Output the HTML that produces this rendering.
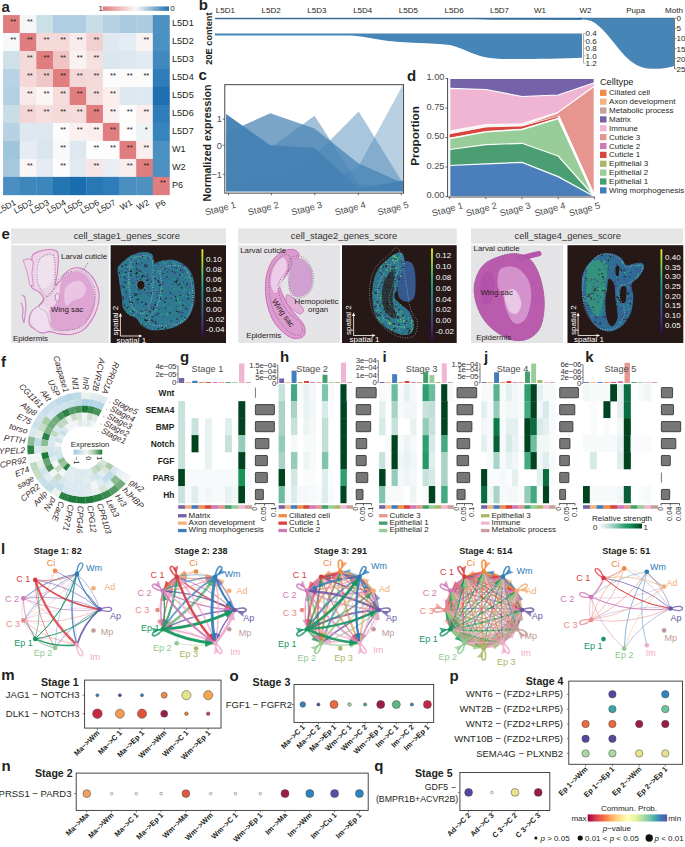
<!DOCTYPE html>
<html><head><meta charset="utf-8"><style>
*{margin:0;padding:0}
html,body{width:685px;height:847px;overflow:hidden;background:#fff}
svg{display:block;font-family:"Liberation Sans",sans-serif}
text{fill:#231f20}
.lab{font-size:15px;font-weight:bold;fill:#231f20}
.t9{font-size:9.3px}
.t8{font-size:8px}
.t7{font-size:7px}
.t6{font-size:6.5px}
.st{font-size:7.5px;fill:#222}
.b8{font-size:9.2px;font-weight:bold}
.b9{font-size:9px;font-weight:bold}
.b11{font-size:10.7px;font-weight:bold}
.t9g{font-size:9.3px;fill:#4d4d4d}
.t10g{font-size:9.8px;fill:#4d4d4d}
.t8g{font-size:8px;fill:#4d4d4d}
.gi{font-size:8.4px;font-style:italic;fill:#3a2a2a}
.t78{font-size:7.8px}
.t8c{font-size:7.8px;fill:#333;letter-spacing:-0.25px}
.t91{font-size:9.2px;fill:#4d4d4d}
.b84{font-size:8.4px;font-weight:bold}
.nl{font-size:9px}
.b91{font-size:9.1px;font-weight:bold}
.b75{font-size:7.4px;font-weight:bold}
.t88{font-size:8.8px}
.b105{font-size:10.6px;font-weight:bold}
.t83{font-size:8.4px}
.t95{font-size:9.5px}
.t91a{font-size:9.1px}
.t92g{font-size:9.2px;fill:#4d4d4d}
.t74{font-size:7.4px}
.t93{font-size:9.4px;fill:#333}
.t8d{font-size:7.9px;fill:#2a2020}
</style></head><body>
<svg width="685" height="847" viewBox="0 0 685 847">
<rect x="3.07" y="15.07" width="16.94" height="18.28" fill="#e07d7e"/>
<text x="13.19" y="23.67" class="st" text-anchor="middle">**</text>
<rect x="19.71" y="15.07" width="16.94" height="18.28" fill="#f4f6f8"/>
<text x="29.83" y="23.67" class="st" text-anchor="middle">**</text>
<rect x="36.35" y="15.07" width="16.94" height="18.28" fill="#cbdfe7"/>
<rect x="52.99" y="15.07" width="16.94" height="18.28" fill="#b0cee2"/>
<rect x="69.63" y="15.07" width="16.94" height="18.28" fill="#b0cee2"/>
<rect x="86.27" y="15.07" width="16.94" height="18.28" fill="#c9dde6"/>
<rect x="102.91" y="15.07" width="16.94" height="18.28" fill="#b6d2e3"/>
<rect x="119.55" y="15.07" width="16.94" height="18.28" fill="#a9c9df"/>
<rect x="136.19" y="15.07" width="16.94" height="18.28" fill="#aecce0"/>
<rect x="152.83" y="15.07" width="16.94" height="18.28" fill="#4d91c1"/>
<rect x="3.07" y="33.05" width="16.94" height="18.28" fill="#f7f8fa"/>
<text x="13.19" y="41.65" class="st" text-anchor="middle">**</text>
<rect x="19.71" y="33.05" width="16.94" height="18.28" fill="#e07d7e"/>
<text x="29.83" y="41.65" class="st" text-anchor="middle">**</text>
<rect x="36.35" y="33.05" width="16.94" height="18.28" fill="#f5d8d8"/>
<text x="46.47" y="41.65" class="st" text-anchor="middle">**</text>
<rect x="52.99" y="33.05" width="16.94" height="18.28" fill="#f5d8d8"/>
<text x="63.11" y="41.65" class="st" text-anchor="middle">**</text>
<rect x="69.63" y="33.05" width="16.94" height="18.28" fill="#f8ecec"/>
<text x="79.75" y="41.65" class="st" text-anchor="middle">**</text>
<rect x="86.27" y="33.05" width="16.94" height="18.28" fill="#f3d0d0"/>
<text x="96.39" y="41.65" class="st" text-anchor="middle">**</text>
<rect x="102.91" y="33.05" width="16.94" height="18.28" fill="#dfe8f0"/>
<rect x="119.55" y="33.05" width="16.94" height="18.28" fill="#e5edf4"/>
<rect x="136.19" y="33.05" width="16.94" height="18.28" fill="#faf3f3"/>
<text x="146.31" y="41.65" class="st" text-anchor="middle">**</text>
<rect x="152.83" y="33.05" width="16.94" height="18.28" fill="#4a90c1"/>
<rect x="3.07" y="51.03" width="16.94" height="18.28" fill="#cfe0e7"/>
<rect x="19.71" y="51.03" width="16.94" height="18.28" fill="#f5dada"/>
<text x="29.83" y="59.63" class="st" text-anchor="middle">**</text>
<rect x="36.35" y="51.03" width="16.94" height="18.28" fill="#e07d7e"/>
<text x="46.47" y="59.63" class="st" text-anchor="middle">**</text>
<rect x="52.99" y="51.03" width="16.94" height="18.28" fill="#f0c4c4"/>
<text x="63.11" y="59.63" class="st" text-anchor="middle">**</text>
<rect x="69.63" y="51.03" width="16.94" height="18.28" fill="#faf1f1"/>
<text x="79.75" y="59.63" class="st" text-anchor="middle">**</text>
<rect x="86.27" y="51.03" width="16.94" height="18.28" fill="#f7e0e0"/>
<text x="96.39" y="59.63" class="st" text-anchor="middle">**</text>
<rect x="102.91" y="51.03" width="16.94" height="18.28" fill="#dbe7ef"/>
<rect x="119.55" y="51.03" width="16.94" height="18.28" fill="#dde8ef"/>
<rect x="136.19" y="51.03" width="16.94" height="18.28" fill="#e3ebf2"/>
<rect x="152.83" y="51.03" width="16.94" height="18.28" fill="#3f89be"/>
<rect x="3.07" y="69.01" width="16.94" height="18.28" fill="#b8d3e4"/>
<rect x="19.71" y="69.01" width="16.94" height="18.28" fill="#f5d9d9"/>
<text x="29.83" y="77.61" class="st" text-anchor="middle">**</text>
<rect x="36.35" y="69.01" width="16.94" height="18.28" fill="#f0c7c7"/>
<text x="46.47" y="77.61" class="st" text-anchor="middle">**</text>
<rect x="52.99" y="69.01" width="16.94" height="18.28" fill="#e07d7e"/>
<text x="63.11" y="77.61" class="st" text-anchor="middle">**</text>
<rect x="69.63" y="69.01" width="16.94" height="18.28" fill="#f4d7d7"/>
<text x="79.75" y="77.61" class="st" text-anchor="middle">**</text>
<rect x="86.27" y="69.01" width="16.94" height="18.28" fill="#f4d9d9"/>
<text x="96.39" y="77.61" class="st" text-anchor="middle">**</text>
<rect x="102.91" y="69.01" width="16.94" height="18.28" fill="#fbfbfb"/>
<text x="113.03" y="77.61" class="st" text-anchor="middle">**</text>
<rect x="119.55" y="69.01" width="16.94" height="18.28" fill="#fbfbfb"/>
<text x="129.67" y="77.61" class="st" text-anchor="middle">**</text>
<rect x="136.19" y="69.01" width="16.94" height="18.28" fill="#fbfbfb"/>
<text x="146.31" y="77.61" class="st" text-anchor="middle">**</text>
<rect x="152.83" y="69.01" width="16.94" height="18.28" fill="#2f7db8"/>
<rect x="3.07" y="86.99" width="16.94" height="18.28" fill="#b3cfe2"/>
<rect x="19.71" y="86.99" width="16.94" height="18.28" fill="#f8eaea"/>
<text x="29.83" y="95.59" class="st" text-anchor="middle">**</text>
<rect x="36.35" y="86.99" width="16.94" height="18.28" fill="#fbf5f5"/>
<text x="46.47" y="95.59" class="st" text-anchor="middle">**</text>
<rect x="52.99" y="86.99" width="16.94" height="18.28" fill="#f5dddd"/>
<text x="63.11" y="95.59" class="st" text-anchor="middle">**</text>
<rect x="69.63" y="86.99" width="16.94" height="18.28" fill="#e07d7e"/>
<text x="79.75" y="95.59" class="st" text-anchor="middle">**</text>
<rect x="86.27" y="86.99" width="16.94" height="18.28" fill="#f5dcdc"/>
<text x="96.39" y="95.59" class="st" text-anchor="middle">**</text>
<rect x="102.91" y="86.99" width="16.94" height="18.28" fill="#faeeee"/>
<text x="113.03" y="95.59" class="st" text-anchor="middle">**</text>
<rect x="119.55" y="86.99" width="16.94" height="18.28" fill="#dee8f0"/>
<rect x="136.19" y="86.99" width="16.94" height="18.28" fill="#dde8f0"/>
<rect x="152.83" y="86.99" width="16.94" height="18.28" fill="#1f6fb0"/>
<rect x="3.07" y="104.97" width="16.94" height="18.28" fill="#c9dde6"/>
<rect x="19.71" y="104.97" width="16.94" height="18.28" fill="#f4d5d5"/>
<text x="29.83" y="113.57" class="st" text-anchor="middle">**</text>
<rect x="36.35" y="104.97" width="16.94" height="18.28" fill="#f6dede"/>
<text x="46.47" y="113.57" class="st" text-anchor="middle">**</text>
<rect x="52.99" y="104.97" width="16.94" height="18.28" fill="#f5dada"/>
<text x="63.11" y="113.57" class="st" text-anchor="middle">**</text>
<rect x="69.63" y="104.97" width="16.94" height="18.28" fill="#f5dcdc"/>
<text x="79.75" y="113.57" class="st" text-anchor="middle">**</text>
<rect x="86.27" y="104.97" width="16.94" height="18.28" fill="#e07d7e"/>
<text x="96.39" y="113.57" class="st" text-anchor="middle">**</text>
<rect x="102.91" y="104.97" width="16.94" height="18.28" fill="#faeeee"/>
<text x="113.03" y="113.57" class="st" text-anchor="middle">**</text>
<rect x="119.55" y="104.97" width="16.94" height="18.28" fill="#fdfdfd"/>
<text x="129.67" y="113.57" class="st" text-anchor="middle">**</text>
<rect x="136.19" y="104.97" width="16.94" height="18.28" fill="#faeeee"/>
<text x="146.31" y="113.57" class="st" text-anchor="middle">**</text>
<rect x="152.83" y="104.97" width="16.94" height="18.28" fill="#2e7db8"/>
<rect x="3.07" y="122.95" width="16.94" height="18.28" fill="#b7d2e3"/>
<rect x="19.71" y="122.95" width="16.94" height="18.28" fill="#dfe8f0"/>
<rect x="36.35" y="122.95" width="16.94" height="18.28" fill="#dce7ee"/>
<rect x="52.99" y="122.95" width="16.94" height="18.28" fill="#fcfcfc"/>
<text x="63.11" y="131.55" class="st" text-anchor="middle">**</text>
<rect x="69.63" y="122.95" width="16.94" height="18.28" fill="#faf0f0"/>
<text x="79.75" y="131.55" class="st" text-anchor="middle">**</text>
<rect x="86.27" y="122.95" width="16.94" height="18.28" fill="#faeeee"/>
<text x="96.39" y="131.55" class="st" text-anchor="middle">**</text>
<rect x="102.91" y="122.95" width="16.94" height="18.28" fill="#e07d7e"/>
<text x="113.03" y="131.55" class="st" text-anchor="middle">**</text>
<rect x="119.55" y="122.95" width="16.94" height="18.28" fill="#fdfdfd"/>
<text x="129.67" y="131.55" class="st" text-anchor="middle">**</text>
<rect x="136.19" y="122.95" width="16.94" height="18.28" fill="#eef3f6"/>
<text x="146.31" y="131.55" class="st" text-anchor="middle">*</text>
<rect x="152.83" y="122.95" width="16.94" height="18.28" fill="#3584bb"/>
<rect x="3.07" y="140.93" width="16.94" height="18.28" fill="#9fc4dc"/>
<rect x="19.71" y="140.93" width="16.94" height="18.28" fill="#e5ecf3"/>
<rect x="36.35" y="140.93" width="16.94" height="18.28" fill="#dae6ee"/>
<rect x="52.99" y="140.93" width="16.94" height="18.28" fill="#f8f9fa"/>
<text x="63.11" y="149.53" class="st" text-anchor="middle">**</text>
<rect x="69.63" y="140.93" width="16.94" height="18.28" fill="#dfe8f0"/>
<rect x="86.27" y="140.93" width="16.94" height="18.28" fill="#fdfdfd"/>
<text x="96.39" y="149.53" class="st" text-anchor="middle">**</text>
<rect x="102.91" y="140.93" width="16.94" height="18.28" fill="#fdfdfd"/>
<text x="113.03" y="149.53" class="st" text-anchor="middle">**</text>
<rect x="119.55" y="140.93" width="16.94" height="18.28" fill="#e07d7e"/>
<text x="129.67" y="149.53" class="st" text-anchor="middle">**</text>
<rect x="136.19" y="140.93" width="16.94" height="18.28" fill="#faeeee"/>
<text x="146.31" y="149.53" class="st" text-anchor="middle">**</text>
<rect x="152.83" y="140.93" width="16.94" height="18.28" fill="#4a90c0"/>
<rect x="3.07" y="158.91" width="16.94" height="18.28" fill="#a6c8de"/>
<rect x="19.71" y="158.91" width="16.94" height="18.28" fill="#faf6f6"/>
<text x="29.83" y="167.51" class="st" text-anchor="middle">**</text>
<rect x="36.35" y="158.91" width="16.94" height="18.28" fill="#e4ebf2"/>
<rect x="52.99" y="158.91" width="16.94" height="18.28" fill="#fcfcfc"/>
<text x="63.11" y="167.51" class="st" text-anchor="middle">**</text>
<rect x="69.63" y="158.91" width="16.94" height="18.28" fill="#e1e9f1"/>
<rect x="86.27" y="158.91" width="16.94" height="18.28" fill="#f8e6e6"/>
<text x="96.39" y="167.51" class="st" text-anchor="middle">**</text>
<rect x="102.91" y="158.91" width="16.94" height="18.28" fill="#e8eef3"/>
<rect x="119.55" y="158.91" width="16.94" height="18.28" fill="#faeeee"/>
<text x="129.67" y="167.51" class="st" text-anchor="middle">**</text>
<rect x="136.19" y="158.91" width="16.94" height="18.28" fill="#e07d7e"/>
<text x="146.31" y="167.51" class="st" text-anchor="middle">**</text>
<rect x="152.83" y="158.91" width="16.94" height="18.28" fill="#4b90c1"/>
<rect x="3.07" y="176.89" width="16.94" height="18.28" fill="#4a8fc0"/>
<rect x="19.71" y="176.89" width="16.94" height="18.28" fill="#3d87bd"/>
<rect x="36.35" y="176.89" width="16.94" height="18.28" fill="#3a86bd"/>
<rect x="52.99" y="176.89" width="16.94" height="18.28" fill="#2575b2"/>
<rect x="69.63" y="176.89" width="16.94" height="18.28" fill="#1a6daf"/>
<rect x="86.27" y="176.89" width="16.94" height="18.28" fill="#2778b5"/>
<rect x="102.91" y="176.89" width="16.94" height="18.28" fill="#2f7db8"/>
<rect x="119.55" y="176.89" width="16.94" height="18.28" fill="#4a8fc0"/>
<rect x="136.19" y="176.89" width="16.94" height="18.28" fill="#4d91c1"/>
<rect x="152.83" y="176.89" width="16.94" height="18.28" fill="#e07d7e"/>
<text x="162.95" y="185.49" class="st" text-anchor="middle">**</text>
<text x="172" y="26.17" class="t91a">L5D1</text>
<text x="172" y="44.15" class="t91a">L5D2</text>
<text x="172" y="62.13" class="t91a">L5D3</text>
<text x="172" y="80.11" class="t91a">L5D4</text>
<text x="172" y="98.09" class="t91a">L5D5</text>
<text x="172" y="116.07" class="t91a">L5D6</text>
<text x="172" y="134.05" class="t91a">L5D7</text>
<text x="172" y="152.03" class="t91a">W1</text>
<text x="172" y="170.01" class="t91a">W2</text>
<text x="172" y="187.99" class="t91a">P6</text>
<text transform="translate(16.59,204.3) rotate(-29)" text-anchor="end" class="t83">L5D1</text>
<text transform="translate(33.23,204.3) rotate(-29)" text-anchor="end" class="t83">L5D2</text>
<text transform="translate(49.87,204.3) rotate(-29)" text-anchor="end" class="t83">L5D3</text>
<text transform="translate(66.51,204.3) rotate(-29)" text-anchor="end" class="t83">L5D4</text>
<text transform="translate(83.15,204.3) rotate(-29)" text-anchor="end" class="t83">L5D5</text>
<text transform="translate(99.79,204.3) rotate(-29)" text-anchor="end" class="t83">L5D6</text>
<text transform="translate(116.43,204.3) rotate(-29)" text-anchor="end" class="t83">L5D7</text>
<text transform="translate(133.07,204.3) rotate(-29)" text-anchor="end" class="t83">W1</text>
<text transform="translate(149.71,204.3) rotate(-29)" text-anchor="end" class="t83">W2</text>
<text transform="translate(166.35,204.3) rotate(-29)" text-anchor="end" class="t83">P6</text>
<defs><linearGradient id="cba" x1="0" x2="1"><stop offset="0" stop-color="#df7b7c"/><stop offset="0.5" stop-color="#fbf8f8"/><stop offset="1" stop-color="#2470ab"/></linearGradient></defs>
<rect x="102.8" y="6.4" width="66.2" height="4.5" fill="url(#cba)"/>
<text x="98.6" y="11" class="t8">1</text><text x="170.3" y="11" class="t8">0</text>
<text x="225.3" y="13.4" class="t8" text-anchor="middle">L5D1</text>
<text x="271.1" y="13.4" class="t8" text-anchor="middle">L5D2</text>
<text x="316.9" y="13.4" class="t8" text-anchor="middle">L5D3</text>
<text x="362.7" y="13.4" class="t8" text-anchor="middle">L5D4</text>
<text x="408.3" y="13.4" class="t8" text-anchor="middle">L5D5</text>
<text x="454.1" y="13.4" class="t8" text-anchor="middle">L5D6</text>
<text x="499.5" y="13.4" class="t8" text-anchor="middle">L5D7</text>
<text x="540" y="13.4" class="t8" text-anchor="middle">W1</text>
<text x="585.4" y="13.4" class="t8" text-anchor="middle">W2</text>
<text x="635.6" y="13.4" class="t8" text-anchor="middle">Pupa</text>
<text x="674" y="13.4" class="t8" text-anchor="middle">Moth</text>
<path d="M215,18.3 L455,18.3 C470,18.3 480,19.6 500,19.8 L582,20 L582,18.3 Z" fill="#4785b6"/>
<path d="M215,18.5 L582,18.5" stroke="#3a6d96" stroke-width="1.6"/>
<path d="M215,33.4 L582,33.4 L582,57.8 C565,58.8 540,59 510,59 C498,59 492,58.5 484,57 C472,54 462,48 450,45 C440,43.8 430,43.5 418,43 C405,42.5 395,41.8 385,40.5 C372,38.5 362,36 350,35.5 L215,35.6 Z" fill="#4785b6"/>
<path d="M583.5,33.4 L583.5,63.2" stroke="#999" stroke-width="0.8"/>
<path d="M583.5,33.4 L585.5,33.4" stroke="#999" stroke-width="0.6"/>
<text x="585.5" y="36.3" class="t8">0.4</text>
<path d="M583.5,40.9 L585.5,40.9" stroke="#999" stroke-width="0.6"/>
<text x="585.5" y="43.8" class="t8">0.6</text>
<path d="M583.5,48.3 L585.5,48.3" stroke="#999" stroke-width="0.6"/>
<text x="585.5" y="51.2" class="t8">0.8</text>
<path d="M583.5,55.8 L585.5,55.8" stroke="#999" stroke-width="0.6"/>
<text x="585.5" y="58.6" class="t8">1.0</text>
<path d="M583.5,63.2 L585.5,63.2" stroke="#999" stroke-width="0.6"/>
<text x="585.5" y="66.1" class="t8">1.2</text>
<path d="M578,18.3 L674,18.3 L674,66 C668,68 662,68.8 652,68.8 C640,68.5 632,63 625,56 C615,45 605,30 595,23 C590,20 586,19.4 578,19.3 Z" fill="#4785b6"/>
<path d="M578,18.3 L674,18.3" stroke="#3d6f96" stroke-width="1"/>
<path d="M674.5,18.3 L674.5,69" stroke="#555" stroke-width="0.8"/>
<path d="M674.5,18.3 L676.5,18.3" stroke="#555" stroke-width="0.6"/>
<text x="676.5" y="21.2" class="t8">0</text>
<path d="M674.5,28.4 L676.5,28.4" stroke="#555" stroke-width="0.6"/>
<text x="676.5" y="31.3" class="t8">5</text>
<path d="M674.5,38.5 L676.5,38.5" stroke="#555" stroke-width="0.6"/>
<text x="676.5" y="41.4" class="t8">10</text>
<path d="M674.5,48.6 L676.5,48.6" stroke="#555" stroke-width="0.6"/>
<text x="676.5" y="51.5" class="t8">15</text>
<path d="M674.5,58.7 L676.5,58.7" stroke="#555" stroke-width="0.6"/>
<text x="676.5" y="61.6" class="t8">20</text>
<path d="M674.5,68.8 L676.5,68.8" stroke="#555" stroke-width="0.6"/>
<text x="676.5" y="71.7" class="t8">25</text>
<text transform="translate(212.4,38.6) rotate(-90)" text-anchor="middle" class="b8">20E content</text>
<polygon points="226.1,191.2 226.1,186 270.3,189 314.5,190 358.7,166.3 402.9,84.8 402.9,191.2" fill="#4682b4" fill-opacity="0.38"/>
<polygon points="226.1,191.2 226.1,180 270.3,178 314.5,156 358.7,111.6 402.9,183 402.9,191.2" fill="#4682b4" fill-opacity="0.46"/>
<polygon points="226.1,191.2 226.1,172 270.3,148 314.5,115.7 358.7,184 402.9,188 402.9,191.2" fill="#4682b4" fill-opacity="0.5"/>
<polygon points="226.1,191.2 226.1,133 270.3,113.3 314.5,128.5 358.7,163.5 402.9,183 402.9,191.2" fill="#4682b4" fill-opacity="0.72"/>
<polygon points="226.1,191.2 226.1,113.9 270.3,145.3 314.5,147.7 358.7,189 402.9,180.4 402.9,191.2" fill="#4682b4" fill-opacity="0.97"/>
<rect x="224.8" y="84.7" width="178.8" height="108.4" fill="none" stroke="#333" stroke-width="0.9"/>
<path d="M222.6,119.1 L224.8,119.1" stroke="#333" stroke-width="0.7"/>
<text x="222" y="122.4" class="t9g" text-anchor="end">1</text>
<path d="M222.6,145.3 L224.8,145.3" stroke="#333" stroke-width="0.7"/>
<text x="222" y="148.6" class="t9g" text-anchor="end">0</text>
<path d="M222.6,174.2 L224.8,174.2" stroke="#333" stroke-width="0.7"/>
<text x="222" y="177.5" class="t9g" text-anchor="end">−1</text>
<path d="M228.5,193.1 L228.5,195.3" stroke="#333" stroke-width="0.7"/>
<text transform="translate(236.5,207.4) rotate(-15)" text-anchor="end" class="t92g">Stage 1</text>
<path d="M271.4,193.1 L271.4,195.3" stroke="#333" stroke-width="0.7"/>
<text transform="translate(279.4,207.4) rotate(-15)" text-anchor="end" class="t92g">Stage 2</text>
<path d="M314.8,193.1 L314.8,195.3" stroke="#333" stroke-width="0.7"/>
<text transform="translate(322.8,207.4) rotate(-15)" text-anchor="end" class="t92g">Stage 3</text>
<path d="M358.3,193.1 L358.3,195.3" stroke="#333" stroke-width="0.7"/>
<text transform="translate(366.3,207.4) rotate(-15)" text-anchor="end" class="t92g">Stage 4</text>
<path d="M401.2,193.1 L401.2,195.3" stroke="#333" stroke-width="0.7"/>
<text transform="translate(409.2,207.4) rotate(-15)" text-anchor="end" class="t92g">Stage 5</text>
<text transform="translate(210.8,143) rotate(-90)" text-anchor="middle" class="b11">Normalized expression</text>
<polygon points="449.7,196.5 449.7,78.5 485.85,78.5 522,78.5 558.15,78.5 594.3,78.5 594.3,196.5" fill="#7463a8" stroke="#fff" stroke-width="1.2" stroke-linejoin="round"/>
<polygon points="449.7,196.5 449.7,88.3 485.85,89.5 522,96.5 558.15,95 594.3,82.8 594.3,196.5" fill="#efb5d2" stroke="#fff" stroke-width="1.2" stroke-linejoin="round"/>
<polygon points="449.7,196.5 449.7,131.2 485.85,124.6 522,123.9 558.15,112.2 594.3,86.3 594.3,196.5" fill="#e6958f" stroke="#fff" stroke-width="1.2" stroke-linejoin="round"/>
<polygon points="449.7,196.5 449.7,134.1 485.85,127.2 522,126.2 558.15,116.8 594.3,196.5 594.3,196.5" fill="#d9443f" stroke="#fff" stroke-width="1.2" stroke-linejoin="round"/>
<polygon points="449.7,196.5 449.7,137.9 485.85,131.2 522,128.9 558.15,118.2 594.3,196.5 594.3,196.5" fill="#a8b866" stroke="#fff" stroke-width="1.2" stroke-linejoin="round"/>
<polygon points="449.7,196.5 449.7,138.6 485.85,131.8 522,129.6 558.15,118.6 594.3,196.5 594.3,196.5" fill="#98cc98" stroke="#fff" stroke-width="1.2" stroke-linejoin="round"/>
<polygon points="449.7,196.5 449.7,149.5 485.85,144.7 522,143.3 558.15,156 594.3,196.5 594.3,196.5" fill="#4a9e72" stroke="#fff" stroke-width="1.2" stroke-linejoin="round"/>
<polygon points="449.7,196.5 449.7,165.5 485.85,163.8 522,162.4 558.15,176.6 594.3,196.5 594.3,196.5" fill="#4a7fbb" stroke="#fff" stroke-width="1.2" stroke-linejoin="round"/>
<polyline points="558.15,116 594.3,196.5" fill="none" stroke="#fff" stroke-width="2.6"/>
<polygon points="449.7,131.2 485.85,124.6 522,123.9 558.15,112.2 558.15,113.5 522,126.2 485.85,127.2 449.7,134.1" fill="#fbf6f8"/>
<polygon points="449.7,134.3 485.85,127.4 522,126.4 558.15,116.6 558.15,117.6 522,128.6 485.85,130.9 449.7,137.6" fill="#d9443f"/>
<path d="M447.6,78 L447.6,197 M447.6,197 L594.8,197" stroke="#333" stroke-width="0.9" fill="none"/>
<path d="M445.4,78.5 L447.6,78.5" stroke="#333" stroke-width="0.7"/>
<text x="444.5" y="80.4" class="t9g" text-anchor="end">1.00</text>
<path d="M445.4,108.0 L447.6,108.0" stroke="#333" stroke-width="0.7"/>
<text x="444.5" y="109.9" class="t9g" text-anchor="end">0.75</text>
<path d="M445.4,137.5 L447.6,137.5" stroke="#333" stroke-width="0.7"/>
<text x="444.5" y="139.4" class="t9g" text-anchor="end">0.50</text>
<path d="M445.4,167.0 L447.6,167.0" stroke="#333" stroke-width="0.7"/>
<text x="444.5" y="168.9" class="t9g" text-anchor="end">0.25</text>
<path d="M445.4,196.5 L447.6,196.5" stroke="#333" stroke-width="0.7"/>
<text x="444.5" y="198.4" class="t9g" text-anchor="end">0.00</text>
<path d="M449.7,197 L449.7,199.2" stroke="#333" stroke-width="0.7"/>
<text transform="translate(463.4,208.3) rotate(-15)" text-anchor="end" class="t92g">Stage 1</text>
<path d="M485.85,197 L485.85,199.2" stroke="#333" stroke-width="0.7"/>
<text transform="translate(497.5,208.3) rotate(-15)" text-anchor="end" class="t92g">Stage 2</text>
<path d="M522,197 L522,199.2" stroke="#333" stroke-width="0.7"/>
<text transform="translate(531.3,208.3) rotate(-15)" text-anchor="end" class="t92g">Stage 3</text>
<path d="M558.15,197 L558.15,199.2" stroke="#333" stroke-width="0.7"/>
<text transform="translate(566,208.3) rotate(-15)" text-anchor="end" class="t92g">Stage 4</text>
<path d="M594.3,197 L594.3,199.2" stroke="#333" stroke-width="0.7"/>
<text transform="translate(600.7,208.3) rotate(-15)" text-anchor="end" class="t92g">Stage 5</text>
<text transform="translate(419.2,136) rotate(-90)" text-anchor="middle" class="b11" style="font-size:11.7px">Proportion</text>
<text x="599.9" y="85" class="t9">Celltype</text>
<rect x="600" y="89.70" width="6.5" height="6.2" fill="#f08c4a"/>
<text x="609.1" y="95.30" class="t8">Ciliated cell</text>
<rect x="600" y="98.57" width="6.5" height="6.2" fill="#f3b27e"/>
<text x="609.1" y="104.17" class="t8">Axon development</text>
<rect x="600" y="107.44" width="6.5" height="6.2" fill="#c6a09e"/>
<text x="609.1" y="113.04" class="t8">Metabolic process</text>
<rect x="600" y="116.31" width="6.5" height="6.2" fill="#7463a8"/>
<text x="609.1" y="121.91" class="t8">Matrix</text>
<rect x="600" y="125.18" width="6.5" height="6.2" fill="#efb5d2"/>
<text x="609.1" y="130.78" class="t8">Immune</text>
<rect x="600" y="134.05" width="6.5" height="6.2" fill="#e6958f"/>
<text x="609.1" y="139.65" class="t8">Cuticle 3</text>
<rect x="600" y="142.92" width="6.5" height="6.2" fill="#cd7ab8"/>
<text x="609.1" y="148.52" class="t8">Cuticle 2</text>
<rect x="600" y="151.79" width="6.5" height="6.2" fill="#d9443f"/>
<text x="609.1" y="157.39" class="t8">Cuticle 1</text>
<rect x="600" y="160.66" width="6.5" height="6.2" fill="#a8b866"/>
<text x="609.1" y="166.26" class="t8">Epithelial 3</text>
<rect x="600" y="169.53" width="6.5" height="6.2" fill="#98cc98"/>
<text x="609.1" y="175.13" class="t8">Epithelial 2</text>
<rect x="600" y="178.40" width="6.5" height="6.2" fill="#43a06e"/>
<text x="609.1" y="184.00" class="t8">Epithelial 1</text>
<rect x="600" y="187.27" width="6.5" height="6.2" fill="#3f7dbf"/>
<text x="609.1" y="192.87" class="t8">Wing morphogenesis</text>
<defs><linearGradient id="vir" x1="0" y1="1" x2="0" y2="0"><stop offset="0.000" stop-color="#440154"/><stop offset="0.111" stop-color="#482878"/><stop offset="0.222" stop-color="#3e4989"/><stop offset="0.333" stop-color="#31688e"/><stop offset="0.444" stop-color="#26828e"/><stop offset="0.556" stop-color="#1f9e89"/><stop offset="0.667" stop-color="#35b779"/><stop offset="0.778" stop-color="#6ece58"/><stop offset="0.889" stop-color="#b5de2b"/><stop offset="1.000" stop-color="#fde725"/></linearGradient></defs>
<rect x="11" y="228.4" width="215.0" height="15.3" fill="#e6e6e6"/>
<text x="126.8" y="239.3" class="t93" text-anchor="middle">cell_stage1_genes_score</text>
<rect x="238.1" y="228.4" width="218.6" height="15.3" fill="#e6e6e6"/>
<text x="344" y="239.3" class="t93" text-anchor="middle">cell_stage2_genes_score</text>
<rect x="471" y="228.4" width="212.3" height="15.3" fill="#e6e6e6"/>
<text x="567.7" y="239.3" class="t93" text-anchor="middle">cell_stage4_genes_score</text>
<rect x="11.2" y="245.2" width="97.6" height="97.8" fill="#e4e3e6"/>
<rect x="238.3" y="245.2" width="101.6" height="97.8" fill="#e4e3e6"/>
<rect x="471" y="245.2" width="92.0" height="97.8" fill="#e4e3e6"/>
<rect x="110.6" y="245.2" width="115.4" height="97.8" fill="#261816"/>
<rect x="342" y="245.2" width="114.7" height="97.8" fill="#261816"/>
<rect x="567.5" y="245.2" width="115.8" height="97.8" fill="#261816"/>
<path d="M33.4,254.2 C35.8,252.5 42.8,250.4 46.5,249.8 C50.1,249.2 53.3,249.6 55.3,250.6 C57.2,251.5 57.8,251.9 58.2,255.7 C58.5,259.5 57.9,268.3 57.4,273.2 C57.0,278.1 54.8,283.7 55.3,284.9 C55.7,286.1 58.7,282.4 60.4,280.5 C62.1,278.5 63.6,275.1 65.5,273.2 C67.3,271.3 68.9,269.7 71.3,268.8 C73.7,268.0 77.2,267.4 80.1,268.1 C83.0,268.8 86.3,270.9 88.8,273.2 C91.4,275.5 93.7,278.5 95.4,282.0 C97.1,285.4 98.7,289.5 99.1,293.6 C99.4,297.8 98.8,302.4 97.6,306.8 C96.4,311.2 94.2,316.0 91.8,319.9 C89.3,323.8 86.4,327.7 83.0,330.1 C79.6,332.6 75.5,333.9 71.3,334.5 C67.2,335.1 61.8,334.3 58.2,333.8 C54.5,333.3 52.1,331.7 49.4,331.6 C46.7,331.5 44.3,333.3 42.1,333.1 C39.9,332.8 38.2,331.3 36.3,330.1 C34.3,328.9 31.7,327.5 30.4,325.8 C29.2,324.0 28.7,322.3 29.0,319.9 C29.2,317.5 30.2,313.6 31.9,311.2 C33.6,308.7 37.3,307.3 39.2,305.3 C41.1,303.4 43.6,301.7 43.6,299.5 C43.6,297.3 41.1,294.1 39.2,292.2 C37.3,290.2 33.4,289.7 31.9,287.8 C30.4,285.8 30.6,283.4 30.4,280.5 C30.3,277.6 30.9,273.7 31.2,270.3 C31.4,266.9 31.5,262.7 31.9,260.1 C32.3,257.4 30.9,255.9 33.4,254.2 Z" fill="#ecd3e8" stroke="#cf7cbf" stroke-width="1.1"/>
<path d="M68.4,273.2 C72.0,271.7 78.9,270.8 83.0,273.2 C87.1,275.6 91.3,282.4 93.2,287.8 C95.2,293.1 95.9,299.5 94.7,305.3 C93.5,311.2 89.8,318.7 85.9,322.8 C82.0,327.0 76.7,329.2 71.3,330.1 C66.0,331.1 57.7,331.3 53.8,328.7 C49.9,326.0 47.2,318.9 48.0,314.1 C48.7,309.2 56.0,304.8 58.2,299.5 C60.4,294.1 59.4,286.3 61.1,282.0 C62.8,277.6 64.7,274.7 68.4,273.2 Z" fill="#dea4d2"/>
<path d="M65.5,287.8 C67.7,283.7 75.2,280.5 78.6,280.5 C82.0,280.5 85.2,285.1 85.9,287.8 C86.6,290.5 85.2,294.4 83.0,296.6 C80.8,298.7 75.7,299.5 72.8,300.9 C69.9,302.4 66.7,307.5 65.5,305.3 C64.3,303.1 63.3,291.9 65.5,287.8 Z" fill="#eccae6" opacity="0.85"/>
<path d="M37.7,261.5 C40.2,258.1 48.2,254.7 50.9,255.7 C53.6,256.7 53.8,262.7 53.8,267.4 C53.8,272.0 52.8,280.0 50.9,283.4 C48.9,286.8 44.5,289.0 42.1,287.8 C39.7,286.6 37.0,280.5 36.3,276.1 C35.5,271.7 35.3,264.9 37.7,261.5 Z" fill="#f1e2ef" opacity="0.9"/>
<path d="M31.9,312.6 C33.6,309.7 39.2,305.3 42.1,305.3 C45.0,305.3 48.2,308.7 49.4,312.6 C50.6,316.5 51.1,325.5 49.4,328.7 C47.7,331.8 42.1,332.6 39.2,331.6 C36.3,330.6 33.1,326.0 31.9,322.8 C30.7,319.7 30.2,315.5 31.9,312.6 Z" fill="#f0dfee" opacity="0.9"/>
<ellipse cx="57.4" cy="297.3" rx="2.2" ry="4" fill="#e4e3e6" stroke="#c56db2" stroke-width="0.8"/>
<path d="M21.7,295.1 L24.6,296.6 L26.1,305.3 L25.3,314.1 L23.9,322.8 L22.4,317.0 L23.1,308.2 L20.9,302.4" fill="none" stroke="#d48cc6" stroke-width="1.2"/>
<path d="M23.1,260.1 L29.0,258.6 L33.4,261.5 L31.9,273.2 L33.4,286.3 L29.7,284.9 L27.5,273.2 L24.6,264.4 Z" fill="#eed8eb" stroke="#d07fc0" stroke-width="0.8"/>
<path d="M71.3,271.7 C74.7,271.1 79.6,270.0 83.0,271.7 C86.4,273.4 89.7,278.1 91.8,282.0 C93.8,285.8 95.4,290.2 95.4,295.1 C95.4,300.0 93.8,306.0 91.8,311.2 C89.7,316.3 86.9,322.6 83.0,325.8 C79.1,328.9 73.5,329.6 68.4,330.1 C63.3,330.6 56.0,331.6 52.3,328.7 C48.7,325.8 48.7,316.3 46.5,312.6 C44.3,309.0 39.2,309.5 39.2,306.8 C39.2,304.1 43.8,299.7 46.5,296.6 C49.2,293.4 53.3,290.5 55.3,287.8 C57.2,285.1 57.0,282.6 58.2,280.5 C59.4,278.4 60.4,276.8 62.6,275.4 C64.7,273.9 67.9,272.3 71.3,271.7 Z" fill="none" stroke="#333" stroke-width="0.6" stroke-dasharray="0.8,1.6"/>
<path d="M39.2,260.1 C41.6,255.4 49.7,253.0 52.3,254.2 C55.0,255.4 55.0,261.8 55.3,267.4 C55.5,273.0 55.3,282.9 53.8,287.8 C52.3,292.7 49.2,297.5 46.5,296.6 C43.8,295.6 39.0,288.0 37.7,282.0 C36.5,275.9 36.8,264.7 39.2,260.1 Z" fill="none" stroke="#333" stroke-width="0.6" stroke-dasharray="0.8,1.6"/>
<path d="M88,263 L83.6,269.2" stroke="#333" stroke-width="0.6" stroke-dasharray="1,1"/>
<text x="61.1" y="259.3" class="t8d">Larval cuticle</text>
<text x="50.8" y="312.3" class="t8d">Wing sac</text>
<text x="12.9" y="340.6" class="t8d">Epidermis</text>
<clipPath id="cp1"><path d="M118.0,267.6 C119.3,264.2 123.8,260.7 126.6,258.4 C129.4,256.1 131.8,255.0 134.7,253.9 C137.6,252.8 141.0,251.8 143.9,251.9 C146.8,251.9 150.3,252.5 152.1,254.3 C153.9,256.1 153.2,261.4 154.8,262.5 C156.3,263.6 158.2,261.3 161.3,260.8 C164.4,260.4 169.7,259.3 173.6,260.0 C177.5,260.7 181.8,262.7 184.8,264.9 C187.8,267.2 189.9,270.0 191.6,273.7 C193.2,277.4 194.2,282.1 194.6,287.0 C195.0,291.9 195.0,298.4 194.0,303.4 C193.1,308.3 191.3,313.1 188.9,316.6 C186.5,320.2 183.6,322.7 179.7,324.8 C175.8,327.0 170.2,328.7 165.4,329.5 C160.6,330.4 155.0,330.5 151.1,329.9 C147.2,329.3 144.3,327.7 141.9,325.8 C139.5,324.0 139.0,320.6 136.8,318.7 C134.6,316.8 130.9,316.5 128.6,314.6 C126.3,312.7 124.0,310.0 122.9,307.4 C121.8,304.9 122.5,302.3 122.1,299.3 C121.7,296.2 121.0,292.5 120.4,289.0 C119.9,285.6 119.2,282.4 118.8,278.8 C118.4,275.3 116.7,271.0 118.0,267.6 Z"/></clipPath>
<path d="M118.0,267.6 C119.3,264.2 123.8,260.7 126.6,258.4 C129.4,256.1 131.8,255.0 134.7,253.9 C137.6,252.8 141.0,251.8 143.9,251.9 C146.8,251.9 150.3,252.5 152.1,254.3 C153.9,256.1 153.2,261.4 154.8,262.5 C156.3,263.6 158.2,261.3 161.3,260.8 C164.4,260.4 169.7,259.3 173.6,260.0 C177.5,260.7 181.8,262.7 184.8,264.9 C187.8,267.2 189.9,270.0 191.6,273.7 C193.2,277.4 194.2,282.1 194.6,287.0 C195.0,291.9 195.0,298.4 194.0,303.4 C193.1,308.3 191.3,313.1 188.9,316.6 C186.5,320.2 183.6,322.7 179.7,324.8 C175.8,327.0 170.2,328.7 165.4,329.5 C160.6,330.4 155.0,330.5 151.1,329.9 C147.2,329.3 144.3,327.7 141.9,325.8 C139.5,324.0 139.0,320.6 136.8,318.7 C134.6,316.8 130.9,316.5 128.6,314.6 C126.3,312.7 124.0,310.0 122.9,307.4 C121.8,304.9 122.5,302.3 122.1,299.3 C121.7,296.2 121.0,292.5 120.4,289.0 C119.9,285.6 119.2,282.4 118.8,278.8 C118.4,275.3 116.7,271.0 118.0,267.6 Z" fill="#2e7892"/>
<g clip-path="url(#cp1)">
<rect x="135.2" y="294.6" width="1.3" height="1.3" fill="#261816"/>
<rect x="192.9" y="288.9" width="1.3" height="1.3" fill="#3e4989"/>
<rect x="120.6" y="251.1" width="1.3" height="1.3" fill="#482878"/>
<rect x="137.0" y="269.2" width="1.3" height="1.3" fill="#482878"/>
<rect x="161.0" y="295.1" width="1.3" height="1.3" fill="#35b779"/>
<rect x="169.3" y="262.4" width="1.3" height="1.3" fill="#1f9e89"/>
<rect x="188.8" y="292.9" width="1.3" height="1.3" fill="#26828e"/>
<rect x="172.1" y="255.3" width="1.3" height="1.3" fill="#3e4989"/>
<rect x="118.6" y="314.0" width="1.3" height="1.3" fill="#261816"/>
<rect x="155.2" y="308.9" width="1.3" height="1.3" fill="#35b779"/>
<rect x="175.7" y="325.5" width="1.3" height="1.3" fill="#35b779"/>
<rect x="176.9" y="297.3" width="1.3" height="1.3" fill="#1f9e89"/>
<rect x="189.7" y="258.0" width="1.3" height="1.3" fill="#1f9e89"/>
<rect x="157.1" y="271.2" width="1.3" height="1.3" fill="#35b779"/>
<rect x="181.2" y="320.1" width="1.3" height="1.3" fill="#35b779"/>
<rect x="158.1" y="281.6" width="1.3" height="1.3" fill="#261816"/>
<rect x="160.4" y="283.4" width="1.3" height="1.3" fill="#31688e"/>
<rect x="191.9" y="305.9" width="1.3" height="1.3" fill="#26828e"/>
<rect x="187.8" y="331.3" width="1.3" height="1.3" fill="#1f9e89"/>
<rect x="174.4" y="276.8" width="1.3" height="1.3" fill="#2c8a8a"/>
<rect x="191.9" y="296.7" width="1.3" height="1.3" fill="#31688e"/>
<rect x="168.8" y="331.0" width="1.3" height="1.3" fill="#261816"/>
<rect x="139.2" y="255.2" width="1.3" height="1.3" fill="#482878"/>
<rect x="122.5" y="315.6" width="1.3" height="1.3" fill="#35b779"/>
<rect x="191.3" y="251.7" width="1.3" height="1.3" fill="#35b779"/>
<rect x="180.3" y="321.6" width="1.3" height="1.3" fill="#26828e"/>
<rect x="166.4" y="312.5" width="1.3" height="1.3" fill="#35b779"/>
<rect x="176.1" y="277.1" width="1.3" height="1.3" fill="#261816"/>
<rect x="158.0" y="331.9" width="1.3" height="1.3" fill="#261816"/>
<rect x="115.6" y="258.9" width="1.3" height="1.3" fill="#2c8a8a"/>
<rect x="117.7" y="266.2" width="1.3" height="1.3" fill="#35b779"/>
<rect x="139.8" y="271.6" width="1.3" height="1.3" fill="#26828e"/>
<rect x="198.3" y="277.9" width="1.3" height="1.3" fill="#261816"/>
<rect x="196.5" y="323.5" width="1.3" height="1.3" fill="#35b779"/>
<rect x="147.0" y="321.3" width="1.3" height="1.3" fill="#35b779"/>
<rect x="169.7" y="298.8" width="1.3" height="1.3" fill="#2c8a8a"/>
<rect x="123.7" y="329.8" width="1.3" height="1.3" fill="#2c8a8a"/>
<rect x="138.1" y="302.0" width="1.3" height="1.3" fill="#31688e"/>
<rect x="194.6" y="285.9" width="1.3" height="1.3" fill="#261816"/>
<rect x="159.3" y="295.0" width="1.3" height="1.3" fill="#26828e"/>
<rect x="182.0" y="331.0" width="1.3" height="1.3" fill="#261816"/>
<rect x="116.7" y="300.5" width="1.3" height="1.3" fill="#1f9e89"/>
<rect x="120.1" y="301.4" width="1.3" height="1.3" fill="#482878"/>
<rect x="145.0" y="325.2" width="1.3" height="1.3" fill="#3e4989"/>
<rect x="175.1" y="310.5" width="1.3" height="1.3" fill="#26828e"/>
<rect x="165.1" y="328.3" width="1.3" height="1.3" fill="#26828e"/>
<rect x="196.9" y="270.6" width="1.3" height="1.3" fill="#482878"/>
<rect x="140.4" y="299.3" width="1.3" height="1.3" fill="#1f9e89"/>
<rect x="145.9" y="275.6" width="1.3" height="1.3" fill="#261816"/>
<rect x="186.7" y="271.7" width="1.3" height="1.3" fill="#35b779"/>
<rect x="123.9" y="316.7" width="1.3" height="1.3" fill="#3e4989"/>
<rect x="173.1" y="260.8" width="1.3" height="1.3" fill="#2c8a8a"/>
<rect x="133.9" y="315.9" width="1.3" height="1.3" fill="#31688e"/>
<rect x="142.9" y="305.6" width="1.3" height="1.3" fill="#3e4989"/>
<rect x="123.7" y="276.4" width="1.3" height="1.3" fill="#261816"/>
<rect x="172.4" y="268.4" width="1.3" height="1.3" fill="#1f9e89"/>
<rect x="121.8" y="310.8" width="1.3" height="1.3" fill="#31688e"/>
<rect x="190.2" y="287.0" width="1.3" height="1.3" fill="#31688e"/>
<rect x="181.9" y="252.8" width="1.3" height="1.3" fill="#31688e"/>
<rect x="141.8" y="318.6" width="1.3" height="1.3" fill="#3e4989"/>
<rect x="130.6" y="272.8" width="1.3" height="1.3" fill="#3e4989"/>
<rect x="183.5" y="278.3" width="1.3" height="1.3" fill="#1f9e89"/>
<rect x="150.8" y="292.5" width="1.3" height="1.3" fill="#261816"/>
<rect x="154.5" y="302.0" width="1.3" height="1.3" fill="#261816"/>
<rect x="150.7" y="283.6" width="1.3" height="1.3" fill="#35b779"/>
<rect x="128.3" y="250.4" width="1.3" height="1.3" fill="#3e4989"/>
<rect x="198.9" y="285.6" width="1.3" height="1.3" fill="#31688e"/>
<rect x="117.7" y="287.4" width="1.3" height="1.3" fill="#2c8a8a"/>
<rect x="196.9" y="294.6" width="1.3" height="1.3" fill="#31688e"/>
<rect x="188.2" y="320.4" width="1.3" height="1.3" fill="#261816"/>
<rect x="125.2" y="270.1" width="1.3" height="1.3" fill="#26828e"/>
<rect x="191.8" y="306.9" width="1.3" height="1.3" fill="#31688e"/>
<rect x="191.2" y="323.8" width="1.3" height="1.3" fill="#3e4989"/>
<rect x="119.2" y="289.4" width="1.3" height="1.3" fill="#3e4989"/>
<rect x="129.6" y="274.6" width="1.3" height="1.3" fill="#26828e"/>
<rect x="159.6" y="283.9" width="1.3" height="1.3" fill="#3e4989"/>
<rect x="124.7" y="260.3" width="1.3" height="1.3" fill="#2c8a8a"/>
<rect x="155.6" y="314.2" width="1.3" height="1.3" fill="#261816"/>
<rect x="133.8" y="260.0" width="1.3" height="1.3" fill="#3e4989"/>
<rect x="129.6" y="314.9" width="1.3" height="1.3" fill="#1f9e89"/>
<rect x="185.0" y="250.6" width="1.3" height="1.3" fill="#3e4989"/>
<rect x="188.3" y="254.1" width="1.3" height="1.3" fill="#261816"/>
<rect x="136.1" y="300.7" width="1.3" height="1.3" fill="#2c8a8a"/>
<rect x="151.0" y="288.8" width="1.3" height="1.3" fill="#26828e"/>
<rect x="187.8" y="313.6" width="1.3" height="1.3" fill="#26828e"/>
<rect x="125.6" y="255.6" width="1.3" height="1.3" fill="#26828e"/>
<rect x="187.6" y="257.1" width="1.3" height="1.3" fill="#2c8a8a"/>
<rect x="156.6" y="262.9" width="1.3" height="1.3" fill="#3e4989"/>
<rect x="144.9" y="303.0" width="1.3" height="1.3" fill="#3e4989"/>
<rect x="140.9" y="271.7" width="1.3" height="1.3" fill="#261816"/>
<rect x="151.4" y="260.5" width="1.3" height="1.3" fill="#26828e"/>
<rect x="175.9" y="281.2" width="1.3" height="1.3" fill="#3e4989"/>
<rect x="163.2" y="253.5" width="1.3" height="1.3" fill="#482878"/>
<rect x="166.4" y="314.2" width="1.3" height="1.3" fill="#35b779"/>
<rect x="169.1" y="253.6" width="1.3" height="1.3" fill="#35b779"/>
<rect x="119.5" y="301.5" width="1.3" height="1.3" fill="#261816"/>
<rect x="150.7" y="306.9" width="1.3" height="1.3" fill="#482878"/>
<rect x="116.5" y="267.9" width="1.3" height="1.3" fill="#261816"/>
<rect x="174.1" y="255.9" width="1.3" height="1.3" fill="#35b779"/>
<rect x="134.1" y="260.7" width="1.3" height="1.3" fill="#26828e"/>
<rect x="194.6" y="280.7" width="1.3" height="1.3" fill="#2c8a8a"/>
<rect x="182.2" y="271.5" width="1.3" height="1.3" fill="#482878"/>
<rect x="173.7" y="327.0" width="1.3" height="1.3" fill="#2c8a8a"/>
<rect x="182.4" y="304.7" width="1.3" height="1.3" fill="#261816"/>
<rect x="162.9" y="258.5" width="1.3" height="1.3" fill="#3e4989"/>
<rect x="175.9" y="288.8" width="1.3" height="1.3" fill="#31688e"/>
<rect x="180.8" y="253.6" width="1.3" height="1.3" fill="#3e4989"/>
<rect x="163.0" y="304.1" width="1.3" height="1.3" fill="#35b779"/>
<rect x="130.2" y="251.9" width="1.3" height="1.3" fill="#3e4989"/>
<rect x="117.2" y="259.4" width="1.3" height="1.3" fill="#482878"/>
<rect x="186.1" y="328.1" width="1.3" height="1.3" fill="#3e4989"/>
<rect x="140.4" y="257.3" width="1.3" height="1.3" fill="#3e4989"/>
<rect x="158.5" y="308.6" width="1.3" height="1.3" fill="#3e4989"/>
<rect x="162.1" y="258.2" width="1.3" height="1.3" fill="#2c8a8a"/>
<rect x="120.2" y="276.6" width="1.3" height="1.3" fill="#3e4989"/>
<rect x="130.3" y="256.3" width="1.3" height="1.3" fill="#1f9e89"/>
<rect x="169.9" y="287.2" width="1.3" height="1.3" fill="#35b779"/>
<rect x="136.5" y="299.2" width="1.3" height="1.3" fill="#261816"/>
<rect x="162.3" y="329.2" width="1.3" height="1.3" fill="#35b779"/>
<rect x="157.5" y="329.8" width="1.3" height="1.3" fill="#35b779"/>
<rect x="186.7" y="329.3" width="1.3" height="1.3" fill="#35b779"/>
<rect x="173.7" y="312.0" width="1.3" height="1.3" fill="#2c8a8a"/>
<rect x="173.3" y="262.8" width="1.3" height="1.3" fill="#35b779"/>
<rect x="191.3" y="262.2" width="1.3" height="1.3" fill="#3e4989"/>
<rect x="157.3" y="289.6" width="1.3" height="1.3" fill="#2c8a8a"/>
<rect x="195.8" y="298.1" width="1.3" height="1.3" fill="#1f9e89"/>
<rect x="126.6" y="311.7" width="1.3" height="1.3" fill="#1f9e89"/>
<rect x="164.8" y="275.8" width="1.3" height="1.3" fill="#31688e"/>
<rect x="187.4" y="294.1" width="1.3" height="1.3" fill="#261816"/>
<rect x="172.1" y="320.1" width="1.3" height="1.3" fill="#3e4989"/>
<rect x="187.6" y="297.9" width="1.3" height="1.3" fill="#261816"/>
<rect x="190.6" y="275.2" width="1.3" height="1.3" fill="#261816"/>
<rect x="155.8" y="281.4" width="1.3" height="1.3" fill="#1f9e89"/>
<rect x="163.4" y="269.6" width="1.3" height="1.3" fill="#482878"/>
<rect x="180.8" y="261.8" width="1.3" height="1.3" fill="#482878"/>
<rect x="174.6" y="266.9" width="1.3" height="1.3" fill="#3e4989"/>
<rect x="185.9" y="317.4" width="1.3" height="1.3" fill="#2c8a8a"/>
<rect x="117.4" y="331.4" width="1.3" height="1.3" fill="#3e4989"/>
<rect x="187.8" y="282.8" width="1.3" height="1.3" fill="#26828e"/>
<rect x="154.7" y="268.8" width="1.3" height="1.3" fill="#31688e"/>
<rect x="170.1" y="313.7" width="1.3" height="1.3" fill="#3e4989"/>
<rect x="196.5" y="320.0" width="1.3" height="1.3" fill="#31688e"/>
<rect x="190.7" y="313.6" width="1.3" height="1.3" fill="#1f9e89"/>
<rect x="130.9" y="307.8" width="1.3" height="1.3" fill="#26828e"/>
<rect x="191.5" y="270.9" width="1.3" height="1.3" fill="#26828e"/>
<rect x="141.6" y="284.7" width="1.3" height="1.3" fill="#3e4989"/>
<rect x="125.0" y="271.7" width="1.3" height="1.3" fill="#261816"/>
<rect x="118.1" y="287.1" width="1.3" height="1.3" fill="#261816"/>
<rect x="115.6" y="277.5" width="1.3" height="1.3" fill="#35b779"/>
<rect x="147.3" y="256.4" width="1.3" height="1.3" fill="#3e4989"/>
<rect x="178.1" y="290.2" width="1.3" height="1.3" fill="#1f9e89"/>
<rect x="161.3" y="259.8" width="1.3" height="1.3" fill="#261816"/>
<rect x="121.5" y="285.5" width="1.3" height="1.3" fill="#482878"/>
<rect x="190.4" y="324.5" width="1.3" height="1.3" fill="#3e4989"/>
<rect x="159.9" y="307.5" width="1.3" height="1.3" fill="#261816"/>
<rect x="179.4" y="274.2" width="1.3" height="1.3" fill="#261816"/>
<rect x="124.1" y="327.4" width="1.3" height="1.3" fill="#261816"/>
<rect x="172.2" y="294.0" width="1.3" height="1.3" fill="#3e4989"/>
<rect x="171.7" y="291.7" width="1.3" height="1.3" fill="#26828e"/>
<rect x="176.0" y="305.6" width="1.3" height="1.3" fill="#3e4989"/>
<rect x="178.1" y="303.0" width="1.3" height="1.3" fill="#1f9e89"/>
<rect x="130.2" y="323.0" width="1.3" height="1.3" fill="#482878"/>
<rect x="125.5" y="326.4" width="1.3" height="1.3" fill="#1f9e89"/>
<rect x="193.3" y="302.9" width="1.3" height="1.3" fill="#3e4989"/>
<rect x="150.7" y="274.6" width="1.3" height="1.3" fill="#1f9e89"/>
<rect x="153.9" y="275.6" width="1.3" height="1.3" fill="#1f9e89"/>
<rect x="175.0" y="258.8" width="1.3" height="1.3" fill="#1f9e89"/>
<rect x="179.1" y="294.5" width="1.3" height="1.3" fill="#35b779"/>
<rect x="145.5" y="271.8" width="1.3" height="1.3" fill="#35b779"/>
<rect x="119.5" y="261.2" width="1.3" height="1.3" fill="#482878"/>
<rect x="157.9" y="270.3" width="1.3" height="1.3" fill="#2c8a8a"/>
<rect x="145.1" y="277.3" width="1.3" height="1.3" fill="#35b779"/>
<rect x="153.1" y="316.4" width="1.3" height="1.3" fill="#3e4989"/>
<rect x="145.0" y="319.4" width="1.3" height="1.3" fill="#3e4989"/>
<rect x="127.9" y="298.4" width="1.3" height="1.3" fill="#3e4989"/>
<rect x="163.0" y="324.6" width="1.3" height="1.3" fill="#3e4989"/>
<rect x="130.7" y="265.5" width="1.3" height="1.3" fill="#35b779"/>
<rect x="172.0" y="282.1" width="1.3" height="1.3" fill="#1f9e89"/>
<rect x="165.3" y="262.0" width="1.3" height="1.3" fill="#35b779"/>
<rect x="182.8" y="294.7" width="1.3" height="1.3" fill="#1f9e89"/>
<rect x="163.3" y="266.6" width="1.3" height="1.3" fill="#261816"/>
<rect x="146.4" y="274.0" width="1.3" height="1.3" fill="#482878"/>
<rect x="190.8" y="327.8" width="1.3" height="1.3" fill="#35b779"/>
<rect x="141.9" y="324.3" width="1.3" height="1.3" fill="#261816"/>
<rect x="168.9" y="330.1" width="1.3" height="1.3" fill="#261816"/>
<rect x="191.1" y="304.7" width="1.3" height="1.3" fill="#26828e"/>
<rect x="166.1" y="309.6" width="1.3" height="1.3" fill="#26828e"/>
<rect x="124.1" y="312.0" width="1.3" height="1.3" fill="#31688e"/>
<rect x="156.8" y="292.9" width="1.3" height="1.3" fill="#482878"/>
<rect x="131.9" y="314.1" width="1.3" height="1.3" fill="#31688e"/>
<rect x="118.2" y="291.0" width="1.3" height="1.3" fill="#482878"/>
<rect x="124.5" y="273.2" width="1.3" height="1.3" fill="#1f9e89"/>
<rect x="126.5" y="315.0" width="1.3" height="1.3" fill="#3e4989"/>
<rect x="193.5" y="252.1" width="1.3" height="1.3" fill="#3e4989"/>
<rect x="134.8" y="256.4" width="1.3" height="1.3" fill="#2c8a8a"/>
<rect x="116.6" y="277.9" width="1.3" height="1.3" fill="#261816"/>
<rect x="189.0" y="307.0" width="1.3" height="1.3" fill="#1f9e89"/>
<rect x="121.8" y="318.8" width="1.3" height="1.3" fill="#26828e"/>
<rect x="175.9" y="310.7" width="1.3" height="1.3" fill="#261816"/>
<rect x="199.8" y="266.8" width="1.3" height="1.3" fill="#3e4989"/>
<rect x="188.2" y="285.8" width="1.3" height="1.3" fill="#31688e"/>
<rect x="156.2" y="258.9" width="1.3" height="1.3" fill="#26828e"/>
<rect x="149.7" y="319.3" width="1.3" height="1.3" fill="#1f9e89"/>
<rect x="148.3" y="288.8" width="1.3" height="1.3" fill="#3e4989"/>
<rect x="160.7" y="284.6" width="1.3" height="1.3" fill="#482878"/>
<rect x="140.9" y="288.1" width="1.3" height="1.3" fill="#35b779"/>
<rect x="152.3" y="287.3" width="1.3" height="1.3" fill="#26828e"/>
<rect x="176.2" y="280.1" width="1.3" height="1.3" fill="#261816"/>
<rect x="153.1" y="279.6" width="1.3" height="1.3" fill="#35b779"/>
<rect x="134.0" y="250.2" width="1.3" height="1.3" fill="#31688e"/>
<rect x="137.0" y="280.3" width="1.3" height="1.3" fill="#482878"/>
<rect x="160.4" y="263.0" width="1.3" height="1.3" fill="#26828e"/>
<rect x="129.5" y="283.1" width="1.3" height="1.3" fill="#1f9e89"/>
<rect x="169.1" y="261.4" width="1.3" height="1.3" fill="#3e4989"/>
<rect x="129.3" y="290.2" width="1.3" height="1.3" fill="#26828e"/>
<rect x="186.5" y="283.1" width="1.3" height="1.3" fill="#261816"/>
<rect x="149.7" y="307.7" width="1.3" height="1.3" fill="#26828e"/>
<rect x="135.3" y="253.2" width="1.3" height="1.3" fill="#482878"/>
<rect x="117.3" y="329.2" width="1.3" height="1.3" fill="#31688e"/>
<rect x="135.5" y="281.9" width="1.3" height="1.3" fill="#31688e"/>
<rect x="129.0" y="301.0" width="1.3" height="1.3" fill="#261816"/>
<rect x="192.6" y="298.7" width="1.3" height="1.3" fill="#261816"/>
<rect x="138.4" y="314.6" width="1.3" height="1.3" fill="#482878"/>
<rect x="182.1" y="328.9" width="1.3" height="1.3" fill="#482878"/>
<rect x="136.2" y="271.8" width="1.3" height="1.3" fill="#261816"/>
<rect x="168.5" y="278.3" width="1.3" height="1.3" fill="#3e4989"/>
<rect x="119.8" y="285.7" width="1.3" height="1.3" fill="#3e4989"/>
<rect x="165.3" y="250.3" width="1.3" height="1.3" fill="#26828e"/>
<rect x="172.9" y="251.6" width="1.3" height="1.3" fill="#2c8a8a"/>
<rect x="118.1" y="254.4" width="1.3" height="1.3" fill="#2c8a8a"/>
<rect x="191.5" y="266.5" width="1.3" height="1.3" fill="#482878"/>
<rect x="143.9" y="289.2" width="1.3" height="1.3" fill="#261816"/>
<rect x="194.9" y="252.8" width="1.3" height="1.3" fill="#261816"/>
<rect x="178.9" y="301.8" width="1.3" height="1.3" fill="#35b779"/>
<rect x="122.5" y="274.1" width="1.3" height="1.3" fill="#35b779"/>
<rect x="124.7" y="282.0" width="1.3" height="1.3" fill="#261816"/>
<rect x="160.6" y="313.8" width="1.3" height="1.3" fill="#35b779"/>
<rect x="129.8" y="310.7" width="1.3" height="1.3" fill="#35b779"/>
<rect x="186.0" y="295.4" width="1.3" height="1.3" fill="#1f9e89"/>
<rect x="145.8" y="284.0" width="1.3" height="1.3" fill="#31688e"/>
<rect x="152.8" y="307.6" width="1.3" height="1.3" fill="#261816"/>
<rect x="137.9" y="263.9" width="1.3" height="1.3" fill="#3e4989"/>
<rect x="192.8" y="307.1" width="1.3" height="1.3" fill="#482878"/>
<rect x="118.6" y="264.1" width="1.3" height="1.3" fill="#26828e"/>
<rect x="184.9" y="257.5" width="1.3" height="1.3" fill="#3e4989"/>
<rect x="142.2" y="299.3" width="1.3" height="1.3" fill="#26828e"/>
<rect x="189.7" y="321.5" width="1.3" height="1.3" fill="#482878"/>
<rect x="154.6" y="321.2" width="1.3" height="1.3" fill="#261816"/>
<rect x="199.7" y="250.1" width="1.3" height="1.3" fill="#31688e"/>
<rect x="148.9" y="328.4" width="1.3" height="1.3" fill="#3e4989"/>
<rect x="143.8" y="275.5" width="1.3" height="1.3" fill="#482878"/>
<rect x="121.9" y="303.2" width="1.3" height="1.3" fill="#31688e"/>
<rect x="173.5" y="330.2" width="1.3" height="1.3" fill="#1f9e89"/>
<rect x="164.8" y="251.0" width="1.3" height="1.3" fill="#31688e"/>
<rect x="139.4" y="267.1" width="1.3" height="1.3" fill="#2c8a8a"/>
<rect x="158.8" y="291.4" width="1.3" height="1.3" fill="#3e4989"/>
<rect x="142.1" y="322.4" width="1.3" height="1.3" fill="#31688e"/>
<rect x="154.7" y="301.0" width="1.3" height="1.3" fill="#26828e"/>
<rect x="185.2" y="259.2" width="1.3" height="1.3" fill="#26828e"/>
<rect x="188.0" y="258.3" width="1.3" height="1.3" fill="#261816"/>
<rect x="122.3" y="288.1" width="1.3" height="1.3" fill="#31688e"/>
<rect x="185.2" y="305.8" width="1.3" height="1.3" fill="#3e4989"/>
<rect x="169.6" y="312.4" width="1.3" height="1.3" fill="#261816"/>
<rect x="149.2" y="304.2" width="1.3" height="1.3" fill="#3e4989"/>
<rect x="139.8" y="327.5" width="1.3" height="1.3" fill="#482878"/>
<rect x="184.3" y="266.9" width="1.3" height="1.3" fill="#2c8a8a"/>
<rect x="115.6" y="274.5" width="1.3" height="1.3" fill="#3e4989"/>
<rect x="144.0" y="265.7" width="1.3" height="1.3" fill="#3e4989"/>
<rect x="193.5" y="306.3" width="1.3" height="1.3" fill="#261816"/>
<rect x="150.9" y="303.2" width="1.3" height="1.3" fill="#3e4989"/>
<rect x="159.1" y="270.5" width="1.3" height="1.3" fill="#26828e"/>
<rect x="143.5" y="285.3" width="1.3" height="1.3" fill="#3e4989"/>
<rect x="136.3" y="276.5" width="1.3" height="1.3" fill="#31688e"/>
<rect x="176.7" y="321.7" width="1.3" height="1.3" fill="#3e4989"/>
<rect x="154.4" y="308.3" width="1.3" height="1.3" fill="#35b779"/>
<rect x="146.3" y="265.7" width="1.3" height="1.3" fill="#3e4989"/>
<rect x="195.7" y="289.7" width="1.3" height="1.3" fill="#35b779"/>
<rect x="154.9" y="298.2" width="1.3" height="1.3" fill="#26828e"/>
<rect x="139.8" y="326.6" width="1.3" height="1.3" fill="#1f9e89"/>
<rect x="190.9" y="252.3" width="1.3" height="1.3" fill="#1f9e89"/>
<rect x="140.0" y="292.6" width="1.3" height="1.3" fill="#482878"/>
<rect x="118.4" y="311.1" width="1.3" height="1.3" fill="#261816"/>
<rect x="156.8" y="253.1" width="1.3" height="1.3" fill="#482878"/>
<rect x="178.1" y="311.2" width="1.3" height="1.3" fill="#261816"/>
<rect x="127.2" y="286.4" width="1.3" height="1.3" fill="#35b779"/>
<rect x="152.7" y="266.9" width="1.3" height="1.3" fill="#482878"/>
<rect x="179.8" y="307.4" width="1.3" height="1.3" fill="#35b779"/>
<rect x="198.3" y="321.8" width="1.3" height="1.3" fill="#261816"/>
<rect x="195.1" y="285.4" width="1.3" height="1.3" fill="#482878"/>
<rect x="155.3" y="331.9" width="1.3" height="1.3" fill="#31688e"/>
<rect x="145.6" y="319.9" width="1.3" height="1.3" fill="#261816"/>
<rect x="117.5" y="280.6" width="1.3" height="1.3" fill="#261816"/>
<rect x="183.6" y="274.4" width="1.3" height="1.3" fill="#31688e"/>
<rect x="194.1" y="292.6" width="1.3" height="1.3" fill="#26828e"/>
<rect x="126.2" y="293.5" width="1.3" height="1.3" fill="#2c8a8a"/>
<rect x="116.8" y="327.9" width="1.3" height="1.3" fill="#26828e"/>
<rect x="132.3" y="313.1" width="1.3" height="1.3" fill="#482878"/>
<rect x="145.2" y="329.2" width="1.3" height="1.3" fill="#261816"/>
<rect x="198.2" y="252.9" width="1.3" height="1.3" fill="#1f9e89"/>
<rect x="135.3" y="272.7" width="1.3" height="1.3" fill="#261816"/>
<rect x="186.0" y="299.5" width="1.3" height="1.3" fill="#3e4989"/>
<rect x="153.3" y="271.5" width="1.3" height="1.3" fill="#482878"/>
<rect x="150.5" y="271.3" width="1.3" height="1.3" fill="#26828e"/>
<rect x="117.5" y="253.1" width="1.3" height="1.3" fill="#1f9e89"/>
<rect x="192.6" y="316.3" width="1.3" height="1.3" fill="#31688e"/>
<rect x="196.0" y="311.0" width="1.3" height="1.3" fill="#35b779"/>
<rect x="158.3" y="318.1" width="1.3" height="1.3" fill="#2c8a8a"/>
<rect x="126.4" y="251.4" width="1.3" height="1.3" fill="#26828e"/>
<rect x="116.4" y="302.7" width="1.3" height="1.3" fill="#482878"/>
<rect x="154.7" y="304.6" width="1.3" height="1.3" fill="#3e4989"/>
<rect x="158.8" y="280.4" width="1.3" height="1.3" fill="#1f9e89"/>
<rect x="140.0" y="256.0" width="1.3" height="1.3" fill="#1f9e89"/>
<rect x="199.3" y="294.9" width="1.3" height="1.3" fill="#35b779"/>
<rect x="180.8" y="286.4" width="1.3" height="1.3" fill="#261816"/>
<rect x="183.3" y="287.1" width="1.3" height="1.3" fill="#2c8a8a"/>
<rect x="128.2" y="275.8" width="1.3" height="1.3" fill="#2c8a8a"/>
<rect x="118.2" y="289.8" width="1.3" height="1.3" fill="#31688e"/>
<rect x="185.3" y="326.4" width="1.3" height="1.3" fill="#3e4989"/>
<rect x="138.2" y="276.0" width="1.3" height="1.3" fill="#3e4989"/>
<rect x="161.7" y="290.0" width="1.3" height="1.3" fill="#261816"/>
<rect x="181.8" y="311.8" width="1.3" height="1.3" fill="#261816"/>
<rect x="123.7" y="304.8" width="1.3" height="1.3" fill="#261816"/>
<rect x="117.9" y="289.9" width="1.3" height="1.3" fill="#482878"/>
<rect x="131.6" y="325.5" width="1.3" height="1.3" fill="#1f9e89"/>
<rect x="170.6" y="327.2" width="1.3" height="1.3" fill="#35b779"/>
<rect x="141.9" y="272.2" width="1.3" height="1.3" fill="#26828e"/>
<rect x="195.2" y="276.0" width="1.3" height="1.3" fill="#35b779"/>
<rect x="162.2" y="252.9" width="1.3" height="1.3" fill="#35b779"/>
<rect x="136.3" y="330.4" width="1.3" height="1.3" fill="#3e4989"/>
<rect x="157.1" y="328.5" width="1.3" height="1.3" fill="#3e4989"/>
<rect x="174.3" y="259.4" width="1.3" height="1.3" fill="#3e4989"/>
<rect x="168.6" y="317.1" width="1.3" height="1.3" fill="#26828e"/>
<rect x="195.1" y="329.9" width="1.3" height="1.3" fill="#3e4989"/>
<rect x="151.7" y="330.7" width="1.3" height="1.3" fill="#482878"/>
<rect x="137.8" y="294.8" width="1.3" height="1.3" fill="#26828e"/>
<rect x="129.8" y="289.9" width="1.3" height="1.3" fill="#1f9e89"/>
<rect x="127.3" y="324.3" width="1.3" height="1.3" fill="#1f9e89"/>
<rect x="173.7" y="288.3" width="1.3" height="1.3" fill="#35b779"/>
<rect x="170.0" y="261.7" width="1.3" height="1.3" fill="#26828e"/>
<rect x="130.3" y="301.4" width="1.3" height="1.3" fill="#261816"/>
<rect x="131.1" y="317.5" width="1.3" height="1.3" fill="#1f9e89"/>
<rect x="119.1" y="328.8" width="1.3" height="1.3" fill="#2c8a8a"/>
<rect x="133.2" y="313.9" width="1.3" height="1.3" fill="#35b779"/>
<rect x="148.1" y="331.0" width="1.3" height="1.3" fill="#261816"/>
<rect x="123.9" y="259.4" width="1.3" height="1.3" fill="#261816"/>
<rect x="125.8" y="278.9" width="1.3" height="1.3" fill="#3e4989"/>
<rect x="121.5" y="265.7" width="1.3" height="1.3" fill="#261816"/>
<rect x="199.7" y="330.4" width="1.3" height="1.3" fill="#31688e"/>
<rect x="120.5" y="294.8" width="1.3" height="1.3" fill="#482878"/>
<rect x="123.8" y="319.4" width="1.3" height="1.3" fill="#482878"/>
<rect x="116.8" y="278.3" width="1.3" height="1.3" fill="#482878"/>
<rect x="163.4" y="288.1" width="1.3" height="1.3" fill="#2c8a8a"/>
<rect x="141.0" y="262.2" width="1.3" height="1.3" fill="#482878"/>
<rect x="185.8" y="266.4" width="1.3" height="1.3" fill="#3e4989"/>
<rect x="140.1" y="311.5" width="1.3" height="1.3" fill="#1f9e89"/>
<rect x="140.6" y="320.4" width="1.3" height="1.3" fill="#1f9e89"/>
<rect x="141.9" y="318.9" width="1.3" height="1.3" fill="#1f9e89"/>
<rect x="119.5" y="330.2" width="1.3" height="1.3" fill="#35b779"/>
<rect x="167.2" y="264.6" width="1.3" height="1.3" fill="#3e4989"/>
<rect x="116.2" y="321.3" width="1.3" height="1.3" fill="#35b779"/>
<rect x="199.3" y="306.2" width="1.3" height="1.3" fill="#2c8a8a"/>
<rect x="174.2" y="272.6" width="1.3" height="1.3" fill="#482878"/>
<rect x="160.9" y="286.2" width="1.3" height="1.3" fill="#1f9e89"/>
<rect x="165.2" y="267.9" width="1.3" height="1.3" fill="#482878"/>
<rect x="158.0" y="280.6" width="1.3" height="1.3" fill="#261816"/>
<rect x="165.2" y="307.6" width="1.3" height="1.3" fill="#261816"/>
<rect x="188.3" y="318.5" width="1.3" height="1.3" fill="#261816"/>
<rect x="198.0" y="274.4" width="1.3" height="1.3" fill="#1f9e89"/>
<rect x="125.5" y="291.1" width="1.3" height="1.3" fill="#261816"/>
<rect x="177.0" y="270.4" width="1.3" height="1.3" fill="#35b779"/>
<rect x="197.2" y="287.1" width="1.3" height="1.3" fill="#482878"/>
<rect x="143.4" y="314.7" width="1.3" height="1.3" fill="#1f9e89"/>
<rect x="198.9" y="293.3" width="1.3" height="1.3" fill="#482878"/>
<rect x="199.5" y="254.2" width="1.3" height="1.3" fill="#35b779"/>
<rect x="151.2" y="319.5" width="1.3" height="1.3" fill="#261816"/>
<rect x="120.0" y="320.1" width="1.3" height="1.3" fill="#35b779"/>
<rect x="133.0" y="256.1" width="1.3" height="1.3" fill="#2c8a8a"/>
<rect x="133.2" y="295.0" width="1.3" height="1.3" fill="#3e4989"/>
<rect x="151.6" y="321.1" width="1.3" height="1.3" fill="#2c8a8a"/>
<rect x="145.7" y="274.6" width="1.3" height="1.3" fill="#2c8a8a"/>
<rect x="146.5" y="286.0" width="1.3" height="1.3" fill="#3e4989"/>
<rect x="164.7" y="262.0" width="1.3" height="1.3" fill="#31688e"/>
<rect x="115.0" y="255.3" width="1.3" height="1.3" fill="#26828e"/>
<rect x="126.9" y="256.7" width="1.3" height="1.3" fill="#261816"/>
<rect x="152.0" y="266.1" width="1.3" height="1.3" fill="#26828e"/>
<rect x="160.8" y="325.5" width="1.3" height="1.3" fill="#2c8a8a"/>
<rect x="152.8" y="279.8" width="1.3" height="1.3" fill="#31688e"/>
<rect x="152.5" y="306.0" width="1.3" height="1.3" fill="#3e4989"/>
<rect x="158.3" y="326.1" width="1.3" height="1.3" fill="#31688e"/>
<rect x="155.4" y="323.0" width="1.3" height="1.3" fill="#261816"/>
<rect x="162.0" y="259.6" width="1.3" height="1.3" fill="#1f9e89"/>
<rect x="165.9" y="257.0" width="1.3" height="1.3" fill="#26828e"/>
<rect x="182.7" y="281.4" width="1.3" height="1.3" fill="#482878"/>
<rect x="185.8" y="265.1" width="1.3" height="1.3" fill="#261816"/>
<rect x="126.9" y="266.7" width="1.3" height="1.3" fill="#35b779"/>
<rect x="164.8" y="327.9" width="1.3" height="1.3" fill="#261816"/>
<rect x="152.1" y="258.0" width="1.3" height="1.3" fill="#3e4989"/>
<rect x="120.5" y="321.9" width="1.3" height="1.3" fill="#261816"/>
<rect x="120.6" y="250.8" width="1.3" height="1.3" fill="#482878"/>
<rect x="192.6" y="301.8" width="1.3" height="1.3" fill="#3e4989"/>
<rect x="185.3" y="277.2" width="1.3" height="1.3" fill="#35b779"/>
<rect x="189.9" y="268.5" width="1.3" height="1.3" fill="#261816"/>
<rect x="132.2" y="282.1" width="1.3" height="1.3" fill="#3e4989"/>
<rect x="119.4" y="292.5" width="1.3" height="1.3" fill="#2c8a8a"/>
<rect x="159.5" y="297.1" width="1.3" height="1.3" fill="#3e4989"/>
<rect x="130.3" y="317.3" width="1.3" height="1.3" fill="#2c8a8a"/>
<rect x="148.7" y="278.2" width="1.3" height="1.3" fill="#482878"/>
<rect x="171.2" y="293.3" width="1.3" height="1.3" fill="#31688e"/>
<rect x="163.7" y="278.1" width="1.3" height="1.3" fill="#3e4989"/>
<rect x="126.3" y="293.6" width="1.3" height="1.3" fill="#3e4989"/>
<rect x="159.0" y="275.8" width="1.3" height="1.3" fill="#3e4989"/>
<rect x="187.9" y="310.5" width="1.3" height="1.3" fill="#31688e"/>
<rect x="153.0" y="309.1" width="1.3" height="1.3" fill="#261816"/>
<rect x="168.5" y="290.5" width="1.3" height="1.3" fill="#31688e"/>
<rect x="130.6" y="258.5" width="1.3" height="1.3" fill="#482878"/>
<rect x="125.2" y="324.9" width="1.3" height="1.3" fill="#35b779"/>
<rect x="186.6" y="275.9" width="1.3" height="1.3" fill="#26828e"/>
<rect x="142.8" y="270.2" width="1.3" height="1.3" fill="#26828e"/>
<rect x="135.1" y="280.1" width="1.3" height="1.3" fill="#31688e"/>
<rect x="130.1" y="270.6" width="1.3" height="1.3" fill="#261816"/>
<rect x="119.5" y="329.2" width="1.3" height="1.3" fill="#3e4989"/>
<rect x="132.6" y="274.9" width="1.3" height="1.3" fill="#1f9e89"/>
<rect x="163.0" y="270.1" width="1.3" height="1.3" fill="#31688e"/>
<rect x="133.3" y="305.0" width="1.3" height="1.3" fill="#3e4989"/>
<rect x="134.7" y="306.1" width="1.3" height="1.3" fill="#2c8a8a"/>
<rect x="148.5" y="294.2" width="1.3" height="1.3" fill="#3e4989"/>
<rect x="130.1" y="274.7" width="1.3" height="1.3" fill="#261816"/>
<rect x="119.8" y="314.5" width="1.3" height="1.3" fill="#482878"/>
<rect x="156.7" y="297.5" width="1.3" height="1.3" fill="#261816"/>
<rect x="159.2" y="284.4" width="1.3" height="1.3" fill="#482878"/>
<rect x="133.9" y="317.0" width="1.3" height="1.3" fill="#482878"/>
<rect x="144.4" y="331.6" width="1.3" height="1.3" fill="#482878"/>
<rect x="179.4" y="259.4" width="1.3" height="1.3" fill="#35b779"/>
<rect x="143.8" y="310.1" width="1.3" height="1.3" fill="#3e4989"/>
<rect x="142.3" y="278.6" width="1.3" height="1.3" fill="#1f9e89"/>
<rect x="187.3" y="289.2" width="1.3" height="1.3" fill="#2c8a8a"/>
<rect x="127.9" y="325.6" width="1.3" height="1.3" fill="#261816"/>
<rect x="156.9" y="297.8" width="1.3" height="1.3" fill="#31688e"/>
<rect x="168.0" y="307.6" width="1.3" height="1.3" fill="#2c8a8a"/>
<rect x="165.4" y="297.9" width="1.3" height="1.3" fill="#261816"/>
<rect x="161.0" y="331.1" width="1.3" height="1.3" fill="#261816"/>
<rect x="193.5" y="284.7" width="1.3" height="1.3" fill="#2c8a8a"/>
<rect x="177.5" y="278.8" width="1.3" height="1.3" fill="#482878"/>
<rect x="146.5" y="264.9" width="1.3" height="1.3" fill="#261816"/>
<rect x="174.3" y="296.1" width="1.3" height="1.3" fill="#35b779"/>
<rect x="175.6" y="276.6" width="1.3" height="1.3" fill="#1f9e89"/>
<rect x="142.2" y="309.4" width="1.3" height="1.3" fill="#1f9e89"/>
<rect x="161.0" y="288.2" width="1.3" height="1.3" fill="#35b779"/>
<rect x="162.0" y="280.0" width="1.3" height="1.3" fill="#26828e"/>
<rect x="166.6" y="307.6" width="1.3" height="1.3" fill="#1f9e89"/>
<rect x="157.9" y="263.7" width="1.3" height="1.3" fill="#3e4989"/>
<rect x="161.9" y="259.6" width="1.3" height="1.3" fill="#35b779"/>
<rect x="188.8" y="292.3" width="1.3" height="1.3" fill="#35b779"/>
<rect x="138.3" y="289.3" width="1.3" height="1.3" fill="#261816"/>
<rect x="134.6" y="271.4" width="1.3" height="1.3" fill="#31688e"/>
<rect x="195.6" y="289.1" width="1.3" height="1.3" fill="#35b779"/>
<rect x="127.5" y="280.3" width="1.3" height="1.3" fill="#1f9e89"/>
<rect x="137.5" y="314.0" width="1.3" height="1.3" fill="#31688e"/>
<rect x="171.7" y="270.3" width="1.3" height="1.3" fill="#261816"/>
<rect x="182.2" y="310.1" width="1.3" height="1.3" fill="#3e4989"/>
<rect x="123.4" y="307.7" width="1.3" height="1.3" fill="#3e4989"/>
<rect x="134.2" y="287.5" width="1.3" height="1.3" fill="#3e4989"/>
<rect x="142.8" y="312.5" width="1.3" height="1.3" fill="#1f9e89"/>
<rect x="118.6" y="290.3" width="1.3" height="1.3" fill="#2c8a8a"/>
<rect x="126.3" y="323.8" width="1.3" height="1.3" fill="#482878"/>
<rect x="178.3" y="291.3" width="1.3" height="1.3" fill="#3e4989"/>
<rect x="151.4" y="316.0" width="1.3" height="1.3" fill="#261816"/>
<rect x="140.1" y="272.3" width="1.3" height="1.3" fill="#35b779"/>
<rect x="128.1" y="252.6" width="1.3" height="1.3" fill="#35b779"/>
<rect x="169.4" y="267.3" width="1.3" height="1.3" fill="#1f9e89"/>
<rect x="157.9" y="328.2" width="1.3" height="1.3" fill="#261816"/>
<rect x="136.8" y="301.5" width="1.3" height="1.3" fill="#3e4989"/>
<rect x="178.4" y="325.5" width="1.3" height="1.3" fill="#31688e"/>
<rect x="125.0" y="267.8" width="1.3" height="1.3" fill="#3e4989"/>
<rect x="156.2" y="310.6" width="1.3" height="1.3" fill="#1f9e89"/>
<rect x="124.9" y="277.6" width="1.3" height="1.3" fill="#3e4989"/>
<rect x="177.1" y="271.2" width="1.3" height="1.3" fill="#3e4989"/>
<rect x="168.1" y="322.5" width="1.3" height="1.3" fill="#1f9e89"/>
<rect x="123.1" y="307.2" width="1.3" height="1.3" fill="#2c8a8a"/>
<rect x="148.2" y="287.4" width="1.3" height="1.3" fill="#3e4989"/>
<rect x="152.6" y="264.4" width="1.3" height="1.3" fill="#26828e"/>
<rect x="120.9" y="306.0" width="1.3" height="1.3" fill="#35b779"/>
<rect x="129.5" y="252.7" width="1.3" height="1.3" fill="#2c8a8a"/>
<rect x="176.7" y="318.4" width="1.3" height="1.3" fill="#261816"/>
<rect x="123.6" y="315.8" width="1.3" height="1.3" fill="#35b779"/>
<rect x="116.0" y="293.9" width="1.3" height="1.3" fill="#261816"/>
<rect x="168.3" y="286.2" width="1.3" height="1.3" fill="#31688e"/>
<rect x="183.0" y="278.3" width="1.3" height="1.3" fill="#31688e"/>
<rect x="128.4" y="282.2" width="1.3" height="1.3" fill="#35b779"/>
<rect x="141.8" y="297.0" width="1.3" height="1.3" fill="#2c8a8a"/>
<rect x="171.6" y="270.0" width="1.3" height="1.3" fill="#3e4989"/>
<rect x="117.1" y="252.2" width="1.3" height="1.3" fill="#261816"/>
<rect x="134.0" y="287.2" width="1.3" height="1.3" fill="#2c8a8a"/>
<rect x="137.6" y="312.5" width="1.3" height="1.3" fill="#3e4989"/>
<rect x="147.4" y="323.6" width="1.3" height="1.3" fill="#31688e"/>
<rect x="159.3" y="285.0" width="1.3" height="1.3" fill="#261816"/>
<rect x="183.0" y="264.6" width="1.3" height="1.3" fill="#482878"/>
<rect x="157.5" y="258.2" width="1.3" height="1.3" fill="#3e4989"/>
<rect x="194.8" y="262.1" width="1.3" height="1.3" fill="#2c8a8a"/>
<rect x="125.7" y="332.0" width="1.3" height="1.3" fill="#1f9e89"/>
<rect x="134.2" y="293.1" width="1.3" height="1.3" fill="#261816"/>
<rect x="125.4" y="291.0" width="1.3" height="1.3" fill="#482878"/>
<rect x="183.2" y="310.7" width="1.3" height="1.3" fill="#35b779"/>
<rect x="116.7" y="251.9" width="1.3" height="1.3" fill="#3e4989"/>
<rect x="115.4" y="308.1" width="1.3" height="1.3" fill="#482878"/>
<rect x="192.0" y="253.9" width="1.3" height="1.3" fill="#261816"/>
<rect x="140.9" y="288.8" width="1.3" height="1.3" fill="#261816"/>
<rect x="181.2" y="315.7" width="1.3" height="1.3" fill="#261816"/>
<rect x="168.2" y="257.3" width="1.3" height="1.3" fill="#26828e"/>
<rect x="124.7" y="305.8" width="1.3" height="1.3" fill="#31688e"/>
<rect x="122.1" y="311.1" width="1.3" height="1.3" fill="#2c8a8a"/>
<rect x="178.6" y="309.3" width="1.3" height="1.3" fill="#1f9e89"/>
<rect x="168.6" y="256.8" width="1.3" height="1.3" fill="#261816"/>
<rect x="158.6" y="328.9" width="1.3" height="1.3" fill="#26828e"/>
<rect x="157.2" y="279.7" width="1.3" height="1.3" fill="#482878"/>
<rect x="193.7" y="284.6" width="1.3" height="1.3" fill="#261816"/>
<rect x="162.6" y="282.1" width="1.3" height="1.3" fill="#482878"/>
<rect x="144.2" y="326.9" width="1.3" height="1.3" fill="#261816"/>
<rect x="141.0" y="310.5" width="1.3" height="1.3" fill="#261816"/>
<rect x="181.9" y="311.3" width="1.3" height="1.3" fill="#31688e"/>
<rect x="145.4" y="303.3" width="1.3" height="1.3" fill="#482878"/>
<rect x="196.3" y="289.1" width="1.3" height="1.3" fill="#31688e"/>
<rect x="176.2" y="299.2" width="1.3" height="1.3" fill="#31688e"/>
<rect x="199.8" y="254.0" width="1.3" height="1.3" fill="#35b779"/>
<rect x="135.5" y="264.9" width="1.3" height="1.3" fill="#3e4989"/>
<rect x="170.6" y="324.9" width="1.3" height="1.3" fill="#482878"/>
<rect x="136.7" y="322.5" width="1.3" height="1.3" fill="#3e4989"/>
<rect x="164.0" y="280.9" width="1.3" height="1.3" fill="#26828e"/>
<rect x="146.0" y="317.0" width="1.3" height="1.3" fill="#35b779"/>
<rect x="145.9" y="309.5" width="1.3" height="1.3" fill="#261816"/>
<rect x="159.7" y="261.3" width="1.3" height="1.3" fill="#31688e"/>
<rect x="180.1" y="252.5" width="1.3" height="1.3" fill="#35b779"/>
<rect x="176.9" y="258.5" width="1.3" height="1.3" fill="#35b779"/>
<rect x="155.7" y="281.0" width="1.3" height="1.3" fill="#2c8a8a"/>
<rect x="162.5" y="300.2" width="1.3" height="1.3" fill="#482878"/>
<rect x="148.6" y="303.0" width="1.3" height="1.3" fill="#1f9e89"/>
<rect x="192.8" y="265.9" width="1.3" height="1.3" fill="#3e4989"/>
<rect x="198.3" y="261.3" width="1.3" height="1.3" fill="#2c8a8a"/>
<rect x="191.4" y="260.0" width="1.3" height="1.3" fill="#3e4989"/>
<rect x="133.2" y="325.3" width="1.3" height="1.3" fill="#2c8a8a"/>
<rect x="187.7" y="324.3" width="1.3" height="1.3" fill="#35b779"/>
<rect x="199.3" y="262.9" width="1.3" height="1.3" fill="#35b779"/>
<rect x="157.3" y="301.3" width="1.3" height="1.3" fill="#2c8a8a"/>
<rect x="193.9" y="270.8" width="1.3" height="1.3" fill="#26828e"/>
<rect x="165.2" y="278.1" width="1.3" height="1.3" fill="#2c8a8a"/>
<rect x="147.8" y="330.0" width="1.3" height="1.3" fill="#261816"/>
<rect x="131.9" y="267.0" width="1.3" height="1.3" fill="#35b779"/>
<rect x="135.7" y="268.2" width="1.3" height="1.3" fill="#261816"/>
<rect x="134.5" y="323.9" width="1.3" height="1.3" fill="#261816"/>
<rect x="162.5" y="313.5" width="1.3" height="1.3" fill="#2c8a8a"/>
<rect x="132.6" y="309.8" width="1.3" height="1.3" fill="#26828e"/>
<rect x="158.1" y="274.4" width="1.3" height="1.3" fill="#31688e"/>
<rect x="194.4" y="311.8" width="1.3" height="1.3" fill="#3e4989"/>
<rect x="121.0" y="270.5" width="1.3" height="1.3" fill="#31688e"/>
<rect x="139.7" y="278.3" width="1.3" height="1.3" fill="#31688e"/>
<rect x="191.9" y="325.0" width="1.3" height="1.3" fill="#2c8a8a"/>
<rect x="181.4" y="287.2" width="1.3" height="1.3" fill="#261816"/>
<rect x="119.8" y="324.2" width="1.3" height="1.3" fill="#261816"/>
<rect x="164.2" y="317.9" width="1.3" height="1.3" fill="#2c8a8a"/>
<rect x="132.0" y="325.7" width="1.3" height="1.3" fill="#261816"/>
<rect x="144.7" y="257.3" width="1.3" height="1.3" fill="#35b779"/>
<rect x="191.4" y="282.7" width="1.3" height="1.3" fill="#261816"/>
<rect x="182.6" y="313.8" width="1.3" height="1.3" fill="#31688e"/>
<rect x="136.3" y="260.2" width="1.3" height="1.3" fill="#3e4989"/>
<rect x="125.4" y="264.2" width="1.3" height="1.3" fill="#261816"/>
<rect x="144.2" y="263.9" width="1.3" height="1.3" fill="#261816"/>
<rect x="119.0" y="313.9" width="1.3" height="1.3" fill="#3e4989"/>
<rect x="161.2" y="283.4" width="1.3" height="1.3" fill="#261816"/>
<rect x="162.3" y="251.6" width="1.3" height="1.3" fill="#482878"/>
<rect x="181.2" y="285.9" width="1.3" height="1.3" fill="#1f9e89"/>
<rect x="156.0" y="259.9" width="1.3" height="1.3" fill="#1f9e89"/>
<rect x="146.4" y="320.0" width="1.3" height="1.3" fill="#261816"/>
<rect x="147.5" y="292.3" width="1.3" height="1.3" fill="#482878"/>
<rect x="146.9" y="279.7" width="1.3" height="1.3" fill="#261816"/>
<rect x="177.2" y="326.6" width="1.3" height="1.3" fill="#261816"/>
<rect x="155.7" y="290.7" width="1.3" height="1.3" fill="#482878"/>
<rect x="115.9" y="256.1" width="1.3" height="1.3" fill="#261816"/>
<rect x="130.8" y="330.5" width="1.3" height="1.3" fill="#3e4989"/>
<rect x="171.1" y="264.2" width="1.3" height="1.3" fill="#261816"/>
<rect x="141.7" y="279.7" width="1.3" height="1.3" fill="#26828e"/>
<rect x="186.3" y="319.3" width="1.3" height="1.3" fill="#26828e"/>
<rect x="198.3" y="254.4" width="1.3" height="1.3" fill="#35b779"/>
<rect x="129.0" y="302.5" width="1.3" height="1.3" fill="#2c8a8a"/>
<rect x="153.4" y="311.0" width="1.3" height="1.3" fill="#26828e"/>
<rect x="199.9" y="305.5" width="1.3" height="1.3" fill="#2c8a8a"/>
<rect x="178.0" y="258.9" width="1.3" height="1.3" fill="#3e4989"/>
<rect x="171.6" y="266.5" width="1.3" height="1.3" fill="#3e4989"/>
<rect x="138.8" y="304.3" width="1.3" height="1.3" fill="#26828e"/>
<rect x="183.0" y="254.1" width="1.3" height="1.3" fill="#482878"/>
<rect x="118.2" y="291.9" width="1.3" height="1.3" fill="#31688e"/>
<rect x="142.7" y="286.5" width="1.3" height="1.3" fill="#3e4989"/>
<rect x="140.8" y="276.4" width="1.3" height="1.3" fill="#26828e"/>
<rect x="188.1" y="307.6" width="1.3" height="1.3" fill="#26828e"/>
<rect x="133.4" y="298.1" width="1.3" height="1.3" fill="#1f9e89"/>
<rect x="174.6" y="278.6" width="1.3" height="1.3" fill="#2c8a8a"/>
<rect x="159.4" y="304.9" width="1.3" height="1.3" fill="#1f9e89"/>
<rect x="167.7" y="325.0" width="1.3" height="1.3" fill="#261816"/>
<rect x="188.1" y="273.1" width="1.3" height="1.3" fill="#31688e"/>
<rect x="179.5" y="294.7" width="1.3" height="1.3" fill="#261816"/>
<rect x="152.2" y="282.0" width="1.3" height="1.3" fill="#2c8a8a"/>
<rect x="192.1" y="293.9" width="1.3" height="1.3" fill="#261816"/>
<rect x="143.6" y="312.8" width="1.3" height="1.3" fill="#1f9e89"/>
<rect x="140.2" y="256.0" width="1.3" height="1.3" fill="#35b779"/>
<rect x="177.0" y="298.7" width="1.3" height="1.3" fill="#35b779"/>
<rect x="197.1" y="291.8" width="1.3" height="1.3" fill="#31688e"/>
<rect x="193.3" y="301.3" width="1.3" height="1.3" fill="#26828e"/>
<rect x="166.1" y="279.9" width="1.3" height="1.3" fill="#26828e"/>
<rect x="170.2" y="287.6" width="1.3" height="1.3" fill="#3e4989"/>
<rect x="136.4" y="322.9" width="1.3" height="1.3" fill="#2c8a8a"/>
<rect x="159.5" y="290.3" width="1.3" height="1.3" fill="#31688e"/>
<rect x="187.0" y="331.9" width="1.3" height="1.3" fill="#3e4989"/>
<rect x="187.1" y="256.0" width="1.3" height="1.3" fill="#482878"/>
<rect x="181.5" y="282.5" width="1.3" height="1.3" fill="#1f9e89"/>
<rect x="132.2" y="271.5" width="1.3" height="1.3" fill="#1f9e89"/>
<rect x="196.6" y="324.4" width="1.3" height="1.3" fill="#261816"/>
<rect x="115.0" y="264.6" width="1.3" height="1.3" fill="#31688e"/>
<rect x="168.1" y="269.5" width="1.3" height="1.3" fill="#3e4989"/>
<rect x="125.1" y="280.2" width="1.3" height="1.3" fill="#31688e"/>
<rect x="184.1" y="305.0" width="1.3" height="1.3" fill="#26828e"/>
<rect x="142.6" y="274.7" width="1.3" height="1.3" fill="#3e4989"/>
<rect x="118.8" y="314.8" width="1.3" height="1.3" fill="#261816"/>
<rect x="181.6" y="264.6" width="1.3" height="1.3" fill="#482878"/>
<rect x="164.7" y="290.7" width="1.3" height="1.3" fill="#2c8a8a"/>
<rect x="155.5" y="269.7" width="1.3" height="1.3" fill="#31688e"/>
<rect x="162.0" y="279.8" width="1.3" height="1.3" fill="#2c8a8a"/>
<rect x="121.3" y="317.4" width="1.3" height="1.3" fill="#1f9e89"/>
<rect x="118.2" y="262.9" width="1.3" height="1.3" fill="#3e4989"/>
<rect x="129.5" y="279.9" width="1.3" height="1.3" fill="#31688e"/>
<rect x="155.5" y="291.7" width="1.3" height="1.3" fill="#2c8a8a"/>
<rect x="120.3" y="311.6" width="1.3" height="1.3" fill="#31688e"/>
<rect x="172.7" y="276.1" width="1.3" height="1.3" fill="#3e4989"/>
<rect x="139.3" y="270.4" width="1.3" height="1.3" fill="#261816"/>
<rect x="164.2" y="262.2" width="1.3" height="1.3" fill="#35b779"/>
<rect x="172.0" y="283.2" width="1.3" height="1.3" fill="#482878"/>
<rect x="193.3" y="319.0" width="1.3" height="1.3" fill="#3e4989"/>
<rect x="121.9" y="325.3" width="1.3" height="1.3" fill="#35b779"/>
<rect x="141.0" y="260.1" width="1.3" height="1.3" fill="#1f9e89"/>
<rect x="196.9" y="315.4" width="1.3" height="1.3" fill="#35b779"/>
<rect x="178.3" y="282.5" width="1.3" height="1.3" fill="#35b779"/>
<rect x="179.6" y="306.3" width="1.3" height="1.3" fill="#35b779"/>
<rect x="118.6" y="271.8" width="1.3" height="1.3" fill="#261816"/>
<rect x="130.6" y="324.4" width="1.3" height="1.3" fill="#261816"/>
<rect x="189.7" y="310.7" width="1.3" height="1.3" fill="#31688e"/>
<rect x="174.2" y="279.2" width="1.3" height="1.3" fill="#2c8a8a"/>
<rect x="134.8" y="328.0" width="1.3" height="1.3" fill="#35b779"/>
<rect x="146.4" y="279.1" width="1.3" height="1.3" fill="#3e4989"/>
<rect x="128.5" y="279.8" width="1.3" height="1.3" fill="#26828e"/>
<rect x="135.8" y="262.9" width="1.3" height="1.3" fill="#261816"/>
<rect x="131.6" y="296.8" width="1.3" height="1.3" fill="#482878"/>
<rect x="198.3" y="312.3" width="1.3" height="1.3" fill="#2c8a8a"/>
<rect x="164.9" y="321.5" width="1.3" height="1.3" fill="#1f9e89"/>
<rect x="178.9" y="283.2" width="1.3" height="1.3" fill="#261816"/>
<rect x="199.2" y="312.3" width="1.3" height="1.3" fill="#35b779"/>
<rect x="122.8" y="281.0" width="1.3" height="1.3" fill="#3e4989"/>
<rect x="132.9" y="312.1" width="1.3" height="1.3" fill="#3e4989"/>
<rect x="145.8" y="315.0" width="1.3" height="1.3" fill="#261816"/>
<rect x="140.8" y="324.2" width="1.3" height="1.3" fill="#35b779"/>
<rect x="169.9" y="313.4" width="1.3" height="1.3" fill="#1f9e89"/>
<rect x="169.7" y="292.4" width="1.3" height="1.3" fill="#261816"/>
<rect x="198.8" y="276.4" width="1.3" height="1.3" fill="#3e4989"/>
<rect x="179.5" y="272.8" width="1.3" height="1.3" fill="#31688e"/>
<rect x="131.4" y="306.9" width="1.3" height="1.3" fill="#35b779"/>
<rect x="170.5" y="267.5" width="1.3" height="1.3" fill="#31688e"/>
<rect x="159.5" y="280.6" width="1.3" height="1.3" fill="#3e4989"/>
<rect x="137.4" y="270.2" width="1.3" height="1.3" fill="#3e4989"/>
<rect x="198.5" y="259.1" width="1.3" height="1.3" fill="#3e4989"/>
<rect x="196.3" y="251.6" width="1.3" height="1.3" fill="#3e4989"/>
<rect x="150.1" y="319.5" width="1.3" height="1.3" fill="#3e4989"/>
<rect x="161.5" y="326.9" width="1.3" height="1.3" fill="#261816"/>
<rect x="167.6" y="260.3" width="1.3" height="1.3" fill="#2c8a8a"/>
<rect x="126.2" y="324.8" width="1.3" height="1.3" fill="#1f9e89"/>
<rect x="183.4" y="288.8" width="1.3" height="1.3" fill="#35b779"/>
<rect x="137.2" y="269.7" width="1.3" height="1.3" fill="#3e4989"/>
<rect x="179.9" y="312.3" width="1.3" height="1.3" fill="#3e4989"/>
<rect x="131.5" y="279.1" width="1.3" height="1.3" fill="#3e4989"/>
<rect x="172.1" y="321.4" width="1.3" height="1.3" fill="#2c8a8a"/>
<rect x="150.8" y="322.7" width="1.3" height="1.3" fill="#3e4989"/>
<rect x="148.3" y="283.7" width="1.3" height="1.3" fill="#261816"/>
<rect x="145.2" y="323.6" width="1.3" height="1.3" fill="#35b779"/>
<rect x="187.7" y="288.1" width="1.3" height="1.3" fill="#31688e"/>
<rect x="121.0" y="270.8" width="1.3" height="1.3" fill="#3e4989"/>
<rect x="137.5" y="255.6" width="1.3" height="1.3" fill="#31688e"/>
<rect x="165.1" y="278.5" width="1.3" height="1.3" fill="#31688e"/>
<rect x="164.2" y="301.4" width="1.3" height="1.3" fill="#261816"/>
<rect x="188.5" y="254.0" width="1.3" height="1.3" fill="#3e4989"/>
<rect x="197.6" y="250.1" width="1.3" height="1.3" fill="#31688e"/>
<rect x="168.1" y="303.6" width="1.3" height="1.3" fill="#3e4989"/>
<rect x="132.1" y="263.9" width="1.3" height="1.3" fill="#3e4989"/>
<rect x="129.4" y="330.1" width="1.3" height="1.3" fill="#482878"/>
<rect x="117.0" y="258.5" width="1.3" height="1.3" fill="#261816"/>
<rect x="132.6" y="314.4" width="1.3" height="1.3" fill="#35b779"/>
<rect x="181.3" y="258.9" width="1.3" height="1.3" fill="#3e4989"/>
<rect x="174.8" y="296.0" width="1.3" height="1.3" fill="#261816"/>
<rect x="172.2" y="319.5" width="1.3" height="1.3" fill="#1f9e89"/>
<rect x="152.8" y="257.2" width="1.3" height="1.3" fill="#261816"/>
<rect x="121.2" y="289.9" width="1.3" height="1.3" fill="#1f9e89"/>
<rect x="127.1" y="268.5" width="1.3" height="1.3" fill="#482878"/>
<rect x="138.6" y="322.7" width="1.3" height="1.3" fill="#26828e"/>
<rect x="190.1" y="268.9" width="1.3" height="1.3" fill="#261816"/>
<rect x="184.9" y="279.0" width="1.3" height="1.3" fill="#3e4989"/>
<rect x="169.5" y="263.1" width="1.3" height="1.3" fill="#3e4989"/>
<rect x="117.2" y="259.0" width="1.3" height="1.3" fill="#31688e"/>
<rect x="189.6" y="320.2" width="1.3" height="1.3" fill="#1f9e89"/>
<rect x="162.2" y="321.8" width="1.3" height="1.3" fill="#31688e"/>
<rect x="162.4" y="284.9" width="1.3" height="1.3" fill="#26828e"/>
<rect x="140.0" y="285.9" width="1.3" height="1.3" fill="#2c8a8a"/>
<rect x="154.2" y="259.9" width="1.3" height="1.3" fill="#3e4989"/>
<rect x="168.2" y="299.6" width="1.3" height="1.3" fill="#1f9e89"/>
<rect x="134.2" y="322.7" width="1.3" height="1.3" fill="#2c8a8a"/>
<rect x="137.7" y="260.3" width="1.3" height="1.3" fill="#35b779"/>
<rect x="117.3" y="281.6" width="1.3" height="1.3" fill="#31688e"/>
<rect x="161.2" y="321.1" width="1.3" height="1.3" fill="#1f9e89"/>
<rect x="122.5" y="326.1" width="1.3" height="1.3" fill="#26828e"/>
<rect x="183.9" y="264.4" width="1.3" height="1.3" fill="#261816"/>
<rect x="184.6" y="317.1" width="1.3" height="1.3" fill="#261816"/>
<rect x="155.0" y="307.3" width="1.3" height="1.3" fill="#261816"/>
<rect x="121.5" y="324.3" width="1.3" height="1.3" fill="#261816"/>
<rect x="165.3" y="255.1" width="1.3" height="1.3" fill="#261816"/>
<rect x="141.9" y="255.6" width="1.3" height="1.3" fill="#261816"/>
<rect x="125.2" y="320.7" width="1.3" height="1.3" fill="#3e4989"/>
<rect x="199.0" y="301.8" width="1.3" height="1.3" fill="#35b779"/>
<rect x="175.8" y="281.5" width="1.3" height="1.3" fill="#261816"/>
<rect x="144.2" y="319.2" width="1.3" height="1.3" fill="#261816"/>
<rect x="132.4" y="310.7" width="1.3" height="1.3" fill="#261816"/>
<rect x="181.5" y="274.6" width="1.3" height="1.3" fill="#35b779"/>
<rect x="128.2" y="271.0" width="1.3" height="1.3" fill="#3e4989"/>
<rect x="133.1" y="305.1" width="1.3" height="1.3" fill="#3e4989"/>
<rect x="148.1" y="328.9" width="1.3" height="1.3" fill="#3e4989"/>
<rect x="189.3" y="309.8" width="1.3" height="1.3" fill="#2c8a8a"/>
<rect x="179.0" y="306.0" width="1.3" height="1.3" fill="#31688e"/>
<rect x="133.8" y="309.3" width="1.3" height="1.3" fill="#35b779"/>
<rect x="154.4" y="304.1" width="1.3" height="1.3" fill="#261816"/>
<rect x="182.6" y="316.6" width="1.3" height="1.3" fill="#1f9e89"/>
<rect x="128.0" y="306.1" width="1.3" height="1.3" fill="#3e4989"/>
<rect x="115.2" y="264.1" width="1.3" height="1.3" fill="#482878"/>
<rect x="146.7" y="307.9" width="1.3" height="1.3" fill="#3e4989"/>
<rect x="183.6" y="310.9" width="1.3" height="1.3" fill="#2c8a8a"/>
<rect x="162.8" y="330.8" width="1.3" height="1.3" fill="#2c8a8a"/>
<rect x="147.3" y="328.7" width="1.3" height="1.3" fill="#3e4989"/>
<rect x="175.5" y="299.6" width="1.3" height="1.3" fill="#261816"/>
<rect x="189.8" y="256.5" width="1.3" height="1.3" fill="#35b779"/>
<rect x="166.9" y="271.3" width="1.3" height="1.3" fill="#482878"/>
<rect x="140.3" y="331.9" width="1.3" height="1.3" fill="#482878"/>
<rect x="186.2" y="308.3" width="1.3" height="1.3" fill="#482878"/>
<rect x="128.8" y="258.9" width="1.3" height="1.3" fill="#35b779"/>
<rect x="175.8" y="267.3" width="1.3" height="1.3" fill="#482878"/>
<rect x="140.4" y="310.5" width="1.3" height="1.3" fill="#3e4989"/>
<rect x="198.6" y="305.6" width="1.3" height="1.3" fill="#261816"/>
<rect x="121.3" y="298.6" width="1.3" height="1.3" fill="#31688e"/>
<rect x="176.4" y="253.4" width="1.3" height="1.3" fill="#35b779"/>
<rect x="159.2" y="300.2" width="1.3" height="1.3" fill="#35b779"/>
<rect x="188.2" y="285.3" width="1.3" height="1.3" fill="#26828e"/>
<rect x="128.1" y="250.4" width="1.3" height="1.3" fill="#35b779"/>
<rect x="153.3" y="270.0" width="1.3" height="1.3" fill="#1f9e89"/>
<rect x="169.8" y="259.3" width="1.3" height="1.3" fill="#3e4989"/>
<rect x="144.9" y="303.6" width="1.3" height="1.3" fill="#261816"/>
<rect x="168.2" y="275.4" width="1.3" height="1.3" fill="#26828e"/>
<rect x="170.2" y="298.1" width="1.3" height="1.3" fill="#482878"/>
<rect x="143.0" y="250.2" width="1.3" height="1.3" fill="#35b779"/>
<rect x="175.6" y="330.2" width="1.3" height="1.3" fill="#26828e"/>
<rect x="189.8" y="327.2" width="1.3" height="1.3" fill="#26828e"/>
<rect x="122.0" y="317.1" width="1.3" height="1.3" fill="#3e4989"/>
<rect x="155.4" y="289.2" width="1.3" height="1.3" fill="#35b779"/>
<rect x="115.6" y="319.6" width="1.3" height="1.3" fill="#261816"/>
<rect x="153.4" y="329.4" width="1.3" height="1.3" fill="#2c8a8a"/>
<rect x="126.6" y="283.0" width="1.3" height="1.3" fill="#1f9e89"/>
<rect x="152.0" y="291.0" width="1.3" height="1.3" fill="#3e4989"/>
<rect x="121.3" y="259.5" width="1.3" height="1.3" fill="#26828e"/>
<rect x="136.0" y="276.5" width="1.3" height="1.3" fill="#482878"/>
<rect x="182.1" y="253.8" width="1.3" height="1.3" fill="#31688e"/>
<rect x="195.5" y="277.9" width="1.3" height="1.3" fill="#482878"/>
<rect x="170.6" y="307.6" width="1.3" height="1.3" fill="#35b779"/>
<rect x="129.8" y="318.6" width="1.3" height="1.3" fill="#261816"/>
<rect x="129.6" y="327.8" width="1.3" height="1.3" fill="#261816"/>
<rect x="146.7" y="277.3" width="1.3" height="1.3" fill="#3e4989"/>
<rect x="192.1" y="264.7" width="1.3" height="1.3" fill="#3e4989"/>
<rect x="144.1" y="264.5" width="1.3" height="1.3" fill="#31688e"/>
<rect x="123.0" y="328.6" width="1.3" height="1.3" fill="#482878"/>
<rect x="162.1" y="301.2" width="1.3" height="1.3" fill="#2c8a8a"/>
<rect x="139.7" y="258.1" width="1.3" height="1.3" fill="#3e4989"/>
<rect x="131.3" y="317.3" width="1.3" height="1.3" fill="#3e4989"/>
<rect x="135.5" y="275.9" width="1.3" height="1.3" fill="#31688e"/>
<rect x="129.7" y="330.0" width="1.3" height="1.3" fill="#3e4989"/>
<rect x="159.7" y="307.7" width="1.3" height="1.3" fill="#1f9e89"/>
<rect x="131.7" y="302.1" width="1.3" height="1.3" fill="#261816"/>
<rect x="182.3" y="312.0" width="1.3" height="1.3" fill="#3e4989"/>
<rect x="171.7" y="264.2" width="1.3" height="1.3" fill="#26828e"/>
<rect x="135.9" y="273.1" width="1.3" height="1.3" fill="#261816"/>
<rect x="119.0" y="287.2" width="1.3" height="1.3" fill="#261816"/>
<rect x="143.3" y="274.8" width="1.3" height="1.3" fill="#3e4989"/>
<rect x="152.5" y="331.8" width="1.3" height="1.3" fill="#3e4989"/>
<rect x="188.0" y="308.0" width="1.3" height="1.3" fill="#31688e"/>
<rect x="174.3" y="271.4" width="1.3" height="1.3" fill="#482878"/>
<rect x="134.2" y="286.6" width="1.3" height="1.3" fill="#31688e"/>
<rect x="173.9" y="329.4" width="1.3" height="1.3" fill="#3e4989"/>
<rect x="155.5" y="259.6" width="1.3" height="1.3" fill="#482878"/>
<rect x="172.4" y="277.8" width="1.3" height="1.3" fill="#1f9e89"/>
<rect x="119.3" y="255.0" width="1.3" height="1.3" fill="#3e4989"/>
<rect x="138.3" y="324.8" width="1.3" height="1.3" fill="#261816"/>
<rect x="146.4" y="271.4" width="1.3" height="1.3" fill="#3e4989"/>
<rect x="152.7" y="260.6" width="1.3" height="1.3" fill="#1f9e89"/>
<rect x="141.8" y="330.9" width="1.3" height="1.3" fill="#3e4989"/>
<rect x="160.7" y="267.7" width="1.3" height="1.3" fill="#261816"/>
<rect x="189.5" y="284.8" width="1.3" height="1.3" fill="#3e4989"/>
<rect x="182.2" y="269.1" width="1.3" height="1.3" fill="#3e4989"/>
<rect x="125.6" y="296.6" width="1.3" height="1.3" fill="#3e4989"/>
<rect x="186.9" y="292.2" width="1.3" height="1.3" fill="#482878"/>
<rect x="152.3" y="320.4" width="1.3" height="1.3" fill="#261816"/>
<rect x="132.8" y="282.7" width="1.3" height="1.3" fill="#3e4989"/>
<rect x="191.5" y="259.7" width="1.3" height="1.3" fill="#35b779"/>
<rect x="122.5" y="293.2" width="1.3" height="1.3" fill="#1f9e89"/>
<rect x="176.4" y="263.2" width="1.3" height="1.3" fill="#2c8a8a"/>
<rect x="153.5" y="272.4" width="1.3" height="1.3" fill="#3e4989"/>
<rect x="151.4" y="329.2" width="1.3" height="1.3" fill="#35b779"/>
<rect x="135.4" y="280.9" width="1.3" height="1.3" fill="#2c8a8a"/>
<rect x="162.2" y="273.2" width="1.3" height="1.3" fill="#261816"/>
<rect x="128.4" y="318.6" width="1.3" height="1.3" fill="#26828e"/>
<rect x="133.8" y="256.4" width="1.3" height="1.3" fill="#1f9e89"/>
<rect x="182.0" y="299.8" width="1.3" height="1.3" fill="#3e4989"/>
<rect x="150.4" y="286.3" width="1.3" height="1.3" fill="#2c8a8a"/>
<rect x="180.1" y="269.7" width="1.3" height="1.3" fill="#261816"/>
<rect x="180.2" y="302.3" width="1.3" height="1.3" fill="#2c8a8a"/>
<rect x="144.5" y="267.4" width="1.3" height="1.3" fill="#31688e"/>
<rect x="162.6" y="316.7" width="1.3" height="1.3" fill="#3e4989"/>
<rect x="152.9" y="288.7" width="1.3" height="1.3" fill="#3e4989"/>
<rect x="169.3" y="312.3" width="1.3" height="1.3" fill="#482878"/>
<rect x="154.3" y="278.0" width="1.3" height="1.3" fill="#261816"/>
<rect x="179.3" y="278.7" width="1.3" height="1.3" fill="#26828e"/>
<rect x="136.4" y="293.7" width="1.3" height="1.3" fill="#261816"/>
<rect x="146.9" y="258.0" width="1.3" height="1.3" fill="#3e4989"/>
<rect x="161.7" y="261.7" width="1.3" height="1.3" fill="#2c8a8a"/>
<rect x="123.1" y="286.5" width="1.3" height="1.3" fill="#261816"/>
<rect x="153.1" y="256.9" width="1.3" height="1.3" fill="#261816"/>
<rect x="140.2" y="279.3" width="1.3" height="1.3" fill="#261816"/>
<rect x="192.2" y="327.1" width="1.3" height="1.3" fill="#261816"/>
<rect x="128.1" y="269.7" width="1.3" height="1.3" fill="#31688e"/>
<rect x="162.4" y="255.2" width="1.3" height="1.3" fill="#26828e"/>
<rect x="116.9" y="290.1" width="1.3" height="1.3" fill="#35b779"/>
<rect x="139.0" y="297.7" width="1.3" height="1.3" fill="#35b779"/>
<rect x="174.4" y="280.9" width="1.3" height="1.3" fill="#261816"/>
<rect x="153.6" y="302.1" width="1.3" height="1.3" fill="#26828e"/>
<rect x="186.1" y="284.8" width="1.3" height="1.3" fill="#3e4989"/>
<rect x="130.6" y="270.4" width="1.3" height="1.3" fill="#261816"/>
<rect x="144.7" y="265.8" width="1.3" height="1.3" fill="#261816"/>
<rect x="157.7" y="312.8" width="1.3" height="1.3" fill="#261816"/>
<rect x="144.8" y="276.5" width="1.3" height="1.3" fill="#31688e"/>
<rect x="115.6" y="251.5" width="1.3" height="1.3" fill="#482878"/>
<rect x="122.6" y="298.4" width="1.3" height="1.3" fill="#261816"/>
<rect x="185.6" y="285.5" width="1.3" height="1.3" fill="#3e4989"/>
<rect x="126.2" y="307.1" width="1.3" height="1.3" fill="#261816"/>
<rect x="185.1" y="264.4" width="1.3" height="1.3" fill="#1f9e89"/>
<rect x="192.2" y="314.5" width="1.3" height="1.3" fill="#3e4989"/>
<rect x="198.1" y="295.6" width="1.3" height="1.3" fill="#482878"/>
<rect x="170.5" y="320.5" width="1.3" height="1.3" fill="#482878"/>
<rect x="140.9" y="267.0" width="1.3" height="1.3" fill="#2c8a8a"/>
<rect x="142.0" y="275.1" width="1.3" height="1.3" fill="#261816"/>
<rect x="173.4" y="293.9" width="1.3" height="1.3" fill="#31688e"/>
<rect x="146.8" y="279.7" width="1.3" height="1.3" fill="#261816"/>
<rect x="191.8" y="301.3" width="1.3" height="1.3" fill="#261816"/>
<rect x="177.3" y="284.3" width="1.3" height="1.3" fill="#261816"/>
<rect x="154.4" y="307.1" width="1.3" height="1.3" fill="#3e4989"/>
<rect x="121.9" y="251.2" width="1.3" height="1.3" fill="#482878"/>
<rect x="153.4" y="319.7" width="1.3" height="1.3" fill="#2c8a8a"/>
<rect x="152.8" y="274.0" width="1.3" height="1.3" fill="#482878"/>
<rect x="145.5" y="311.3" width="1.3" height="1.3" fill="#1f9e89"/>
<rect x="185.2" y="259.9" width="1.3" height="1.3" fill="#3e4989"/>
<rect x="119.0" y="273.3" width="1.3" height="1.3" fill="#482878"/>
<rect x="160.0" y="298.2" width="1.3" height="1.3" fill="#261816"/>
<rect x="115.4" y="318.6" width="1.3" height="1.3" fill="#31688e"/>
<rect x="141.3" y="301.3" width="1.3" height="1.3" fill="#261816"/>
<rect x="193.0" y="296.2" width="1.3" height="1.3" fill="#31688e"/>
<rect x="166.2" y="276.3" width="1.3" height="1.3" fill="#261816"/>
<rect x="181.0" y="266.5" width="1.3" height="1.3" fill="#482878"/>
<rect x="195.1" y="269.4" width="1.3" height="1.3" fill="#31688e"/>
<rect x="157.7" y="314.7" width="1.3" height="1.3" fill="#31688e"/>
<rect x="126.0" y="313.6" width="1.3" height="1.3" fill="#261816"/>
<rect x="177.3" y="287.5" width="1.3" height="1.3" fill="#1f9e89"/>
<rect x="158.2" y="288.7" width="1.3" height="1.3" fill="#3e4989"/>
<rect x="150.7" y="281.0" width="1.3" height="1.3" fill="#482878"/>
<rect x="139.7" y="253.7" width="1.3" height="1.3" fill="#3e4989"/>
<rect x="190.7" y="256.1" width="1.3" height="1.3" fill="#31688e"/>
<rect x="178.2" y="323.5" width="1.3" height="1.3" fill="#482878"/>
<rect x="126.4" y="281.6" width="1.3" height="1.3" fill="#26828e"/>
<rect x="184.7" y="308.3" width="1.3" height="1.3" fill="#482878"/>
<rect x="192.8" y="285.2" width="1.3" height="1.3" fill="#26828e"/>
<rect x="165.8" y="259.9" width="1.3" height="1.3" fill="#3e4989"/>
<rect x="138.2" y="298.4" width="1.3" height="1.3" fill="#261816"/>
<rect x="194.4" y="305.8" width="1.3" height="1.3" fill="#2c8a8a"/>
<rect x="145.4" y="292.3" width="1.3" height="1.3" fill="#3e4989"/>
<rect x="188.8" y="321.9" width="1.3" height="1.3" fill="#482878"/>
<rect x="136.7" y="256.3" width="1.3" height="1.3" fill="#2c8a8a"/>
<rect x="168.7" y="303.8" width="1.3" height="1.3" fill="#26828e"/>
<rect x="141.3" y="276.4" width="1.3" height="1.3" fill="#261816"/>
<rect x="149.3" y="311.1" width="1.3" height="1.3" fill="#261816"/>
<rect x="146.1" y="300.0" width="1.3" height="1.3" fill="#2c8a8a"/>
<rect x="153.8" y="262.7" width="1.3" height="1.3" fill="#261816"/>
<rect x="184.2" y="270.3" width="1.3" height="1.3" fill="#3e4989"/>
<rect x="122.3" y="296.5" width="1.3" height="1.3" fill="#261816"/>
<rect x="183.1" y="274.9" width="1.3" height="1.3" fill="#31688e"/>
<rect x="160.0" y="251.9" width="1.3" height="1.3" fill="#3e4989"/>
</g>
<path d="M130.7,262.5 C133.7,255.0 145.3,255.0 149.0,256.3 C152.8,257.7 152.8,263.2 153.1,270.7 C153.5,278.1 153.1,294.2 151.1,301.3 C149.0,308.5 144.3,313.6 140.9,313.6 C137.5,313.6 132.4,309.8 130.7,301.3 C129.0,292.8 127.6,270.0 130.7,262.5 Z" fill="none" stroke="#fff" stroke-width="0.6" stroke-dasharray="0.8,1.6"/>
<path d="M161.3,268.6 C164.7,265.2 176.8,264.5 181.7,266.6 C186.7,268.6 189.2,274.4 190.9,280.9 C192.6,287.3 193.5,298.6 192.0,305.4 C190.4,312.2 186.9,318.3 181.7,321.7 C176.6,325.2 166.8,325.8 161.3,325.8 C155.9,325.8 149.7,325.2 149.0,321.7 C148.4,318.3 155.2,311.2 157.2,305.4 C159.3,299.6 160.6,293.1 161.3,287.0 C162.0,280.9 157.9,272.0 161.3,268.6 Z" fill="none" stroke="#fff" stroke-width="0.6" stroke-dasharray="0.8,1.6"/>
<ellipse cx="140.9" cy="285.0" rx="4" ry="4.5" fill="#261816" stroke="#fff" stroke-width="0.5" stroke-dasharray="0.8,1.2"/>
<rect x="201.5" y="249.2" width="1.8" height="87.80000000000001" fill="url(#vir)"/>
<text x="206.1" y="261.7" class="t8" style="fill:#fff">0.10</text>
<text x="206.1" y="271.7" class="t8" style="fill:#fff">0.08</text>
<text x="206.1" y="281.7" class="t8" style="fill:#fff">0.06</text>
<text x="206.1" y="291.7" class="t8" style="fill:#fff">0.04</text>
<text x="206.1" y="301.7" class="t8" style="fill:#fff">0.02</text>
<text x="206.1" y="311.7" class="t8" style="fill:#fff">0.00</text>
<text x="206.1" y="321.7" class="t8" style="fill:#fff">-0.02</text>
<text x="206.1" y="331.7" class="t8" style="fill:#fff">-0.04</text>
<path d="M120.4,336 L120.4,315 M120.4,336 L140.4,336" stroke="#fff" stroke-width="0.8" fill="none"/>
<path d="M118.80000000000001,316.5 L120.4,313 L122.0,316.5 Z M138.9,334.4 L142.4,336 L138.9,337.6 Z" fill="#fff"/>
<text transform="translate(118.2,335.5) rotate(-90)" class="t8" style="fill:#fff">spatial 2</text>
<text x="116.4" y="342.6" class="t8" style="fill:#fff">spatial 1</text>
<path d="M287.1,250.0 C284.4,250.7 280.9,252.2 278.2,254.4 C275.5,256.7 272.7,259.6 270.8,263.4 C268.8,267.1 267.2,272.0 266.3,276.8 C265.4,281.5 265.3,286.7 265.5,291.6 C265.8,296.6 266.4,301.6 267.8,306.5 C269.1,311.5 271.3,317.2 273.7,321.4 C276.2,325.6 279.7,329.1 282.7,331.8 C285.6,334.6 288.6,336.8 291.6,337.8 C294.6,338.8 298.3,338.6 300.5,337.8 C302.8,337.1 304.5,335.6 305.0,333.3 C305.5,331.1 304.8,327.1 303.5,324.4 C302.3,321.7 299.8,319.7 297.6,317.0 C295.3,314.2 292.1,310.8 290.1,308.0 C288.1,305.3 287.1,303.3 285.6,300.6 C284.2,297.9 282.2,294.4 281.2,291.6 C280.2,288.9 279.2,286.4 279.7,284.2 C280.2,282.0 282.4,280.7 284.2,278.2 C285.9,275.8 288.1,272.3 290.1,269.3 C292.1,266.3 294.6,262.9 296.1,260.4 C297.6,257.9 299.3,256.2 299.0,254.4 C298.8,252.7 296.6,250.7 294.6,250.0 C292.6,249.2 289.9,249.2 287.1,250.0 Z" fill="#dc9ccf" stroke="#cc6cba" stroke-width="1"/>
<path d="M282.7,257.4 C280.4,257.6 275.7,263.6 273.7,267.8 C271.8,272.0 270.5,278.5 270.8,282.7 C271.0,286.9 273.5,293.1 275.2,293.1 C277.0,293.1 279.2,287.2 281.2,282.7 C283.2,278.2 286.9,270.6 287.1,266.3 C287.4,262.1 284.9,257.2 282.7,257.4 Z" fill="#edd2ea" opacity="0.9"/>
<path d="M291.6,260.4 C293.6,258.4 298.8,257.4 302.0,258.9 C305.3,260.4 309.3,264.8 311.0,269.3 C312.6,273.8 312.7,281.5 311.7,285.7 C310.7,289.9 307.9,292.9 305.0,294.6 C302.2,296.4 297.2,297.6 294.6,296.1 C292.0,294.6 290.1,289.9 289.4,285.7 C288.6,281.5 289.7,275.0 290.1,270.8 C290.5,266.6 289.6,262.4 291.6,260.4 Z" fill="#cfa0d0" stroke="#c080c0" stroke-width="0.5"/>
<path d="M287.1,294.6 C288.9,294.4 294.8,299.6 297.6,302.1 C300.3,304.6 303.0,307.5 303.5,309.5 C304.0,311.5 302.0,313.7 300.5,314.0 C299.0,314.2 296.8,312.7 294.6,311.0 C292.3,309.3 288.4,306.3 287.1,303.6 C285.9,300.8 285.4,294.9 287.1,294.6 Z" fill="#e0b0d6" stroke="#c462b0" stroke-width="0.6"/>
<path d="M287.1,254.4 C284.7,253.7 279.6,257.2 276.7,260.4 C273.9,263.6 271.3,268.3 270.0,273.8 C268.8,279.2 268.6,286.9 269.3,293.1 C269.9,299.3 271.3,305.3 273.7,311.0 C276.2,316.7 280.7,323.4 284.2,327.4 C287.6,331.4 291.6,333.8 294.6,334.8 C297.6,335.8 301.0,335.3 302.0,333.3 C303.0,331.4 302.5,326.1 300.5,322.9 C298.6,319.7 293.1,317.2 290.1,314.0 C287.1,310.8 284.7,307.8 282.7,303.6 C280.7,299.3 278.5,292.9 278.2,288.7 C278.0,284.5 278.9,282.2 281.2,278.2 C283.4,274.3 290.6,268.8 291.6,264.8 C292.6,260.9 289.6,255.2 287.1,254.4 Z" fill="none" stroke="#333" stroke-width="0.6" stroke-dasharray="0.8,1.6"/>
<path d="M290.1,258.9 C292.6,254.7 299.8,255.4 303.5,257.4 C307.2,259.4 311.0,265.8 312.4,270.8 C313.9,275.8 313.7,283.0 312.4,287.2 C311.2,291.4 308.2,294.4 305.0,296.1 C301.8,297.9 295.8,299.8 293.1,297.6 C290.4,295.4 289.1,289.2 288.6,282.7 C288.1,276.3 287.6,263.1 290.1,258.9 Z" fill="none" stroke="#333" stroke-width="0.6" stroke-dasharray="0.8,1.6"/>
<text x="240.2" y="252.6" class="t8d">Larval cuticle</text>
<text x="294.6" y="304.3" class="t8d">Hemopoietic</text>
<text x="308" y="312.3" class="t8d">organ</text>
<text x="246.2" y="338.1" class="t8d">Epidermis</text>
<text transform="translate(271.6,301.2) rotate(55)" class="t8d">Wing sac</text>
<clipPath id="cp2"><path d="M397.8,252.8 C395.5,253.3 392.3,255.4 389.1,258.0 C385.8,260.6 381.2,264.4 378.5,268.5 C375.9,272.6 374.3,277.3 373.3,282.5 C372.3,287.8 372.1,294.8 372.4,300.1 C372.7,305.3 373.4,310.0 375.0,314.1 C376.6,318.2 379.1,321.7 382.0,324.6 C385.0,327.5 389.1,329.8 392.6,331.6 C396.1,333.3 399.9,335.0 403.1,335.1 C406.3,335.2 410.1,334.8 411.8,332.5 C413.6,330.1 414.2,324.7 413.6,321.1 C413.0,317.4 410.7,313.5 408.3,310.6 C406.0,307.7 401.9,305.9 399.6,303.6 C397.2,301.2 394.6,299.2 394.3,296.6 C394.0,293.9 396.4,291.6 397.8,287.8 C399.3,284.0 401.9,277.9 403.1,273.8 C404.2,269.7 404.8,266.5 404.8,263.3 C404.8,260.1 404.2,256.3 403.1,254.5 C401.9,252.8 400.1,252.2 397.8,252.8 Z"/></clipPath>
<path d="M397.8,252.8 C395.5,253.3 392.3,255.4 389.1,258.0 C385.8,260.6 381.2,264.4 378.5,268.5 C375.9,272.6 374.3,277.3 373.3,282.5 C372.3,287.8 372.1,294.8 372.4,300.1 C372.7,305.3 373.4,310.0 375.0,314.1 C376.6,318.2 379.1,321.7 382.0,324.6 C385.0,327.5 389.1,329.8 392.6,331.6 C396.1,333.3 399.9,335.0 403.1,335.1 C406.3,335.2 410.1,334.8 411.8,332.5 C413.6,330.1 414.2,324.7 413.6,321.1 C413.0,317.4 410.7,313.5 408.3,310.6 C406.0,307.7 401.9,305.9 399.6,303.6 C397.2,301.2 394.6,299.2 394.3,296.6 C394.0,293.9 396.4,291.6 397.8,287.8 C399.3,284.0 401.9,277.9 403.1,273.8 C404.2,269.7 404.8,266.5 404.8,263.3 C404.8,260.1 404.2,256.3 403.1,254.5 C401.9,252.8 400.1,252.2 397.8,252.8 Z" fill="#2f7690"/>
<path d="M403.1,261.5 C405.0,260.4 409.8,260.9 411.8,263.3 C413.9,265.6 414.9,270.0 415.3,275.5 C415.8,281.1 415.9,292.2 414.5,296.6 C413.0,300.9 409.2,301.8 406.6,301.8 C403.9,301.8 400.1,299.8 398.7,296.6 C397.2,293.3 397.5,286.9 397.8,282.5 C398.1,278.2 399.6,273.8 400.4,270.3 C401.3,266.8 401.2,262.7 403.1,261.5 Z" fill="#35598f"/>
<g clip-path="url(#cp2)">
<rect x="408.2" y="294.8" width="1.3" height="1.3" fill="#6ece58"/>
<rect x="397.0" y="259.8" width="1.3" height="1.3" fill="#26828e"/>
<rect x="420.0" y="267.5" width="1.3" height="1.3" fill="#3e4989"/>
<rect x="412.5" y="305.3" width="1.3" height="1.3" fill="#35b779"/>
<rect x="388.2" y="312.3" width="1.3" height="1.3" fill="#6ece58"/>
<rect x="373.7" y="331.2" width="1.3" height="1.3" fill="#6ece58"/>
<rect x="388.8" y="314.2" width="1.3" height="1.3" fill="#6ece58"/>
<rect x="393.7" y="314.5" width="1.3" height="1.3" fill="#35b779"/>
<rect x="406.2" y="314.0" width="1.3" height="1.3" fill="#26828e"/>
<rect x="409.0" y="279.1" width="1.3" height="1.3" fill="#1f9e89"/>
<rect x="380.4" y="312.2" width="1.3" height="1.3" fill="#261816"/>
<rect x="383.4" y="277.4" width="1.3" height="1.3" fill="#35b779"/>
<rect x="387.4" y="322.7" width="1.3" height="1.3" fill="#6ece58"/>
<rect x="403.2" y="327.0" width="1.3" height="1.3" fill="#6ece58"/>
<rect x="418.2" y="281.9" width="1.3" height="1.3" fill="#261816"/>
<rect x="407.6" y="296.4" width="1.3" height="1.3" fill="#3e4989"/>
<rect x="405.0" y="327.4" width="1.3" height="1.3" fill="#26828e"/>
<rect x="373.6" y="296.3" width="1.3" height="1.3" fill="#1f9e89"/>
<rect x="374.9" y="333.4" width="1.3" height="1.3" fill="#35b779"/>
<rect x="394.5" y="271.8" width="1.3" height="1.3" fill="#261816"/>
<rect x="410.5" y="297.9" width="1.3" height="1.3" fill="#1f9e89"/>
<rect x="419.0" y="318.4" width="1.3" height="1.3" fill="#3e4989"/>
<rect x="397.2" y="316.5" width="1.3" height="1.3" fill="#261816"/>
<rect x="405.8" y="291.9" width="1.3" height="1.3" fill="#26828e"/>
<rect x="370.5" y="266.0" width="1.3" height="1.3" fill="#6ece58"/>
<rect x="388.3" y="303.2" width="1.3" height="1.3" fill="#3e4989"/>
<rect x="405.0" y="262.9" width="1.3" height="1.3" fill="#261816"/>
<rect x="405.5" y="327.9" width="1.3" height="1.3" fill="#31688e"/>
<rect x="383.2" y="292.6" width="1.3" height="1.3" fill="#1f9e89"/>
<rect x="411.7" y="301.6" width="1.3" height="1.3" fill="#6ece58"/>
<rect x="406.6" y="277.6" width="1.3" height="1.3" fill="#6ece58"/>
<rect x="410.4" y="253.4" width="1.3" height="1.3" fill="#261816"/>
<rect x="405.1" y="323.4" width="1.3" height="1.3" fill="#26828e"/>
<rect x="400.7" y="323.6" width="1.3" height="1.3" fill="#1f9e89"/>
<rect x="373.8" y="301.5" width="1.3" height="1.3" fill="#35b779"/>
<rect x="380.6" y="331.9" width="1.3" height="1.3" fill="#1f9e89"/>
<rect x="409.5" y="290.0" width="1.3" height="1.3" fill="#1f9e89"/>
<rect x="412.1" y="253.4" width="1.3" height="1.3" fill="#261816"/>
<rect x="396.9" y="294.7" width="1.3" height="1.3" fill="#1f9e89"/>
<rect x="419.6" y="304.5" width="1.3" height="1.3" fill="#26828e"/>
<rect x="389.3" y="252.3" width="1.3" height="1.3" fill="#3e4989"/>
<rect x="381.2" y="304.2" width="1.3" height="1.3" fill="#35b779"/>
<rect x="403.3" y="321.3" width="1.3" height="1.3" fill="#35b779"/>
<rect x="392.8" y="312.2" width="1.3" height="1.3" fill="#35b779"/>
<rect x="419.7" y="309.8" width="1.3" height="1.3" fill="#26828e"/>
<rect x="390.0" y="298.4" width="1.3" height="1.3" fill="#1f9e89"/>
<rect x="412.7" y="281.4" width="1.3" height="1.3" fill="#31688e"/>
<rect x="371.1" y="319.2" width="1.3" height="1.3" fill="#261816"/>
<rect x="379.0" y="325.8" width="1.3" height="1.3" fill="#261816"/>
<rect x="418.2" y="261.9" width="1.3" height="1.3" fill="#3e4989"/>
<rect x="382.1" y="294.1" width="1.3" height="1.3" fill="#261816"/>
<rect x="376.2" y="305.1" width="1.3" height="1.3" fill="#31688e"/>
<rect x="417.9" y="274.1" width="1.3" height="1.3" fill="#31688e"/>
<rect x="411.6" y="251.8" width="1.3" height="1.3" fill="#261816"/>
<rect x="394.4" y="327.6" width="1.3" height="1.3" fill="#261816"/>
<rect x="389.7" y="251.8" width="1.3" height="1.3" fill="#261816"/>
<rect x="383.0" y="256.6" width="1.3" height="1.3" fill="#6ece58"/>
<rect x="384.8" y="279.0" width="1.3" height="1.3" fill="#3e4989"/>
<rect x="418.5" y="268.5" width="1.3" height="1.3" fill="#35b779"/>
<rect x="375.9" y="269.3" width="1.3" height="1.3" fill="#1f9e89"/>
<rect x="395.6" y="267.5" width="1.3" height="1.3" fill="#6ece58"/>
<rect x="416.2" y="268.3" width="1.3" height="1.3" fill="#261816"/>
<rect x="419.6" y="308.5" width="1.3" height="1.3" fill="#31688e"/>
<rect x="385.6" y="265.2" width="1.3" height="1.3" fill="#261816"/>
<rect x="418.1" y="288.4" width="1.3" height="1.3" fill="#26828e"/>
<rect x="419.3" y="266.0" width="1.3" height="1.3" fill="#35b779"/>
<rect x="398.4" y="278.6" width="1.3" height="1.3" fill="#261816"/>
<rect x="388.8" y="253.1" width="1.3" height="1.3" fill="#26828e"/>
<rect x="387.5" y="250.3" width="1.3" height="1.3" fill="#6ece58"/>
<rect x="410.5" y="257.0" width="1.3" height="1.3" fill="#31688e"/>
<rect x="401.3" y="261.3" width="1.3" height="1.3" fill="#261816"/>
<rect x="374.0" y="329.8" width="1.3" height="1.3" fill="#31688e"/>
<rect x="392.7" y="299.9" width="1.3" height="1.3" fill="#6ece58"/>
<rect x="375.1" y="321.9" width="1.3" height="1.3" fill="#26828e"/>
<rect x="384.0" y="314.7" width="1.3" height="1.3" fill="#3e4989"/>
<rect x="399.8" y="300.3" width="1.3" height="1.3" fill="#26828e"/>
<rect x="404.5" y="273.0" width="1.3" height="1.3" fill="#3e4989"/>
<rect x="393.1" y="326.2" width="1.3" height="1.3" fill="#35b779"/>
<rect x="412.5" y="265.2" width="1.3" height="1.3" fill="#261816"/>
<rect x="400.2" y="265.6" width="1.3" height="1.3" fill="#1f9e89"/>
<rect x="395.2" y="294.8" width="1.3" height="1.3" fill="#261816"/>
<rect x="404.8" y="322.9" width="1.3" height="1.3" fill="#261816"/>
<rect x="381.5" y="327.4" width="1.3" height="1.3" fill="#3e4989"/>
<rect x="416.5" y="267.2" width="1.3" height="1.3" fill="#31688e"/>
<rect x="381.4" y="273.6" width="1.3" height="1.3" fill="#261816"/>
<rect x="384.6" y="252.2" width="1.3" height="1.3" fill="#261816"/>
<rect x="384.4" y="295.3" width="1.3" height="1.3" fill="#35b779"/>
<rect x="395.7" y="295.3" width="1.3" height="1.3" fill="#6ece58"/>
<rect x="388.8" y="308.0" width="1.3" height="1.3" fill="#261816"/>
<rect x="406.2" y="283.9" width="1.3" height="1.3" fill="#261816"/>
<rect x="388.0" y="309.7" width="1.3" height="1.3" fill="#31688e"/>
<rect x="387.6" y="306.7" width="1.3" height="1.3" fill="#1f9e89"/>
<rect x="382.8" y="327.8" width="1.3" height="1.3" fill="#3e4989"/>
<rect x="418.5" y="259.7" width="1.3" height="1.3" fill="#261816"/>
<rect x="377.1" y="301.9" width="1.3" height="1.3" fill="#261816"/>
<rect x="412.6" y="311.5" width="1.3" height="1.3" fill="#261816"/>
<rect x="385.4" y="317.6" width="1.3" height="1.3" fill="#261816"/>
<rect x="409.9" y="332.5" width="1.3" height="1.3" fill="#31688e"/>
<rect x="372.3" y="321.7" width="1.3" height="1.3" fill="#261816"/>
<rect x="386.7" y="264.9" width="1.3" height="1.3" fill="#3e4989"/>
<rect x="417.4" y="293.0" width="1.3" height="1.3" fill="#261816"/>
<rect x="401.8" y="272.0" width="1.3" height="1.3" fill="#31688e"/>
<rect x="417.7" y="280.2" width="1.3" height="1.3" fill="#35b779"/>
<rect x="414.8" y="314.4" width="1.3" height="1.3" fill="#3e4989"/>
<rect x="402.4" y="282.3" width="1.3" height="1.3" fill="#35b779"/>
<rect x="387.1" y="264.2" width="1.3" height="1.3" fill="#6ece58"/>
<rect x="393.6" y="323.2" width="1.3" height="1.3" fill="#261816"/>
<rect x="389.3" y="307.9" width="1.3" height="1.3" fill="#31688e"/>
<rect x="399.9" y="288.2" width="1.3" height="1.3" fill="#26828e"/>
<rect x="419.9" y="256.3" width="1.3" height="1.3" fill="#261816"/>
<rect x="381.1" y="274.8" width="1.3" height="1.3" fill="#31688e"/>
<rect x="385.3" y="265.8" width="1.3" height="1.3" fill="#261816"/>
<rect x="410.3" y="280.6" width="1.3" height="1.3" fill="#35b779"/>
<rect x="373.2" y="264.2" width="1.3" height="1.3" fill="#35b779"/>
<rect x="405.8" y="320.3" width="1.3" height="1.3" fill="#261816"/>
<rect x="409.7" y="290.0" width="1.3" height="1.3" fill="#6ece58"/>
<rect x="410.8" y="300.1" width="1.3" height="1.3" fill="#261816"/>
<rect x="406.6" y="259.1" width="1.3" height="1.3" fill="#31688e"/>
<rect x="417.9" y="313.4" width="1.3" height="1.3" fill="#31688e"/>
<rect x="400.0" y="304.1" width="1.3" height="1.3" fill="#6ece58"/>
<rect x="411.1" y="274.9" width="1.3" height="1.3" fill="#261816"/>
<rect x="376.1" y="310.3" width="1.3" height="1.3" fill="#35b779"/>
<rect x="374.0" y="283.2" width="1.3" height="1.3" fill="#261816"/>
<rect x="414.1" y="314.9" width="1.3" height="1.3" fill="#261816"/>
<rect x="372.1" y="300.9" width="1.3" height="1.3" fill="#261816"/>
<rect x="414.4" y="295.2" width="1.3" height="1.3" fill="#3e4989"/>
<rect x="397.4" y="317.3" width="1.3" height="1.3" fill="#261816"/>
<rect x="377.1" y="329.2" width="1.3" height="1.3" fill="#6ece58"/>
<rect x="396.8" y="299.4" width="1.3" height="1.3" fill="#261816"/>
<rect x="383.0" y="274.1" width="1.3" height="1.3" fill="#35b779"/>
<rect x="404.0" y="269.1" width="1.3" height="1.3" fill="#261816"/>
<rect x="394.8" y="287.1" width="1.3" height="1.3" fill="#31688e"/>
<rect x="387.6" y="308.6" width="1.3" height="1.3" fill="#3e4989"/>
<rect x="374.4" y="286.5" width="1.3" height="1.3" fill="#1f9e89"/>
<rect x="392.7" y="311.8" width="1.3" height="1.3" fill="#261816"/>
<rect x="383.6" y="308.7" width="1.3" height="1.3" fill="#261816"/>
<rect x="397.9" y="250.9" width="1.3" height="1.3" fill="#35b779"/>
<rect x="373.6" y="277.2" width="1.3" height="1.3" fill="#1f9e89"/>
<rect x="378.9" y="270.8" width="1.3" height="1.3" fill="#261816"/>
<rect x="413.6" y="281.9" width="1.3" height="1.3" fill="#261816"/>
<rect x="376.7" y="297.6" width="1.3" height="1.3" fill="#26828e"/>
<rect x="417.7" y="259.2" width="1.3" height="1.3" fill="#261816"/>
<rect x="397.3" y="255.5" width="1.3" height="1.3" fill="#31688e"/>
<rect x="406.1" y="316.0" width="1.3" height="1.3" fill="#31688e"/>
<rect x="408.2" y="295.5" width="1.3" height="1.3" fill="#261816"/>
<rect x="391.7" y="252.1" width="1.3" height="1.3" fill="#26828e"/>
<rect x="372.3" y="306.8" width="1.3" height="1.3" fill="#261816"/>
<rect x="388.7" y="307.6" width="1.3" height="1.3" fill="#26828e"/>
<rect x="400.9" y="260.0" width="1.3" height="1.3" fill="#3e4989"/>
<rect x="414.2" y="287.4" width="1.3" height="1.3" fill="#1f9e89"/>
<rect x="412.7" y="270.9" width="1.3" height="1.3" fill="#6ece58"/>
<rect x="403.5" y="317.0" width="1.3" height="1.3" fill="#6ece58"/>
<rect x="402.1" y="257.5" width="1.3" height="1.3" fill="#26828e"/>
<rect x="379.4" y="271.5" width="1.3" height="1.3" fill="#261816"/>
<rect x="403.8" y="334.1" width="1.3" height="1.3" fill="#3e4989"/>
<rect x="388.4" y="277.2" width="1.3" height="1.3" fill="#3e4989"/>
<rect x="398.3" y="313.8" width="1.3" height="1.3" fill="#26828e"/>
<rect x="391.4" y="283.6" width="1.3" height="1.3" fill="#3e4989"/>
<rect x="395.4" y="302.5" width="1.3" height="1.3" fill="#3e4989"/>
<rect x="385.1" y="307.4" width="1.3" height="1.3" fill="#35b779"/>
<rect x="400.5" y="285.0" width="1.3" height="1.3" fill="#31688e"/>
<rect x="417.4" y="329.7" width="1.3" height="1.3" fill="#261816"/>
<rect x="398.2" y="287.3" width="1.3" height="1.3" fill="#35b779"/>
<rect x="394.8" y="250.6" width="1.3" height="1.3" fill="#1f9e89"/>
<rect x="379.8" y="297.0" width="1.3" height="1.3" fill="#6ece58"/>
<rect x="377.5" y="295.7" width="1.3" height="1.3" fill="#31688e"/>
<rect x="379.8" y="315.0" width="1.3" height="1.3" fill="#261816"/>
<rect x="409.5" y="321.8" width="1.3" height="1.3" fill="#31688e"/>
<rect x="412.7" y="322.5" width="1.3" height="1.3" fill="#261816"/>
<rect x="403.4" y="296.1" width="1.3" height="1.3" fill="#26828e"/>
<rect x="414.2" y="292.9" width="1.3" height="1.3" fill="#261816"/>
<rect x="378.1" y="304.7" width="1.3" height="1.3" fill="#35b779"/>
<rect x="395.5" y="319.0" width="1.3" height="1.3" fill="#1f9e89"/>
<rect x="376.0" y="270.5" width="1.3" height="1.3" fill="#261816"/>
<rect x="376.8" y="334.0" width="1.3" height="1.3" fill="#3e4989"/>
<rect x="405.8" y="277.3" width="1.3" height="1.3" fill="#3e4989"/>
<rect x="375.8" y="268.6" width="1.3" height="1.3" fill="#6ece58"/>
<rect x="411.7" y="264.9" width="1.3" height="1.3" fill="#31688e"/>
<rect x="394.1" y="307.7" width="1.3" height="1.3" fill="#1f9e89"/>
<rect x="397.1" y="290.5" width="1.3" height="1.3" fill="#35b779"/>
<rect x="405.4" y="253.5" width="1.3" height="1.3" fill="#1f9e89"/>
<rect x="406.3" y="285.3" width="1.3" height="1.3" fill="#31688e"/>
<rect x="412.3" y="323.8" width="1.3" height="1.3" fill="#31688e"/>
<rect x="373.9" y="284.0" width="1.3" height="1.3" fill="#1f9e89"/>
<rect x="387.8" y="298.7" width="1.3" height="1.3" fill="#261816"/>
<rect x="396.6" y="277.9" width="1.3" height="1.3" fill="#3e4989"/>
<rect x="388.1" y="319.5" width="1.3" height="1.3" fill="#1f9e89"/>
<rect x="405.8" y="265.8" width="1.3" height="1.3" fill="#31688e"/>
<rect x="392.2" y="259.6" width="1.3" height="1.3" fill="#6ece58"/>
<rect x="377.2" y="280.3" width="1.3" height="1.3" fill="#1f9e89"/>
<rect x="393.0" y="328.3" width="1.3" height="1.3" fill="#261816"/>
<rect x="371.4" y="316.4" width="1.3" height="1.3" fill="#261816"/>
<rect x="414.2" y="313.2" width="1.3" height="1.3" fill="#261816"/>
<rect x="383.3" y="279.1" width="1.3" height="1.3" fill="#3e4989"/>
<rect x="417.9" y="288.1" width="1.3" height="1.3" fill="#1f9e89"/>
<rect x="391.1" y="269.4" width="1.3" height="1.3" fill="#261816"/>
<rect x="370.4" y="273.0" width="1.3" height="1.3" fill="#261816"/>
<rect x="390.5" y="252.1" width="1.3" height="1.3" fill="#3e4989"/>
<rect x="383.2" y="258.5" width="1.3" height="1.3" fill="#261816"/>
<rect x="382.8" y="296.3" width="1.3" height="1.3" fill="#26828e"/>
<rect x="396.0" y="279.7" width="1.3" height="1.3" fill="#31688e"/>
<rect x="388.5" y="274.1" width="1.3" height="1.3" fill="#31688e"/>
<rect x="379.1" y="304.9" width="1.3" height="1.3" fill="#261816"/>
<rect x="371.4" y="300.4" width="1.3" height="1.3" fill="#26828e"/>
<rect x="396.7" y="257.0" width="1.3" height="1.3" fill="#1f9e89"/>
<rect x="372.3" y="253.1" width="1.3" height="1.3" fill="#261816"/>
<rect x="405.4" y="306.0" width="1.3" height="1.3" fill="#3e4989"/>
<rect x="392.3" y="323.0" width="1.3" height="1.3" fill="#261816"/>
<rect x="393.5" y="265.8" width="1.3" height="1.3" fill="#261816"/>
<rect x="394.1" y="293.0" width="1.3" height="1.3" fill="#261816"/>
<rect x="377.4" y="289.1" width="1.3" height="1.3" fill="#1f9e89"/>
<rect x="398.4" y="308.9" width="1.3" height="1.3" fill="#261816"/>
<rect x="411.2" y="324.7" width="1.3" height="1.3" fill="#3e4989"/>
<rect x="375.2" y="316.9" width="1.3" height="1.3" fill="#6ece58"/>
<rect x="393.0" y="329.6" width="1.3" height="1.3" fill="#35b779"/>
<rect x="388.0" y="300.8" width="1.3" height="1.3" fill="#261816"/>
<rect x="388.3" y="268.1" width="1.3" height="1.3" fill="#3e4989"/>
<rect x="370.3" y="280.0" width="1.3" height="1.3" fill="#31688e"/>
<rect x="385.1" y="254.4" width="1.3" height="1.3" fill="#26828e"/>
<rect x="370.6" y="285.6" width="1.3" height="1.3" fill="#35b779"/>
<rect x="400.0" y="275.5" width="1.3" height="1.3" fill="#6ece58"/>
<rect x="388.8" y="262.4" width="1.3" height="1.3" fill="#31688e"/>
<rect x="395.7" y="312.4" width="1.3" height="1.3" fill="#261816"/>
<rect x="411.7" y="251.2" width="1.3" height="1.3" fill="#261816"/>
<rect x="391.5" y="302.9" width="1.3" height="1.3" fill="#26828e"/>
<rect x="405.9" y="330.1" width="1.3" height="1.3" fill="#3e4989"/>
<rect x="385.5" y="255.4" width="1.3" height="1.3" fill="#6ece58"/>
<rect x="397.8" y="309.7" width="1.3" height="1.3" fill="#31688e"/>
<rect x="372.7" y="262.7" width="1.3" height="1.3" fill="#3e4989"/>
<rect x="387.0" y="254.9" width="1.3" height="1.3" fill="#35b779"/>
<rect x="376.0" y="315.4" width="1.3" height="1.3" fill="#31688e"/>
<rect x="407.4" y="327.9" width="1.3" height="1.3" fill="#261816"/>
<rect x="415.2" y="297.8" width="1.3" height="1.3" fill="#261816"/>
<rect x="379.9" y="270.3" width="1.3" height="1.3" fill="#6ece58"/>
<rect x="388.1" y="250.6" width="1.3" height="1.3" fill="#26828e"/>
<rect x="406.4" y="283.8" width="1.3" height="1.3" fill="#261816"/>
<rect x="378.2" y="314.3" width="1.3" height="1.3" fill="#261816"/>
<rect x="400.6" y="311.2" width="1.3" height="1.3" fill="#6ece58"/>
<rect x="381.9" y="320.6" width="1.3" height="1.3" fill="#35b779"/>
<rect x="418.7" y="250.1" width="1.3" height="1.3" fill="#261816"/>
<rect x="415.9" y="273.6" width="1.3" height="1.3" fill="#1f9e89"/>
<rect x="410.1" y="292.6" width="1.3" height="1.3" fill="#26828e"/>
<rect x="391.3" y="315.7" width="1.3" height="1.3" fill="#261816"/>
<rect x="387.9" y="254.8" width="1.3" height="1.3" fill="#26828e"/>
<rect x="413.5" y="323.8" width="1.3" height="1.3" fill="#26828e"/>
<rect x="373.7" y="292.5" width="1.3" height="1.3" fill="#31688e"/>
<rect x="410.4" y="273.3" width="1.3" height="1.3" fill="#6ece58"/>
<rect x="419.2" y="252.6" width="1.3" height="1.3" fill="#1f9e89"/>
<rect x="397.9" y="257.9" width="1.3" height="1.3" fill="#1f9e89"/>
<rect x="385.9" y="250.6" width="1.3" height="1.3" fill="#1f9e89"/>
<rect x="404.5" y="261.2" width="1.3" height="1.3" fill="#261816"/>
<rect x="385.1" y="308.9" width="1.3" height="1.3" fill="#35b779"/>
<rect x="409.1" y="277.4" width="1.3" height="1.3" fill="#3e4989"/>
<rect x="409.5" y="308.8" width="1.3" height="1.3" fill="#1f9e89"/>
<rect x="377.8" y="309.2" width="1.3" height="1.3" fill="#1f9e89"/>
<rect x="403.9" y="268.0" width="1.3" height="1.3" fill="#26828e"/>
<rect x="405.2" y="265.6" width="1.3" height="1.3" fill="#26828e"/>
<rect x="382.1" y="323.4" width="1.3" height="1.3" fill="#261816"/>
<rect x="404.9" y="260.5" width="1.3" height="1.3" fill="#31688e"/>
<rect x="401.5" y="280.5" width="1.3" height="1.3" fill="#1f9e89"/>
<rect x="389.1" y="282.7" width="1.3" height="1.3" fill="#35b779"/>
<rect x="402.5" y="332.7" width="1.3" height="1.3" fill="#261816"/>
<rect x="419.3" y="289.6" width="1.3" height="1.3" fill="#35b779"/>
<rect x="411.3" y="314.7" width="1.3" height="1.3" fill="#31688e"/>
<rect x="391.7" y="255.7" width="1.3" height="1.3" fill="#1f9e89"/>
<rect x="412.4" y="321.0" width="1.3" height="1.3" fill="#1f9e89"/>
<rect x="414.1" y="282.6" width="1.3" height="1.3" fill="#3e4989"/>
<rect x="419.9" y="324.9" width="1.3" height="1.3" fill="#1f9e89"/>
<rect x="372.5" y="252.0" width="1.3" height="1.3" fill="#26828e"/>
<rect x="398.5" y="321.6" width="1.3" height="1.3" fill="#31688e"/>
<rect x="412.8" y="286.2" width="1.3" height="1.3" fill="#1f9e89"/>
<rect x="410.6" y="322.6" width="1.3" height="1.3" fill="#6ece58"/>
<rect x="398.4" y="292.4" width="1.3" height="1.3" fill="#35b779"/>
<rect x="397.3" y="316.3" width="1.3" height="1.3" fill="#261816"/>
<rect x="378.4" y="295.2" width="1.3" height="1.3" fill="#1f9e89"/>
<rect x="384.2" y="285.5" width="1.3" height="1.3" fill="#31688e"/>
<rect x="388.2" y="300.2" width="1.3" height="1.3" fill="#35b779"/>
<rect x="384.7" y="314.0" width="1.3" height="1.3" fill="#31688e"/>
<rect x="386.6" y="286.5" width="1.3" height="1.3" fill="#1f9e89"/>
<rect x="395.5" y="304.1" width="1.3" height="1.3" fill="#35b779"/>
<rect x="403.3" y="332.5" width="1.3" height="1.3" fill="#26828e"/>
<rect x="387.6" y="318.0" width="1.3" height="1.3" fill="#261816"/>
<rect x="403.9" y="285.8" width="1.3" height="1.3" fill="#3e4989"/>
<rect x="416.4" y="258.1" width="1.3" height="1.3" fill="#261816"/>
<rect x="395.1" y="260.7" width="1.3" height="1.3" fill="#1f9e89"/>
<rect x="409.9" y="334.9" width="1.3" height="1.3" fill="#26828e"/>
<rect x="377.2" y="260.4" width="1.3" height="1.3" fill="#1f9e89"/>
<rect x="370.0" y="256.8" width="1.3" height="1.3" fill="#261816"/>
<rect x="372.9" y="275.3" width="1.3" height="1.3" fill="#6ece58"/>
<rect x="391.5" y="296.0" width="1.3" height="1.3" fill="#1f9e89"/>
<rect x="372.0" y="266.4" width="1.3" height="1.3" fill="#6ece58"/>
<rect x="406.1" y="274.3" width="1.3" height="1.3" fill="#6ece58"/>
<rect x="384.6" y="262.1" width="1.3" height="1.3" fill="#261816"/>
<rect x="386.6" y="255.2" width="1.3" height="1.3" fill="#261816"/>
<rect x="370.6" y="263.5" width="1.3" height="1.3" fill="#6ece58"/>
<rect x="381.5" y="298.8" width="1.3" height="1.3" fill="#35b779"/>
<rect x="411.7" y="329.6" width="1.3" height="1.3" fill="#1f9e89"/>
<rect x="387.7" y="265.3" width="1.3" height="1.3" fill="#3e4989"/>
<rect x="389.9" y="322.1" width="1.3" height="1.3" fill="#6ece58"/>
<rect x="405.3" y="293.9" width="1.3" height="1.3" fill="#261816"/>
<rect x="390.0" y="296.5" width="1.3" height="1.3" fill="#31688e"/>
<rect x="393.7" y="317.6" width="1.3" height="1.3" fill="#26828e"/>
<rect x="384.7" y="284.0" width="1.3" height="1.3" fill="#261816"/>
<rect x="388.7" y="279.8" width="1.3" height="1.3" fill="#6ece58"/>
<rect x="373.8" y="272.2" width="1.3" height="1.3" fill="#261816"/>
<rect x="382.4" y="318.6" width="1.3" height="1.3" fill="#26828e"/>
<rect x="407.9" y="317.7" width="1.3" height="1.3" fill="#35b779"/>
<rect x="403.8" y="296.0" width="1.3" height="1.3" fill="#31688e"/>
<rect x="384.9" y="261.7" width="1.3" height="1.3" fill="#6ece58"/>
<rect x="409.7" y="294.1" width="1.3" height="1.3" fill="#26828e"/>
<rect x="382.8" y="325.1" width="1.3" height="1.3" fill="#3e4989"/>
<rect x="408.6" y="281.9" width="1.3" height="1.3" fill="#35b779"/>
<rect x="390.3" y="301.8" width="1.3" height="1.3" fill="#6ece58"/>
<rect x="392.6" y="284.7" width="1.3" height="1.3" fill="#1f9e89"/>
<rect x="403.0" y="329.6" width="1.3" height="1.3" fill="#31688e"/>
<rect x="396.5" y="287.2" width="1.3" height="1.3" fill="#261816"/>
<rect x="410.4" y="295.3" width="1.3" height="1.3" fill="#261816"/>
<rect x="377.4" y="260.1" width="1.3" height="1.3" fill="#1f9e89"/>
<rect x="394.6" y="313.9" width="1.3" height="1.3" fill="#26828e"/>
<rect x="395.2" y="305.6" width="1.3" height="1.3" fill="#261816"/>
<rect x="393.7" y="262.5" width="1.3" height="1.3" fill="#6ece58"/>
<rect x="383.7" y="277.1" width="1.3" height="1.3" fill="#261816"/>
<rect x="377.0" y="314.4" width="1.3" height="1.3" fill="#261816"/>
<rect x="383.1" y="259.9" width="1.3" height="1.3" fill="#261816"/>
<rect x="386.0" y="274.3" width="1.3" height="1.3" fill="#35b779"/>
<rect x="409.0" y="270.1" width="1.3" height="1.3" fill="#261816"/>
<rect x="389.5" y="276.6" width="1.3" height="1.3" fill="#1f9e89"/>
<rect x="377.0" y="299.4" width="1.3" height="1.3" fill="#3e4989"/>
<rect x="394.4" y="256.2" width="1.3" height="1.3" fill="#6ece58"/>
<rect x="389.5" y="290.5" width="1.3" height="1.3" fill="#261816"/>
<rect x="377.3" y="267.0" width="1.3" height="1.3" fill="#35b779"/>
<rect x="381.1" y="281.6" width="1.3" height="1.3" fill="#31688e"/>
<rect x="403.3" y="276.4" width="1.3" height="1.3" fill="#261816"/>
<rect x="379.2" y="325.5" width="1.3" height="1.3" fill="#26828e"/>
<rect x="408.7" y="273.7" width="1.3" height="1.3" fill="#35b779"/>
<rect x="414.7" y="319.5" width="1.3" height="1.3" fill="#261816"/>
<rect x="381.0" y="316.1" width="1.3" height="1.3" fill="#1f9e89"/>
<rect x="412.3" y="327.2" width="1.3" height="1.3" fill="#35b779"/>
<rect x="385.9" y="286.2" width="1.3" height="1.3" fill="#261816"/>
<rect x="376.4" y="281.0" width="1.3" height="1.3" fill="#26828e"/>
<rect x="385.4" y="330.4" width="1.3" height="1.3" fill="#26828e"/>
<rect x="392.0" y="275.2" width="1.3" height="1.3" fill="#35b779"/>
<rect x="400.4" y="320.8" width="1.3" height="1.3" fill="#6ece58"/>
<rect x="418.4" y="323.3" width="1.3" height="1.3" fill="#6ece58"/>
<rect x="381.6" y="303.2" width="1.3" height="1.3" fill="#261816"/>
<rect x="405.5" y="303.1" width="1.3" height="1.3" fill="#261816"/>
<rect x="389.4" y="257.2" width="1.3" height="1.3" fill="#35b779"/>
<rect x="370.7" y="322.4" width="1.3" height="1.3" fill="#35b779"/>
<rect x="409.0" y="329.7" width="1.3" height="1.3" fill="#261816"/>
<rect x="416.9" y="281.2" width="1.3" height="1.3" fill="#3e4989"/>
<rect x="417.1" y="267.0" width="1.3" height="1.3" fill="#35b779"/>
<rect x="376.4" y="269.1" width="1.3" height="1.3" fill="#3e4989"/>
<rect x="381.9" y="255.6" width="1.3" height="1.3" fill="#35b779"/>
<rect x="417.7" y="309.4" width="1.3" height="1.3" fill="#261816"/>
<rect x="397.2" y="251.9" width="1.3" height="1.3" fill="#31688e"/>
<rect x="398.3" y="256.7" width="1.3" height="1.3" fill="#35b779"/>
<rect x="379.6" y="329.0" width="1.3" height="1.3" fill="#26828e"/>
<rect x="389.0" y="295.0" width="1.3" height="1.3" fill="#1f9e89"/>
<rect x="410.3" y="300.6" width="1.3" height="1.3" fill="#261816"/>
<rect x="417.3" y="256.7" width="1.3" height="1.3" fill="#3e4989"/>
<rect x="412.0" y="253.1" width="1.3" height="1.3" fill="#31688e"/>
<rect x="399.3" y="272.3" width="1.3" height="1.3" fill="#31688e"/>
<rect x="411.1" y="325.0" width="1.3" height="1.3" fill="#35b779"/>
<rect x="374.4" y="305.9" width="1.3" height="1.3" fill="#261816"/>
<rect x="380.3" y="266.1" width="1.3" height="1.3" fill="#6ece58"/>
<rect x="410.5" y="311.3" width="1.3" height="1.3" fill="#6ece58"/>
<rect x="381.5" y="322.7" width="1.3" height="1.3" fill="#31688e"/>
<rect x="404.8" y="319.2" width="1.3" height="1.3" fill="#26828e"/>
<rect x="389.7" y="290.6" width="1.3" height="1.3" fill="#31688e"/>
<rect x="374.9" y="302.8" width="1.3" height="1.3" fill="#1f9e89"/>
<rect x="379.6" y="321.8" width="1.3" height="1.3" fill="#35b779"/>
<rect x="404.8" y="263.8" width="1.3" height="1.3" fill="#26828e"/>
<rect x="406.4" y="272.0" width="1.3" height="1.3" fill="#3e4989"/>
<rect x="411.0" y="320.2" width="1.3" height="1.3" fill="#6ece58"/>
<rect x="400.8" y="289.4" width="1.3" height="1.3" fill="#6ece58"/>
<rect x="417.5" y="275.9" width="1.3" height="1.3" fill="#261816"/>
<rect x="379.4" y="323.8" width="1.3" height="1.3" fill="#1f9e89"/>
<rect x="391.8" y="261.8" width="1.3" height="1.3" fill="#3e4989"/>
<rect x="393.2" y="313.5" width="1.3" height="1.3" fill="#6ece58"/>
<rect x="406.9" y="275.3" width="1.3" height="1.3" fill="#261816"/>
<rect x="375.3" y="329.7" width="1.3" height="1.3" fill="#31688e"/>
<rect x="394.1" y="276.7" width="1.3" height="1.3" fill="#261816"/>
<rect x="403.7" y="263.0" width="1.3" height="1.3" fill="#6ece58"/>
<rect x="375.7" y="255.2" width="1.3" height="1.3" fill="#26828e"/>
<rect x="382.8" y="306.0" width="1.3" height="1.3" fill="#26828e"/>
<rect x="418.5" y="276.1" width="1.3" height="1.3" fill="#31688e"/>
<rect x="380.0" y="284.9" width="1.3" height="1.3" fill="#3e4989"/>
<rect x="403.7" y="327.0" width="1.3" height="1.3" fill="#35b779"/>
<rect x="404.9" y="306.0" width="1.3" height="1.3" fill="#6ece58"/>
<rect x="410.1" y="297.9" width="1.3" height="1.3" fill="#1f9e89"/>
<rect x="385.6" y="319.1" width="1.3" height="1.3" fill="#35b779"/>
<rect x="400.5" y="326.6" width="1.3" height="1.3" fill="#35b779"/>
<rect x="371.0" y="296.5" width="1.3" height="1.3" fill="#1f9e89"/>
<rect x="387.4" y="289.8" width="1.3" height="1.3" fill="#31688e"/>
<rect x="413.6" y="332.1" width="1.3" height="1.3" fill="#261816"/>
<rect x="397.2" y="260.5" width="1.3" height="1.3" fill="#31688e"/>
<rect x="412.3" y="260.0" width="1.3" height="1.3" fill="#35b779"/>
<rect x="419.4" y="265.8" width="1.3" height="1.3" fill="#6ece58"/>
<rect x="402.4" y="323.1" width="1.3" height="1.3" fill="#26828e"/>
<rect x="418.7" y="290.2" width="1.3" height="1.3" fill="#31688e"/>
<rect x="412.8" y="252.7" width="1.3" height="1.3" fill="#6ece58"/>
<rect x="377.6" y="250.6" width="1.3" height="1.3" fill="#3e4989"/>
<rect x="387.8" y="294.7" width="1.3" height="1.3" fill="#26828e"/>
<rect x="417.0" y="327.5" width="1.3" height="1.3" fill="#261816"/>
<rect x="406.8" y="287.3" width="1.3" height="1.3" fill="#261816"/>
<rect x="374.2" y="329.0" width="1.3" height="1.3" fill="#1f9e89"/>
<rect x="413.4" y="317.8" width="1.3" height="1.3" fill="#31688e"/>
<rect x="386.7" y="269.4" width="1.3" height="1.3" fill="#35b779"/>
<rect x="415.0" y="302.8" width="1.3" height="1.3" fill="#6ece58"/>
<rect x="412.6" y="298.9" width="1.3" height="1.3" fill="#261816"/>
<rect x="406.3" y="286.2" width="1.3" height="1.3" fill="#1f9e89"/>
<rect x="370.9" y="267.3" width="1.3" height="1.3" fill="#261816"/>
<rect x="398.9" y="268.7" width="1.3" height="1.3" fill="#1f9e89"/>
<rect x="394.8" y="254.7" width="1.3" height="1.3" fill="#35b779"/>
<rect x="376.8" y="278.6" width="1.3" height="1.3" fill="#31688e"/>
<rect x="416.6" y="296.5" width="1.3" height="1.3" fill="#35b779"/>
<rect x="376.4" y="261.6" width="1.3" height="1.3" fill="#261816"/>
<rect x="382.6" y="295.5" width="1.3" height="1.3" fill="#26828e"/>
<rect x="379.7" y="265.3" width="1.3" height="1.3" fill="#35b779"/>
<rect x="384.6" y="304.1" width="1.3" height="1.3" fill="#261816"/>
<rect x="409.5" y="261.0" width="1.3" height="1.3" fill="#3e4989"/>
<rect x="391.7" y="333.9" width="1.3" height="1.3" fill="#6ece58"/>
<rect x="380.5" y="251.8" width="1.3" height="1.3" fill="#31688e"/>
<rect x="414.4" y="284.6" width="1.3" height="1.3" fill="#261816"/>
<rect x="385.2" y="331.5" width="1.3" height="1.3" fill="#261816"/>
<rect x="400.7" y="279.0" width="1.3" height="1.3" fill="#3e4989"/>
<rect x="412.9" y="275.5" width="1.3" height="1.3" fill="#1f9e89"/>
<rect x="376.9" y="317.0" width="1.3" height="1.3" fill="#35b779"/>
<rect x="410.1" y="313.4" width="1.3" height="1.3" fill="#261816"/>
<rect x="388.0" y="323.5" width="1.3" height="1.3" fill="#26828e"/>
<rect x="390.4" y="264.3" width="1.3" height="1.3" fill="#1f9e89"/>
<rect x="385.1" y="311.4" width="1.3" height="1.3" fill="#261816"/>
<rect x="386.5" y="302.7" width="1.3" height="1.3" fill="#261816"/>
<rect x="398.2" y="306.5" width="1.3" height="1.3" fill="#26828e"/>
<rect x="398.2" y="251.4" width="1.3" height="1.3" fill="#35b779"/>
<rect x="396.9" y="313.3" width="1.3" height="1.3" fill="#6ece58"/>
<rect x="409.1" y="286.9" width="1.3" height="1.3" fill="#261816"/>
<rect x="413.4" y="295.0" width="1.3" height="1.3" fill="#261816"/>
<rect x="405.3" y="294.1" width="1.3" height="1.3" fill="#6ece58"/>
<rect x="416.7" y="292.3" width="1.3" height="1.3" fill="#1f9e89"/>
<rect x="410.6" y="278.6" width="1.3" height="1.3" fill="#26828e"/>
<rect x="376.9" y="324.1" width="1.3" height="1.3" fill="#6ece58"/>
<rect x="409.1" y="302.5" width="1.3" height="1.3" fill="#6ece58"/>
<rect x="380.3" y="319.3" width="1.3" height="1.3" fill="#31688e"/>
<rect x="415.4" y="303.6" width="1.3" height="1.3" fill="#26828e"/>
<rect x="393.9" y="316.3" width="1.3" height="1.3" fill="#6ece58"/>
<rect x="412.3" y="328.7" width="1.3" height="1.3" fill="#6ece58"/>
<rect x="417.0" y="286.3" width="1.3" height="1.3" fill="#261816"/>
<rect x="415.5" y="267.7" width="1.3" height="1.3" fill="#26828e"/>
<rect x="387.0" y="311.9" width="1.3" height="1.3" fill="#3e4989"/>
<rect x="389.0" y="319.5" width="1.3" height="1.3" fill="#261816"/>
<rect x="384.7" y="276.3" width="1.3" height="1.3" fill="#1f9e89"/>
<rect x="414.0" y="324.0" width="1.3" height="1.3" fill="#6ece58"/>
<rect x="393.6" y="284.8" width="1.3" height="1.3" fill="#35b779"/>
<rect x="389.1" y="322.7" width="1.3" height="1.3" fill="#6ece58"/>
<rect x="389.9" y="267.8" width="1.3" height="1.3" fill="#6ece58"/>
<rect x="373.4" y="283.2" width="1.3" height="1.3" fill="#1f9e89"/>
<rect x="393.2" y="316.1" width="1.3" height="1.3" fill="#35b779"/>
<rect x="384.5" y="314.0" width="1.3" height="1.3" fill="#3e4989"/>
<rect x="400.9" y="316.1" width="1.3" height="1.3" fill="#3e4989"/>
<rect x="384.8" y="252.4" width="1.3" height="1.3" fill="#3e4989"/>
<rect x="404.1" y="295.0" width="1.3" height="1.3" fill="#261816"/>
<rect x="384.9" y="324.6" width="1.3" height="1.3" fill="#31688e"/>
<rect x="401.8" y="292.2" width="1.3" height="1.3" fill="#261816"/>
<rect x="384.2" y="304.1" width="1.3" height="1.3" fill="#6ece58"/>
<rect x="409.0" y="310.3" width="1.3" height="1.3" fill="#26828e"/>
<rect x="386.2" y="333.1" width="1.3" height="1.3" fill="#6ece58"/>
<rect x="378.2" y="318.8" width="1.3" height="1.3" fill="#6ece58"/>
<rect x="411.4" y="315.8" width="1.3" height="1.3" fill="#261816"/>
<rect x="395.9" y="326.2" width="1.3" height="1.3" fill="#1f9e89"/>
<rect x="396.9" y="319.9" width="1.3" height="1.3" fill="#35b779"/>
<rect x="414.3" y="306.9" width="1.3" height="1.3" fill="#6ece58"/>
<rect x="408.9" y="310.8" width="1.3" height="1.3" fill="#31688e"/>
<rect x="385.8" y="298.0" width="1.3" height="1.3" fill="#35b779"/>
<rect x="387.9" y="303.9" width="1.3" height="1.3" fill="#35b779"/>
<rect x="382.3" y="251.8" width="1.3" height="1.3" fill="#6ece58"/>
<rect x="404.6" y="303.5" width="1.3" height="1.3" fill="#261816"/>
<rect x="382.8" y="266.3" width="1.3" height="1.3" fill="#261816"/>
<rect x="372.3" y="262.4" width="1.3" height="1.3" fill="#261816"/>
<rect x="377.2" y="309.6" width="1.3" height="1.3" fill="#35b779"/>
<rect x="385.4" y="297.2" width="1.3" height="1.3" fill="#31688e"/>
<rect x="417.5" y="333.9" width="1.3" height="1.3" fill="#26828e"/>
<rect x="417.1" y="320.8" width="1.3" height="1.3" fill="#6ece58"/>
<rect x="412.6" y="323.8" width="1.3" height="1.3" fill="#35b779"/>
<rect x="370.6" y="253.2" width="1.3" height="1.3" fill="#31688e"/>
<rect x="389.8" y="287.7" width="1.3" height="1.3" fill="#261816"/>
<rect x="407.6" y="325.8" width="1.3" height="1.3" fill="#1f9e89"/>
<rect x="395.2" y="258.7" width="1.3" height="1.3" fill="#261816"/>
<rect x="410.8" y="290.7" width="1.3" height="1.3" fill="#35b779"/>
<rect x="397.5" y="269.7" width="1.3" height="1.3" fill="#31688e"/>
<rect x="397.1" y="276.2" width="1.3" height="1.3" fill="#261816"/>
<rect x="394.4" y="250.1" width="1.3" height="1.3" fill="#31688e"/>
<rect x="403.6" y="288.8" width="1.3" height="1.3" fill="#26828e"/>
<rect x="381.9" y="296.6" width="1.3" height="1.3" fill="#1f9e89"/>
<rect x="372.4" y="334.1" width="1.3" height="1.3" fill="#31688e"/>
<rect x="412.5" y="303.4" width="1.3" height="1.3" fill="#3e4989"/>
<rect x="403.6" y="282.8" width="1.3" height="1.3" fill="#1f9e89"/>
<rect x="414.0" y="334.1" width="1.3" height="1.3" fill="#3e4989"/>
<rect x="416.4" y="284.3" width="1.3" height="1.3" fill="#35b779"/>
<rect x="416.1" y="275.6" width="1.3" height="1.3" fill="#35b779"/>
<rect x="392.9" y="255.6" width="1.3" height="1.3" fill="#6ece58"/>
<rect x="414.9" y="295.4" width="1.3" height="1.3" fill="#35b779"/>
<rect x="412.1" y="317.8" width="1.3" height="1.3" fill="#261816"/>
<rect x="418.2" y="304.6" width="1.3" height="1.3" fill="#35b779"/>
<rect x="395.3" y="257.1" width="1.3" height="1.3" fill="#6ece58"/>
<rect x="414.3" y="332.4" width="1.3" height="1.3" fill="#261816"/>
<rect x="419.6" y="297.7" width="1.3" height="1.3" fill="#3e4989"/>
<rect x="378.3" y="291.2" width="1.3" height="1.3" fill="#35b779"/>
<rect x="412.4" y="264.2" width="1.3" height="1.3" fill="#261816"/>
<rect x="409.9" y="278.9" width="1.3" height="1.3" fill="#261816"/>
<rect x="374.0" y="298.7" width="1.3" height="1.3" fill="#31688e"/>
<rect x="405.5" y="284.5" width="1.3" height="1.3" fill="#261816"/>
<rect x="376.5" y="301.0" width="1.3" height="1.3" fill="#261816"/>
<rect x="372.4" y="325.4" width="1.3" height="1.3" fill="#261816"/>
<rect x="397.1" y="301.6" width="1.3" height="1.3" fill="#35b779"/>
<rect x="396.9" y="280.9" width="1.3" height="1.3" fill="#1f9e89"/>
<rect x="410.4" y="251.1" width="1.3" height="1.3" fill="#3e4989"/>
<rect x="399.0" y="304.2" width="1.3" height="1.3" fill="#31688e"/>
<rect x="371.4" y="260.2" width="1.3" height="1.3" fill="#6ece58"/>
<rect x="406.2" y="295.6" width="1.3" height="1.3" fill="#3e4989"/>
<rect x="408.7" y="259.4" width="1.3" height="1.3" fill="#1f9e89"/>
<rect x="406.4" y="269.6" width="1.3" height="1.3" fill="#35b779"/>
<rect x="412.2" y="272.3" width="1.3" height="1.3" fill="#35b779"/>
<rect x="386.0" y="303.9" width="1.3" height="1.3" fill="#3e4989"/>
<rect x="394.5" y="280.3" width="1.3" height="1.3" fill="#261816"/>
<rect x="405.7" y="295.4" width="1.3" height="1.3" fill="#31688e"/>
<rect x="416.1" y="298.2" width="1.3" height="1.3" fill="#261816"/>
<rect x="415.1" y="300.4" width="1.3" height="1.3" fill="#261816"/>
<rect x="377.2" y="324.3" width="1.3" height="1.3" fill="#261816"/>
<rect x="389.0" y="323.4" width="1.3" height="1.3" fill="#6ece58"/>
<rect x="402.8" y="305.0" width="1.3" height="1.3" fill="#261816"/>
<rect x="396.1" y="298.6" width="1.3" height="1.3" fill="#261816"/>
<rect x="378.1" y="287.5" width="1.3" height="1.3" fill="#261816"/>
<rect x="405.3" y="316.8" width="1.3" height="1.3" fill="#1f9e89"/>
<rect x="384.7" y="270.5" width="1.3" height="1.3" fill="#261816"/>
<rect x="381.3" y="250.8" width="1.3" height="1.3" fill="#26828e"/>
<rect x="373.4" y="327.8" width="1.3" height="1.3" fill="#261816"/>
<rect x="409.7" y="283.3" width="1.3" height="1.3" fill="#35b779"/>
<rect x="418.2" y="300.7" width="1.3" height="1.3" fill="#31688e"/>
<rect x="418.0" y="322.0" width="1.3" height="1.3" fill="#6ece58"/>
<rect x="415.5" y="305.2" width="1.3" height="1.3" fill="#3e4989"/>
<rect x="388.1" y="320.1" width="1.3" height="1.3" fill="#35b779"/>
<rect x="408.8" y="266.0" width="1.3" height="1.3" fill="#261816"/>
<rect x="375.8" y="264.3" width="1.3" height="1.3" fill="#1f9e89"/>
<rect x="411.3" y="281.2" width="1.3" height="1.3" fill="#261816"/>
<rect x="371.9" y="306.2" width="1.3" height="1.3" fill="#31688e"/>
<rect x="383.5" y="295.3" width="1.3" height="1.3" fill="#35b779"/>
<rect x="372.0" y="277.4" width="1.3" height="1.3" fill="#261816"/>
<rect x="409.1" y="278.0" width="1.3" height="1.3" fill="#35b779"/>
<rect x="394.4" y="285.9" width="1.3" height="1.3" fill="#35b779"/>
<rect x="370.2" y="260.4" width="1.3" height="1.3" fill="#6ece58"/>
<rect x="401.2" y="253.1" width="1.3" height="1.3" fill="#1f9e89"/>
<rect x="378.0" y="257.5" width="1.3" height="1.3" fill="#261816"/>
<rect x="381.0" y="294.7" width="1.3" height="1.3" fill="#6ece58"/>
<rect x="378.7" y="324.1" width="1.3" height="1.3" fill="#26828e"/>
<rect x="382.3" y="269.8" width="1.3" height="1.3" fill="#3e4989"/>
<rect x="408.5" y="330.4" width="1.3" height="1.3" fill="#261816"/>
<rect x="392.5" y="254.6" width="1.3" height="1.3" fill="#6ece58"/>
<rect x="375.5" y="276.3" width="1.3" height="1.3" fill="#26828e"/>
<rect x="400.9" y="331.3" width="1.3" height="1.3" fill="#1f9e89"/>
<rect x="417.2" y="334.0" width="1.3" height="1.3" fill="#3e4989"/>
<rect x="396.6" y="334.8" width="1.3" height="1.3" fill="#26828e"/>
<rect x="416.0" y="279.2" width="1.3" height="1.3" fill="#1f9e89"/>
<rect x="383.1" y="315.2" width="1.3" height="1.3" fill="#1f9e89"/>
<rect x="382.9" y="259.4" width="1.3" height="1.3" fill="#26828e"/>
<rect x="377.5" y="306.3" width="1.3" height="1.3" fill="#26828e"/>
<rect x="388.8" y="275.8" width="1.3" height="1.3" fill="#3e4989"/>
<rect x="387.3" y="286.7" width="1.3" height="1.3" fill="#261816"/>
<rect x="385.1" y="294.9" width="1.3" height="1.3" fill="#3e4989"/>
<rect x="386.8" y="310.0" width="1.3" height="1.3" fill="#3e4989"/>
<rect x="378.3" y="329.2" width="1.3" height="1.3" fill="#261816"/>
<rect x="375.6" y="312.9" width="1.3" height="1.3" fill="#261816"/>
<rect x="400.0" y="270.0" width="1.3" height="1.3" fill="#35b779"/>
<rect x="381.1" y="316.8" width="1.3" height="1.3" fill="#1f9e89"/>
<rect x="414.9" y="334.1" width="1.3" height="1.3" fill="#6ece58"/>
<rect x="378.6" y="319.4" width="1.3" height="1.3" fill="#1f9e89"/>
<rect x="391.9" y="250.1" width="1.3" height="1.3" fill="#3e4989"/>
<rect x="376.9" y="253.4" width="1.3" height="1.3" fill="#35b779"/>
<rect x="401.5" y="326.8" width="1.3" height="1.3" fill="#1f9e89"/>
<rect x="417.1" y="294.1" width="1.3" height="1.3" fill="#31688e"/>
<rect x="415.6" y="315.5" width="1.3" height="1.3" fill="#35b779"/>
<rect x="410.8" y="296.2" width="1.3" height="1.3" fill="#31688e"/>
<rect x="415.1" y="282.6" width="1.3" height="1.3" fill="#3e4989"/>
<rect x="400.3" y="314.2" width="1.3" height="1.3" fill="#1f9e89"/>
<rect x="392.8" y="312.0" width="1.3" height="1.3" fill="#3e4989"/>
<rect x="376.7" y="295.8" width="1.3" height="1.3" fill="#31688e"/>
<rect x="377.2" y="276.8" width="1.3" height="1.3" fill="#31688e"/>
<rect x="389.0" y="300.0" width="1.3" height="1.3" fill="#35b779"/>
<rect x="398.2" y="324.0" width="1.3" height="1.3" fill="#261816"/>
<rect x="377.3" y="259.0" width="1.3" height="1.3" fill="#35b779"/>
<rect x="390.5" y="258.3" width="1.3" height="1.3" fill="#31688e"/>
<rect x="395.4" y="294.6" width="1.3" height="1.3" fill="#261816"/>
<rect x="384.4" y="330.0" width="1.3" height="1.3" fill="#261816"/>
<rect x="386.7" y="300.9" width="1.3" height="1.3" fill="#261816"/>
<rect x="381.7" y="282.2" width="1.3" height="1.3" fill="#261816"/>
<rect x="406.1" y="259.2" width="1.3" height="1.3" fill="#3e4989"/>
<rect x="396.9" y="259.0" width="1.3" height="1.3" fill="#6ece58"/>
<rect x="403.6" y="306.2" width="1.3" height="1.3" fill="#1f9e89"/>
<rect x="400.2" y="282.9" width="1.3" height="1.3" fill="#261816"/>
<rect x="379.5" y="270.9" width="1.3" height="1.3" fill="#35b779"/>
<rect x="419.2" y="327.7" width="1.3" height="1.3" fill="#3e4989"/>
<rect x="388.7" y="276.8" width="1.3" height="1.3" fill="#261816"/>
<rect x="376.2" y="252.3" width="1.3" height="1.3" fill="#26828e"/>
<rect x="412.4" y="281.2" width="1.3" height="1.3" fill="#6ece58"/>
<rect x="414.2" y="307.0" width="1.3" height="1.3" fill="#26828e"/>
<rect x="419.9" y="260.2" width="1.3" height="1.3" fill="#31688e"/>
<rect x="410.3" y="309.9" width="1.3" height="1.3" fill="#3e4989"/>
<rect x="414.1" y="274.4" width="1.3" height="1.3" fill="#35b779"/>
<rect x="382.4" y="318.0" width="1.3" height="1.3" fill="#35b779"/>
<rect x="413.2" y="259.3" width="1.3" height="1.3" fill="#1f9e89"/>
<rect x="379.9" y="333.1" width="1.3" height="1.3" fill="#31688e"/>
<rect x="412.0" y="279.8" width="1.3" height="1.3" fill="#261816"/>
<rect x="380.0" y="299.6" width="1.3" height="1.3" fill="#1f9e89"/>
<rect x="382.7" y="326.9" width="1.3" height="1.3" fill="#261816"/>
<rect x="373.9" y="287.4" width="1.3" height="1.3" fill="#3e4989"/>
<rect x="416.3" y="272.2" width="1.3" height="1.3" fill="#3e4989"/>
<rect x="404.6" y="317.3" width="1.3" height="1.3" fill="#3e4989"/>
<rect x="385.5" y="281.5" width="1.3" height="1.3" fill="#6ece58"/>
<rect x="388.1" y="315.3" width="1.3" height="1.3" fill="#31688e"/>
<rect x="392.2" y="330.1" width="1.3" height="1.3" fill="#261816"/>
<rect x="401.7" y="268.9" width="1.3" height="1.3" fill="#1f9e89"/>
<rect x="403.0" y="334.4" width="1.3" height="1.3" fill="#35b779"/>
<rect x="391.7" y="257.1" width="1.3" height="1.3" fill="#1f9e89"/>
<rect x="394.6" y="260.5" width="1.3" height="1.3" fill="#6ece58"/>
<rect x="393.9" y="269.3" width="1.3" height="1.3" fill="#261816"/>
<rect x="391.5" y="266.4" width="1.3" height="1.3" fill="#261816"/>
<rect x="385.4" y="270.3" width="1.3" height="1.3" fill="#35b779"/>
<rect x="400.2" y="271.9" width="1.3" height="1.3" fill="#26828e"/>
<rect x="408.1" y="332.1" width="1.3" height="1.3" fill="#261816"/>
<rect x="391.2" y="288.2" width="1.3" height="1.3" fill="#261816"/>
<rect x="390.6" y="253.8" width="1.3" height="1.3" fill="#261816"/>
<rect x="406.2" y="328.9" width="1.3" height="1.3" fill="#3e4989"/>
<rect x="407.1" y="287.5" width="1.3" height="1.3" fill="#35b779"/>
<rect x="412.4" y="310.1" width="1.3" height="1.3" fill="#35b779"/>
<rect x="402.6" y="314.9" width="1.3" height="1.3" fill="#261816"/>
<rect x="381.7" y="264.1" width="1.3" height="1.3" fill="#26828e"/>
<rect x="386.3" y="303.4" width="1.3" height="1.3" fill="#261816"/>
<rect x="410.5" y="332.3" width="1.3" height="1.3" fill="#26828e"/>
<rect x="378.4" y="331.7" width="1.3" height="1.3" fill="#1f9e89"/>
<rect x="417.3" y="324.6" width="1.3" height="1.3" fill="#31688e"/>
<rect x="389.1" y="313.6" width="1.3" height="1.3" fill="#35b779"/>
<rect x="393.4" y="293.3" width="1.3" height="1.3" fill="#26828e"/>
<rect x="392.5" y="291.2" width="1.3" height="1.3" fill="#35b779"/>
<rect x="402.2" y="282.0" width="1.3" height="1.3" fill="#31688e"/>
<rect x="380.7" y="295.8" width="1.3" height="1.3" fill="#26828e"/>
<rect x="417.7" y="254.2" width="1.3" height="1.3" fill="#6ece58"/>
<rect x="407.2" y="264.7" width="1.3" height="1.3" fill="#1f9e89"/>
<rect x="382.8" y="315.4" width="1.3" height="1.3" fill="#31688e"/>
<rect x="373.9" y="307.7" width="1.3" height="1.3" fill="#31688e"/>
<rect x="385.2" y="329.4" width="1.3" height="1.3" fill="#3e4989"/>
<rect x="379.4" y="314.6" width="1.3" height="1.3" fill="#3e4989"/>
<rect x="382.6" y="305.1" width="1.3" height="1.3" fill="#1f9e89"/>
<rect x="388.6" y="272.3" width="1.3" height="1.3" fill="#3e4989"/>
<rect x="419.4" y="278.2" width="1.3" height="1.3" fill="#1f9e89"/>
<rect x="412.9" y="306.4" width="1.3" height="1.3" fill="#261816"/>
<rect x="382.2" y="283.8" width="1.3" height="1.3" fill="#35b779"/>
<rect x="372.6" y="264.8" width="1.3" height="1.3" fill="#6ece58"/>
<rect x="375.2" y="262.8" width="1.3" height="1.3" fill="#31688e"/>
<rect x="374.1" y="291.9" width="1.3" height="1.3" fill="#261816"/>
<rect x="414.3" y="285.8" width="1.3" height="1.3" fill="#26828e"/>
<rect x="378.1" y="331.6" width="1.3" height="1.3" fill="#261816"/>
<rect x="409.2" y="315.3" width="1.3" height="1.3" fill="#31688e"/>
<rect x="393.3" y="273.0" width="1.3" height="1.3" fill="#31688e"/>
<rect x="403.1" y="319.9" width="1.3" height="1.3" fill="#6ece58"/>
<rect x="385.7" y="290.3" width="1.3" height="1.3" fill="#3e4989"/>
<rect x="415.9" y="270.7" width="1.3" height="1.3" fill="#261816"/>
<rect x="386.0" y="307.9" width="1.3" height="1.3" fill="#261816"/>
<rect x="371.2" y="271.0" width="1.3" height="1.3" fill="#31688e"/>
<rect x="399.9" y="318.6" width="1.3" height="1.3" fill="#6ece58"/>
<rect x="377.0" y="298.1" width="1.3" height="1.3" fill="#26828e"/>
<rect x="402.5" y="300.3" width="1.3" height="1.3" fill="#31688e"/>
<rect x="371.8" y="292.2" width="1.3" height="1.3" fill="#6ece58"/>
<rect x="409.5" y="297.1" width="1.3" height="1.3" fill="#31688e"/>
<rect x="373.0" y="280.0" width="1.3" height="1.3" fill="#3e4989"/>
<rect x="404.2" y="291.5" width="1.3" height="1.3" fill="#261816"/>
<rect x="388.0" y="280.6" width="1.3" height="1.3" fill="#261816"/>
<rect x="398.2" y="320.7" width="1.3" height="1.3" fill="#35b779"/>
<rect x="375.6" y="292.4" width="1.3" height="1.3" fill="#261816"/>
<rect x="419.8" y="299.2" width="1.3" height="1.3" fill="#6ece58"/>
<rect x="400.7" y="334.6" width="1.3" height="1.3" fill="#6ece58"/>
<rect x="416.5" y="311.8" width="1.3" height="1.3" fill="#31688e"/>
<rect x="413.2" y="314.2" width="1.3" height="1.3" fill="#35b779"/>
<rect x="405.7" y="280.5" width="1.3" height="1.3" fill="#6ece58"/>
<rect x="371.3" y="283.1" width="1.3" height="1.3" fill="#261816"/>
<rect x="384.7" y="292.3" width="1.3" height="1.3" fill="#35b779"/>
<rect x="412.2" y="252.8" width="1.3" height="1.3" fill="#26828e"/>
<rect x="390.2" y="270.5" width="1.3" height="1.3" fill="#6ece58"/>
<rect x="376.7" y="256.7" width="1.3" height="1.3" fill="#35b779"/>
<rect x="378.7" y="323.8" width="1.3" height="1.3" fill="#3e4989"/>
<rect x="406.8" y="329.7" width="1.3" height="1.3" fill="#1f9e89"/>
<rect x="383.2" y="322.5" width="1.3" height="1.3" fill="#1f9e89"/>
<rect x="409.8" y="293.9" width="1.3" height="1.3" fill="#1f9e89"/>
<rect x="382.3" y="298.9" width="1.3" height="1.3" fill="#35b779"/>
<rect x="404.3" y="295.5" width="1.3" height="1.3" fill="#31688e"/>
<rect x="392.7" y="299.4" width="1.3" height="1.3" fill="#26828e"/>
<rect x="391.5" y="303.1" width="1.3" height="1.3" fill="#261816"/>
<rect x="391.1" y="329.4" width="1.3" height="1.3" fill="#6ece58"/>
<rect x="398.7" y="329.2" width="1.3" height="1.3" fill="#35b779"/>
<rect x="416.6" y="308.4" width="1.3" height="1.3" fill="#1f9e89"/>
<rect x="402.8" y="266.7" width="1.3" height="1.3" fill="#261816"/>
</g>
<path d="M392.6,270.3 C390.8,270.0 385.6,277.6 383.8,282.5 C382.0,287.5 381.5,294.8 382.0,300.1 C382.6,305.3 385.0,311.2 387.3,314.1 C389.6,317.0 395.2,319.9 396.1,317.6 C396.9,315.2 392.8,305.6 392.6,300.1 C392.3,294.5 394.3,289.3 394.3,284.3 C394.3,279.3 394.3,270.6 392.6,270.3 Z" fill="#261816" opacity="0.7"/>
<path d="M399.6,251.0 C395.8,242.5 391.4,253.3 387.3,256.3 C383.2,259.2 378.0,263.6 375.0,268.5 C372.1,273.5 370.5,279.9 369.8,286.0 C369.1,292.2 369.5,299.8 370.7,305.3 C371.8,310.9 373.7,315.0 376.8,319.3 C379.9,323.7 384.7,328.5 389.1,331.6 C393.4,334.7 398.8,337.1 403.1,337.7 C407.3,338.3 412.1,337.9 414.5,335.1 C416.8,332.3 417.8,325.8 417.1,321.1 C416.4,316.4 413.0,318.7 410.1,307.1 C407.2,295.4 403.4,259.5 399.6,251.0" fill="none" stroke="#ddd" stroke-width="0.6" stroke-dasharray="0.8,1.6"/>
<path d="M396.1,259.8 C394.0,259.8 388.5,265.9 385.6,270.3 C382.6,274.7 379.9,280.5 378.5,286.0 C377.2,291.6 376.8,298.3 377.7,303.6 C378.5,308.8 380.7,313.8 383.8,317.6 C386.9,321.4 392.3,325.2 396.1,326.3 C399.9,327.5 406.0,326.6 406.6,324.6 C407.2,322.5 402.5,317.9 399.6,314.1 C396.6,310.3 390.2,306.5 389.1,301.8 C387.9,297.1 391.1,291.3 392.6,286.0 C394.0,280.8 397.2,274.7 397.8,270.3 C398.4,265.9 398.1,259.8 396.1,259.8 Z" fill="none" stroke="#ddd" stroke-width="0.6" stroke-dasharray="0.8,1.6"/>
<rect x="431.1" y="248.4" width="1.8" height="91.99999999999997" fill="url(#vir)"/>
<text x="435.7" y="258.3" class="t8" style="fill:#fff">0.12</text>
<text x="435.7" y="269.1" class="t8" style="fill:#fff">0.10</text>
<text x="435.7" y="279.9" class="t8" style="fill:#fff">0.08</text>
<text x="435.7" y="290.7" class="t8" style="fill:#fff">0.06</text>
<text x="435.7" y="301.5" class="t8" style="fill:#fff">0.04</text>
<text x="435.7" y="312.3" class="t8" style="fill:#fff">0.02</text>
<text x="435.7" y="323.1" class="t8" style="fill:#fff">0.00</text>
<text x="435.7" y="333.9" class="t8" style="fill:#fff">-0.02</text>
<path d="M353.6,335.5 L353.6,314.5 M353.6,335.5 L373.6,335.5" stroke="#fff" stroke-width="0.8" fill="none"/>
<path d="M352.0,316.0 L353.6,312.5 L355.20000000000005,316.0 Z M372.1,333.9 L375.6,335.5 L372.1,337.1 Z" fill="#fff"/>
<text transform="translate(351.40000000000003,335.0) rotate(-90)" class="t8" style="fill:#fff">spatial 2</text>
<text x="349.6" y="342.1" class="t8" style="fill:#fff">spatial 1</text>
<path d="M501.9,255.8 C507.0,254.2 511.4,253.4 515.8,253.7 C520.2,254.1 524.8,255.3 528.3,257.9 C531.7,260.4 534.3,264.3 536.6,269.0 C538.9,273.6 540.9,279.8 542.1,285.6 C543.4,291.4 544.2,297.6 544.2,303.6 C544.2,309.6 543.4,316.8 542.1,321.7 C540.9,326.5 539.3,329.8 536.6,332.8 C533.8,335.8 529.6,338.5 525.5,339.7 C521.3,340.9 516.2,340.9 511.6,339.7 C507.0,338.5 501.9,335.5 497.7,332.8 C493.6,330.0 489.9,327.0 486.6,323.1 C483.4,319.1 480.4,314.5 478.3,309.2 C476.2,303.9 474.4,296.7 474.2,291.2 C473.9,285.6 475.1,280.5 476.9,275.9 C478.8,271.3 481.1,266.8 485.3,263.4 C489.4,260.1 496.8,257.4 501.9,255.8 Z" fill="#b95cae" stroke="#c068b6" stroke-width="1"/>
<path d="M500.5,269.0 C503.5,266.0 511.1,265.7 515.8,267.6 C520.4,269.4 525.7,274.7 528.3,280.1 C530.8,285.4 531.5,293.0 531.0,299.5 C530.6,306.0 528.3,315.0 525.5,318.9 C522.7,322.8 517.6,324.7 514.4,323.1 C511.1,321.4 507.9,313.6 506.1,309.2 C504.2,304.8 504.7,300.6 503.3,296.7 C501.9,292.8 498.2,290.2 497.7,285.6 C497.3,281.0 497.5,272.0 500.5,269.0 Z" fill="#d9a0d2" opacity="0.8"/>
<path d="M504.7,293.9 C505.6,290.5 511.6,288.4 514.4,289.8 C517.2,291.2 520.9,298.3 521.3,302.3 C521.8,306.2 519.2,312.0 517.2,313.3 C515.1,314.7 510.9,313.8 508.8,310.6 C506.8,307.3 503.7,297.4 504.7,293.9 Z" fill="#efd6ec" opacity="0.8"/>
<path d="M481.1,278.7 C482.5,273.6 488.5,270.6 490.8,271.7 C493.1,272.9 495.0,280.5 495.0,285.6 C495.0,290.7 492.9,299.5 490.8,302.3 C488.7,305.0 484.1,306.2 482.5,302.3 C480.9,298.3 479.7,283.8 481.1,278.7 Z" fill="#b04aa6" opacity="0.6"/>
<path d="M518.5,258.6 L538.7,253.7" stroke="#b555ad" stroke-width="5.5" stroke-linecap="round"/>
<path d="M501.9,255.8 C507.0,254.2 511.4,253.4 515.8,253.7 C520.2,254.1 524.8,255.3 528.3,257.9 C531.7,260.4 534.3,264.3 536.6,269.0 C538.9,273.6 540.9,279.8 542.1,285.6 C543.4,291.4 544.2,297.6 544.2,303.6 C544.2,309.6 543.4,316.8 542.1,321.7 C540.9,326.5 539.3,329.8 536.6,332.8 C533.8,335.8 529.6,338.5 525.5,339.7 C521.3,340.9 516.2,340.9 511.6,339.7 C507.0,338.5 501.9,335.5 497.7,332.8 C493.6,330.0 489.9,327.0 486.6,323.1 C483.4,319.1 480.4,314.5 478.3,309.2 C476.2,303.9 474.4,296.7 474.2,291.2 C473.9,285.6 475.1,280.5 476.9,275.9 C478.8,271.3 481.1,266.8 485.3,263.4 C489.4,260.1 496.8,257.4 501.9,255.8 Z" fill="none" stroke="#333" stroke-width="0.5" stroke-dasharray="0.8,1.6" transform="translate(0,0)"/>
<text x="473.5" y="251.2" class="t8d">Larval cuticle</text>
<text x="480.4" y="295.3" class="t8d">Wing sac</text>
<text x="476.2" y="340.4" class="t8d">Epidermis</text>
<clipPath id="cp4"><path d="M596.5,256.3 C600.9,253.5 606.5,253.3 610.6,253.6 C614.6,253.9 618.4,256.1 621.1,258.0 C623.7,259.9 624.0,264.1 626.3,265.0 C628.7,265.9 632.4,263.6 635.1,263.3 C637.7,263.0 640.6,262.4 642.1,263.3 C643.5,264.1 644.4,266.2 643.8,268.5 C643.3,270.9 640.6,274.7 638.6,277.3 C636.5,279.9 632.4,281.1 631.6,284.3 C630.7,287.5 633.3,292.2 633.3,296.6 C633.3,300.9 632.7,306.5 631.6,310.6 C630.4,314.7 628.4,318.2 626.3,321.1 C624.3,324.0 622.2,326.3 619.3,328.1 C616.4,329.8 612.3,331.6 608.8,331.6 C605.3,331.6 601.5,330.4 598.3,328.1 C595.1,325.8 592.0,322.0 589.5,317.6 C587.0,313.2 584.7,307.4 583.4,301.8 C582.1,296.3 581.5,289.6 581.6,284.3 C581.8,279.0 581.8,275.0 584.3,270.3 C586.8,265.6 592.2,259.0 596.5,256.3 Z"/></clipPath>
<path d="M596.5,256.3 C600.9,253.5 606.5,253.3 610.6,253.6 C614.6,253.9 618.4,256.1 621.1,258.0 C623.7,259.9 624.0,264.1 626.3,265.0 C628.7,265.9 632.4,263.6 635.1,263.3 C637.7,263.0 640.6,262.4 642.1,263.3 C643.5,264.1 644.4,266.2 643.8,268.5 C643.3,270.9 640.6,274.7 638.6,277.3 C636.5,279.9 632.4,281.1 631.6,284.3 C630.7,287.5 633.3,292.2 633.3,296.6 C633.3,300.9 632.7,306.5 631.6,310.6 C630.4,314.7 628.4,318.2 626.3,321.1 C624.3,324.0 622.2,326.3 619.3,328.1 C616.4,329.8 612.3,331.6 608.8,331.6 C605.3,331.6 601.5,330.4 598.3,328.1 C595.1,325.8 592.0,322.0 589.5,317.6 C587.0,313.2 584.7,307.4 583.4,301.8 C582.1,296.3 581.5,289.6 581.6,284.3 C581.8,279.0 581.8,275.0 584.3,270.3 C586.8,265.6 592.2,259.0 596.5,256.3 Z" fill="#2f6b94"/>
<path d="M587.8,266.8 C590.1,261.2 596.8,260.1 600.0,259.8 C603.3,259.5 606.2,260.4 607.0,265.0 C607.9,269.7 606.5,279.6 605.3,287.8 C604.1,296.0 602.4,310.3 600.0,314.1 C597.7,317.9 593.6,314.1 591.3,310.6 C588.9,307.1 586.6,300.4 586.0,293.1 C585.4,285.8 585.4,272.3 587.8,266.8 Z" fill="#3a9e74" opacity="0.75"/>
<g clip-path="url(#cp4)">
<rect x="597.4" y="259.7" width="1.3" height="1.3" fill="#1f9e89"/>
<rect x="623.5" y="286.3" width="1.3" height="1.3" fill="#3e4989"/>
<rect x="611.5" y="269.1" width="1.3" height="1.3" fill="#31688e"/>
<rect x="625.3" y="252.0" width="1.3" height="1.3" fill="#35b779"/>
<rect x="584.0" y="262.0" width="1.3" height="1.3" fill="#35b779"/>
<rect x="636.7" y="292.8" width="1.3" height="1.3" fill="#26828e"/>
<rect x="626.2" y="295.3" width="1.3" height="1.3" fill="#35b779"/>
<rect x="578.6" y="258.1" width="1.3" height="1.3" fill="#3e4989"/>
<rect x="603.5" y="331.1" width="1.3" height="1.3" fill="#3e4989"/>
<rect x="599.6" y="323.4" width="1.3" height="1.3" fill="#3e4989"/>
<rect x="641.3" y="295.9" width="1.3" height="1.3" fill="#3e4989"/>
<rect x="623.1" y="275.5" width="1.3" height="1.3" fill="#3e4989"/>
<rect x="579.1" y="322.4" width="1.3" height="1.3" fill="#35b779"/>
<rect x="616.2" y="285.6" width="1.3" height="1.3" fill="#3e4989"/>
<rect x="635.1" y="304.7" width="1.3" height="1.3" fill="#482878"/>
<rect x="586.5" y="280.2" width="1.3" height="1.3" fill="#3e4989"/>
<rect x="609.1" y="332.9" width="1.3" height="1.3" fill="#482878"/>
<rect x="616.7" y="331.5" width="1.3" height="1.3" fill="#261816"/>
<rect x="591.2" y="278.6" width="1.3" height="1.3" fill="#3e4989"/>
<rect x="603.7" y="283.0" width="1.3" height="1.3" fill="#35b779"/>
<rect x="600.2" y="253.8" width="1.3" height="1.3" fill="#3e4989"/>
<rect x="619.2" y="289.4" width="1.3" height="1.3" fill="#3e4989"/>
<rect x="638.5" y="312.5" width="1.3" height="1.3" fill="#3e4989"/>
<rect x="620.8" y="300.3" width="1.3" height="1.3" fill="#1f9e89"/>
<rect x="592.1" y="306.7" width="1.3" height="1.3" fill="#261816"/>
<rect x="637.7" y="251.8" width="1.3" height="1.3" fill="#3e4989"/>
<rect x="580.5" y="318.4" width="1.3" height="1.3" fill="#3e4989"/>
<rect x="587.5" y="308.0" width="1.3" height="1.3" fill="#3e4989"/>
<rect x="638.8" y="265.2" width="1.3" height="1.3" fill="#1f9e89"/>
<rect x="616.7" y="265.0" width="1.3" height="1.3" fill="#3e4989"/>
<rect x="578.2" y="313.7" width="1.3" height="1.3" fill="#3e4989"/>
<rect x="627.5" y="264.8" width="1.3" height="1.3" fill="#3e4989"/>
<rect x="644.9" y="252.5" width="1.3" height="1.3" fill="#31688e"/>
<rect x="635.5" y="329.9" width="1.3" height="1.3" fill="#3e4989"/>
<rect x="614.3" y="281.2" width="1.3" height="1.3" fill="#482878"/>
<rect x="625.9" y="318.5" width="1.3" height="1.3" fill="#261816"/>
<rect x="600.3" y="296.7" width="1.3" height="1.3" fill="#3e4989"/>
<rect x="593.1" y="324.8" width="1.3" height="1.3" fill="#35b779"/>
<rect x="619.9" y="299.7" width="1.3" height="1.3" fill="#3e4989"/>
<rect x="645.7" y="306.0" width="1.3" height="1.3" fill="#3e4989"/>
<rect x="591.2" y="292.7" width="1.3" height="1.3" fill="#261816"/>
<rect x="596.1" y="269.6" width="1.3" height="1.3" fill="#1f9e89"/>
<rect x="590.3" y="280.5" width="1.3" height="1.3" fill="#31688e"/>
<rect x="632.1" y="263.4" width="1.3" height="1.3" fill="#31688e"/>
<rect x="588.2" y="266.6" width="1.3" height="1.3" fill="#1f9e89"/>
<rect x="616.3" y="254.5" width="1.3" height="1.3" fill="#1f9e89"/>
<rect x="607.6" y="319.3" width="1.3" height="1.3" fill="#35b779"/>
<rect x="636.9" y="304.1" width="1.3" height="1.3" fill="#482878"/>
<rect x="639.0" y="285.4" width="1.3" height="1.3" fill="#3e4989"/>
<rect x="610.8" y="262.3" width="1.3" height="1.3" fill="#26828e"/>
<rect x="622.5" y="319.9" width="1.3" height="1.3" fill="#26828e"/>
<rect x="625.8" y="331.6" width="1.3" height="1.3" fill="#3e4989"/>
<rect x="620.4" y="276.0" width="1.3" height="1.3" fill="#26828e"/>
<rect x="640.1" y="312.7" width="1.3" height="1.3" fill="#26828e"/>
<rect x="612.0" y="314.3" width="1.3" height="1.3" fill="#1f9e89"/>
<rect x="593.4" y="254.7" width="1.3" height="1.3" fill="#3e4989"/>
<rect x="644.3" y="272.4" width="1.3" height="1.3" fill="#482878"/>
<rect x="639.0" y="273.2" width="1.3" height="1.3" fill="#31688e"/>
<rect x="622.0" y="313.3" width="1.3" height="1.3" fill="#31688e"/>
<rect x="585.9" y="260.9" width="1.3" height="1.3" fill="#26828e"/>
<rect x="609.2" y="311.8" width="1.3" height="1.3" fill="#3e4989"/>
<rect x="591.1" y="251.1" width="1.3" height="1.3" fill="#26828e"/>
<rect x="591.4" y="254.5" width="1.3" height="1.3" fill="#35b779"/>
<rect x="587.4" y="304.8" width="1.3" height="1.3" fill="#261816"/>
<rect x="641.8" y="330.4" width="1.3" height="1.3" fill="#35b779"/>
<rect x="631.9" y="321.3" width="1.3" height="1.3" fill="#482878"/>
<rect x="581.6" y="268.0" width="1.3" height="1.3" fill="#26828e"/>
<rect x="639.6" y="266.8" width="1.3" height="1.3" fill="#3e4989"/>
<rect x="621.3" y="287.6" width="1.3" height="1.3" fill="#1f9e89"/>
<rect x="588.5" y="294.2" width="1.3" height="1.3" fill="#3e4989"/>
<rect x="608.7" y="257.4" width="1.3" height="1.3" fill="#1f9e89"/>
<rect x="637.1" y="329.2" width="1.3" height="1.3" fill="#482878"/>
<rect x="611.4" y="317.3" width="1.3" height="1.3" fill="#35b779"/>
<rect x="643.2" y="314.8" width="1.3" height="1.3" fill="#482878"/>
<rect x="578.2" y="268.8" width="1.3" height="1.3" fill="#3e4989"/>
<rect x="590.4" y="299.4" width="1.3" height="1.3" fill="#3e4989"/>
<rect x="639.4" y="310.2" width="1.3" height="1.3" fill="#31688e"/>
<rect x="612.2" y="262.0" width="1.3" height="1.3" fill="#1f9e89"/>
<rect x="623.0" y="309.9" width="1.3" height="1.3" fill="#1f9e89"/>
<rect x="613.2" y="255.2" width="1.3" height="1.3" fill="#482878"/>
<rect x="610.4" y="252.4" width="1.3" height="1.3" fill="#3e4989"/>
<rect x="584.7" y="264.4" width="1.3" height="1.3" fill="#31688e"/>
<rect x="610.3" y="291.2" width="1.3" height="1.3" fill="#3e4989"/>
<rect x="629.0" y="287.1" width="1.3" height="1.3" fill="#1f9e89"/>
<rect x="604.9" y="300.7" width="1.3" height="1.3" fill="#261816"/>
<rect x="614.6" y="306.2" width="1.3" height="1.3" fill="#3e4989"/>
<rect x="636.7" y="270.8" width="1.3" height="1.3" fill="#3e4989"/>
<rect x="601.1" y="254.7" width="1.3" height="1.3" fill="#261816"/>
<rect x="579.9" y="285.5" width="1.3" height="1.3" fill="#31688e"/>
<rect x="617.2" y="295.9" width="1.3" height="1.3" fill="#3e4989"/>
<rect x="620.5" y="273.8" width="1.3" height="1.3" fill="#26828e"/>
<rect x="611.3" y="296.7" width="1.3" height="1.3" fill="#3e4989"/>
<rect x="603.9" y="281.8" width="1.3" height="1.3" fill="#3e4989"/>
<rect x="578.1" y="264.2" width="1.3" height="1.3" fill="#3e4989"/>
<rect x="644.9" y="313.4" width="1.3" height="1.3" fill="#26828e"/>
<rect x="603.3" y="292.3" width="1.3" height="1.3" fill="#482878"/>
<rect x="637.3" y="285.6" width="1.3" height="1.3" fill="#261816"/>
<rect x="593.1" y="306.4" width="1.3" height="1.3" fill="#31688e"/>
<rect x="614.4" y="295.3" width="1.3" height="1.3" fill="#35b779"/>
<rect x="631.5" y="288.0" width="1.3" height="1.3" fill="#3e4989"/>
<rect x="588.4" y="294.0" width="1.3" height="1.3" fill="#261816"/>
<rect x="585.4" y="277.8" width="1.3" height="1.3" fill="#261816"/>
<rect x="601.7" y="259.4" width="1.3" height="1.3" fill="#35b779"/>
<rect x="625.6" y="273.6" width="1.3" height="1.3" fill="#1f9e89"/>
<rect x="628.0" y="292.0" width="1.3" height="1.3" fill="#261816"/>
<rect x="626.9" y="307.6" width="1.3" height="1.3" fill="#26828e"/>
<rect x="625.3" y="260.3" width="1.3" height="1.3" fill="#482878"/>
<rect x="596.9" y="314.9" width="1.3" height="1.3" fill="#35b779"/>
<rect x="578.8" y="320.5" width="1.3" height="1.3" fill="#3e4989"/>
<rect x="626.6" y="283.2" width="1.3" height="1.3" fill="#482878"/>
<rect x="642.5" y="288.6" width="1.3" height="1.3" fill="#26828e"/>
<rect x="582.3" y="266.0" width="1.3" height="1.3" fill="#31688e"/>
<rect x="584.4" y="314.2" width="1.3" height="1.3" fill="#482878"/>
<rect x="595.3" y="316.7" width="1.3" height="1.3" fill="#261816"/>
<rect x="614.7" y="285.0" width="1.3" height="1.3" fill="#482878"/>
<rect x="631.8" y="285.4" width="1.3" height="1.3" fill="#26828e"/>
<rect x="626.3" y="284.3" width="1.3" height="1.3" fill="#3e4989"/>
<rect x="581.5" y="315.4" width="1.3" height="1.3" fill="#35b779"/>
<rect x="587.7" y="325.1" width="1.3" height="1.3" fill="#261816"/>
<rect x="602.2" y="326.4" width="1.3" height="1.3" fill="#482878"/>
<rect x="596.8" y="289.8" width="1.3" height="1.3" fill="#482878"/>
<rect x="629.3" y="294.8" width="1.3" height="1.3" fill="#26828e"/>
<rect x="621.1" y="270.5" width="1.3" height="1.3" fill="#482878"/>
<rect x="585.6" y="263.9" width="1.3" height="1.3" fill="#35b779"/>
<rect x="611.2" y="279.8" width="1.3" height="1.3" fill="#35b779"/>
<rect x="639.2" y="262.0" width="1.3" height="1.3" fill="#482878"/>
<rect x="639.7" y="310.9" width="1.3" height="1.3" fill="#26828e"/>
<rect x="584.2" y="281.0" width="1.3" height="1.3" fill="#3e4989"/>
<rect x="633.3" y="293.2" width="1.3" height="1.3" fill="#31688e"/>
<rect x="578.4" y="294.3" width="1.3" height="1.3" fill="#3e4989"/>
<rect x="645.1" y="255.5" width="1.3" height="1.3" fill="#3e4989"/>
<rect x="605.5" y="292.2" width="1.3" height="1.3" fill="#482878"/>
<rect x="625.2" y="282.4" width="1.3" height="1.3" fill="#26828e"/>
<rect x="593.7" y="266.3" width="1.3" height="1.3" fill="#31688e"/>
<rect x="621.8" y="261.9" width="1.3" height="1.3" fill="#35b779"/>
<rect x="640.8" y="299.2" width="1.3" height="1.3" fill="#26828e"/>
<rect x="623.2" y="319.0" width="1.3" height="1.3" fill="#261816"/>
<rect x="579.9" y="326.4" width="1.3" height="1.3" fill="#261816"/>
<rect x="643.2" y="306.4" width="1.3" height="1.3" fill="#3e4989"/>
<rect x="582.8" y="299.6" width="1.3" height="1.3" fill="#35b779"/>
<rect x="615.3" y="269.4" width="1.3" height="1.3" fill="#35b779"/>
<rect x="587.2" y="295.8" width="1.3" height="1.3" fill="#261816"/>
<rect x="633.1" y="305.3" width="1.3" height="1.3" fill="#1f9e89"/>
<rect x="644.3" y="279.2" width="1.3" height="1.3" fill="#31688e"/>
<rect x="636.8" y="299.8" width="1.3" height="1.3" fill="#261816"/>
<rect x="584.1" y="296.1" width="1.3" height="1.3" fill="#35b779"/>
<rect x="589.2" y="308.3" width="1.3" height="1.3" fill="#26828e"/>
<rect x="625.3" y="325.1" width="1.3" height="1.3" fill="#31688e"/>
<rect x="644.2" y="318.1" width="1.3" height="1.3" fill="#31688e"/>
<rect x="641.6" y="288.8" width="1.3" height="1.3" fill="#3e4989"/>
<rect x="610.7" y="317.8" width="1.3" height="1.3" fill="#31688e"/>
<rect x="640.1" y="296.3" width="1.3" height="1.3" fill="#31688e"/>
<rect x="583.0" y="274.0" width="1.3" height="1.3" fill="#3e4989"/>
<rect x="585.7" y="315.4" width="1.3" height="1.3" fill="#1f9e89"/>
<rect x="636.8" y="268.6" width="1.3" height="1.3" fill="#3e4989"/>
<rect x="634.4" y="304.0" width="1.3" height="1.3" fill="#26828e"/>
<rect x="605.2" y="288.2" width="1.3" height="1.3" fill="#35b779"/>
<rect x="608.3" y="306.1" width="1.3" height="1.3" fill="#3e4989"/>
<rect x="645.1" y="283.8" width="1.3" height="1.3" fill="#482878"/>
<rect x="626.4" y="281.2" width="1.3" height="1.3" fill="#3e4989"/>
<rect x="635.1" y="265.0" width="1.3" height="1.3" fill="#1f9e89"/>
<rect x="627.3" y="304.2" width="1.3" height="1.3" fill="#35b779"/>
<rect x="623.6" y="323.8" width="1.3" height="1.3" fill="#35b779"/>
<rect x="634.0" y="306.9" width="1.3" height="1.3" fill="#3e4989"/>
<rect x="579.4" y="280.0" width="1.3" height="1.3" fill="#261816"/>
<rect x="604.9" y="311.6" width="1.3" height="1.3" fill="#31688e"/>
<rect x="609.3" y="284.2" width="1.3" height="1.3" fill="#3e4989"/>
<rect x="594.1" y="323.7" width="1.3" height="1.3" fill="#3e4989"/>
<rect x="601.6" y="290.4" width="1.3" height="1.3" fill="#26828e"/>
<rect x="579.9" y="331.5" width="1.3" height="1.3" fill="#3e4989"/>
<rect x="638.8" y="296.2" width="1.3" height="1.3" fill="#35b779"/>
<rect x="586.5" y="271.2" width="1.3" height="1.3" fill="#26828e"/>
<rect x="616.1" y="265.9" width="1.3" height="1.3" fill="#35b779"/>
<rect x="587.9" y="258.9" width="1.3" height="1.3" fill="#3e4989"/>
<rect x="581.3" y="328.5" width="1.3" height="1.3" fill="#1f9e89"/>
<rect x="588.6" y="251.4" width="1.3" height="1.3" fill="#26828e"/>
<rect x="601.1" y="260.0" width="1.3" height="1.3" fill="#482878"/>
<rect x="637.4" y="266.2" width="1.3" height="1.3" fill="#1f9e89"/>
<rect x="594.2" y="279.0" width="1.3" height="1.3" fill="#482878"/>
<rect x="586.1" y="284.6" width="1.3" height="1.3" fill="#31688e"/>
<rect x="616.7" y="275.4" width="1.3" height="1.3" fill="#482878"/>
<rect x="645.4" y="271.3" width="1.3" height="1.3" fill="#482878"/>
<rect x="641.2" y="320.3" width="1.3" height="1.3" fill="#261816"/>
<rect x="581.9" y="292.1" width="1.3" height="1.3" fill="#482878"/>
<rect x="642.7" y="264.5" width="1.3" height="1.3" fill="#1f9e89"/>
<rect x="627.3" y="257.8" width="1.3" height="1.3" fill="#3e4989"/>
<rect x="632.7" y="258.7" width="1.3" height="1.3" fill="#3e4989"/>
<rect x="630.0" y="287.1" width="1.3" height="1.3" fill="#3e4989"/>
<rect x="592.8" y="261.7" width="1.3" height="1.3" fill="#35b779"/>
<rect x="637.5" y="251.9" width="1.3" height="1.3" fill="#3e4989"/>
<rect x="592.2" y="260.9" width="1.3" height="1.3" fill="#26828e"/>
<rect x="637.4" y="291.3" width="1.3" height="1.3" fill="#26828e"/>
<rect x="611.6" y="295.5" width="1.3" height="1.3" fill="#3e4989"/>
<rect x="641.1" y="311.0" width="1.3" height="1.3" fill="#3e4989"/>
<rect x="604.9" y="317.9" width="1.3" height="1.3" fill="#3e4989"/>
<rect x="590.4" y="292.2" width="1.3" height="1.3" fill="#482878"/>
<rect x="594.3" y="289.7" width="1.3" height="1.3" fill="#261816"/>
<rect x="597.6" y="302.7" width="1.3" height="1.3" fill="#1f9e89"/>
<rect x="628.2" y="298.7" width="1.3" height="1.3" fill="#482878"/>
<rect x="612.3" y="319.0" width="1.3" height="1.3" fill="#3e4989"/>
<rect x="582.3" y="297.3" width="1.3" height="1.3" fill="#482878"/>
<rect x="588.7" y="275.9" width="1.3" height="1.3" fill="#1f9e89"/>
<rect x="631.3" y="277.4" width="1.3" height="1.3" fill="#26828e"/>
<rect x="633.4" y="301.7" width="1.3" height="1.3" fill="#31688e"/>
<rect x="598.4" y="269.4" width="1.3" height="1.3" fill="#26828e"/>
<rect x="591.4" y="314.9" width="1.3" height="1.3" fill="#35b779"/>
<rect x="639.7" y="269.4" width="1.3" height="1.3" fill="#26828e"/>
<rect x="633.1" y="324.0" width="1.3" height="1.3" fill="#261816"/>
<rect x="624.5" y="276.0" width="1.3" height="1.3" fill="#261816"/>
<rect x="580.2" y="332.8" width="1.3" height="1.3" fill="#1f9e89"/>
<rect x="635.7" y="292.4" width="1.3" height="1.3" fill="#3e4989"/>
<rect x="619.9" y="316.9" width="1.3" height="1.3" fill="#482878"/>
<rect x="630.4" y="271.8" width="1.3" height="1.3" fill="#482878"/>
<rect x="593.8" y="299.0" width="1.3" height="1.3" fill="#482878"/>
<rect x="629.6" y="283.2" width="1.3" height="1.3" fill="#3e4989"/>
<rect x="604.9" y="317.7" width="1.3" height="1.3" fill="#26828e"/>
<rect x="630.5" y="305.3" width="1.3" height="1.3" fill="#26828e"/>
<rect x="617.4" y="279.4" width="1.3" height="1.3" fill="#3e4989"/>
<rect x="590.7" y="291.7" width="1.3" height="1.3" fill="#1f9e89"/>
<rect x="598.0" y="268.7" width="1.3" height="1.3" fill="#3e4989"/>
<rect x="610.8" y="290.3" width="1.3" height="1.3" fill="#1f9e89"/>
<rect x="603.8" y="260.6" width="1.3" height="1.3" fill="#35b779"/>
<rect x="595.4" y="326.6" width="1.3" height="1.3" fill="#482878"/>
<rect x="618.8" y="321.8" width="1.3" height="1.3" fill="#35b779"/>
<rect x="597.2" y="286.6" width="1.3" height="1.3" fill="#3e4989"/>
<rect x="601.6" y="312.3" width="1.3" height="1.3" fill="#26828e"/>
<rect x="596.2" y="333.9" width="1.3" height="1.3" fill="#26828e"/>
<rect x="612.7" y="297.5" width="1.3" height="1.3" fill="#261816"/>
<rect x="621.0" y="284.9" width="1.3" height="1.3" fill="#35b779"/>
<rect x="632.5" y="255.4" width="1.3" height="1.3" fill="#261816"/>
<rect x="624.0" y="322.1" width="1.3" height="1.3" fill="#3e4989"/>
<rect x="579.8" y="286.9" width="1.3" height="1.3" fill="#35b779"/>
<rect x="614.4" y="295.4" width="1.3" height="1.3" fill="#31688e"/>
<rect x="581.9" y="326.9" width="1.3" height="1.3" fill="#31688e"/>
<rect x="636.4" y="325.8" width="1.3" height="1.3" fill="#26828e"/>
<rect x="619.7" y="267.3" width="1.3" height="1.3" fill="#3e4989"/>
<rect x="610.2" y="283.4" width="1.3" height="1.3" fill="#35b779"/>
<rect x="604.5" y="299.9" width="1.3" height="1.3" fill="#3e4989"/>
<rect x="579.9" y="251.1" width="1.3" height="1.3" fill="#3e4989"/>
<rect x="640.9" y="255.8" width="1.3" height="1.3" fill="#1f9e89"/>
<rect x="640.9" y="312.2" width="1.3" height="1.3" fill="#31688e"/>
<rect x="621.4" y="282.0" width="1.3" height="1.3" fill="#31688e"/>
<rect x="633.1" y="312.1" width="1.3" height="1.3" fill="#26828e"/>
<rect x="612.7" y="325.8" width="1.3" height="1.3" fill="#26828e"/>
<rect x="623.9" y="254.0" width="1.3" height="1.3" fill="#35b779"/>
<rect x="591.2" y="290.3" width="1.3" height="1.3" fill="#26828e"/>
<rect x="635.5" y="328.9" width="1.3" height="1.3" fill="#482878"/>
<rect x="607.2" y="269.4" width="1.3" height="1.3" fill="#3e4989"/>
<rect x="616.0" y="276.4" width="1.3" height="1.3" fill="#35b779"/>
<rect x="604.2" y="289.7" width="1.3" height="1.3" fill="#261816"/>
<rect x="593.7" y="309.6" width="1.3" height="1.3" fill="#3e4989"/>
<rect x="615.7" y="313.5" width="1.3" height="1.3" fill="#3e4989"/>
<rect x="642.6" y="253.4" width="1.3" height="1.3" fill="#3e4989"/>
<rect x="590.0" y="291.8" width="1.3" height="1.3" fill="#26828e"/>
<rect x="593.2" y="292.5" width="1.3" height="1.3" fill="#482878"/>
<rect x="631.7" y="331.4" width="1.3" height="1.3" fill="#3e4989"/>
<rect x="589.3" y="308.6" width="1.3" height="1.3" fill="#3e4989"/>
<rect x="607.1" y="265.2" width="1.3" height="1.3" fill="#31688e"/>
<rect x="582.9" y="251.6" width="1.3" height="1.3" fill="#1f9e89"/>
<rect x="598.4" y="317.6" width="1.3" height="1.3" fill="#3e4989"/>
<rect x="578.2" y="299.6" width="1.3" height="1.3" fill="#261816"/>
<rect x="589.3" y="258.8" width="1.3" height="1.3" fill="#3e4989"/>
<rect x="625.4" y="328.7" width="1.3" height="1.3" fill="#35b779"/>
<rect x="602.8" y="278.5" width="1.3" height="1.3" fill="#3e4989"/>
<rect x="643.9" y="329.9" width="1.3" height="1.3" fill="#1f9e89"/>
<rect x="607.4" y="291.4" width="1.3" height="1.3" fill="#482878"/>
<rect x="600.9" y="283.1" width="1.3" height="1.3" fill="#31688e"/>
<rect x="606.4" y="311.8" width="1.3" height="1.3" fill="#261816"/>
<rect x="631.0" y="315.9" width="1.3" height="1.3" fill="#482878"/>
<rect x="600.4" y="333.6" width="1.3" height="1.3" fill="#3e4989"/>
<rect x="602.6" y="309.9" width="1.3" height="1.3" fill="#35b779"/>
<rect x="626.3" y="285.3" width="1.3" height="1.3" fill="#1f9e89"/>
<rect x="607.2" y="294.1" width="1.3" height="1.3" fill="#31688e"/>
<rect x="644.4" y="322.9" width="1.3" height="1.3" fill="#26828e"/>
<rect x="597.9" y="295.6" width="1.3" height="1.3" fill="#3e4989"/>
<rect x="609.2" y="284.2" width="1.3" height="1.3" fill="#3e4989"/>
<rect x="613.8" y="331.8" width="1.3" height="1.3" fill="#31688e"/>
<rect x="637.5" y="279.0" width="1.3" height="1.3" fill="#26828e"/>
<rect x="608.2" y="308.7" width="1.3" height="1.3" fill="#3e4989"/>
<rect x="583.9" y="326.8" width="1.3" height="1.3" fill="#35b779"/>
<rect x="640.3" y="268.0" width="1.3" height="1.3" fill="#1f9e89"/>
<rect x="636.3" y="254.4" width="1.3" height="1.3" fill="#3e4989"/>
<rect x="643.6" y="266.9" width="1.3" height="1.3" fill="#1f9e89"/>
<rect x="614.6" y="315.0" width="1.3" height="1.3" fill="#261816"/>
<rect x="615.5" y="313.5" width="1.3" height="1.3" fill="#3e4989"/>
<rect x="612.5" y="262.7" width="1.3" height="1.3" fill="#31688e"/>
<rect x="578.6" y="299.3" width="1.3" height="1.3" fill="#482878"/>
<rect x="639.4" y="270.7" width="1.3" height="1.3" fill="#3e4989"/>
<rect x="603.1" y="287.8" width="1.3" height="1.3" fill="#35b779"/>
<rect x="608.0" y="291.8" width="1.3" height="1.3" fill="#1f9e89"/>
<rect x="615.8" y="301.7" width="1.3" height="1.3" fill="#261816"/>
<rect x="611.7" y="296.2" width="1.3" height="1.3" fill="#31688e"/>
<rect x="598.0" y="327.9" width="1.3" height="1.3" fill="#3e4989"/>
<rect x="619.3" y="316.9" width="1.3" height="1.3" fill="#26828e"/>
<rect x="596.5" y="295.1" width="1.3" height="1.3" fill="#3e4989"/>
<rect x="642.3" y="283.7" width="1.3" height="1.3" fill="#3e4989"/>
<rect x="585.2" y="272.1" width="1.3" height="1.3" fill="#482878"/>
<rect x="604.1" y="267.9" width="1.3" height="1.3" fill="#482878"/>
<rect x="624.0" y="272.0" width="1.3" height="1.3" fill="#35b779"/>
<rect x="643.4" y="307.6" width="1.3" height="1.3" fill="#482878"/>
<rect x="620.4" y="273.7" width="1.3" height="1.3" fill="#26828e"/>
<rect x="631.4" y="317.7" width="1.3" height="1.3" fill="#261816"/>
<rect x="593.6" y="289.7" width="1.3" height="1.3" fill="#261816"/>
<rect x="583.8" y="258.5" width="1.3" height="1.3" fill="#31688e"/>
<rect x="605.5" y="317.8" width="1.3" height="1.3" fill="#3e4989"/>
<rect x="589.0" y="295.6" width="1.3" height="1.3" fill="#482878"/>
<rect x="604.3" y="267.4" width="1.3" height="1.3" fill="#1f9e89"/>
<rect x="606.9" y="300.9" width="1.3" height="1.3" fill="#261816"/>
<rect x="621.5" y="258.1" width="1.3" height="1.3" fill="#3e4989"/>
<rect x="594.5" y="285.2" width="1.3" height="1.3" fill="#26828e"/>
<rect x="598.7" y="331.9" width="1.3" height="1.3" fill="#31688e"/>
<rect x="612.2" y="273.5" width="1.3" height="1.3" fill="#3e4989"/>
<rect x="603.0" y="264.4" width="1.3" height="1.3" fill="#3e4989"/>
<rect x="620.9" y="291.9" width="1.3" height="1.3" fill="#261816"/>
<rect x="624.9" y="306.0" width="1.3" height="1.3" fill="#26828e"/>
<rect x="603.6" y="308.0" width="1.3" height="1.3" fill="#26828e"/>
<rect x="623.8" y="255.9" width="1.3" height="1.3" fill="#482878"/>
<rect x="630.7" y="290.4" width="1.3" height="1.3" fill="#3e4989"/>
<rect x="595.8" y="300.7" width="1.3" height="1.3" fill="#26828e"/>
<rect x="607.7" y="259.6" width="1.3" height="1.3" fill="#261816"/>
<rect x="625.4" y="261.5" width="1.3" height="1.3" fill="#3e4989"/>
<rect x="632.3" y="288.8" width="1.3" height="1.3" fill="#3e4989"/>
<rect x="609.7" y="296.0" width="1.3" height="1.3" fill="#3e4989"/>
<rect x="594.4" y="321.5" width="1.3" height="1.3" fill="#261816"/>
<rect x="579.5" y="305.4" width="1.3" height="1.3" fill="#26828e"/>
<rect x="578.2" y="313.0" width="1.3" height="1.3" fill="#261816"/>
<rect x="616.3" y="306.3" width="1.3" height="1.3" fill="#261816"/>
<rect x="637.5" y="287.8" width="1.3" height="1.3" fill="#35b779"/>
<rect x="585.6" y="264.9" width="1.3" height="1.3" fill="#31688e"/>
<rect x="590.6" y="333.1" width="1.3" height="1.3" fill="#26828e"/>
<rect x="578.0" y="303.5" width="1.3" height="1.3" fill="#35b779"/>
<rect x="639.6" y="324.0" width="1.3" height="1.3" fill="#31688e"/>
<rect x="601.1" y="272.4" width="1.3" height="1.3" fill="#26828e"/>
<rect x="595.9" y="329.7" width="1.3" height="1.3" fill="#26828e"/>
<rect x="631.9" y="318.3" width="1.3" height="1.3" fill="#35b779"/>
<rect x="619.9" y="296.6" width="1.3" height="1.3" fill="#3e4989"/>
<rect x="598.2" y="323.0" width="1.3" height="1.3" fill="#3e4989"/>
<rect x="604.4" y="316.0" width="1.3" height="1.3" fill="#261816"/>
<rect x="639.1" y="330.8" width="1.3" height="1.3" fill="#35b779"/>
<rect x="578.8" y="303.0" width="1.3" height="1.3" fill="#35b779"/>
<rect x="608.1" y="267.6" width="1.3" height="1.3" fill="#482878"/>
<rect x="633.2" y="280.1" width="1.3" height="1.3" fill="#3e4989"/>
<rect x="578.7" y="284.0" width="1.3" height="1.3" fill="#3e4989"/>
<rect x="630.3" y="297.2" width="1.3" height="1.3" fill="#482878"/>
<rect x="617.4" y="251.2" width="1.3" height="1.3" fill="#482878"/>
<rect x="639.6" y="273.0" width="1.3" height="1.3" fill="#3e4989"/>
<rect x="642.1" y="330.0" width="1.3" height="1.3" fill="#26828e"/>
<rect x="594.6" y="287.7" width="1.3" height="1.3" fill="#261816"/>
<rect x="627.9" y="315.8" width="1.3" height="1.3" fill="#26828e"/>
<rect x="605.7" y="265.1" width="1.3" height="1.3" fill="#31688e"/>
<rect x="641.5" y="306.1" width="1.3" height="1.3" fill="#3e4989"/>
<rect x="597.6" y="301.4" width="1.3" height="1.3" fill="#482878"/>
<rect x="622.0" y="267.5" width="1.3" height="1.3" fill="#26828e"/>
<rect x="633.3" y="302.8" width="1.3" height="1.3" fill="#482878"/>
<rect x="631.6" y="254.8" width="1.3" height="1.3" fill="#26828e"/>
<rect x="637.8" y="302.9" width="1.3" height="1.3" fill="#35b779"/>
<rect x="610.9" y="282.6" width="1.3" height="1.3" fill="#3e4989"/>
<rect x="604.9" y="305.4" width="1.3" height="1.3" fill="#1f9e89"/>
<rect x="592.3" y="286.0" width="1.3" height="1.3" fill="#3e4989"/>
<rect x="641.3" y="252.9" width="1.3" height="1.3" fill="#261816"/>
<rect x="593.6" y="282.7" width="1.3" height="1.3" fill="#3e4989"/>
<rect x="637.0" y="276.8" width="1.3" height="1.3" fill="#35b779"/>
<rect x="601.3" y="316.9" width="1.3" height="1.3" fill="#3e4989"/>
<rect x="584.8" y="314.3" width="1.3" height="1.3" fill="#31688e"/>
<rect x="620.6" y="260.7" width="1.3" height="1.3" fill="#1f9e89"/>
<rect x="619.5" y="308.7" width="1.3" height="1.3" fill="#3e4989"/>
<rect x="633.1" y="294.7" width="1.3" height="1.3" fill="#1f9e89"/>
<rect x="635.0" y="323.4" width="1.3" height="1.3" fill="#3e4989"/>
<rect x="617.7" y="297.1" width="1.3" height="1.3" fill="#261816"/>
<rect x="602.4" y="326.0" width="1.3" height="1.3" fill="#1f9e89"/>
<rect x="624.8" y="292.4" width="1.3" height="1.3" fill="#31688e"/>
<rect x="578.2" y="324.8" width="1.3" height="1.3" fill="#1f9e89"/>
<rect x="609.2" y="267.0" width="1.3" height="1.3" fill="#26828e"/>
<rect x="636.2" y="300.5" width="1.3" height="1.3" fill="#482878"/>
<rect x="645.3" y="324.5" width="1.3" height="1.3" fill="#261816"/>
<rect x="600.2" y="332.0" width="1.3" height="1.3" fill="#482878"/>
<rect x="625.9" y="326.4" width="1.3" height="1.3" fill="#261816"/>
<rect x="621.3" y="286.0" width="1.3" height="1.3" fill="#3e4989"/>
<rect x="611.0" y="271.5" width="1.3" height="1.3" fill="#26828e"/>
<rect x="590.1" y="279.6" width="1.3" height="1.3" fill="#31688e"/>
<rect x="604.8" y="289.0" width="1.3" height="1.3" fill="#1f9e89"/>
<rect x="605.1" y="255.3" width="1.3" height="1.3" fill="#3e4989"/>
<rect x="635.0" y="290.2" width="1.3" height="1.3" fill="#3e4989"/>
<rect x="618.5" y="299.3" width="1.3" height="1.3" fill="#261816"/>
<rect x="579.3" y="288.0" width="1.3" height="1.3" fill="#26828e"/>
<rect x="599.2" y="251.2" width="1.3" height="1.3" fill="#3e4989"/>
<rect x="594.6" y="329.2" width="1.3" height="1.3" fill="#261816"/>
<rect x="596.7" y="251.2" width="1.3" height="1.3" fill="#31688e"/>
<rect x="639.0" y="297.4" width="1.3" height="1.3" fill="#3e4989"/>
<rect x="606.6" y="252.3" width="1.3" height="1.3" fill="#35b779"/>
<rect x="641.5" y="311.5" width="1.3" height="1.3" fill="#35b779"/>
<rect x="624.8" y="320.0" width="1.3" height="1.3" fill="#26828e"/>
<rect x="592.7" y="267.3" width="1.3" height="1.3" fill="#35b779"/>
<rect x="616.2" y="263.7" width="1.3" height="1.3" fill="#482878"/>
<rect x="625.2" y="258.3" width="1.3" height="1.3" fill="#261816"/>
<rect x="592.4" y="329.7" width="1.3" height="1.3" fill="#31688e"/>
<rect x="614.4" y="303.3" width="1.3" height="1.3" fill="#35b779"/>
<rect x="597.8" y="284.5" width="1.3" height="1.3" fill="#26828e"/>
<rect x="587.0" y="303.9" width="1.3" height="1.3" fill="#26828e"/>
<rect x="637.9" y="277.7" width="1.3" height="1.3" fill="#261816"/>
<rect x="624.6" y="330.4" width="1.3" height="1.3" fill="#482878"/>
<rect x="600.2" y="253.5" width="1.3" height="1.3" fill="#31688e"/>
<rect x="589.8" y="311.2" width="1.3" height="1.3" fill="#31688e"/>
<rect x="611.9" y="269.3" width="1.3" height="1.3" fill="#1f9e89"/>
<rect x="609.1" y="252.9" width="1.3" height="1.3" fill="#35b779"/>
<rect x="582.9" y="301.7" width="1.3" height="1.3" fill="#261816"/>
<rect x="608.9" y="293.7" width="1.3" height="1.3" fill="#3e4989"/>
<rect x="594.0" y="329.5" width="1.3" height="1.3" fill="#26828e"/>
<rect x="599.6" y="301.4" width="1.3" height="1.3" fill="#35b779"/>
<rect x="583.9" y="293.2" width="1.3" height="1.3" fill="#3e4989"/>
<rect x="620.7" y="253.8" width="1.3" height="1.3" fill="#3e4989"/>
<rect x="608.2" y="250.3" width="1.3" height="1.3" fill="#31688e"/>
<rect x="641.6" y="283.2" width="1.3" height="1.3" fill="#482878"/>
<rect x="583.4" y="318.8" width="1.3" height="1.3" fill="#261816"/>
<rect x="602.3" y="290.0" width="1.3" height="1.3" fill="#261816"/>
<rect x="602.4" y="292.5" width="1.3" height="1.3" fill="#35b779"/>
<rect x="599.4" y="269.2" width="1.3" height="1.3" fill="#3e4989"/>
<rect x="614.3" y="316.8" width="1.3" height="1.3" fill="#26828e"/>
<rect x="615.4" y="311.8" width="1.3" height="1.3" fill="#261816"/>
<rect x="620.4" y="269.2" width="1.3" height="1.3" fill="#261816"/>
<rect x="621.5" y="287.0" width="1.3" height="1.3" fill="#3e4989"/>
<rect x="623.1" y="292.5" width="1.3" height="1.3" fill="#3e4989"/>
<rect x="599.3" y="273.3" width="1.3" height="1.3" fill="#35b779"/>
<rect x="611.9" y="299.3" width="1.3" height="1.3" fill="#1f9e89"/>
<rect x="578.8" y="251.3" width="1.3" height="1.3" fill="#3e4989"/>
<rect x="637.5" y="273.7" width="1.3" height="1.3" fill="#35b779"/>
<rect x="600.2" y="259.5" width="1.3" height="1.3" fill="#3e4989"/>
<rect x="627.0" y="262.9" width="1.3" height="1.3" fill="#3e4989"/>
<rect x="608.6" y="294.1" width="1.3" height="1.3" fill="#31688e"/>
<rect x="620.0" y="307.9" width="1.3" height="1.3" fill="#3e4989"/>
<rect x="621.8" y="297.5" width="1.3" height="1.3" fill="#3e4989"/>
<rect x="608.2" y="294.7" width="1.3" height="1.3" fill="#1f9e89"/>
<rect x="629.1" y="300.2" width="1.3" height="1.3" fill="#1f9e89"/>
<rect x="602.1" y="282.1" width="1.3" height="1.3" fill="#31688e"/>
<rect x="593.0" y="252.3" width="1.3" height="1.3" fill="#1f9e89"/>
<rect x="635.3" y="319.4" width="1.3" height="1.3" fill="#3e4989"/>
<rect x="612.6" y="305.4" width="1.3" height="1.3" fill="#1f9e89"/>
<rect x="617.4" y="274.4" width="1.3" height="1.3" fill="#31688e"/>
<rect x="619.6" y="304.3" width="1.3" height="1.3" fill="#1f9e89"/>
<rect x="587.5" y="320.3" width="1.3" height="1.3" fill="#261816"/>
<rect x="594.2" y="296.6" width="1.3" height="1.3" fill="#1f9e89"/>
<rect x="614.4" y="332.2" width="1.3" height="1.3" fill="#482878"/>
<rect x="638.4" y="309.9" width="1.3" height="1.3" fill="#482878"/>
<rect x="629.5" y="276.7" width="1.3" height="1.3" fill="#3e4989"/>
<rect x="636.9" y="315.4" width="1.3" height="1.3" fill="#261816"/>
<rect x="629.1" y="333.1" width="1.3" height="1.3" fill="#26828e"/>
<rect x="629.6" y="285.2" width="1.3" height="1.3" fill="#482878"/>
<rect x="587.7" y="330.1" width="1.3" height="1.3" fill="#261816"/>
<rect x="620.8" y="259.1" width="1.3" height="1.3" fill="#3e4989"/>
<rect x="585.4" y="269.8" width="1.3" height="1.3" fill="#261816"/>
<rect x="641.7" y="292.0" width="1.3" height="1.3" fill="#3e4989"/>
<rect x="632.9" y="311.0" width="1.3" height="1.3" fill="#31688e"/>
<rect x="627.0" y="293.6" width="1.3" height="1.3" fill="#261816"/>
<rect x="616.7" y="300.9" width="1.3" height="1.3" fill="#35b779"/>
<rect x="628.9" y="276.8" width="1.3" height="1.3" fill="#3e4989"/>
<rect x="578.9" y="285.0" width="1.3" height="1.3" fill="#35b779"/>
<rect x="586.6" y="318.4" width="1.3" height="1.3" fill="#3e4989"/>
<rect x="588.6" y="296.5" width="1.3" height="1.3" fill="#3e4989"/>
<rect x="590.8" y="253.9" width="1.3" height="1.3" fill="#3e4989"/>
<rect x="587.4" y="278.1" width="1.3" height="1.3" fill="#31688e"/>
<rect x="617.1" y="278.7" width="1.3" height="1.3" fill="#3e4989"/>
<rect x="586.5" y="295.7" width="1.3" height="1.3" fill="#3e4989"/>
<rect x="604.9" y="310.7" width="1.3" height="1.3" fill="#3e4989"/>
<rect x="598.1" y="324.8" width="1.3" height="1.3" fill="#31688e"/>
<rect x="609.6" y="267.5" width="1.3" height="1.3" fill="#1f9e89"/>
<rect x="616.2" y="296.5" width="1.3" height="1.3" fill="#261816"/>
<rect x="622.1" y="294.0" width="1.3" height="1.3" fill="#3e4989"/>
<rect x="582.4" y="324.9" width="1.3" height="1.3" fill="#261816"/>
<rect x="596.9" y="280.5" width="1.3" height="1.3" fill="#482878"/>
<rect x="644.2" y="332.2" width="1.3" height="1.3" fill="#35b779"/>
<rect x="602.9" y="276.5" width="1.3" height="1.3" fill="#3e4989"/>
<rect x="604.8" y="287.1" width="1.3" height="1.3" fill="#26828e"/>
<rect x="637.5" y="257.2" width="1.3" height="1.3" fill="#3e4989"/>
<rect x="598.0" y="278.8" width="1.3" height="1.3" fill="#1f9e89"/>
<rect x="584.9" y="252.5" width="1.3" height="1.3" fill="#1f9e89"/>
<rect x="581.4" y="277.7" width="1.3" height="1.3" fill="#35b779"/>
<rect x="582.8" y="328.2" width="1.3" height="1.3" fill="#261816"/>
<rect x="611.5" y="319.6" width="1.3" height="1.3" fill="#1f9e89"/>
<rect x="623.2" y="266.5" width="1.3" height="1.3" fill="#31688e"/>
<rect x="604.1" y="253.4" width="1.3" height="1.3" fill="#1f9e89"/>
<rect x="622.1" y="315.6" width="1.3" height="1.3" fill="#482878"/>
<rect x="608.5" y="315.8" width="1.3" height="1.3" fill="#482878"/>
<rect x="632.0" y="290.1" width="1.3" height="1.3" fill="#3e4989"/>
<rect x="616.3" y="294.5" width="1.3" height="1.3" fill="#26828e"/>
<rect x="606.1" y="265.1" width="1.3" height="1.3" fill="#26828e"/>
<rect x="601.7" y="329.0" width="1.3" height="1.3" fill="#1f9e89"/>
<rect x="636.2" y="297.6" width="1.3" height="1.3" fill="#3e4989"/>
<rect x="618.5" y="272.5" width="1.3" height="1.3" fill="#3e4989"/>
<rect x="628.8" y="322.7" width="1.3" height="1.3" fill="#1f9e89"/>
<rect x="585.4" y="287.4" width="1.3" height="1.3" fill="#31688e"/>
<rect x="637.0" y="299.6" width="1.3" height="1.3" fill="#31688e"/>
<rect x="579.0" y="262.6" width="1.3" height="1.3" fill="#261816"/>
<rect x="640.5" y="283.6" width="1.3" height="1.3" fill="#482878"/>
<rect x="591.9" y="306.9" width="1.3" height="1.3" fill="#3e4989"/>
<rect x="585.7" y="299.1" width="1.3" height="1.3" fill="#31688e"/>
<rect x="643.2" y="257.2" width="1.3" height="1.3" fill="#31688e"/>
<rect x="643.2" y="275.4" width="1.3" height="1.3" fill="#261816"/>
<rect x="598.3" y="309.9" width="1.3" height="1.3" fill="#26828e"/>
<rect x="606.1" y="274.6" width="1.3" height="1.3" fill="#1f9e89"/>
<rect x="643.7" y="285.2" width="1.3" height="1.3" fill="#3e4989"/>
<rect x="634.0" y="303.9" width="1.3" height="1.3" fill="#261816"/>
<rect x="578.5" y="330.1" width="1.3" height="1.3" fill="#261816"/>
<rect x="596.0" y="294.0" width="1.3" height="1.3" fill="#26828e"/>
<rect x="622.5" y="316.2" width="1.3" height="1.3" fill="#3e4989"/>
<rect x="583.7" y="259.4" width="1.3" height="1.3" fill="#26828e"/>
<rect x="603.7" y="316.1" width="1.3" height="1.3" fill="#482878"/>
<rect x="609.1" y="254.2" width="1.3" height="1.3" fill="#3e4989"/>
<rect x="631.1" y="264.7" width="1.3" height="1.3" fill="#26828e"/>
<rect x="640.8" y="275.1" width="1.3" height="1.3" fill="#26828e"/>
<rect x="630.0" y="260.4" width="1.3" height="1.3" fill="#261816"/>
<rect x="627.7" y="271.0" width="1.3" height="1.3" fill="#1f9e89"/>
<rect x="583.2" y="316.5" width="1.3" height="1.3" fill="#261816"/>
<rect x="598.4" y="273.9" width="1.3" height="1.3" fill="#482878"/>
<rect x="634.7" y="263.4" width="1.3" height="1.3" fill="#482878"/>
<rect x="578.1" y="329.8" width="1.3" height="1.3" fill="#1f9e89"/>
<rect x="583.1" y="264.7" width="1.3" height="1.3" fill="#31688e"/>
<rect x="595.1" y="330.3" width="1.3" height="1.3" fill="#1f9e89"/>
<rect x="613.8" y="302.8" width="1.3" height="1.3" fill="#3e4989"/>
<rect x="641.2" y="279.2" width="1.3" height="1.3" fill="#482878"/>
<rect x="585.7" y="265.9" width="1.3" height="1.3" fill="#35b779"/>
<rect x="641.5" y="253.9" width="1.3" height="1.3" fill="#1f9e89"/>
<rect x="613.0" y="269.7" width="1.3" height="1.3" fill="#3e4989"/>
<rect x="606.3" y="257.1" width="1.3" height="1.3" fill="#1f9e89"/>
<rect x="636.4" y="299.8" width="1.3" height="1.3" fill="#482878"/>
<rect x="598.7" y="296.0" width="1.3" height="1.3" fill="#1f9e89"/>
<rect x="602.2" y="260.0" width="1.3" height="1.3" fill="#31688e"/>
<rect x="644.8" y="300.8" width="1.3" height="1.3" fill="#3e4989"/>
<rect x="620.9" y="329.2" width="1.3" height="1.3" fill="#3e4989"/>
<rect x="614.4" y="331.4" width="1.3" height="1.3" fill="#35b779"/>
<rect x="597.6" y="296.5" width="1.3" height="1.3" fill="#1f9e89"/>
<rect x="624.2" y="295.2" width="1.3" height="1.3" fill="#3e4989"/>
<rect x="640.0" y="279.1" width="1.3" height="1.3" fill="#482878"/>
<rect x="609.0" y="281.0" width="1.3" height="1.3" fill="#26828e"/>
<rect x="640.2" y="268.8" width="1.3" height="1.3" fill="#3e4989"/>
<rect x="641.4" y="293.5" width="1.3" height="1.3" fill="#3e4989"/>
<rect x="608.5" y="302.6" width="1.3" height="1.3" fill="#261816"/>
<rect x="586.4" y="299.4" width="1.3" height="1.3" fill="#35b779"/>
<rect x="606.3" y="265.4" width="1.3" height="1.3" fill="#35b779"/>
<rect x="639.3" y="259.2" width="1.3" height="1.3" fill="#26828e"/>
<rect x="609.5" y="270.1" width="1.3" height="1.3" fill="#482878"/>
<rect x="611.1" y="324.5" width="1.3" height="1.3" fill="#1f9e89"/>
<rect x="641.8" y="291.8" width="1.3" height="1.3" fill="#35b779"/>
<rect x="599.1" y="288.6" width="1.3" height="1.3" fill="#35b779"/>
<rect x="615.4" y="324.6" width="1.3" height="1.3" fill="#31688e"/>
<rect x="624.2" y="292.1" width="1.3" height="1.3" fill="#35b779"/>
<rect x="583.0" y="279.9" width="1.3" height="1.3" fill="#1f9e89"/>
<rect x="641.0" y="285.4" width="1.3" height="1.3" fill="#3e4989"/>
<rect x="608.1" y="324.1" width="1.3" height="1.3" fill="#3e4989"/>
<rect x="609.8" y="256.2" width="1.3" height="1.3" fill="#261816"/>
<rect x="612.7" y="279.5" width="1.3" height="1.3" fill="#3e4989"/>
<rect x="641.6" y="315.5" width="1.3" height="1.3" fill="#31688e"/>
<rect x="629.5" y="269.0" width="1.3" height="1.3" fill="#1f9e89"/>
<rect x="644.2" y="261.2" width="1.3" height="1.3" fill="#261816"/>
<rect x="605.4" y="263.0" width="1.3" height="1.3" fill="#3e4989"/>
<rect x="619.2" y="271.5" width="1.3" height="1.3" fill="#35b779"/>
<rect x="623.5" y="269.5" width="1.3" height="1.3" fill="#261816"/>
<rect x="635.4" y="266.4" width="1.3" height="1.3" fill="#31688e"/>
<rect x="598.9" y="250.2" width="1.3" height="1.3" fill="#31688e"/>
<rect x="628.5" y="308.6" width="1.3" height="1.3" fill="#35b779"/>
<rect x="609.6" y="271.0" width="1.3" height="1.3" fill="#1f9e89"/>
<rect x="585.9" y="272.1" width="1.3" height="1.3" fill="#26828e"/>
<rect x="644.4" y="282.5" width="1.3" height="1.3" fill="#482878"/>
<rect x="613.8" y="319.9" width="1.3" height="1.3" fill="#482878"/>
<rect x="641.7" y="302.7" width="1.3" height="1.3" fill="#3e4989"/>
<rect x="600.4" y="314.0" width="1.3" height="1.3" fill="#1f9e89"/>
<rect x="594.7" y="274.3" width="1.3" height="1.3" fill="#35b779"/>
<rect x="628.4" y="317.1" width="1.3" height="1.3" fill="#3e4989"/>
<rect x="590.8" y="297.6" width="1.3" height="1.3" fill="#261816"/>
<rect x="619.1" y="253.9" width="1.3" height="1.3" fill="#26828e"/>
<rect x="627.0" y="258.4" width="1.3" height="1.3" fill="#261816"/>
<rect x="602.6" y="254.2" width="1.3" height="1.3" fill="#3e4989"/>
<rect x="584.6" y="300.4" width="1.3" height="1.3" fill="#35b779"/>
<rect x="644.4" y="271.7" width="1.3" height="1.3" fill="#31688e"/>
<rect x="592.9" y="251.5" width="1.3" height="1.3" fill="#1f9e89"/>
<rect x="644.2" y="263.9" width="1.3" height="1.3" fill="#3e4989"/>
<rect x="621.7" y="262.6" width="1.3" height="1.3" fill="#1f9e89"/>
<rect x="613.6" y="286.9" width="1.3" height="1.3" fill="#3e4989"/>
<rect x="623.8" y="279.1" width="1.3" height="1.3" fill="#3e4989"/>
<rect x="603.5" y="297.2" width="1.3" height="1.3" fill="#26828e"/>
<rect x="605.0" y="265.0" width="1.3" height="1.3" fill="#26828e"/>
<rect x="626.3" y="253.4" width="1.3" height="1.3" fill="#26828e"/>
<rect x="639.1" y="323.0" width="1.3" height="1.3" fill="#35b779"/>
<rect x="630.0" y="329.1" width="1.3" height="1.3" fill="#261816"/>
<rect x="589.8" y="307.2" width="1.3" height="1.3" fill="#31688e"/>
<rect x="601.9" y="276.4" width="1.3" height="1.3" fill="#261816"/>
<rect x="636.6" y="304.9" width="1.3" height="1.3" fill="#3e4989"/>
<rect x="592.5" y="289.3" width="1.3" height="1.3" fill="#31688e"/>
<rect x="625.5" y="312.7" width="1.3" height="1.3" fill="#3e4989"/>
<rect x="607.4" y="302.8" width="1.3" height="1.3" fill="#261816"/>
<rect x="632.8" y="327.0" width="1.3" height="1.3" fill="#3e4989"/>
<rect x="583.8" y="329.2" width="1.3" height="1.3" fill="#3e4989"/>
<rect x="600.7" y="260.8" width="1.3" height="1.3" fill="#3e4989"/>
<rect x="597.9" y="298.2" width="1.3" height="1.3" fill="#31688e"/>
<rect x="620.0" y="255.1" width="1.3" height="1.3" fill="#3e4989"/>
<rect x="641.8" y="255.1" width="1.3" height="1.3" fill="#482878"/>
<rect x="638.7" y="321.6" width="1.3" height="1.3" fill="#482878"/>
<rect x="629.6" y="303.2" width="1.3" height="1.3" fill="#261816"/>
<rect x="601.4" y="273.1" width="1.3" height="1.3" fill="#261816"/>
<rect x="623.1" y="330.8" width="1.3" height="1.3" fill="#482878"/>
<rect x="599.6" y="322.6" width="1.3" height="1.3" fill="#261816"/>
</g>
<path d="M608.8,279.0 C610.0,278.2 612.9,280.5 614.1,284.3 C615.2,288.1 615.2,296.3 615.8,301.8 C616.4,307.4 618.1,313.5 617.6,317.6 C617.0,321.7 614.1,326.0 612.3,326.3 C610.6,326.6 608.2,323.4 607.0,319.3 C605.9,315.2 605.3,306.8 605.3,301.8 C605.3,296.8 606.5,293.3 607.0,289.6 C607.6,285.8 607.6,279.9 608.8,279.0 Z" fill="#261816"/>
<path d="M615.8,266.8 C616.4,265.5 618.9,265.3 619.3,266.8 C619.7,268.2 619.0,274.2 618.4,275.5 C617.8,276.8 616.2,276.1 615.8,274.7 C615.4,273.2 615.2,268.1 615.8,266.8 Z" fill="#261816"/>
<path d="M621.1,287.8 C622.1,285.5 625.6,285.5 626.3,287.8 C627.0,290.1 626.5,299.5 625.4,301.8 C624.4,304.1 620.9,304.1 620.2,301.8 C619.5,299.5 620.0,290.1 621.1,287.8 Z" fill="#261816"/>
<path d="M598.3,255.4 C602.4,252.8 606.8,253.8 610.6,254.5 C614.3,255.2 618.4,257.7 621.1,259.8 C623.7,261.8 623.1,265.9 626.3,266.8 C629.5,267.7 637.7,264.4 640.3,265.0 C643.0,265.6 643.3,267.7 642.1,270.3 C640.9,272.9 637.4,277.6 633.3,280.8 C629.2,284.0 619.0,284.6 617.6,289.6 C616.1,294.5 624.3,304.7 624.6,310.6 C624.9,316.4 621.9,321.4 619.3,324.6 C616.7,327.8 612.6,329.6 608.8,329.8 C605.0,330.1 600.3,329.3 596.5,326.3 C592.7,323.4 588.4,317.9 586.0,312.3 C583.7,306.8 582.5,300.1 582.5,293.1 C582.5,286.0 583.4,276.6 586.0,270.3 C588.7,264.0 594.2,258.0 598.3,255.4 Z" fill="none" stroke="#ddd" stroke-width="0.6" stroke-dasharray="0.8,1.6"/>
<rect x="660.5" y="249.3" width="1.8" height="83.19999999999999" fill="url(#vir)"/>
<text x="665.1" y="260.0" class="t8" style="fill:#fff">0.40</text>
<text x="665.1" y="269.7" class="t8" style="fill:#fff">0.35</text>
<text x="665.1" y="279.4" class="t8" style="fill:#fff">0.30</text>
<text x="665.1" y="289.0" class="t8" style="fill:#fff">0.25</text>
<text x="665.1" y="298.7" class="t8" style="fill:#fff">0.20</text>
<text x="665.1" y="308.4" class="t8" style="fill:#fff">0.15</text>
<text x="665.1" y="318.1" class="t8" style="fill:#fff">0.10</text>
<text x="665.1" y="327.8" class="t8" style="fill:#fff">0.05</text>
<path d="M578.1,335.5 L578.1,314.5 M578.1,335.5 L598.1,335.5" stroke="#fff" stroke-width="0.8" fill="none"/>
<path d="M576.5,316.0 L578.1,312.5 L579.7,316.0 Z M596.6,333.9 L600.1,335.5 L596.6,337.1 Z" fill="#fff"/>
<text transform="translate(575.9,335.0) rotate(-90)" class="t8" style="fill:#fff">spatial 2</text>
<text x="574.1" y="342.1" class="t8" style="fill:#fff">spatial 1</text>
<path d="M99.13,394.54 A55.65,55.65 0 0,1 107.83,398.00 L104.73,404.22 A48.7,48.7 0 0,0 97.12,401.19 Z" fill="#dceaef"/>
<path d="M97.16,401.05 A48.85,48.85 0 0,1 104.80,404.08 L101.70,410.30 A41.900000000000006,41.900000000000006 0 0,0 95.15,407.70 Z" fill="#b5d6e5"/>
<path d="M95.19,407.56 A42.05,42.05 0 0,1 101.76,410.17 L98.66,416.39 A35.1,35.1 0 0,0 93.17,414.21 Z" fill="#48935b"/>
<path d="M93.22,414.06 A35.25,35.25 0 0,1 98.73,416.25 L95.63,422.47 A28.3,28.3 0 0,0 91.20,420.72 Z" fill="#e3ede6"/>
<path d="M91.25,420.57 A28.45,28.45 0 0,1 95.69,422.34 L92.59,428.56 A21.5,21.5 0 0,0 89.23,427.22 Z" fill="#f2f5f5"/>
<text transform="translate(104.49,393.93) rotate(111.8)" text-anchor="end" dy="3" class="gi">RPRD1A</text>
<path d="M90.12,392.61 A55.65,55.65 0 0,1 99.27,394.58 L97.24,401.23 A48.7,48.7 0 0,0 89.23,399.50 Z" fill="#e1ecf0"/>
<path d="M89.25,399.35 A48.85,48.85 0 0,1 97.28,401.08 L95.25,407.73 A41.900000000000006,41.900000000000006 0 0,0 88.36,406.24 Z" fill="#b5d6e5"/>
<path d="M88.38,406.10 A42.05,42.05 0 0,1 95.29,407.59 L93.26,414.23 A35.1,35.1 0 0,0 87.49,412.99 Z" fill="#3a8b50"/>
<path d="M87.51,412.84 A35.25,35.25 0 0,1 93.31,414.09 L91.27,420.74 A28.3,28.3 0 0,0 86.62,419.73 Z" fill="#cee1cf"/>
<path d="M86.64,419.58 A28.45,28.45 0 0,1 91.32,420.59 L89.29,427.24 A21.5,21.5 0 0,0 85.75,426.48 Z" fill="#e1ecf0"/>
<text transform="translate(95.31,391.12) rotate(102.2)" text-anchor="end" dy="3" class="gi">ACVR2B</text>
<path d="M80.91,392.19 A55.65,55.65 0 0,1 90.26,392.63 L89.36,399.52 A48.7,48.7 0 0,0 81.17,399.13 Z" fill="#ebf1ed"/>
<path d="M81.17,398.98 A48.85,48.85 0 0,1 89.38,399.37 L88.47,406.26 A41.900000000000006,41.900000000000006 0 0,0 81.43,405.93 Z" fill="#b1d4e4"/>
<path d="M81.42,405.78 A42.05,42.05 0 0,1 88.49,406.11 L87.58,413.00 A35.1,35.1 0 0,0 81.68,412.72 Z" fill="#1e7a3a"/>
<path d="M81.68,412.57 A35.25,35.25 0 0,1 87.60,412.85 L86.69,419.74 A28.3,28.3 0 0,0 81.94,419.52 Z" fill="#f2f5f5"/>
<path d="M81.93,419.37 A28.45,28.45 0 0,1 86.71,419.59 L85.81,426.48 A21.5,21.5 0 0,0 82.19,426.32 Z" fill="#e9f1f3"/>
<text transform="translate(85.78,389.87) rotate(92.8)" text-anchor="end" dy="3" class="gi">InR</text>
<path d="M71.76,393.30 A55.65,55.65 0 0,1 81.06,392.18 L81.30,399.13 A48.7,48.7 0 0,0 73.17,400.10 Z" fill="#bedbe7"/>
<path d="M73.14,399.96 A48.85,48.85 0 0,1 81.30,398.98 L81.54,405.93 A41.900000000000006,41.900000000000006 0 0,0 74.54,406.76 Z" fill="#c2dde8"/>
<path d="M74.51,406.62 A42.05,42.05 0 0,1 81.53,405.78 L81.78,412.72 A35.1,35.1 0 0,0 75.91,413.42 Z" fill="#48935b"/>
<path d="M75.88,413.28 A35.25,35.25 0 0,1 81.77,412.57 L82.01,419.52 A28.3,28.3 0 0,0 77.29,420.08 Z" fill="#d5e5d7"/>
<path d="M77.26,419.94 A28.45,28.45 0 0,1 82.01,419.37 L82.25,426.31 A21.5,21.5 0 0,0 78.66,426.74 Z" fill="#dce9de"/>
<text transform="translate(76.18,390.20) rotate(83.2)" text-anchor="end" dy="3" class="gi">Nf1</text>
<path d="M62.92,395.90 A55.65,55.65 0 0,1 71.91,393.27 L73.29,400.08 A48.7,48.7 0 0,0 65.43,402.38 Z" fill="#b9d8e6"/>
<path d="M65.37,402.24 A48.85,48.85 0 0,1 73.26,399.93 L74.65,406.74 A41.900000000000006,41.900000000000006 0 0,0 67.88,408.72 Z" fill="#cbe1eb"/>
<path d="M67.83,408.58 A42.05,42.05 0 0,1 74.62,406.59 L76.00,413.40 A35.1,35.1 0 0,0 70.34,415.06 Z" fill="#569b66"/>
<path d="M70.28,414.92 A35.25,35.25 0 0,1 75.97,413.26 L77.36,420.07 A28.3,28.3 0 0,0 72.79,421.41 Z" fill="#c6ddc7"/>
<path d="M72.73,421.27 A28.45,28.45 0 0,1 77.33,419.92 L78.71,426.73 A21.5,21.5 0 0,0 75.24,427.75 Z" fill="#f2f5f5"/>
<text transform="translate(66.77,392.12) rotate(73.8)" text-anchor="end" dy="3" class="gi">Caspase1</text>
<path d="M54.63,399.92 A55.65,55.65 0 0,1 63.06,395.85 L65.55,402.33 A48.7,48.7 0 0,0 58.17,405.90 Z" fill="#bedbe7"/>
<path d="M58.10,405.77 A48.85,48.85 0 0,1 65.49,402.19 L67.98,408.68 A41.900000000000006,41.900000000000006 0 0,0 61.64,411.75 Z" fill="#cfe3ec"/>
<path d="M61.56,411.62 A42.05,42.05 0 0,1 67.93,408.54 L70.42,415.03 A35.1,35.1 0 0,0 65.11,417.60 Z" fill="#2c8245"/>
<path d="M65.03,417.47 A35.25,35.25 0 0,1 70.37,414.89 L72.86,421.38 A28.3,28.3 0 0,0 68.57,423.45 Z" fill="#ebf1ed"/>
<path d="M68.50,423.32 A28.45,28.45 0 0,1 72.80,421.24 L75.30,427.73 A21.5,21.5 0 0,0 72.04,429.30 Z" fill="#f2f5f5"/>
<text transform="translate(57.80,395.56) rotate(64.2)" text-anchor="end" dy="3" class="gi">USP</text>
<path d="M47.12,405.26 A55.65,55.65 0 0,1 54.76,399.85 L58.28,405.84 A48.7,48.7 0 0,0 51.60,410.58 Z" fill="#c6dfea"/>
<path d="M51.50,410.46 A48.85,48.85 0 0,1 58.21,405.71 L61.73,411.70 A41.900000000000006,41.900000000000006 0 0,0 55.98,415.77 Z" fill="#cfe3ec"/>
<path d="M55.89,415.66 A42.05,42.05 0 0,1 61.66,411.57 L65.19,417.56 A35.1,35.1 0 0,0 60.37,420.97 Z" fill="#48935b"/>
<path d="M60.27,420.86 A35.25,35.25 0 0,1 65.11,417.43 L68.64,423.42 A28.3,28.3 0 0,0 64.75,426.17 Z" fill="#bfd9c0"/>
<path d="M64.66,426.05 A28.45,28.45 0 0,1 68.56,423.29 L72.09,429.27 A21.5,21.5 0 0,0 69.14,431.37 Z" fill="#f2f5f5"/>
<text transform="translate(49.53,400.43) rotate(54.8)" text-anchor="end" dy="3" class="gi">Akt</text>
<path d="M40.59,411.77 A55.65,55.65 0 0,1 47.23,405.17 L51.70,410.49 A48.7,48.7 0 0,0 45.89,416.27 Z" fill="#c6dfea"/>
<path d="M45.77,416.17 A48.85,48.85 0 0,1 51.60,410.38 L56.07,415.70 A41.900000000000006,41.900000000000006 0 0,0 51.07,420.67 Z" fill="#d8e8ee"/>
<path d="M50.95,420.57 A42.05,42.05 0 0,1 55.97,415.59 L60.44,420.91 A35.1,35.1 0 0,0 56.25,425.07 Z" fill="#71ac7d"/>
<path d="M56.14,424.98 A35.25,35.25 0 0,1 60.34,420.80 L64.81,426.12 A28.3,28.3 0 0,0 61.43,429.48 Z" fill="#bfd9c0"/>
<path d="M61.32,429.38 A28.45,28.45 0 0,1 64.71,426.01 L69.18,431.33 A21.5,21.5 0 0,0 66.61,433.88 Z" fill="#d8e8ee"/>
<text transform="translate(42.17,406.61) rotate(45.2)" text-anchor="end" dy="3" class="gi">CG1161</text>
<path d="M35.22,419.26 A55.65,55.65 0 0,1 40.68,411.66 L45.97,416.17 A48.7,48.7 0 0,0 41.19,422.83 Z" fill="#cfe3ec"/>
<path d="M41.06,422.75 A48.85,48.85 0 0,1 45.85,416.07 L51.14,420.59 A41.900000000000006,41.900000000000006 0 0,0 47.03,426.31 Z" fill="#a9cda9"/>
<path d="M46.90,426.24 A42.05,42.05 0 0,1 51.02,420.49 L56.31,425.00 A35.1,35.1 0 0,0 52.87,429.80 Z" fill="#71ac7d"/>
<path d="M52.74,429.72 A35.25,35.25 0 0,1 56.20,424.91 L61.48,429.42 A28.3,28.3 0 0,0 58.70,433.29 Z" fill="#d8e8ee"/>
<path d="M58.58,433.21 A28.45,28.45 0 0,1 61.37,429.32 L66.65,433.84 A21.5,21.5 0 0,0 64.54,436.77 Z" fill="#c6dfea"/>
<text transform="translate(35.93,413.91) rotate(35.8)" text-anchor="end" dy="3" class="gi">Atg8</text>
<path d="M31.17,427.54 A55.65,55.65 0 0,1 35.30,419.14 L41.26,422.72 A48.7,48.7 0 0,0 37.64,430.07 Z" fill="#cbe1eb"/>
<path d="M37.50,430.02 A48.85,48.85 0 0,1 41.13,422.64 L47.08,426.22 A41.900000000000006,41.900000000000006 0 0,0 43.98,432.55 Z" fill="#c6ddc7"/>
<path d="M43.84,432.49 A42.05,42.05 0 0,1 46.96,426.14 L52.91,429.72 A35.1,35.1 0 0,0 50.31,435.02 Z" fill="#7fb488"/>
<path d="M50.17,434.97 A35.25,35.25 0 0,1 52.78,429.64 L58.74,433.22 A28.3,28.3 0 0,0 56.64,437.50 Z" fill="#bfd9c0"/>
<path d="M56.50,437.44 A28.45,28.45 0 0,1 58.61,433.15 L64.57,436.73 A21.5,21.5 0 0,0 62.98,439.97 Z" fill="#e1ecf0"/>
<text transform="translate(30.98,422.15) rotate(26.2)" text-anchor="end" dy="3" class="gi">E75</text>
<path d="M28.54,436.37 A55.65,55.65 0 0,1 31.22,427.40 L37.69,429.95 A48.7,48.7 0 0,0 35.34,437.80 Z" fill="#d8e8ee"/>
<path d="M35.19,437.77 A48.85,48.85 0 0,1 37.55,429.90 L44.02,432.44 A41.900000000000006,41.900000000000006 0 0,0 41.99,439.20 Z" fill="#e3ede6"/>
<path d="M41.85,439.17 A42.05,42.05 0 0,1 43.88,432.39 L50.34,434.94 A35.1,35.1 0 0,0 48.65,440.59 Z" fill="#2c8245"/>
<path d="M48.50,440.56 A35.25,35.25 0 0,1 50.20,434.88 L56.67,437.43 A28.3,28.3 0 0,0 55.30,441.99 Z" fill="#d8e8ee"/>
<path d="M55.16,441.96 A28.45,28.45 0 0,1 56.53,437.37 L63.00,439.92 A21.5,21.5 0 0,0 61.96,443.38 Z" fill="#cfe3ec"/>
<text transform="translate(27.46,431.08) rotate(16.8)" text-anchor="end" dy="3" class="gi">torso</text>
<path d="M27.40,445.52 A55.65,55.65 0 0,1 28.57,436.23 L35.36,437.67 A48.7,48.7 0 0,0 34.34,445.80 Z" fill="#8dbc93"/>
<path d="M34.19,445.80 A48.85,48.85 0 0,1 35.22,437.64 L42.02,439.09 A41.900000000000006,41.900000000000006 0 0,0 41.14,446.08 Z" fill="#bedbe7"/>
<path d="M40.99,446.08 A42.05,42.05 0 0,1 41.87,439.06 L48.67,440.50 A35.1,35.1 0 0,0 47.93,446.36 Z" fill="#8dbc93"/>
<path d="M47.78,446.35 A35.25,35.25 0 0,1 48.52,440.47 L55.32,441.92 A28.3,28.3 0 0,0 54.72,446.64 Z" fill="#d8e8ee"/>
<path d="M54.57,446.63 A28.45,28.45 0 0,1 55.17,441.88 L61.97,443.33 A21.5,21.5 0 0,0 61.52,446.92 Z" fill="#f2f5f5"/>
<text transform="translate(25.46,440.48) rotate(7.2)" text-anchor="end" dy="3" class="gi">PTTH</text>
<path d="M27.78,454.73 A55.65,55.65 0 0,1 27.40,445.37 L34.35,445.68 A48.7,48.7 0 0,0 34.68,453.86 Z" fill="#2c8245"/>
<path d="M34.53,453.88 A48.85,48.85 0 0,1 34.20,445.67 L41.14,445.97 A41.900000000000006,41.900000000000006 0 0,0 41.43,453.02 Z" fill="#d8e8ee"/>
<path d="M41.28,453.03 A42.05,42.05 0 0,1 40.99,445.97 L47.93,446.27 A35.1,35.1 0 0,0 48.17,452.17 Z" fill="#d5e5d7"/>
<path d="M48.02,452.19 A35.25,35.25 0 0,1 47.78,446.26 L54.73,446.57 A28.3,28.3 0 0,0 54.92,451.32 Z" fill="#d4e6ed"/>
<path d="M54.77,451.34 A28.45,28.45 0 0,1 54.58,446.56 L61.52,446.86 A21.5,21.5 0 0,0 61.67,450.48 Z" fill="#d8e8ee"/>
<text transform="translate(25.04,450.08) rotate(-2.2)" text-anchor="end" dy="3" class="gi">YPEL2</text>
<path d="M29.68,463.75 A55.65,55.65 0 0,1 27.76,454.58 L34.66,453.74 A48.7,48.7 0 0,0 36.34,461.75 Z" fill="#f2f5f5"/>
<path d="M36.20,461.80 A48.85,48.85 0 0,1 34.51,453.75 L41.41,452.91 A41.900000000000006,41.900000000000006 0 0,0 42.86,459.81 Z" fill="#f2f5f5"/>
<path d="M42.71,459.85 A42.05,42.05 0 0,1 41.26,452.92 L48.16,452.08 A35.1,35.1 0 0,0 49.37,457.86 Z" fill="#1e7a3a"/>
<path d="M49.23,457.90 A35.25,35.25 0 0,1 48.01,452.10 L54.91,451.25 A28.3,28.3 0 0,0 55.89,455.91 Z" fill="#cfe3ec"/>
<path d="M55.74,455.95 A28.45,28.45 0 0,1 54.76,451.27 L61.66,450.42 A21.5,21.5 0 0,0 62.40,453.96 Z" fill="#cfe3ec"/>
<text transform="translate(26.22,459.61) rotate(-11.8)" text-anchor="end" dy="3" class="gi">CPR92</text>
<path d="M33.05,472.33 A55.65,55.65 0 0,1 29.64,463.61 L36.31,461.63 A48.7,48.7 0 0,0 39.28,469.26 Z" fill="#bfd9c0"/>
<path d="M39.15,469.33 A48.85,48.85 0 0,1 36.16,461.67 L42.83,459.70 A41.900000000000006,41.900000000000006 0 0,0 45.39,466.27 Z" fill="#e3ede6"/>
<path d="M45.25,466.33 A42.05,42.05 0 0,1 42.68,459.74 L49.35,457.77 A35.1,35.1 0 0,0 51.49,463.27 Z" fill="#64a472"/>
<path d="M51.36,463.34 A35.25,35.25 0 0,1 49.20,457.81 L55.87,455.84 A28.3,28.3 0 0,0 57.60,460.27 Z" fill="#e1ecf0"/>
<path d="M57.46,460.34 A28.45,28.45 0 0,1 55.72,455.88 L62.39,453.91 A21.5,21.5 0 0,0 63.70,457.28 Z" fill="#cfe3ec"/>
<text transform="translate(28.94,468.82) rotate(-21.2)" text-anchor="end" dy="3" class="gi">E74</text>
<path d="M37.78,480.23 A55.65,55.65 0 0,1 32.98,472.20 L39.23,469.15 A48.7,48.7 0 0,0 43.43,476.18 Z" fill="#c6ddc7"/>
<path d="M43.30,476.27 A48.85,48.85 0 0,1 39.09,469.21 L45.34,466.17 A41.900000000000006,41.900000000000006 0 0,0 48.95,472.22 Z" fill="#cfe3ec"/>
<path d="M48.83,472.31 A42.05,42.05 0 0,1 45.21,466.23 L51.45,463.19 A35.1,35.1 0 0,0 54.48,468.26 Z" fill="#48935b"/>
<path d="M54.36,468.34 A35.25,35.25 0 0,1 51.32,463.25 L57.56,460.21 A28.3,28.3 0 0,0 60.00,464.29 Z" fill="#f2f5f5"/>
<path d="M59.88,464.38 A28.45,28.45 0 0,1 57.43,460.27 L63.68,457.22 A21.5,21.5 0 0,0 65.53,460.33 Z" fill="#8dbc93"/>
<text transform="translate(33.15,477.45) rotate(-30.8)" text-anchor="end" dy="3" class="gi">sage</text>
<path d="M43.75,487.25 A55.65,55.65 0 0,1 37.69,480.12 L43.35,476.08 A48.7,48.7 0 0,0 48.65,482.33 Z" fill="#c6dfea"/>
<path d="M48.55,482.43 A48.85,48.85 0 0,1 43.23,476.17 L48.89,472.13 A41.900000000000006,41.900000000000006 0 0,0 53.45,477.51 Z" fill="#e1ecf0"/>
<path d="M53.34,477.61 A42.05,42.05 0 0,1 48.77,472.22 L54.42,468.18 A35.1,35.1 0 0,0 58.25,472.68 Z" fill="#f2f5f5"/>
<path d="M58.14,472.79 A35.25,35.25 0 0,1 54.30,468.27 L59.96,464.23 A28.3,28.3 0 0,0 63.04,467.86 Z" fill="#c6ddc7"/>
<path d="M62.94,467.97 A28.45,28.45 0 0,1 59.84,464.32 L65.50,460.29 A21.5,21.5 0 0,0 67.84,463.04 Z" fill="#9bc59e"/>
<text transform="translate(38.73,485.28) rotate(-40.2)" text-anchor="end" dy="3" class="gi">CPR2</text>
<path d="M50.80,493.19 A55.65,55.65 0 0,1 43.65,487.15 L48.56,482.24 A48.7,48.7 0 0,0 54.82,487.52 Z" fill="#c2dde8"/>
<path d="M54.74,487.64 A48.85,48.85 0 0,1 48.46,482.34 L53.37,477.43 A41.900000000000006,41.900000000000006 0 0,0 58.76,481.98 Z" fill="#cbe1eb"/>
<path d="M58.67,482.10 A42.05,42.05 0 0,1 53.27,477.53 L58.18,472.62 A35.1,35.1 0 0,0 62.69,476.43 Z" fill="#c6ddc7"/>
<path d="M62.61,476.55 A35.25,35.25 0 0,1 58.07,472.73 L62.99,467.81 A28.3,28.3 0 0,0 66.63,470.88 Z" fill="#f2f5f5"/>
<path d="M66.54,471.00 A28.45,28.45 0 0,1 62.88,467.92 L67.80,463.00 A21.5,21.5 0 0,0 70.56,465.34 Z" fill="#2c8245"/>
<text transform="translate(45.52,492.07) rotate(-49.8)" text-anchor="end" dy="3" class="gi">Anlp</text>
<path d="M58.74,497.88 A55.65,55.65 0 0,1 50.68,493.11 L54.72,487.45 A48.7,48.7 0 0,0 61.77,491.63 Z" fill="#ebf1ed"/>
<path d="M61.70,491.76 A48.85,48.85 0 0,1 54.63,487.57 L58.67,481.91 A41.900000000000006,41.900000000000006 0 0,0 64.73,485.51 Z" fill="#c6dfea"/>
<path d="M64.67,485.64 A42.05,42.05 0 0,1 58.58,482.03 L62.62,476.38 A35.1,35.1 0 0,0 67.70,479.39 Z" fill="#d8e8ee"/>
<path d="M67.63,479.52 A35.25,35.25 0 0,1 62.53,476.50 L66.57,470.84 A28.3,28.3 0 0,0 70.66,473.27 Z" fill="#e1ecf0"/>
<path d="M70.60,473.40 A28.45,28.45 0 0,1 66.48,470.96 L70.51,465.30 A21.5,21.5 0 0,0 73.63,467.15 Z" fill="#e1ecf0"/>
<text transform="translate(53.35,497.65) rotate(-59.2)" text-anchor="end" dy="3" class="gi">Nvd</text>
<path d="M67.33,501.20 A55.65,55.65 0 0,1 58.60,497.82 L61.65,491.57 A48.7,48.7 0 0,0 69.29,494.53 Z" fill="#2c8245"/>
<path d="M69.25,494.67 A48.85,48.85 0 0,1 61.59,491.71 L64.63,485.46 A41.900000000000006,41.900000000000006 0 0,0 71.20,488.01 Z" fill="#d8e8ee"/>
<path d="M71.16,488.15 A42.05,42.05 0 0,1 64.57,485.59 L67.61,479.35 A35.1,35.1 0 0,0 73.12,481.48 Z" fill="#dceaef"/>
<path d="M73.08,481.62 A35.25,35.25 0 0,1 67.55,479.48 L70.59,473.24 A28.3,28.3 0 0,0 75.03,474.96 Z" fill="#e1ecf0"/>
<path d="M74.99,475.10 A28.45,28.45 0 0,1 70.53,473.37 L73.58,467.12 A21.5,21.5 0 0,0 76.95,468.43 Z" fill="#e1ecf0"/>
<text transform="translate(61.98,501.86) rotate(111.2)" dy="3" class="gi">CacE</text>
<path d="M76.36,503.05 A55.65,55.65 0 0,1 67.19,501.16 L69.17,494.49 A48.7,48.7 0 0,0 77.19,496.15 Z" fill="#1e7a3a"/>
<path d="M77.17,496.30 A48.85,48.85 0 0,1 69.13,494.64 L71.10,487.97 A41.900000000000006,41.900000000000006 0 0,0 78.00,489.40 Z" fill="#dceaef"/>
<path d="M77.98,489.55 A42.05,42.05 0 0,1 71.06,488.12 L73.03,481.45 A35.1,35.1 0 0,0 78.81,482.65 Z" fill="#dceaef"/>
<path d="M78.80,482.80 A35.25,35.25 0 0,1 72.99,481.60 L74.96,474.93 A28.3,28.3 0 0,0 79.62,475.90 Z" fill="#dceaef"/>
<path d="M79.61,476.05 A28.45,28.45 0 0,1 74.92,475.08 L76.89,468.41 A21.5,21.5 0 0,0 80.44,469.15 Z" fill="#dceaef"/>
<text transform="translate(71.19,504.58) rotate(101.8)" dy="3" class="gi">CPR71</text>
<path d="M85.57,503.39 A55.65,55.65 0 0,1 76.22,503.04 L77.06,496.14 A48.7,48.7 0 0,0 85.25,496.45 Z" fill="#1e7a3a"/>
<path d="M85.26,496.60 A48.85,48.85 0 0,1 77.05,496.29 L77.89,489.39 A41.900000000000006,41.900000000000006 0 0,0 84.94,489.66 Z" fill="#dceaef"/>
<path d="M84.94,489.81 A42.05,42.05 0 0,1 77.88,489.54 L78.72,482.64 A35.1,35.1 0 0,0 84.62,482.86 Z" fill="#dceaef"/>
<path d="M84.63,483.01 A35.25,35.25 0 0,1 78.70,482.79 L79.55,475.89 A28.3,28.3 0 0,0 84.31,476.07 Z" fill="#dceaef"/>
<path d="M84.32,476.22 A28.45,28.45 0 0,1 79.53,476.04 L80.38,469.14 A21.5,21.5 0 0,0 83.99,469.28 Z" fill="#dceaef"/>
<text transform="translate(80.72,505.76) rotate(92.2)" dy="3" class="gi">CPG46</text>
<path d="M94.71,502.20 A55.65,55.65 0 0,1 85.43,503.40 L85.12,496.45 A48.7,48.7 0 0,0 93.25,495.41 Z" fill="#1e7a3a"/>
<path d="M93.28,495.56 A48.85,48.85 0 0,1 85.13,496.60 L84.83,489.66 A41.900000000000006,41.900000000000006 0 0,0 91.82,488.76 Z" fill="#e1ecf0"/>
<path d="M91.85,488.91 A42.05,42.05 0 0,1 84.83,489.81 L84.53,482.87 A35.1,35.1 0 0,0 90.39,482.11 Z" fill="#dceaef"/>
<path d="M90.42,482.26 A35.25,35.25 0 0,1 84.54,483.02 L84.23,476.07 A28.3,28.3 0 0,0 88.96,475.47 Z" fill="#e1ecf0"/>
<path d="M88.99,475.61 A28.45,28.45 0 0,1 84.24,476.22 L83.94,469.28 A21.5,21.5 0 0,0 87.53,468.82 Z" fill="#dceaef"/>
<text transform="translate(90.32,505.34) rotate(82.8)" dy="3" class="gi">CPG12</text>
<path d="M103.53,499.52 A55.65,55.65 0 0,1 94.57,502.23 L93.13,495.44 A48.7,48.7 0 0,0 100.97,493.06 Z" fill="#2c8245"/>
<path d="M101.02,493.20 A48.85,48.85 0 0,1 93.16,495.58 L91.71,488.78 A41.900000000000006,41.900000000000006 0 0,0 98.46,486.74 Z" fill="#e9f1f3"/>
<path d="M98.51,486.88 A42.05,42.05 0 0,1 91.74,488.93 L90.30,482.13 A35.1,35.1 0 0,0 95.95,480.42 Z" fill="#f2f5f5"/>
<path d="M96.00,480.56 A35.25,35.25 0 0,1 90.33,482.28 L88.88,475.48 A28.3,28.3 0 0,0 93.44,474.10 Z" fill="#d8e8ee"/>
<path d="M93.50,474.24 A28.45,28.45 0 0,1 88.92,475.63 L87.47,468.83 A21.5,21.5 0 0,0 90.93,467.78 Z" fill="#e1ecf0"/>
<text transform="translate(99.72,503.34) rotate(73.2)" dy="3" class="gi">CPR103</text>
<path d="M111.79,495.43 A55.65,55.65 0 0,1 103.40,499.58 L100.85,493.11 A48.7,48.7 0 0,0 108.19,489.48 Z" fill="#3a8b50"/>
<path d="M108.27,489.61 A48.85,48.85 0 0,1 100.90,493.25 L98.36,486.78 A41.900000000000006,41.900000000000006 0 0,0 104.67,483.66 Z" fill="#d5e5d7"/>
<path d="M104.75,483.79 A42.05,42.05 0 0,1 98.41,486.92 L95.86,480.46 A35.1,35.1 0 0,0 101.16,477.84 Z" fill="#e1ecf0"/>
<path d="M101.23,477.97 A35.25,35.25 0 0,1 95.92,480.60 L93.37,474.13 A28.3,28.3 0 0,0 97.64,472.02 Z" fill="#cfe3ec"/>
<path d="M97.72,472.15 A28.45,28.45 0 0,1 93.43,474.27 L90.88,467.80 A21.5,21.5 0 0,0 94.12,466.20 Z" fill="#c6ddc7"/>
<text transform="translate(108.65,499.82) rotate(63.8)" dy="3" class="gi">Leb3</text>
<path d="M119.25,490.02 A55.65,55.65 0 0,1 111.66,495.50 L108.08,489.54 A48.7,48.7 0 0,0 114.72,484.75 Z" fill="#569b66"/>
<path d="M114.82,484.86 A48.85,48.85 0 0,1 108.16,489.67 L104.58,483.72 A41.900000000000006,41.900000000000006 0 0,0 110.30,479.59 Z" fill="#e1ecf0"/>
<path d="M110.39,479.70 A42.05,42.05 0 0,1 104.66,483.84 L101.08,477.89 A35.1,35.1 0 0,0 105.87,474.43 Z" fill="#c6dfea"/>
<path d="M105.96,474.54 A35.25,35.25 0 0,1 101.16,478.02 L97.58,472.06 A28.3,28.3 0 0,0 101.44,469.27 Z" fill="#e1ecf0"/>
<path d="M101.53,469.39 A28.45,28.45 0 0,1 97.65,472.19 L94.07,466.23 A21.5,21.5 0 0,0 97.01,464.11 Z" fill="#b8d5b8"/>
<text transform="translate(116.89,494.87) rotate(54.2)" dy="3" class="gi">Hr3</text>
<path d="M125.72,483.46 A55.65,55.65 0 0,1 119.14,490.12 L114.63,484.83 A48.7,48.7 0 0,0 120.39,479.01 Z" fill="#71ac7d"/>
<path d="M120.50,479.10 A48.85,48.85 0 0,1 114.73,484.95 L110.21,479.66 A41.900000000000006,41.900000000000006 0 0,0 115.17,474.65 Z" fill="#8dbc93"/>
<path d="M115.28,474.74 A42.05,42.05 0 0,1 110.31,479.78 L105.80,474.49 A35.1,35.1 0 0,0 109.95,470.29 Z" fill="#bedbe7"/>
<path d="M110.06,470.39 A35.25,35.25 0 0,1 105.89,474.60 L101.38,469.32 A28.3,28.3 0 0,0 104.73,465.93 Z" fill="#d5e5d7"/>
<path d="M104.84,466.03 A28.45,28.45 0 0,1 101.48,469.43 L96.96,464.15 A21.5,21.5 0 0,0 99.51,461.58 Z" fill="#c6ddc7"/>
<text transform="translate(124.19,488.63) rotate(44.8)" dy="3" class="gi">hJHBP</text>
<path d="M131.02,475.92 A55.65,55.65 0 0,1 125.63,483.57 L120.31,479.10 A48.7,48.7 0 0,0 125.03,472.41 Z" fill="#eef3f4"/>
<path d="M125.16,472.48 A48.85,48.85 0 0,1 120.42,479.20 L115.10,474.73 A41.900000000000006,41.900000000000006 0 0,0 119.16,468.97 Z" fill="#e9f1f3"/>
<path d="M119.29,469.05 A42.05,42.05 0 0,1 115.21,474.83 L109.89,470.36 A35.1,35.1 0 0,0 113.29,465.54 Z" fill="#d8e8ee"/>
<path d="M113.42,465.61 A35.25,35.25 0 0,1 110.00,470.46 L104.68,465.99 A28.3,28.3 0 0,0 107.42,462.10 Z" fill="#a9cda9"/>
<path d="M107.55,462.18 A28.45,28.45 0 0,1 104.79,466.09 L99.47,461.62 A21.5,21.5 0 0,0 101.55,458.66 Z" fill="#d5e5d7"/>
<text transform="translate(130.37,481.27) rotate(35.2)" dy="3" class="gi">glv2</text>
<circle cx="109.70" cy="402.00" r="0.45" fill="#333"/>
<text transform="translate(112.30,403.20) rotate(26.5)" class="gi">Stage5</text>
<circle cx="106.80" cy="409.35" r="0.45" fill="#333"/>
<text transform="translate(109.40,410.55) rotate(26.5)" class="gi">Stage4</text>
<circle cx="103.90" cy="416.70" r="0.45" fill="#333"/>
<text transform="translate(106.50,417.90) rotate(26.5)" class="gi">Stage3</text>
<circle cx="101.00" cy="424.05" r="0.45" fill="#333"/>
<text transform="translate(103.60,425.25) rotate(26.5)" class="gi">Stage2</text>
<circle cx="98.10" cy="431.40" r="0.45" fill="#333"/>
<text transform="translate(100.70,432.60) rotate(26.5)" class="gi">Stage1</text>
<text x="70.8" y="446.6" class="t78">Expression</text>
<defs><linearGradient id="fexp" x1="0" x2="1"><stop offset="0" stop-color="#9bc9de"/><stop offset="0.45" stop-color="#f2f5f5"/><stop offset="0.7" stop-color="#a9cda9"/><stop offset="1" stop-color="#1e7a3a"/></linearGradient></defs>
<rect x="73.7" y="449.6" width="28.5" height="5" fill="url(#fexp)"/>
<text transform="translate(74.3,456.3) rotate(90)" class="t7">−1</text>
<text transform="translate(85.5,456.3) rotate(90)" class="t7">0</text>
<text transform="translate(96.7,456.3) rotate(90)" class="t7">1</text>
<rect x="178.20" y="401.17" width="6.93" height="17.22" fill="#c7e2dd"/>
<rect x="238.34" y="401.17" width="6.93" height="17.22" fill="#00441f"/>
<rect x="178.20" y="418.14" width="6.93" height="17.22" fill="#c7e2dd"/>
<rect x="191.56" y="418.14" width="6.93" height="17.22" fill="#c7e2dd"/>
<rect x="204.93" y="418.14" width="6.93" height="17.22" fill="#e9f2f2"/>
<rect x="224.97" y="418.14" width="6.93" height="17.22" fill="#deeeec"/>
<rect x="238.34" y="418.14" width="6.93" height="17.22" fill="#00441f"/>
<rect x="178.20" y="435.11" width="6.93" height="17.22" fill="#c7e2dd"/>
<rect x="191.56" y="435.11" width="6.93" height="17.22" fill="#00441f"/>
<rect x="204.93" y="435.11" width="6.93" height="17.22" fill="#e9f2f2"/>
<rect x="224.97" y="435.11" width="6.93" height="17.22" fill="#c7e2dd"/>
<rect x="238.34" y="435.11" width="6.93" height="17.22" fill="#94cbb9"/>
<rect x="178.20" y="452.08" width="6.93" height="17.22" fill="#c7e2dd"/>
<rect x="204.93" y="452.08" width="6.93" height="17.22" fill="#e9f2f2"/>
<rect x="238.34" y="452.08" width="6.93" height="17.22" fill="#00441f"/>
<rect x="178.20" y="469.05" width="6.93" height="17.22" fill="#00441f"/>
<rect x="184.88" y="469.05" width="6.93" height="17.22" fill="#f7fafa"/>
<rect x="191.56" y="469.05" width="6.93" height="17.22" fill="#f7fafa"/>
<rect x="198.25" y="469.05" width="6.93" height="17.22" fill="#f7fafa"/>
<rect x="204.93" y="469.05" width="6.93" height="17.22" fill="#f7fafa"/>
<rect x="211.61" y="469.05" width="6.93" height="17.22" fill="#f7fafa"/>
<rect x="218.29" y="469.05" width="6.93" height="17.22" fill="#f7fafa"/>
<rect x="224.97" y="469.05" width="6.93" height="17.22" fill="#f7fafa"/>
<rect x="231.65" y="469.05" width="6.93" height="17.22" fill="#f7fafa"/>
<rect x="238.34" y="469.05" width="6.93" height="17.22" fill="#1b915a"/>
<rect x="245.02" y="469.05" width="6.93" height="17.22" fill="#f7fafa"/>
<rect x="178.20" y="486.02" width="6.93" height="17.22" fill="#c7e2dd"/>
<rect x="184.88" y="486.02" width="6.93" height="17.22" fill="#f7fafa"/>
<rect x="191.56" y="486.02" width="6.93" height="17.22" fill="#deeeec"/>
<rect x="198.25" y="486.02" width="6.93" height="17.22" fill="#f7fafa"/>
<rect x="204.93" y="486.02" width="6.93" height="17.22" fill="#f1f6f7"/>
<rect x="211.61" y="486.02" width="6.93" height="17.22" fill="#f7fafa"/>
<rect x="218.29" y="486.02" width="6.93" height="17.22" fill="#f7fafa"/>
<rect x="224.97" y="486.02" width="6.93" height="17.22" fill="#e9f2f2"/>
<rect x="231.65" y="486.02" width="6.93" height="17.22" fill="#f1f6f7"/>
<rect x="238.34" y="486.02" width="6.93" height="17.22" fill="#00441f"/>
<rect x="245.02" y="486.02" width="6.93" height="17.22" fill="#f9fbfc"/>
<rect x="178.20" y="505.2" width="6.88" height="3.6" fill="#7463a8"/>
<rect x="184.88" y="505.2" width="6.88" height="3.6" fill="#f3b27e"/>
<rect x="191.56" y="505.2" width="6.88" height="3.6" fill="#3f7dbf"/>
<rect x="198.25" y="505.2" width="6.88" height="3.6" fill="#f08c4a"/>
<rect x="204.93" y="505.2" width="6.88" height="3.6" fill="#d9443f"/>
<rect x="211.61" y="505.2" width="6.88" height="3.6" fill="#cd7ab8"/>
<rect x="218.29" y="505.2" width="6.88" height="3.6" fill="#e6958f"/>
<rect x="224.97" y="505.2" width="6.88" height="3.6" fill="#43a06e"/>
<rect x="231.65" y="505.2" width="6.88" height="3.6" fill="#98cc98"/>
<rect x="238.34" y="505.2" width="6.88" height="3.6" fill="#efb5d2"/>
<rect x="245.02" y="505.2" width="6.88" height="3.6" fill="#c6a09e"/>
<rect x="178.87" y="378.00" width="5.35" height="5.00" fill="#7463a8"/>
<rect x="185.55" y="382.10" width="5.35" height="0.90" fill="#f3b27e"/>
<rect x="192.23" y="380.80" width="5.35" height="2.20" fill="#3f7dbf"/>
<rect x="198.91" y="382.10" width="5.35" height="0.90" fill="#f08c4a"/>
<rect x="205.60" y="382.10" width="5.35" height="0.90" fill="#d9443f"/>
<rect x="212.28" y="382.10" width="5.35" height="0.90" fill="#cd7ab8"/>
<rect x="218.96" y="382.10" width="5.35" height="0.90" fill="#e6958f"/>
<rect x="225.64" y="382.10" width="5.35" height="0.90" fill="#43a06e"/>
<rect x="232.32" y="382.10" width="5.35" height="0.90" fill="#98cc98"/>
<rect x="239.00" y="363.50" width="5.35" height="19.50" fill="#efb5d2"/>
<rect x="245.69" y="382.10" width="5.35" height="0.90" fill="#c6a09e"/>
<path d="M178.0,365.8 L178.0,382.3" stroke="#555" stroke-width="0.8"/>
<path d="M176.5,365.8 L178.0,365.8" stroke="#555" stroke-width="0.6"/>
<text x="176.2" y="368.6" class="t8c" text-anchor="end">4e−05</text>
<path d="M176.5,374 L178.0,374" stroke="#555" stroke-width="0.6"/>
<text x="176.2" y="376.8" class="t8c" text-anchor="end">2e−05</text>
<path d="M176.5,382.3 L178.0,382.3" stroke="#555" stroke-width="0.6"/>
<text x="176.2" y="385.1" class="t8c" text-anchor="end">0</text>
<text x="191.6" y="372" class="t91">Stage 1</text>
<path d="M255.4,387.59999999999997 L255.4,397.7699999999999" stroke="#555" stroke-width="0.8"/>
<rect x="255.4" y="404.57" width="19.0" height="10.17" fill="#777" stroke="#2a2a2a" stroke-width="0.8" rx="0.6"/>
<rect x="255.4" y="421.54" width="19.0" height="10.17" fill="#777" stroke="#2a2a2a" stroke-width="0.8" rx="0.6"/>
<rect x="255.4" y="438.51" width="13.5" height="10.17" fill="#777" stroke="#2a2a2a" stroke-width="0.8" rx="0.6"/>
<rect x="255.4" y="455.48" width="12.0" height="10.17" fill="#777" stroke="#2a2a2a" stroke-width="0.8" rx="0.6"/>
<rect x="255.4" y="472.45" width="12.0" height="10.17" fill="#777" stroke="#2a2a2a" stroke-width="0.8" rx="0.6"/>
<rect x="255.4" y="489.42" width="8.0" height="10.17" fill="#777" stroke="#2a2a2a" stroke-width="0.8" rx="0.6"/>
<path d="M255,503.6 L274.3,503.6" stroke="#222" stroke-width="0.8"/>
<path d="M255,503.6 L255,505.6" stroke="#222" stroke-width="0.7"/>
<text transform="translate(256.9,506.6) rotate(-90)" text-anchor="end" class="t74">0</text>
<path d="M264.5,503.6 L264.5,505.6" stroke="#222" stroke-width="0.7"/>
<text transform="translate(266.4,506.6) rotate(-90)" text-anchor="end" class="t74">0.05</text>
<path d="M274.3,503.6 L274.3,505.6" stroke="#222" stroke-width="0.7"/>
<text transform="translate(276.2,506.6) rotate(-90)" text-anchor="end" class="t74">0.1</text>
<text x="180" y="361.5" class="lab">g</text>
<rect x="178.0" y="514.1" width="8.6" height="3.3" fill="#7463a8"/>
<text x="188.6" y="517.5" class="t8">Matrix</text>
<rect x="178.0" y="521.5" width="8.6" height="3.3" fill="#f3b27e"/>
<text x="188.6" y="524.9" class="t8">Axon development</text>
<rect x="178.0" y="528.9" width="8.6" height="3.3" fill="#3f7dbf"/>
<text x="188.6" y="532.3" class="t8">Wing morphogenesis</text>
<rect x="278.60" y="384.20" width="6.43" height="17.22" fill="#c7e2dd"/>
<rect x="290.97" y="384.20" width="6.43" height="17.22" fill="#43a980"/>
<rect x="297.15" y="384.20" width="6.43" height="17.22" fill="#f7fafa"/>
<rect x="303.33" y="384.20" width="6.43" height="17.22" fill="#e9f2f2"/>
<rect x="309.52" y="384.20" width="6.43" height="17.22" fill="#f4f8f9"/>
<rect x="321.88" y="384.20" width="6.43" height="17.22" fill="#80c4ac"/>
<rect x="328.07" y="384.20" width="6.43" height="17.22" fill="#f7fafa"/>
<rect x="340.43" y="384.20" width="6.43" height="17.22" fill="#00441f"/>
<rect x="346.62" y="384.20" width="6.43" height="17.22" fill="#f9fbfc"/>
<rect x="278.60" y="401.17" width="6.43" height="17.22" fill="#a8d3c6"/>
<rect x="290.97" y="401.17" width="6.43" height="17.22" fill="#a8d3c6"/>
<rect x="297.15" y="401.17" width="6.43" height="17.22" fill="#f9fbfc"/>
<rect x="303.33" y="401.17" width="6.43" height="17.22" fill="#e9f2f2"/>
<rect x="309.52" y="401.17" width="6.43" height="17.22" fill="#f1f6f7"/>
<rect x="321.88" y="401.17" width="6.43" height="17.22" fill="#d6eae8"/>
<rect x="328.07" y="401.17" width="6.43" height="17.22" fill="#f9fbfc"/>
<rect x="340.43" y="401.17" width="6.43" height="17.22" fill="#00441f"/>
<rect x="278.60" y="418.14" width="6.43" height="17.22" fill="#a8d3c6"/>
<rect x="290.97" y="418.14" width="6.43" height="17.22" fill="#c7e2dd"/>
<rect x="303.33" y="418.14" width="6.43" height="17.22" fill="#ecf4f4"/>
<rect x="309.52" y="418.14" width="6.43" height="17.22" fill="#f4f8f9"/>
<rect x="321.88" y="418.14" width="6.43" height="17.22" fill="#c1dfd8"/>
<rect x="340.43" y="418.14" width="6.43" height="17.22" fill="#00441f"/>
<rect x="278.60" y="435.11" width="6.43" height="17.22" fill="#94cbb9"/>
<rect x="290.97" y="435.11" width="6.43" height="17.22" fill="#f4f8f9"/>
<rect x="303.33" y="435.11" width="6.43" height="17.22" fill="#f7fafa"/>
<rect x="309.52" y="435.11" width="6.43" height="17.22" fill="#f7fafa"/>
<rect x="321.88" y="435.11" width="6.43" height="17.22" fill="#c1dfd8"/>
<rect x="340.43" y="435.11" width="6.43" height="17.22" fill="#00441f"/>
<rect x="278.60" y="452.08" width="6.43" height="17.22" fill="#a8d3c6"/>
<rect x="290.97" y="452.08" width="6.43" height="17.22" fill="#94cbb9"/>
<rect x="303.33" y="452.08" width="6.43" height="17.22" fill="#ecf4f4"/>
<rect x="309.52" y="452.08" width="6.43" height="17.22" fill="#f7fafa"/>
<rect x="321.88" y="452.08" width="6.43" height="17.22" fill="#80c4ac"/>
<rect x="340.43" y="452.08" width="6.43" height="17.22" fill="#00441f"/>
<rect x="278.60" y="469.05" width="6.43" height="17.22" fill="#00441f"/>
<rect x="290.97" y="469.05" width="6.43" height="17.22" fill="#d0e7e3"/>
<rect x="303.33" y="469.05" width="6.43" height="17.22" fill="#f9fbfc"/>
<rect x="309.52" y="469.05" width="6.43" height="17.22" fill="#f9fbfc"/>
<rect x="321.88" y="469.05" width="6.43" height="17.22" fill="#deeeec"/>
<rect x="328.07" y="469.05" width="6.43" height="17.22" fill="#f9fbfc"/>
<rect x="340.43" y="469.05" width="6.43" height="17.22" fill="#2f9f70"/>
<rect x="278.60" y="486.02" width="6.43" height="17.22" fill="#6cbc9f"/>
<rect x="284.78" y="486.02" width="6.43" height="17.22" fill="#f7fafa"/>
<rect x="290.97" y="486.02" width="6.43" height="17.22" fill="#dbeceb"/>
<rect x="297.15" y="486.02" width="6.43" height="17.22" fill="#f4f8f9"/>
<rect x="303.33" y="486.02" width="6.43" height="17.22" fill="#f4f8f9"/>
<rect x="309.52" y="486.02" width="6.43" height="17.22" fill="#f7fafa"/>
<rect x="315.70" y="486.02" width="6.43" height="17.22" fill="#f9fbfc"/>
<rect x="321.88" y="486.02" width="6.43" height="17.22" fill="#deeeec"/>
<rect x="328.07" y="486.02" width="6.43" height="17.22" fill="#f7fafa"/>
<rect x="340.43" y="486.02" width="6.43" height="17.22" fill="#00441f"/>
<rect x="346.62" y="486.02" width="6.43" height="17.22" fill="#f9fbfc"/>
<rect x="278.60" y="505.2" width="6.38" height="3.6" fill="#7463a8"/>
<rect x="284.78" y="505.2" width="6.38" height="3.6" fill="#f3b27e"/>
<rect x="290.97" y="505.2" width="6.38" height="3.6" fill="#3f7dbf"/>
<rect x="297.15" y="505.2" width="6.38" height="3.6" fill="#f08c4a"/>
<rect x="303.33" y="505.2" width="6.38" height="3.6" fill="#d9443f"/>
<rect x="309.52" y="505.2" width="6.38" height="3.6" fill="#cd7ab8"/>
<rect x="315.70" y="505.2" width="6.38" height="3.6" fill="#e6958f"/>
<rect x="321.88" y="505.2" width="6.38" height="3.6" fill="#43a06e"/>
<rect x="328.07" y="505.2" width="6.38" height="3.6" fill="#98cc98"/>
<rect x="334.25" y="505.2" width="6.38" height="3.6" fill="#a8b866"/>
<rect x="340.43" y="505.2" width="6.38" height="3.6" fill="#efb5d2"/>
<rect x="346.62" y="505.2" width="6.38" height="3.6" fill="#c6a09e"/>
<rect x="279.22" y="378.50" width="4.95" height="4.50" fill="#7463a8"/>
<rect x="285.40" y="382.10" width="4.95" height="0.90" fill="#f3b27e"/>
<rect x="291.59" y="370.70" width="4.95" height="12.30" fill="#3f7dbf"/>
<rect x="297.77" y="382.10" width="4.95" height="0.90" fill="#f08c4a"/>
<rect x="303.95" y="381.00" width="4.95" height="2.00" fill="#d9443f"/>
<rect x="310.14" y="382.10" width="4.95" height="0.90" fill="#cd7ab8"/>
<rect x="316.32" y="382.10" width="4.95" height="0.90" fill="#e6958f"/>
<rect x="322.50" y="374.70" width="4.95" height="8.30" fill="#43a06e"/>
<rect x="328.69" y="382.10" width="4.95" height="0.90" fill="#98cc98"/>
<rect x="334.87" y="382.10" width="4.95" height="0.90" fill="#a8b866"/>
<rect x="341.05" y="362.50" width="4.95" height="20.50" fill="#efb5d2"/>
<rect x="347.24" y="382.10" width="4.95" height="0.90" fill="#c6a09e"/>
<path d="M277.8,364.9 L277.8,383.3" stroke="#555" stroke-width="0.8"/>
<path d="M276.3,364.9 L277.8,364.9" stroke="#555" stroke-width="0.6"/>
<text x="276.0" y="367.7" class="t8c" text-anchor="end">1.5e−04</text>
<path d="M276.3,370.8 L277.8,370.8" stroke="#555" stroke-width="0.6"/>
<text x="276.0" y="373.6" class="t8c" text-anchor="end">1e−04</text>
<path d="M276.3,377.4 L277.8,377.4" stroke="#555" stroke-width="0.6"/>
<text x="276.0" y="380.2" class="t8c" text-anchor="end">5e−05</text>
<path d="M276.3,383.3 L277.8,383.3" stroke="#555" stroke-width="0.6"/>
<text x="276.0" y="386.1" class="t8c" text-anchor="end">0</text>
<text x="296.3" y="372" class="t91">Stage 2</text>
<rect x="356.2" y="387.60" width="20.0" height="10.17" fill="#777" stroke="#2a2a2a" stroke-width="0.8" rx="0.6"/>
<rect x="356.2" y="404.57" width="14.5" height="10.17" fill="#777" stroke="#2a2a2a" stroke-width="0.8" rx="0.6"/>
<rect x="356.2" y="421.54" width="14.5" height="10.17" fill="#777" stroke="#2a2a2a" stroke-width="0.8" rx="0.6"/>
<rect x="356.2" y="438.51" width="10.5" height="10.17" fill="#777" stroke="#2a2a2a" stroke-width="0.8" rx="0.6"/>
<rect x="356.2" y="455.48" width="10.0" height="10.17" fill="#777" stroke="#2a2a2a" stroke-width="0.8" rx="0.6"/>
<rect x="356.2" y="472.45" width="11.6" height="10.17" fill="#777" stroke="#2a2a2a" stroke-width="0.8" rx="0.6"/>
<rect x="356.2" y="489.42" width="6.8" height="10.17" fill="#777" stroke="#2a2a2a" stroke-width="0.8" rx="0.6"/>
<path d="M355.8,503.6 L371.5,503.6" stroke="#222" stroke-width="0.8"/>
<path d="M355.8,503.6 L355.8,505.6" stroke="#222" stroke-width="0.7"/>
<text transform="translate(357.7,506.6) rotate(-90)" text-anchor="end" class="t74">0</text>
<path d="M363.5,503.6 L363.5,505.6" stroke="#222" stroke-width="0.7"/>
<text transform="translate(365.4,506.6) rotate(-90)" text-anchor="end" class="t74">0.05</text>
<path d="M371.5,503.6 L371.5,505.6" stroke="#222" stroke-width="0.7"/>
<text transform="translate(373.4,506.6) rotate(-90)" text-anchor="end" class="t74">0.1</text>
<text x="279.9" y="361.5" class="lab">h</text>
<rect x="278.4" y="514.1" width="8.6" height="3.3" fill="#f08c4a"/>
<text x="289.0" y="517.5" class="t8">Ciliated cell</text>
<rect x="278.4" y="521.5" width="8.6" height="3.3" fill="#d9443f"/>
<text x="289.0" y="524.9" class="t8">Cuticle 1</text>
<rect x="278.4" y="528.9" width="8.6" height="3.3" fill="#cd7ab8"/>
<text x="289.0" y="532.3" class="t8">Cuticle 2</text>
<rect x="379.10" y="384.20" width="6.46" height="17.22" fill="#f7fafa"/>
<rect x="385.31" y="384.20" width="6.46" height="17.22" fill="#f9fbfc"/>
<rect x="391.52" y="384.20" width="6.46" height="17.22" fill="#6cbc9f"/>
<rect x="397.73" y="384.20" width="6.46" height="17.22" fill="#f7fafa"/>
<rect x="403.93" y="384.20" width="6.46" height="17.22" fill="#e4f0f0"/>
<rect x="410.14" y="384.20" width="6.46" height="17.22" fill="#f4f8f9"/>
<rect x="422.56" y="384.20" width="6.46" height="17.22" fill="#2f9f70"/>
<rect x="428.77" y="384.20" width="6.46" height="17.22" fill="#6cbc9f"/>
<rect x="441.18" y="384.20" width="6.46" height="17.22" fill="#00441f"/>
<rect x="447.39" y="384.20" width="6.46" height="17.22" fill="#f7fafa"/>
<rect x="379.10" y="401.17" width="6.46" height="17.22" fill="#e4f0f0"/>
<rect x="391.52" y="401.17" width="6.46" height="17.22" fill="#a8d3c6"/>
<rect x="397.73" y="401.17" width="6.46" height="17.22" fill="#f7fafa"/>
<rect x="403.93" y="401.17" width="6.46" height="17.22" fill="#f1f6f7"/>
<rect x="410.14" y="401.17" width="6.46" height="17.22" fill="#f1f6f7"/>
<rect x="422.56" y="401.17" width="6.46" height="17.22" fill="#c7e2dd"/>
<rect x="428.77" y="401.17" width="6.46" height="17.22" fill="#c1dfd8"/>
<rect x="441.18" y="401.17" width="6.46" height="17.22" fill="#00441f"/>
<rect x="379.10" y="418.14" width="6.46" height="17.22" fill="#d6eae8"/>
<rect x="391.52" y="418.14" width="6.46" height="17.22" fill="#c7e2dd"/>
<rect x="410.14" y="418.14" width="6.46" height="17.22" fill="#e9f2f2"/>
<rect x="422.56" y="418.14" width="6.46" height="17.22" fill="#94cbb9"/>
<rect x="428.77" y="418.14" width="6.46" height="17.22" fill="#c7e2dd"/>
<rect x="441.18" y="418.14" width="6.46" height="17.22" fill="#00441f"/>
<rect x="385.31" y="435.11" width="6.46" height="17.22" fill="#f7fafa"/>
<rect x="391.52" y="435.11" width="6.46" height="17.22" fill="#00441f"/>
<rect x="397.73" y="435.11" width="6.46" height="17.22" fill="#f7fafa"/>
<rect x="403.93" y="435.11" width="6.46" height="17.22" fill="#ecf4f4"/>
<rect x="410.14" y="435.11" width="6.46" height="17.22" fill="#f7fafa"/>
<rect x="422.56" y="435.11" width="6.46" height="17.22" fill="#2f9f70"/>
<rect x="428.77" y="435.11" width="6.46" height="17.22" fill="#d6eae8"/>
<rect x="441.18" y="435.11" width="6.46" height="17.22" fill="#43a980"/>
<rect x="379.10" y="452.08" width="6.46" height="17.22" fill="#c7e2dd"/>
<rect x="385.31" y="452.08" width="6.46" height="17.22" fill="#f9fbfc"/>
<rect x="391.52" y="452.08" width="6.46" height="17.22" fill="#00441f"/>
<rect x="397.73" y="452.08" width="6.46" height="17.22" fill="#f1f6f7"/>
<rect x="403.93" y="452.08" width="6.46" height="17.22" fill="#e9f2f2"/>
<rect x="410.14" y="452.08" width="6.46" height="17.22" fill="#f1f6f7"/>
<rect x="422.56" y="452.08" width="6.46" height="17.22" fill="#259865"/>
<rect x="428.77" y="452.08" width="6.46" height="17.22" fill="#deeeec"/>
<rect x="441.18" y="452.08" width="6.46" height="17.22" fill="#a8d3c6"/>
<rect x="379.10" y="469.05" width="6.46" height="17.22" fill="#00441f"/>
<rect x="391.52" y="469.05" width="6.46" height="17.22" fill="#94cbb9"/>
<rect x="397.73" y="469.05" width="6.46" height="17.22" fill="#f4f8f9"/>
<rect x="403.93" y="469.05" width="6.46" height="17.22" fill="#eef5f6"/>
<rect x="410.14" y="469.05" width="6.46" height="17.22" fill="#f4f8f9"/>
<rect x="422.56" y="469.05" width="6.46" height="17.22" fill="#c7e2dd"/>
<rect x="428.77" y="469.05" width="6.46" height="17.22" fill="#d6eae8"/>
<rect x="441.18" y="469.05" width="6.46" height="17.22" fill="#a8d3c6"/>
<rect x="379.10" y="486.02" width="6.46" height="17.22" fill="#80c4ac"/>
<rect x="385.31" y="486.02" width="6.46" height="17.22" fill="#f7fafa"/>
<rect x="391.52" y="486.02" width="6.46" height="17.22" fill="#f7fafa"/>
<rect x="397.73" y="486.02" width="6.46" height="17.22" fill="#f7fafa"/>
<rect x="410.14" y="486.02" width="6.46" height="17.22" fill="#ecf4f4"/>
<rect x="422.56" y="486.02" width="6.46" height="17.22" fill="#f9fbfc"/>
<rect x="428.77" y="486.02" width="6.46" height="17.22" fill="#00441f"/>
<rect x="441.18" y="486.02" width="6.46" height="17.22" fill="#43a980"/>
<rect x="379.10" y="505.2" width="6.41" height="3.6" fill="#7463a8"/>
<rect x="385.31" y="505.2" width="6.41" height="3.6" fill="#f3b27e"/>
<rect x="391.52" y="505.2" width="6.41" height="3.6" fill="#3f7dbf"/>
<rect x="397.73" y="505.2" width="6.41" height="3.6" fill="#f08c4a"/>
<rect x="403.93" y="505.2" width="6.41" height="3.6" fill="#d9443f"/>
<rect x="410.14" y="505.2" width="6.41" height="3.6" fill="#cd7ab8"/>
<rect x="416.35" y="505.2" width="6.41" height="3.6" fill="#e6958f"/>
<rect x="422.56" y="505.2" width="6.41" height="3.6" fill="#43a06e"/>
<rect x="428.77" y="505.2" width="6.41" height="3.6" fill="#98cc98"/>
<rect x="434.98" y="505.2" width="6.41" height="3.6" fill="#a8b866"/>
<rect x="441.18" y="505.2" width="6.41" height="3.6" fill="#efb5d2"/>
<rect x="447.39" y="505.2" width="6.41" height="3.6" fill="#c6a09e"/>
<rect x="379.72" y="382.00" width="4.97" height="1.00" fill="#7463a8"/>
<rect x="385.93" y="382.10" width="4.97" height="0.90" fill="#f3b27e"/>
<rect x="392.14" y="374.20" width="4.97" height="8.80" fill="#3f7dbf"/>
<rect x="398.35" y="382.10" width="4.97" height="0.90" fill="#f08c4a"/>
<rect x="404.55" y="381.00" width="4.97" height="2.00" fill="#d9443f"/>
<rect x="410.76" y="382.10" width="4.97" height="0.90" fill="#cd7ab8"/>
<rect x="416.97" y="382.10" width="4.97" height="0.90" fill="#e6958f"/>
<rect x="423.18" y="372.10" width="4.97" height="10.90" fill="#43a06e"/>
<rect x="429.39" y="375.10" width="4.97" height="7.90" fill="#98cc98"/>
<rect x="435.60" y="382.10" width="4.97" height="0.90" fill="#a8b866"/>
<rect x="441.80" y="363.30" width="4.97" height="19.70" fill="#efb5d2"/>
<rect x="448.01" y="382.10" width="4.97" height="0.90" fill="#c6a09e"/>
<path d="M378.3,360.5 L378.3,382.4" stroke="#555" stroke-width="0.8"/>
<path d="M376.8,360.5 L378.3,360.5" stroke="#555" stroke-width="0.6"/>
<text x="376.5" y="363.3" class="t8c" text-anchor="end">3e−04</text>
<path d="M376.8,367.5 L378.3,367.5" stroke="#555" stroke-width="0.6"/>
<text x="376.5" y="370.3" class="t8c" text-anchor="end">2e−04</text>
<path d="M376.8,374.7 L378.3,374.7" stroke="#555" stroke-width="0.6"/>
<text x="376.5" y="377.5" class="t8c" text-anchor="end">1e−04</text>
<path d="M376.8,382.4 L378.3,382.4" stroke="#555" stroke-width="0.6"/>
<text x="376.5" y="385.2" class="t8c" text-anchor="end">0</text>
<text x="405.8" y="372" class="t91">Stage 3</text>
<rect x="457.0" y="387.60" width="19.7" height="10.17" fill="#777" stroke="#2a2a2a" stroke-width="0.8" rx="0.6"/>
<rect x="457.0" y="404.57" width="15.8" height="10.17" fill="#777" stroke="#2a2a2a" stroke-width="0.8" rx="0.6"/>
<rect x="457.0" y="421.54" width="14.9" height="10.17" fill="#777" stroke="#2a2a2a" stroke-width="0.8" rx="0.6"/>
<rect x="457.0" y="438.51" width="12.7" height="10.17" fill="#777" stroke="#2a2a2a" stroke-width="0.8" rx="0.6"/>
<rect x="457.0" y="455.48" width="11.6" height="10.17" fill="#777" stroke="#2a2a2a" stroke-width="0.8" rx="0.6"/>
<rect x="457.0" y="472.45" width="12.7" height="10.17" fill="#777" stroke="#2a2a2a" stroke-width="0.8" rx="0.6"/>
<rect x="457.0" y="489.42" width="8.1" height="10.17" fill="#777" stroke="#2a2a2a" stroke-width="0.8" rx="0.6"/>
<path d="M456.6,503.6 L472.5,503.6" stroke="#222" stroke-width="0.8"/>
<path d="M456.6,503.6 L456.6,505.6" stroke="#222" stroke-width="0.7"/>
<text transform="translate(458.5,506.6) rotate(-90)" text-anchor="end" class="t74">0</text>
<path d="M464.5,503.6 L464.5,505.6" stroke="#222" stroke-width="0.7"/>
<text transform="translate(466.4,506.6) rotate(-90)" text-anchor="end" class="t74">0.05</text>
<path d="M472.5,503.6 L472.5,505.6" stroke="#222" stroke-width="0.7"/>
<text transform="translate(474.4,506.6) rotate(-90)" text-anchor="end" class="t74">0.1</text>
<text x="382.5" y="361.5" class="lab">i</text>
<rect x="378.9" y="514.1" width="8.6" height="3.3" fill="#e6958f"/>
<text x="389.5" y="517.5" class="t8">Cuticle 3</text>
<rect x="378.9" y="521.5" width="8.6" height="3.3" fill="#43a06e"/>
<text x="389.5" y="524.9" class="t8">Epithelial 1</text>
<rect x="378.9" y="528.9" width="8.6" height="3.3" fill="#98cc98"/>
<text x="389.5" y="532.3" class="t8">Epithelial 2</text>
<rect x="481.10" y="384.20" width="6.43" height="17.22" fill="#f7fafa"/>
<rect x="487.28" y="384.20" width="6.43" height="17.22" fill="#f7fafa"/>
<rect x="493.47" y="384.20" width="6.43" height="17.22" fill="#58b28f"/>
<rect x="499.65" y="384.20" width="6.43" height="17.22" fill="#f7fafa"/>
<rect x="505.83" y="384.20" width="6.43" height="17.22" fill="#e4f0f0"/>
<rect x="512.02" y="384.20" width="6.43" height="17.22" fill="#f1f6f7"/>
<rect x="518.20" y="384.20" width="6.43" height="17.22" fill="#f7fafa"/>
<rect x="524.38" y="384.20" width="6.43" height="17.22" fill="#2f9f70"/>
<rect x="530.57" y="384.20" width="6.43" height="17.22" fill="#00441f"/>
<rect x="536.75" y="384.20" width="6.43" height="17.22" fill="#e4f0f0"/>
<rect x="542.93" y="384.20" width="6.43" height="17.22" fill="#f7fafa"/>
<rect x="549.12" y="384.20" width="6.43" height="17.22" fill="#f7fafa"/>
<rect x="481.10" y="401.17" width="6.43" height="17.22" fill="#e4f0f0"/>
<rect x="487.28" y="401.17" width="6.43" height="17.22" fill="#f7fafa"/>
<rect x="493.47" y="401.17" width="6.43" height="17.22" fill="#94cbb9"/>
<rect x="499.65" y="401.17" width="6.43" height="17.22" fill="#f7fafa"/>
<rect x="505.83" y="401.17" width="6.43" height="17.22" fill="#f1f6f7"/>
<rect x="512.02" y="401.17" width="6.43" height="17.22" fill="#f1f6f7"/>
<rect x="518.20" y="401.17" width="6.43" height="17.22" fill="#f7fafa"/>
<rect x="524.38" y="401.17" width="6.43" height="17.22" fill="#43a980"/>
<rect x="530.57" y="401.17" width="6.43" height="17.22" fill="#00441f"/>
<rect x="536.75" y="401.17" width="6.43" height="17.22" fill="#f1f6f7"/>
<rect x="542.93" y="401.17" width="6.43" height="17.22" fill="#d6eae8"/>
<rect x="549.12" y="401.17" width="6.43" height="17.22" fill="#f7fafa"/>
<rect x="481.10" y="418.14" width="6.43" height="17.22" fill="#f1f6f7"/>
<rect x="487.28" y="418.14" width="6.43" height="17.22" fill="#f7fafa"/>
<rect x="493.47" y="418.14" width="6.43" height="17.22" fill="#0d7b47"/>
<rect x="499.65" y="418.14" width="6.43" height="17.22" fill="#f7fafa"/>
<rect x="505.83" y="418.14" width="6.43" height="17.22" fill="#e4f0f0"/>
<rect x="512.02" y="418.14" width="6.43" height="17.22" fill="#e4f0f0"/>
<rect x="524.38" y="418.14" width="6.43" height="17.22" fill="#00441f"/>
<rect x="530.57" y="418.14" width="6.43" height="17.22" fill="#096d3f"/>
<rect x="536.75" y="418.14" width="6.43" height="17.22" fill="#d6eae8"/>
<rect x="542.93" y="418.14" width="6.43" height="17.22" fill="#e4f0f0"/>
<rect x="549.12" y="418.14" width="6.43" height="17.22" fill="#f7fafa"/>
<rect x="481.10" y="435.11" width="6.43" height="17.22" fill="#e4f0f0"/>
<rect x="487.28" y="435.11" width="6.43" height="17.22" fill="#f7fafa"/>
<rect x="493.47" y="435.11" width="6.43" height="17.22" fill="#065f35"/>
<rect x="499.65" y="435.11" width="6.43" height="17.22" fill="#f7fafa"/>
<rect x="505.83" y="435.11" width="6.43" height="17.22" fill="#d6eae8"/>
<rect x="512.02" y="435.11" width="6.43" height="17.22" fill="#e9f2f2"/>
<rect x="518.20" y="435.11" width="6.43" height="17.22" fill="#f7fafa"/>
<rect x="524.38" y="435.11" width="6.43" height="17.22" fill="#00441f"/>
<rect x="530.57" y="435.11" width="6.43" height="17.22" fill="#6cbc9f"/>
<rect x="536.75" y="435.11" width="6.43" height="17.22" fill="#f1f6f7"/>
<rect x="542.93" y="435.11" width="6.43" height="17.22" fill="#f1f6f7"/>
<rect x="549.12" y="435.11" width="6.43" height="17.22" fill="#f9fbfc"/>
<rect x="487.28" y="452.08" width="6.43" height="17.22" fill="#f7fafa"/>
<rect x="493.47" y="452.08" width="6.43" height="17.22" fill="#a8d3c6"/>
<rect x="499.65" y="452.08" width="6.43" height="17.22" fill="#f7fafa"/>
<rect x="505.83" y="452.08" width="6.43" height="17.22" fill="#e9f2f2"/>
<rect x="512.02" y="452.08" width="6.43" height="17.22" fill="#f1f6f7"/>
<rect x="524.38" y="452.08" width="6.43" height="17.22" fill="#43a980"/>
<rect x="530.57" y="452.08" width="6.43" height="17.22" fill="#00441f"/>
<rect x="536.75" y="452.08" width="6.43" height="17.22" fill="#f1f6f7"/>
<rect x="542.93" y="452.08" width="6.43" height="17.22" fill="#deeeec"/>
<rect x="549.12" y="452.08" width="6.43" height="17.22" fill="#f7fafa"/>
<rect x="481.10" y="469.05" width="6.43" height="17.22" fill="#00441f"/>
<rect x="487.28" y="469.05" width="6.43" height="17.22" fill="#f9fbfc"/>
<rect x="493.47" y="469.05" width="6.43" height="17.22" fill="#f9fbfc"/>
<rect x="499.65" y="469.05" width="6.43" height="17.22" fill="#f4f8f9"/>
<rect x="505.83" y="469.05" width="6.43" height="17.22" fill="#f9fbfc"/>
<rect x="512.02" y="469.05" width="6.43" height="17.22" fill="#e4f0f0"/>
<rect x="536.75" y="469.05" width="6.43" height="17.22" fill="#e4f0f0"/>
<rect x="542.93" y="469.05" width="6.43" height="17.22" fill="#096d3f"/>
<rect x="549.12" y="469.05" width="6.43" height="17.22" fill="#f9fbfc"/>
<rect x="481.10" y="486.02" width="6.43" height="17.22" fill="#096d3f"/>
<rect x="487.28" y="486.02" width="6.43" height="17.22" fill="#f1f6f7"/>
<rect x="493.47" y="486.02" width="6.43" height="17.22" fill="#a8d3c6"/>
<rect x="499.65" y="486.02" width="6.43" height="17.22" fill="#f7fafa"/>
<rect x="505.83" y="486.02" width="6.43" height="17.22" fill="#f4f8f9"/>
<rect x="512.02" y="486.02" width="6.43" height="17.22" fill="#f4f8f9"/>
<rect x="518.20" y="486.02" width="6.43" height="17.22" fill="#f9fbfc"/>
<rect x="524.38" y="486.02" width="6.43" height="17.22" fill="#94cbb9"/>
<rect x="530.57" y="486.02" width="6.43" height="17.22" fill="#43a980"/>
<rect x="536.75" y="486.02" width="6.43" height="17.22" fill="#f9fbfc"/>
<rect x="542.93" y="486.02" width="6.43" height="17.22" fill="#00441f"/>
<rect x="549.12" y="486.02" width="6.43" height="17.22" fill="#f9fbfc"/>
<rect x="481.10" y="505.2" width="6.38" height="3.6" fill="#7463a8"/>
<rect x="487.28" y="505.2" width="6.38" height="3.6" fill="#f3b27e"/>
<rect x="493.47" y="505.2" width="6.38" height="3.6" fill="#3f7dbf"/>
<rect x="499.65" y="505.2" width="6.38" height="3.6" fill="#f08c4a"/>
<rect x="505.83" y="505.2" width="6.38" height="3.6" fill="#d9443f"/>
<rect x="512.02" y="505.2" width="6.38" height="3.6" fill="#cd7ab8"/>
<rect x="518.20" y="505.2" width="6.38" height="3.6" fill="#e6958f"/>
<rect x="524.38" y="505.2" width="6.38" height="3.6" fill="#43a06e"/>
<rect x="530.57" y="505.2" width="6.38" height="3.6" fill="#98cc98"/>
<rect x="536.75" y="505.2" width="6.38" height="3.6" fill="#a8b866"/>
<rect x="542.93" y="505.2" width="6.38" height="3.6" fill="#efb5d2"/>
<rect x="549.12" y="505.2" width="6.38" height="3.6" fill="#c6a09e"/>
<rect x="481.72" y="382.10" width="4.95" height="0.90" fill="#7463a8"/>
<rect x="487.90" y="382.10" width="4.95" height="0.90" fill="#f3b27e"/>
<rect x="494.09" y="372.30" width="4.95" height="10.70" fill="#3f7dbf"/>
<rect x="500.27" y="382.10" width="4.95" height="0.90" fill="#f08c4a"/>
<rect x="506.45" y="381.00" width="4.95" height="2.00" fill="#d9443f"/>
<rect x="512.63" y="382.10" width="4.95" height="0.90" fill="#cd7ab8"/>
<rect x="518.82" y="382.10" width="4.95" height="0.90" fill="#e6958f"/>
<rect x="525.00" y="371.60" width="4.95" height="11.40" fill="#43a06e"/>
<rect x="531.18" y="363.50" width="4.95" height="19.50" fill="#98cc98"/>
<rect x="537.37" y="380.00" width="4.95" height="3.00" fill="#a8b866"/>
<rect x="543.55" y="382.10" width="4.95" height="0.90" fill="#efb5d2"/>
<rect x="549.73" y="382.10" width="4.95" height="0.90" fill="#c6a09e"/>
<path d="M480.0,363.8 L480.0,382.8" stroke="#555" stroke-width="0.8"/>
<path d="M478.5,363.8 L480.0,363.8" stroke="#555" stroke-width="0.6"/>
<text x="478.2" y="366.6" class="t8c" text-anchor="end">1.5e−04</text>
<path d="M478.5,369.3 L480.0,369.3" stroke="#555" stroke-width="0.6"/>
<text x="478.2" y="372.1" class="t8c" text-anchor="end">1e−04</text>
<path d="M478.5,376.3 L480.0,376.3" stroke="#555" stroke-width="0.6"/>
<text x="478.2" y="379.1" class="t8c" text-anchor="end">5e−05</text>
<path d="M478.5,382.8 L480.0,382.8" stroke="#555" stroke-width="0.6"/>
<text x="478.2" y="385.6" class="t8c" text-anchor="end">0</text>
<text x="496.7" y="372" class="t91">Stage 4</text>
<rect x="559.6999999999999" y="387.60" width="18.7" height="10.17" fill="#777" stroke="#2a2a2a" stroke-width="0.8" rx="0.6"/>
<rect x="559.6999999999999" y="404.57" width="15.1" height="10.17" fill="#777" stroke="#2a2a2a" stroke-width="0.8" rx="0.6"/>
<rect x="559.6999999999999" y="421.54" width="13.2" height="10.17" fill="#777" stroke="#2a2a2a" stroke-width="0.8" rx="0.6"/>
<rect x="559.6999999999999" y="438.51" width="10.3" height="10.17" fill="#777" stroke="#2a2a2a" stroke-width="0.8" rx="0.6"/>
<rect x="559.6999999999999" y="455.48" width="9.7" height="10.17" fill="#777" stroke="#2a2a2a" stroke-width="0.8" rx="0.6"/>
<rect x="559.6999999999999" y="472.45" width="9.2" height="10.17" fill="#777" stroke="#2a2a2a" stroke-width="0.8" rx="0.6"/>
<rect x="559.6999999999999" y="489.42" width="5.9" height="10.17" fill="#777" stroke="#2a2a2a" stroke-width="0.8" rx="0.6"/>
<path d="M559.3,503.6 L575,503.6" stroke="#222" stroke-width="0.8"/>
<path d="M559.3,503.6 L559.3,505.6" stroke="#222" stroke-width="0.7"/>
<text transform="translate(561.1999999999999,506.6) rotate(-90)" text-anchor="end" class="t74">0</text>
<path d="M567,503.6 L567,505.6" stroke="#222" stroke-width="0.7"/>
<text transform="translate(568.9,506.6) rotate(-90)" text-anchor="end" class="t74">0.05</text>
<path d="M575,503.6 L575,505.6" stroke="#222" stroke-width="0.7"/>
<text transform="translate(576.9,506.6) rotate(-90)" text-anchor="end" class="t74">0.1</text>
<text x="484" y="361.5" class="lab">j</text>
<rect x="480.9" y="514.1" width="8.6" height="3.3" fill="#a8b866"/>
<text x="491.5" y="517.5" class="t8">Epithelial 3</text>
<rect x="480.9" y="521.5" width="8.6" height="3.3" fill="#efb5d2"/>
<text x="491.5" y="524.9" class="t8">Immune</text>
<rect x="480.9" y="528.9" width="8.6" height="3.3" fill="#c6a09e"/>
<text x="491.5" y="532.3" class="t8">Metabolic process</text>
<rect x="583.00" y="384.20" width="7.05" height="17.22" fill="#f1f6f7"/>
<rect x="589.80" y="384.20" width="7.05" height="17.22" fill="#f7fafa"/>
<rect x="596.60" y="384.20" width="7.05" height="17.22" fill="#f7fafa"/>
<rect x="603.40" y="384.20" width="7.05" height="17.22" fill="#f7fafa"/>
<rect x="610.20" y="384.20" width="7.05" height="17.22" fill="#00441f"/>
<rect x="617.00" y="384.20" width="7.05" height="17.22" fill="#e4f0f0"/>
<rect x="623.80" y="384.20" width="7.05" height="17.22" fill="#096d3f"/>
<rect x="637.40" y="384.20" width="7.05" height="17.22" fill="#f7fafa"/>
<rect x="644.20" y="384.20" width="7.05" height="17.22" fill="#f1f6f7"/>
<rect x="589.80" y="401.17" width="7.05" height="17.22" fill="#f9fbfc"/>
<rect x="603.40" y="401.17" width="7.05" height="17.22" fill="#00441f"/>
<rect x="617.00" y="401.17" width="7.05" height="17.22" fill="#e4f0f0"/>
<rect x="623.80" y="401.17" width="7.05" height="17.22" fill="#096d3f"/>
<rect x="589.80" y="418.14" width="7.05" height="17.22" fill="#f9fbfc"/>
<rect x="603.40" y="418.14" width="7.05" height="17.22" fill="#f9fbfc"/>
<rect x="617.00" y="418.14" width="7.05" height="17.22" fill="#f1f6f7"/>
<rect x="623.80" y="418.14" width="7.05" height="17.22" fill="#00441f"/>
<rect x="583.00" y="435.11" width="7.05" height="17.22" fill="#f7fafa"/>
<rect x="589.80" y="435.11" width="7.05" height="17.22" fill="#f7fafa"/>
<rect x="596.60" y="435.11" width="7.05" height="17.22" fill="#f7fafa"/>
<rect x="603.40" y="435.11" width="7.05" height="17.22" fill="#f7fafa"/>
<rect x="610.20" y="435.11" width="7.05" height="17.22" fill="#f7fafa"/>
<rect x="617.00" y="435.11" width="7.05" height="17.22" fill="#e9f2f2"/>
<rect x="623.80" y="435.11" width="7.05" height="17.22" fill="#00441f"/>
<rect x="630.60" y="435.11" width="7.05" height="17.22" fill="#f9fbfc"/>
<rect x="637.40" y="435.11" width="7.05" height="17.22" fill="#f9fbfc"/>
<rect x="644.20" y="435.11" width="7.05" height="17.22" fill="#f9fbfc"/>
<rect x="589.80" y="452.08" width="7.05" height="17.22" fill="#d6eae8"/>
<rect x="617.00" y="452.08" width="7.05" height="17.22" fill="#deeeec"/>
<rect x="623.80" y="452.08" width="7.05" height="17.22" fill="#00441f"/>
<rect x="583.00" y="486.02" width="7.05" height="17.22" fill="#00441f"/>
<rect x="589.80" y="486.02" width="7.05" height="17.22" fill="#f7fafa"/>
<rect x="596.60" y="486.02" width="7.05" height="17.22" fill="#f7fafa"/>
<rect x="603.40" y="486.02" width="7.05" height="17.22" fill="#f7fafa"/>
<rect x="610.20" y="486.02" width="7.05" height="17.22" fill="#f7fafa"/>
<rect x="617.00" y="486.02" width="7.05" height="17.22" fill="#f1f6f7"/>
<rect x="623.80" y="486.02" width="7.05" height="17.22" fill="#065f35"/>
<rect x="637.40" y="486.02" width="7.05" height="17.22" fill="#f9fbfc"/>
<rect x="644.20" y="486.02" width="7.05" height="17.22" fill="#f7fafa"/>
<rect x="583.00" y="505.2" width="7.00" height="3.6" fill="#7463a8"/>
<rect x="589.80" y="505.2" width="7.00" height="3.6" fill="#f3b27e"/>
<rect x="596.60" y="505.2" width="7.00" height="3.6" fill="#3f7dbf"/>
<rect x="603.40" y="505.2" width="7.00" height="3.6" fill="#f08c4a"/>
<rect x="610.20" y="505.2" width="7.00" height="3.6" fill="#d9443f"/>
<rect x="617.00" y="505.2" width="7.00" height="3.6" fill="#cd7ab8"/>
<rect x="623.80" y="505.2" width="7.00" height="3.6" fill="#e6958f"/>
<rect x="630.60" y="505.2" width="7.00" height="3.6" fill="#43a06e"/>
<rect x="637.40" y="505.2" width="7.00" height="3.6" fill="#98cc98"/>
<rect x="644.20" y="505.2" width="7.00" height="3.6" fill="#efb5d2"/>
<rect x="651.00" y="505.2" width="7.00" height="3.6" fill="#c6a09e"/>
<rect x="583.68" y="382.10" width="5.44" height="0.90" fill="#7463a8"/>
<rect x="590.48" y="382.10" width="5.44" height="0.90" fill="#f3b27e"/>
<rect x="597.28" y="382.10" width="5.44" height="0.90" fill="#3f7dbf"/>
<rect x="604.08" y="382.10" width="5.44" height="0.90" fill="#f08c4a"/>
<rect x="610.88" y="382.10" width="5.44" height="0.90" fill="#d9443f"/>
<rect x="617.68" y="381.20" width="5.44" height="1.80" fill="#cd7ab8"/>
<rect x="624.48" y="362.80" width="5.44" height="20.20" fill="#e6958f"/>
<rect x="631.28" y="382.10" width="5.44" height="0.90" fill="#43a06e"/>
<rect x="638.08" y="382.10" width="5.44" height="0.90" fill="#98cc98"/>
<rect x="644.88" y="382.10" width="5.44" height="0.90" fill="#efb5d2"/>
<rect x="651.68" y="382.10" width="5.44" height="0.90" fill="#c6a09e"/>
<path d="M583.0,364.5 L583.0,383.4" stroke="#555" stroke-width="0.8"/>
<path d="M581.5,364.5 L583.0,364.5" stroke="#555" stroke-width="0.6"/>
<text x="581.2" y="367.3" class="t8c" text-anchor="end">6e−06</text>
<path d="M581.5,371.3 L583.0,371.3" stroke="#555" stroke-width="0.6"/>
<text x="581.2" y="374.1" class="t8c" text-anchor="end">4e−06</text>
<path d="M581.5,377.6 L583.0,377.6" stroke="#555" stroke-width="0.6"/>
<text x="581.2" y="380.4" class="t8c" text-anchor="end">2e−06</text>
<path d="M581.5,383.4 L583.0,383.4" stroke="#555" stroke-width="0.6"/>
<text x="581.2" y="386.2" class="t8c" text-anchor="end">0</text>
<text x="604.6" y="372" class="t91">Stage 5</text>
<rect x="661.4" y="387.60" width="11.2" height="10.17" fill="#777" stroke="#2a2a2a" stroke-width="0.8" rx="0.6"/>
<rect x="661.4" y="404.57" width="12.1" height="10.17" fill="#777" stroke="#2a2a2a" stroke-width="0.8" rx="0.6"/>
<rect x="661.4" y="421.54" width="19.3" height="10.17" fill="#777" stroke="#2a2a2a" stroke-width="0.8" rx="0.6"/>
<rect x="661.4" y="438.51" width="14.4" height="10.17" fill="#777" stroke="#2a2a2a" stroke-width="0.8" rx="0.6"/>
<rect x="661.4" y="455.48" width="8.9" height="10.17" fill="#777" stroke="#2a2a2a" stroke-width="0.8" rx="0.6"/>
<path d="M661.4,472.44999999999993 L661.4,482.61999999999995" stroke="#555" stroke-width="0.8"/>
<rect x="661.4" y="489.42" width="8.3" height="10.17" fill="#777" stroke="#2a2a2a" stroke-width="0.8" rx="0.6"/>
<path d="M661,503.6 L679.5,503.6" stroke="#222" stroke-width="0.8"/>
<path d="M661,503.6 L661,505.6" stroke="#222" stroke-width="0.7"/>
<text transform="translate(662.9,506.6) rotate(-90)" text-anchor="end" class="t74">0</text>
<path d="M670.2,503.6 L670.2,505.6" stroke="#222" stroke-width="0.7"/>
<text transform="translate(672.1,506.6) rotate(-90)" text-anchor="end" class="t74">0.04</text>
<path d="M679.5,503.6 L679.5,505.6" stroke="#222" stroke-width="0.7"/>
<text transform="translate(681.4,506.6) rotate(-90)" text-anchor="end" class="t74">0.08</text>
<text x="585.3" y="361.5" class="lab">k</text>
<text x="174.4" y="395.69" class="b84" text-anchor="end">Wnt</text>
<text x="174.4" y="412.65" class="b84" text-anchor="end">SEMA4</text>
<text x="174.4" y="429.62" class="b84" text-anchor="end">BMP</text>
<text x="174.4" y="446.60" class="b84" text-anchor="end">Notch</text>
<text x="174.4" y="463.56" class="b84" text-anchor="end">FGF</text>
<text x="174.4" y="480.53" class="b84" text-anchor="end">PARs</text>
<text x="174.4" y="497.50" class="b84" text-anchor="end">Hh</text>
<text x="592" y="521" class="t8">Relative strength</text>
<defs><linearGradient id="rs" x1="0" x2="1"><stop offset="0" stop-color="#ffffff"/><stop offset="0.05" stop-color="#f1f6f7"/><stop offset="0.15" stop-color="#d6eae8"/><stop offset="0.3" stop-color="#a8d3c6"/><stop offset="0.45" stop-color="#6cbc9f"/><stop offset="0.6" stop-color="#2f9f70"/><stop offset="0.75" stop-color="#118a4f"/><stop offset="0.88" stop-color="#07643a"/><stop offset="1.0" stop-color="#00441f"/></linearGradient></defs>
<rect x="598.5" y="523.5" width="43.5" height="5" fill="url(#rs)"/>
<text x="593" y="530" class="t8">0</text><text x="643.5" y="530" class="t8">1</text>
<path d="M76.9,573.9 Q46.7,578.7 23.3,598.4" stroke="#2b7bba" stroke-width="0.84" fill="none" stroke-opacity="0.84"/>
<path d="M76.9,644.9 Q76.4,604.8 55.1,570.8" stroke="#f0aacb" stroke-width="0.60" fill="none" stroke-opacity="0.84"/>
<path d="M23.3,620.4 Q46.7,640.1 76.9,644.9" stroke="#e88a85" stroke-width="0.60" fill="none" stroke-opacity="0.82"/>
<path d="M23.3,598.4 Q20.2,609.4 23.3,620.4" stroke="#cf78b7" stroke-width="0.41" fill="none" stroke-opacity="0.60"/>
<path d="M35.2,579.9 Q56.9,582.8 76.9,573.9" stroke="#d93a3f" stroke-width="0.88" fill="none" stroke-opacity="0.67"/>
<path d="M35.2,579.9 Q35.6,616.8 55.1,648.0" stroke="#d93a3f" stroke-width="0.86" fill="none" stroke-opacity="0.64"/>
<path d="M99.7,609.4 Q83.3,623.9 76.9,644.9" stroke="#6a58a6" stroke-width="0.81" fill="none" stroke-opacity="0.67"/>
<path d="M35.2,638.9 Q43.9,646.2 55.1,648.0" stroke="#15965f" stroke-width="0.75" fill="none" stroke-opacity="0.64"/>
<path d="M23.3,620.4 Q46.2,600.1 55.1,570.8" stroke="#e88a85" stroke-width="0.70" fill="none" stroke-opacity="0.63"/>
<path d="M99.7,609.4 Q82.8,583.9 55.1,570.8" stroke="#6a58a6" stroke-width="0.83" fill="none" stroke-opacity="0.77"/>
<path d="M76.9,644.9 Q56.9,636.0 35.2,638.9" stroke="#f0aacb" stroke-width="0.74" fill="none" stroke-opacity="0.53"/>
<path d="M76.9,644.9 Q65.6,643.4 55.1,648.0" stroke="#f0aacb" stroke-width="0.70" fill="none" stroke-opacity="0.54"/>
<path d="M23.3,620.4 Q56.6,604.7 76.9,573.9" stroke="#e88a85" stroke-width="0.40" fill="none" stroke-opacity="0.79"/>
<path d="M23.3,598.4 Q53.5,593.7 76.9,573.9" stroke="#cf78b7" stroke-width="0.52" fill="none" stroke-opacity="0.76"/>
<path d="M35.2,579.9 Q63.3,603.7 99.7,609.4" stroke="#d93a3f" stroke-width="0.58" fill="none" stroke-opacity="0.61"/>
<path d="M23.3,598.4 Q60.0,614.6 99.7,609.4" stroke="#cf78b7" stroke-width="0.81" fill="none" stroke-opacity="0.72"/>
<path d="M23.3,620.4 Q63.0,625.6 99.7,609.4" stroke="#e88a85" stroke-width="0.65" fill="none" stroke-opacity="0.73"/>
<path d="M23.3,598.4 Q43.1,589.1 55.1,570.8" stroke="#cf78b7" stroke-width="0.40" fill="none" stroke-opacity="0.58"/>
<path d="M99.7,609.4 Q60.0,604.2 23.3,620.4" stroke="#6a58a6" stroke-width="0.31" fill="none" stroke-opacity="0.57"/>
<path d="M76.9,644.9 Q56.6,614.1 23.3,598.4" stroke="#f0aacb" stroke-width="0.85" fill="none" stroke-opacity="0.69"/>
<path d="M76.9,644.9 Q53.5,625.1 23.3,620.4" stroke="#f0aacb" stroke-width="0.54" fill="none" stroke-opacity="0.62"/>
<path d="M76.9,573.9 Q43.6,589.6 23.3,620.4" stroke="#2b7bba" stroke-width="0.81" fill="none" stroke-opacity="0.62"/>
<path d="M35.2,638.9 Q65.1,612.2 76.9,573.9" stroke="#15965f" stroke-width="0.85" fill="none" stroke-opacity="0.73"/>
<path d="M99.7,609.4 Q63.0,593.2 23.3,598.4" stroke="#6a58a6" stroke-width="0.67" fill="none" stroke-opacity="0.76"/>
<path d="M23.3,620.4 Q35.3,638.7 55.1,648.0" stroke="#e88a85" stroke-width="0.53" fill="none" stroke-opacity="0.80"/>
<path d="M23.3,598.4 Q23.6,620.3 35.2,638.9" stroke="#cf78b7" stroke-width="0.87" fill="none" stroke-opacity="0.83"/>
<path d="M76.9,573.9 Q55.7,607.9 55.1,648.0" stroke="#2b7bba" stroke-width="0.61" fill="none" stroke-opacity="0.55"/>
<path d="M99.7,609.4 Q93.3,588.5 76.9,573.9" stroke="#6a58a6" stroke-width="0.77" fill="none" stroke-opacity="0.57"/>
<path d="M99.7,609.4 Q71.6,585.6 35.2,579.9" stroke="#6a58a6" stroke-width="0.87" fill="none" stroke-opacity="0.67"/>
<path d="M35.2,638.9 Q55.2,647.7 76.9,644.9" stroke="#15965f" stroke-width="0.52" fill="none" stroke-opacity="0.69"/>
<path d="M99.7,609.4 Q72.0,622.5 55.1,648.0" stroke="#6a58a6" stroke-width="0.86" fill="none" stroke-opacity="0.64"/>
<path d="M35.2,638.9 Q43.4,609.4 35.2,579.9" stroke="#15965f" stroke-width="0.79" fill="none" stroke-opacity="0.65"/>
<path d="M23.3,620.4 Q26.6,631.3 35.2,638.9" stroke="#e88a85" stroke-width="0.30" fill="none" stroke-opacity="0.69"/>
<path d="M35.2,638.9 Q31.8,628.0 23.3,620.4" stroke="#15965f" stroke-width="0.77" fill="none" stroke-opacity="0.62"/>
<path d="M35.2,579.9 Q46.9,618.2 76.9,644.9" stroke="#d93a3f" stroke-width="2.20" fill="none" stroke-opacity="0.85"/>
<path d="M35.2,579.9 Q63.3,603.7 99.7,609.4" stroke="#d93a3f" stroke-width="1.80" fill="none" stroke-opacity="0.85"/>
<path d="M76.9,573.9 Q83.3,594.9 99.7,609.4" stroke="#2b7bba" stroke-width="1.30" fill="none" stroke-opacity="0.85"/>
<path d="M76.9,573.9 Q67.0,609.4 76.9,644.9" stroke="#2b7bba" stroke-width="1.30" fill="none" stroke-opacity="0.85"/>
<path d="M99.7,609.4 Q83.3,623.9 76.9,644.9" stroke="#6a58a6" stroke-width="1.80" fill="none" stroke-opacity="0.85"/>
<path d="M35.2,638.9 Q55.2,647.7 76.9,644.9" stroke="#15965f" stroke-width="1.50" fill="none" stroke-opacity="0.85"/>
<path d="M35.2,638.9 Q71.6,633.2 99.7,609.4" stroke="#15965f" stroke-width="1.10" fill="none" stroke-opacity="0.85"/>
<path d="M35.2,638.9 Q65.1,612.2 76.9,573.9" stroke="#15965f" stroke-width="1.00" fill="none" stroke-opacity="0.85"/>
<path d="M76.9,573.9 C90.1,562.4 76.9,556.4 76.9,573.9" stroke="#2b7bba" stroke-width="1.30" fill="none" stroke-opacity="0.80"/>
<path d="M99.7,609.4 C115.7,616.6 115.7,602.1 99.7,609.4" stroke="#6a58a6" stroke-width="1.30" fill="none" stroke-opacity="0.80"/>
<path d="M76.9,644.9 C76.9,662.4 90.1,656.4 76.9,644.9" stroke="#f0aacb" stroke-width="1.30" fill="none" stroke-opacity="0.80"/>
<circle cx="99.7" cy="609.4" r="2.3" fill="#6a58a6"/>
<text x="110.1" y="618.5" class="nl" text-anchor="start" style="fill:#6a58a6">Ap</text>
<circle cx="93.5" cy="588.3" r="2.3" fill="#f3ad72"/>
<text x="104.2" y="590.0" class="nl" text-anchor="start" style="fill:#f3ad72">Ad</text>
<circle cx="76.9" cy="573.9" r="2.3" fill="#2b7bba"/>
<text x="85.9" y="571.0" class="nl" text-anchor="start" style="fill:#2b7bba">Wm</text>
<circle cx="55.1" cy="570.8" r="2.3" fill="#f0873a"/>
<text x="51.1" y="565.9" class="nl" text-anchor="middle" style="fill:#f0873a">Ci</text>
<circle cx="35.2" cy="579.9" r="2.3" fill="#d93a3f"/>
<text x="30.2" y="582.4" class="nl" text-anchor="end" style="fill:#d93a3f">C 1</text>
<circle cx="23.3" cy="598.4" r="2.3" fill="#cf78b7"/>
<text x="19.1" y="601.5" class="nl" text-anchor="end" style="fill:#cf78b7">C 2</text>
<circle cx="23.3" cy="620.4" r="2.3" fill="#e88a85"/>
<text x="19.9" y="627.0" class="nl" text-anchor="end" style="fill:#e88a85">C 3</text>
<circle cx="35.2" cy="638.9" r="2.3" fill="#15965f"/>
<text x="32.8" y="645.5" class="nl" text-anchor="end" style="fill:#15965f">Ep 1</text>
<circle cx="55.1" cy="648.0" r="2.3" fill="#8fca8f"/>
<text x="52.3" y="655.6" class="nl" text-anchor="end" style="fill:#8fca8f">Ep 2</text>
<circle cx="76.9" cy="644.9" r="2.3" fill="#f0aacb"/>
<text x="89.9" y="659.6" class="nl" text-anchor="start" style="fill:#f0aacb">Im</text>
<circle cx="93.5" cy="630.5" r="2.3" fill="#c19a97"/>
<text x="100.8" y="635.0" class="nl" text-anchor="start" style="fill:#c19a97">Mp</text>
<text x="57.7" y="554.3" class="b91" text-anchor="middle">Stage 1: 82</text>
<path d="M176.8,576.7 Q168.3,582.3 162.7,590.8" stroke="#d93a3f" stroke-width="1.75" fill="none" stroke-opacity="0.83"/>
<path d="M164.0,588.8 L165.7,580.8 L170.6,584.2 Z" fill="#d93a3f" fill-opacity="0.88"/>
<path d="M176.8,576.7 Q196.0,580.5 215.2,576.7" stroke="#d93a3f" stroke-width="0.67" fill="none" stroke-opacity="0.58"/>
<path d="M212.9,577.1 L206.0,580.7 L205.1,576.5 Z" fill="#d93a3f" fill-opacity="0.63"/>
<path d="M176.8,576.7 Q202.3,599.1 234.5,610.0" stroke="#d93a3f" stroke-width="1.60" fill="none" stroke-opacity="0.77"/>
<path d="M232.2,609.2 L224.2,609.6 L226.0,604.1 Z" fill="#d93a3f" fill-opacity="0.82"/>
<path d="M176.8,576.7 Q164.4,601.5 162.7,629.2" stroke="#d93a3f" stroke-width="1.40" fill="none" stroke-opacity="0.64"/>
<path d="M162.8,626.9 L160.6,619.2 L166.0,619.5 Z" fill="#d93a3f" fill-opacity="0.69"/>
<path d="M176.8,576.7 Q189.3,613.9 215.2,643.3" stroke="#d93a3f" stroke-width="1.33" fill="none" stroke-opacity="0.73"/>
<path d="M213.7,641.5 L206.7,637.7 L210.7,634.1 Z" fill="#d93a3f" fill-opacity="0.78"/>
<path d="M162.7,590.8 Q171.1,585.1 176.8,576.7" stroke="#cf78b7" stroke-width="1.30" fill="none" stroke-opacity="0.60"/>
<path d="M175.4,578.7 L173.5,586.4 L169.1,583.4 Z" fill="#cf78b7" fill-opacity="0.65"/>
<path d="M162.7,590.8 Q190.4,589.0 215.2,576.7" stroke="#cf78b7" stroke-width="1.12" fill="none" stroke-opacity="0.67"/>
<path d="M213.1,577.7 L207.5,583.3 L205.3,578.8 Z" fill="#cf78b7" fill-opacity="0.72"/>
<path d="M162.7,590.8 Q196.7,607.6 234.5,610.0" stroke="#cf78b7" stroke-width="1.47" fill="none" stroke-opacity="0.85"/>
<path d="M232.1,609.8 L224.4,612.1 L224.8,606.6 Z" fill="#cf78b7" fill-opacity="0.90"/>
<path d="M162.7,590.8 Q158.8,610.0 162.7,629.2" stroke="#cf78b7" stroke-width="1.74" fill="none" stroke-opacity="0.71"/>
<path d="M162.2,626.9 L157.8,620.1 L163.6,619.0 Z" fill="#cf78b7" fill-opacity="0.76"/>
<path d="M162.7,590.8 Q183.7,622.3 215.2,643.3" stroke="#cf78b7" stroke-width="1.13" fill="none" stroke-opacity="0.63"/>
<path d="M213.3,642.0 L205.6,639.9 L208.4,635.8 Z" fill="#cf78b7" fill-opacity="0.68"/>
<path d="M215.2,576.7 Q196.0,572.8 176.8,576.7" stroke="#2b7bba" stroke-width="0.86" fill="none" stroke-opacity="0.56"/>
<path d="M179.1,576.2 L186.0,572.5 L186.9,577.0 Z" fill="#2b7bba" fill-opacity="0.61"/>
<path d="M215.2,576.7 Q187.5,578.4 162.7,590.8" stroke="#2b7bba" stroke-width="1.64" fill="none" stroke-opacity="0.65"/>
<path d="M164.8,589.7 L170.2,583.8 L172.8,589.0 Z" fill="#2b7bba" fill-opacity="0.70"/>
<path d="M215.2,576.7 Q221.5,595.3 234.5,610.0" stroke="#2b7bba" stroke-width="1.48" fill="none" stroke-opacity="0.82"/>
<path d="M232.9,608.2 L225.9,604.4 L230.1,600.7 Z" fill="#2b7bba" fill-opacity="0.87"/>
<path d="M215.2,576.7 Q183.7,597.7 162.7,629.2" stroke="#2b7bba" stroke-width="1.75" fill="none" stroke-opacity="0.72"/>
<path d="M164.0,627.3 L165.7,619.4 L170.6,622.7 Z" fill="#2b7bba" fill-opacity="0.77"/>
<path d="M215.2,576.7 Q208.6,610.0 215.2,643.3" stroke="#2b7bba" stroke-width="1.23" fill="none" stroke-opacity="0.56"/>
<path d="M214.8,641.0 L210.8,634.1 L215.8,633.1 Z" fill="#2b7bba" fill-opacity="0.61"/>
<path d="M234.5,610.0 Q209.0,587.6 176.8,576.7" stroke="#6a58a6" stroke-width="0.99" fill="none" stroke-opacity="0.59"/>
<path d="M179.0,577.4 L186.9,577.6 L185.4,582.1 Z" fill="#6a58a6" fill-opacity="0.64"/>
<path d="M234.5,610.0 Q200.5,593.2 162.7,590.8" stroke="#6a58a6" stroke-width="1.21" fill="none" stroke-opacity="0.85"/>
<path d="M165.1,590.9 L172.7,588.8 L172.4,594.0 Z" fill="#6a58a6" fill-opacity="0.90"/>
<path d="M234.5,610.0 Q228.2,591.4 215.2,576.7" stroke="#6a58a6" stroke-width="1.41" fill="none" stroke-opacity="0.60"/>
<path d="M216.8,578.5 L223.8,582.3 L219.7,585.9 Z" fill="#6a58a6" fill-opacity="0.65"/>
<path d="M234.5,610.0 Q196.7,612.4 162.7,629.2" stroke="#6a58a6" stroke-width="1.67" fill="none" stroke-opacity="0.79"/>
<path d="M164.8,628.2 L170.2,622.2 L172.8,627.5 Z" fill="#6a58a6" fill-opacity="0.84"/>
<path d="M234.5,610.0 Q221.5,624.7 215.2,643.3" stroke="#6a58a6" stroke-width="1.48" fill="none" stroke-opacity="0.82"/>
<path d="M216.0,641.1 L215.8,633.1 L221.1,634.9 Z" fill="#6a58a6" fill-opacity="0.87"/>
<path d="M162.7,629.2 Q175.0,604.4 176.8,576.7" stroke="#15965f" stroke-width="2.17" fill="none" stroke-opacity="0.79"/>
<path d="M176.6,579.1 L179.4,586.8 L172.8,586.3 Z" fill="#15965f" fill-opacity="0.84"/>
<path d="M162.7,629.2 Q166.5,610.0 162.7,590.8" stroke="#15965f" stroke-width="1.44" fill="none" stroke-opacity="0.84"/>
<path d="M163.1,593.1 L167.3,599.9 L161.9,601.0 Z" fill="#15965f" fill-opacity="0.89"/>
<path d="M162.7,629.2 Q194.2,608.2 215.2,576.7" stroke="#15965f" stroke-width="2.53" fill="none" stroke-opacity="0.60"/>
<path d="M213.9,578.7 L212.8,586.9 L206.7,582.9 Z" fill="#15965f" fill-opacity="0.65"/>
<path d="M162.7,629.2 Q200.5,626.8 234.5,610.0" stroke="#15965f" stroke-width="2.16" fill="none" stroke-opacity="0.76"/>
<path d="M232.3,611.1 L227.1,617.4 L224.2,611.4 Z" fill="#15965f" fill-opacity="0.81"/>
<path d="M162.7,629.2 Q187.5,641.6 215.2,643.3" stroke="#15965f" stroke-width="1.63" fill="none" stroke-opacity="0.71"/>
<path d="M212.9,643.2 L205.2,645.6 L205.6,639.8 Z" fill="#15965f" fill-opacity="0.76"/>
<path d="M215.2,643.3 Q202.7,606.1 176.8,576.7" stroke="#f0aacb" stroke-width="1.68" fill="none" stroke-opacity="0.83"/>
<path d="M178.3,578.5 L185.5,582.1 L181.1,586.0 Z" fill="#f0aacb" fill-opacity="0.88"/>
<path d="M215.2,643.3 Q194.2,611.8 162.7,590.8" stroke="#f0aacb" stroke-width="1.70" fill="none" stroke-opacity="0.80"/>
<path d="M164.7,592.1 L172.5,593.8 L169.3,598.7 Z" fill="#f0aacb" fill-opacity="0.85"/>
<path d="M215.2,643.3 Q221.9,610.0 215.2,576.7" stroke="#f0aacb" stroke-width="1.44" fill="none" stroke-opacity="0.81"/>
<path d="M215.7,579.0 L219.9,585.8 L214.5,586.9 Z" fill="#f0aacb" fill-opacity="0.86"/>
<path d="M215.2,643.3 Q228.2,628.6 234.5,610.0" stroke="#f0aacb" stroke-width="2.42" fill="none" stroke-opacity="0.69"/>
<path d="M233.7,612.3 L234.7,620.5 L228.0,618.2 Z" fill="#f0aacb" fill-opacity="0.74"/>
<path d="M215.2,643.3 Q190.4,631.0 162.7,629.2" stroke="#f0aacb" stroke-width="1.82" fill="none" stroke-opacity="0.83"/>
<path d="M165.1,629.4 L172.7,626.8 L172.3,632.9 Z" fill="#f0aacb" fill-opacity="0.88"/>
<path d="M196.0,571.5 Q185.9,572.2 176.8,576.7" stroke="#f0873a" stroke-width="0.77" fill="none" stroke-opacity="0.60"/>
<path d="M178.9,575.6 L184.6,570.3 L186.6,574.3 Z" fill="#f0873a" fill-opacity="0.65"/>
<path d="M229.3,590.8 Q192.2,603.3 162.7,629.2" stroke="#f3ad72" stroke-width="0.61" fill="none" stroke-opacity="0.60"/>
<path d="M164.5,627.7 L168.7,621.1 L171.5,624.3 Z" fill="#f3ad72" fill-opacity="0.65"/>
<path d="M229.3,590.8 Q223.7,582.3 215.2,576.7" stroke="#f3ad72" stroke-width="0.34" fill="none" stroke-opacity="0.60"/>
<path d="M217.2,578.0 L224.5,580.6 L222.4,583.7 Z" fill="#f3ad72" fill-opacity="0.65"/>
<path d="M196.0,571.5 Q211.4,594.6 234.5,610.0" stroke="#f0873a" stroke-width="0.71" fill="none" stroke-opacity="0.60"/>
<path d="M232.5,608.7 L225.1,606.3 L227.5,602.7 Z" fill="#f0873a" fill-opacity="0.65"/>
<path d="M196.0,571.5 Q177.4,577.8 162.7,590.8" stroke="#f0873a" stroke-width="0.66" fill="none" stroke-opacity="0.60"/>
<path d="M164.5,589.2 L168.7,582.6 L171.5,585.8 Z" fill="#f0873a" fill-opacity="0.65"/>
<path d="M229.3,590.8 Q204.5,578.4 176.8,576.7" stroke="#f3ad72" stroke-width="0.75" fill="none" stroke-opacity="0.60"/>
<path d="M179.1,576.8 L186.8,575.1 L186.5,579.5 Z" fill="#f3ad72" fill-opacity="0.65"/>
<path d="M196.0,571.5 Q205.1,576.0 215.2,576.7" stroke="#f0873a" stroke-width="0.40" fill="none" stroke-opacity="0.60"/>
<path d="M212.9,576.5 L205.2,577.9 L205.5,574.1 Z" fill="#f0873a" fill-opacity="0.65"/>
<path d="M176.7,643.3 Q183.4,610.0 176.8,576.7" stroke="#8fca8f" stroke-width="0.67" fill="none" stroke-opacity="0.60"/>
<path d="M177.2,579.0 L180.8,585.9 L176.6,586.8 Z" fill="#8fca8f" fill-opacity="0.65"/>
<path d="M157.5,610.0 Q158.2,620.1 162.7,629.2" stroke="#e88a85" stroke-width="0.33" fill="none" stroke-opacity="0.60"/>
<path d="M161.6,627.1 L156.6,621.2 L159.9,619.5 Z" fill="#e88a85" fill-opacity="0.65"/>
<path d="M229.3,590.8 Q196.0,584.1 162.7,590.8" stroke="#f3ad72" stroke-width="0.63" fill="none" stroke-opacity="0.60"/>
<path d="M165.0,590.3 L172.0,586.7 L172.8,590.9 Z" fill="#f3ad72" fill-opacity="0.65"/>
<path d="M157.5,610.0 Q162.0,600.9 162.7,590.8" stroke="#e88a85" stroke-width="0.44" fill="none" stroke-opacity="0.60"/>
<path d="M162.5,593.1 L164.0,600.8 L160.1,600.5 Z" fill="#e88a85" fill-opacity="0.65"/>
<path d="M157.5,610.0 Q183.0,632.4 215.2,643.3" stroke="#e88a85" stroke-width="0.41" fill="none" stroke-opacity="0.60"/>
<path d="M213.0,642.6 L205.3,642.0 L206.5,638.3 Z" fill="#e88a85" fill-opacity="0.65"/>
<path d="M176.7,643.3 Q196.0,647.2 215.2,643.3" stroke="#8fca8f" stroke-width="0.74" fill="none" stroke-opacity="0.60"/>
<path d="M212.9,643.8 L206.0,647.4 L205.1,643.1 Z" fill="#8fca8f" fill-opacity="0.65"/>
<path d="M157.5,610.0 Q170.5,595.3 176.8,576.7" stroke="#e88a85" stroke-width="0.35" fill="none" stroke-opacity="0.60"/>
<path d="M176.0,578.9 L175.4,586.6 L171.8,585.4 Z" fill="#e88a85" fill-opacity="0.65"/>
<path d="M215.2,576.7 Q208.6,610.0 215.2,643.3" stroke="#2b7bba" stroke-width="3.00" fill="none" stroke-opacity="0.85"/>
<path d="M214.8,641.0 L209.4,634.4 L217.2,632.8 Z" fill="#2b7bba" fill-opacity="0.90"/>
<path d="M162.7,629.2 Q187.5,641.6 215.2,643.3" stroke="#15965f" stroke-width="3.00" fill="none" stroke-opacity="0.85"/>
<path d="M212.9,643.2 L205.1,646.7 L205.6,638.7 Z" fill="#15965f" fill-opacity="0.90"/>
<path d="M176.8,576.7 Q189.3,613.9 215.2,643.3" stroke="#d93a3f" stroke-width="2.40" fill="none" stroke-opacity="0.85"/>
<path d="M213.7,641.5 L206.1,638.2 L211.4,633.6 Z" fill="#d93a3f" fill-opacity="0.90"/>
<path d="M162.7,629.2 Q200.5,626.8 234.5,610.0" stroke="#15965f" stroke-width="2.60" fill="none" stroke-opacity="0.85"/>
<path d="M232.3,611.1 L227.3,617.7 L224.0,611.1 Z" fill="#15965f" fill-opacity="0.90"/>
<path d="M215.2,576.7 Q221.5,595.3 234.5,610.0" stroke="#2b7bba" stroke-width="2.00" fill="none" stroke-opacity="0.85"/>
<path d="M232.9,608.2 L225.6,604.7 L230.4,600.5 Z" fill="#2b7bba" fill-opacity="0.90"/>
<path d="M215.2,643.3 Q228.2,628.6 234.5,610.0" stroke="#f0aacb" stroke-width="2.40" fill="none" stroke-opacity="0.85"/>
<path d="M233.7,612.3 L234.7,620.5 L228.0,618.2 Z" fill="#f0aacb" fill-opacity="0.90"/>
<path d="M162.7,590.8 Q183.7,622.3 215.2,643.3" stroke="#cf78b7" stroke-width="2.00" fill="none" stroke-opacity="0.85"/>
<path d="M213.3,642.0 L205.2,640.5 L208.8,635.2 Z" fill="#cf78b7" fill-opacity="0.90"/>
<path d="M176.8,576.7 C175.1,559.8 163.0,566.8 176.8,576.7" stroke="#d93a3f" stroke-width="1.70" fill="none" stroke-opacity="0.80"/>
<path d="M176.8,573.7 L173.1,568.4 L178.3,565.4 Z" fill="#d93a3f" fill-opacity="0.75"/>
<path d="M162.7,590.8 C152.8,577.0 145.8,589.1 162.7,590.8" stroke="#cf78b7" stroke-width="1.70" fill="none" stroke-opacity="0.80"/>
<path d="M161.2,588.2 L155.4,585.4 L158.4,580.2 Z" fill="#cf78b7" fill-opacity="0.75"/>
<path d="M215.2,576.7 C229.0,566.8 216.9,559.8 215.2,576.7" stroke="#2b7bba" stroke-width="1.70" fill="none" stroke-opacity="0.80"/>
<path d="M217.8,575.2 L220.6,569.4 L225.8,572.4 Z" fill="#2b7bba" fill-opacity="0.75"/>
<path d="M234.5,610.0 C249.9,617.0 249.9,603.0 234.5,610.0" stroke="#6a58a6" stroke-width="1.70" fill="none" stroke-opacity="0.80"/>
<path d="M237.0,611.5 L243.5,611.0 L243.5,617.0 Z" fill="#6a58a6" fill-opacity="0.75"/>
<path d="M215.2,643.3 C216.9,660.2 229.0,653.2 215.2,643.3" stroke="#f0aacb" stroke-width="1.70" fill="none" stroke-opacity="0.80"/>
<path d="M215.2,646.3 L218.9,651.6 L213.7,654.6 Z" fill="#f0aacb" fill-opacity="0.75"/>
<path d="M162.7,629.2 C145.8,630.9 152.8,643.0 162.7,629.2" stroke="#15965f" stroke-width="1.70" fill="none" stroke-opacity="0.80"/>
<path d="M159.7,629.2 L154.4,632.9 L151.4,627.7 Z" fill="#15965f" fill-opacity="0.75"/>
<circle cx="234.5" cy="610.0" r="2.3" fill="#6a58a6"/>
<text x="243.3" y="620.8" class="nl" text-anchor="start" style="fill:#6a58a6">Ap</text>
<circle cx="229.3" cy="590.8" r="2.3" fill="#f3ad72"/>
<text x="236.5" y="593.9" class="nl" text-anchor="start" style="fill:#f3ad72">Ad</text>
<circle cx="215.2" cy="576.7" r="2.3" fill="#2b7bba"/>
<text x="224.4" y="577.1" class="nl" text-anchor="start" style="fill:#2b7bba">Wm</text>
<circle cx="196.0" cy="571.5" r="2.3" fill="#f0873a"/>
<text x="193.5" y="565.8" class="nl" text-anchor="middle" style="fill:#f0873a">Ci</text>
<circle cx="176.8" cy="576.7" r="2.3" fill="#d93a3f"/>
<text x="164.4" y="578.2" class="nl" text-anchor="end" style="fill:#d93a3f">C 1</text>
<circle cx="162.7" cy="590.8" r="2.3" fill="#cf78b7"/>
<text x="151.5" y="596.4" class="nl" text-anchor="end" style="fill:#cf78b7">C 2</text>
<circle cx="157.5" cy="610.0" r="2.3" fill="#e88a85"/>
<text x="149.3" y="613.1" class="nl" text-anchor="end" style="fill:#e88a85">C 3</text>
<circle cx="162.7" cy="629.2" r="2.3" fill="#15965f"/>
<text x="159.6" y="631.0" class="nl" text-anchor="end" style="fill:#15965f">Ep 1</text>
<circle cx="176.7" cy="643.3" r="2.3" fill="#8fca8f"/>
<text x="171.6" y="650.9" class="nl" text-anchor="end" style="fill:#8fca8f">Ep 2</text>
<circle cx="196.0" cy="648.5" r="2.3" fill="#a8b866"/>
<text x="188.8" y="657.1" class="nl" text-anchor="middle" style="fill:#a8b866">Ep 3</text>
<circle cx="215.2" cy="643.3" r="2.3" fill="#f0aacb"/>
<text x="230.2" y="654.8" class="nl" text-anchor="start" style="fill:#f0aacb">Im</text>
<circle cx="229.3" cy="629.2" r="2.3" fill="#c19a97"/>
<text x="238.7" y="636.1" class="nl" text-anchor="start" style="fill:#c19a97">Mp</text>
<text x="201" y="554.3" class="b91" text-anchor="middle">Stage 2: 238</text>
<path d="M307.0,629.2 Q310.9,610.0 307.0,590.8" stroke="#15965f" stroke-width="1.77" fill="none" stroke-opacity="0.61"/>
<path d="M307.5,593.2 L311.9,599.9 L306.0,601.1 Z" fill="#15965f" fill-opacity="0.66"/>
<path d="M321.1,643.3 Q337.9,609.3 340.3,571.6" stroke="#8fca8f" stroke-width="1.95" fill="none" stroke-opacity="0.72"/>
<path d="M340.1,574.0 L342.8,581.7 L336.5,581.3 Z" fill="#8fca8f" fill-opacity="0.77"/>
<path d="M307.0,629.2 Q344.8,626.8 378.7,610.0" stroke="#15965f" stroke-width="1.13" fill="none" stroke-opacity="0.57"/>
<path d="M376.5,611.1 L370.9,616.6 L368.7,612.1 Z" fill="#15965f" fill-opacity="0.62"/>
<path d="M321.1,643.3 Q319.3,615.6 307.0,590.8" stroke="#8fca8f" stroke-width="1.98" fill="none" stroke-opacity="0.85"/>
<path d="M308.1,593.0 L314.3,598.3 L308.6,601.1 Z" fill="#8fca8f" fill-opacity="0.90"/>
<path d="M359.5,643.3 Q338.5,611.8 307.0,590.8" stroke="#f0aacb" stroke-width="0.83" fill="none" stroke-opacity="0.79"/>
<path d="M309.0,592.1 L316.5,594.4 L314.0,598.2 Z" fill="#f0aacb" fill-opacity="0.84"/>
<path d="M373.6,590.8 Q374.2,600.9 378.7,610.0" stroke="#f3ad72" stroke-width="1.32" fill="none" stroke-opacity="0.60"/>
<path d="M377.6,607.8 L371.9,602.3 L376.7,599.9 Z" fill="#f3ad72" fill-opacity="0.65"/>
<path d="M321.1,576.7 Q345.9,589.0 373.6,590.8" stroke="#d93a3f" stroke-width="1.14" fill="none" stroke-opacity="0.78"/>
<path d="M371.2,590.6 L363.5,592.7 L363.8,587.7 Z" fill="#d93a3f" fill-opacity="0.83"/>
<path d="M359.5,576.7 Q350.4,572.3 340.3,571.6" stroke="#2b7bba" stroke-width="2.01" fill="none" stroke-opacity="0.56"/>
<path d="M342.7,571.8 L350.4,569.0 L350.0,575.4 Z" fill="#2b7bba" fill-opacity="0.61"/>
<path d="M359.5,643.3 Q366.2,610.0 359.5,576.7" stroke="#f0aacb" stroke-width="1.62" fill="none" stroke-opacity="0.56"/>
<path d="M360.0,579.1 L364.3,585.9 L358.6,587.0 Z" fill="#f0aacb" fill-opacity="0.61"/>
<path d="M321.1,576.7 Q314.4,610.0 321.1,643.3" stroke="#d93a3f" stroke-width="1.78" fill="none" stroke-opacity="0.65"/>
<path d="M320.6,640.9 L316.2,634.1 L322.1,633.0 Z" fill="#d93a3f" fill-opacity="0.70"/>
<path d="M378.7,610.0 Q341.0,612.4 307.0,629.2" stroke="#6a58a6" stroke-width="2.02" fill="none" stroke-opacity="0.84"/>
<path d="M309.2,628.1 L314.5,621.9 L317.3,627.7 Z" fill="#6a58a6" fill-opacity="0.89"/>
<path d="M340.3,571.6 Q349.4,576.1 359.5,576.7" stroke="#f0873a" stroke-width="1.46" fill="none" stroke-opacity="0.85"/>
<path d="M357.1,576.6 L349.4,578.9 L349.8,573.3 Z" fill="#f0873a" fill-opacity="0.90"/>
<path d="M321.1,643.3 Q352.6,622.3 373.6,590.8" stroke="#8fca8f" stroke-width="1.16" fill="none" stroke-opacity="0.57"/>
<path d="M372.2,592.8 L370.2,600.4 L366.0,597.6 Z" fill="#8fca8f" fill-opacity="0.62"/>
<path d="M378.7,610.0 Q378.0,599.9 373.6,590.8" stroke="#6a58a6" stroke-width="1.60" fill="none" stroke-opacity="0.56"/>
<path d="M374.6,593.0 L380.5,598.4 L375.4,601.0 Z" fill="#6a58a6" fill-opacity="0.61"/>
<path d="M340.3,571.6 Q355.0,584.5 373.6,590.8" stroke="#f0873a" stroke-width="1.00" fill="none" stroke-opacity="0.67"/>
<path d="M371.3,590.0 L363.4,589.9 L364.9,585.4 Z" fill="#f0873a" fill-opacity="0.72"/>
<path d="M359.5,576.7 Q333.6,606.2 321.1,643.3" stroke="#2b7bba" stroke-width="1.62" fill="none" stroke-opacity="0.60"/>
<path d="M321.9,641.0 L321.5,633.0 L327.0,634.8 Z" fill="#2b7bba" fill-opacity="0.65"/>
<path d="M373.6,590.8 Q348.7,578.5 321.1,576.7" stroke="#f3ad72" stroke-width="0.76" fill="none" stroke-opacity="0.81"/>
<path d="M323.5,576.9 L331.1,575.2 L330.8,579.6 Z" fill="#f3ad72" fill-opacity="0.86"/>
<path d="M373.6,590.8 Q342.1,611.8 321.1,643.3" stroke="#f3ad72" stroke-width="1.17" fill="none" stroke-opacity="0.84"/>
<path d="M322.4,641.3 L324.5,633.6 L328.7,636.4 Z" fill="#f3ad72" fill-opacity="0.89"/>
<path d="M340.3,571.6 Q342.7,609.3 359.5,643.3" stroke="#f0873a" stroke-width="2.04" fill="none" stroke-opacity="0.66"/>
<path d="M358.4,641.1 L352.2,635.8 L358.0,632.9 Z" fill="#f0873a" fill-opacity="0.71"/>
<path d="M321.1,643.3 Q327.8,610.0 321.1,576.7" stroke="#8fca8f" stroke-width="1.39" fill="none" stroke-opacity="0.71"/>
<path d="M321.6,579.1 L325.7,585.9 L320.4,587.0 Z" fill="#8fca8f" fill-opacity="0.76"/>
<path d="M340.3,571.6 Q317.9,597.1 307.0,629.2" stroke="#f0873a" stroke-width="1.67" fill="none" stroke-opacity="0.73"/>
<path d="M307.8,626.9 L307.4,618.9 L313.0,620.8 Z" fill="#f0873a" fill-opacity="0.78"/>
<path d="M307.0,590.8 Q308.8,618.4 321.1,643.3" stroke="#cf78b7" stroke-width="1.54" fill="none" stroke-opacity="0.74"/>
<path d="M320.0,641.1 L314.2,635.6 L319.2,633.1 Z" fill="#cf78b7" fill-opacity="0.79"/>
<path d="M340.3,571.6 Q323.5,605.5 321.1,643.3" stroke="#f0873a" stroke-width="2.11" fill="none" stroke-opacity="0.70"/>
<path d="M321.3,640.9 L318.5,633.2 L325.0,633.6 Z" fill="#f0873a" fill-opacity="0.75"/>
<path d="M359.5,576.7 Q365.1,585.2 373.6,590.8" stroke="#2b7bba" stroke-width="1.35" fill="none" stroke-opacity="0.77"/>
<path d="M371.6,589.5 L363.8,587.5 L366.8,583.1 Z" fill="#2b7bba" fill-opacity="0.82"/>
<path d="M321.1,576.7 Q333.6,613.8 359.5,643.3" stroke="#d93a3f" stroke-width="1.06" fill="none" stroke-opacity="0.64"/>
<path d="M357.9,641.5 L351.1,637.4 L354.8,634.2 Z" fill="#d93a3f" fill-opacity="0.69"/>
<path d="M307.0,590.8 Q340.3,597.5 373.6,590.8" stroke="#cf78b7" stroke-width="2.17" fill="none" stroke-opacity="0.71"/>
<path d="M371.2,591.3 L364.5,596.0 L363.2,589.5 Z" fill="#cf78b7" fill-opacity="0.76"/>
<path d="M307.0,629.2 Q338.5,608.2 359.5,576.7" stroke="#15965f" stroke-width="1.52" fill="none" stroke-opacity="0.55"/>
<path d="M358.2,578.7 L356.4,586.5 L351.7,583.4 Z" fill="#15965f" fill-opacity="0.60"/>
<path d="M378.7,610.0 Q365.8,624.7 359.5,643.3" stroke="#6a58a6" stroke-width="1.32" fill="none" stroke-opacity="0.72"/>
<path d="M360.3,641.0 L360.2,633.0 L365.2,634.7 Z" fill="#6a58a6" fill-opacity="0.77"/>
<path d="M321.1,576.7 Q346.6,599.1 378.7,610.0" stroke="#d93a3f" stroke-width="0.73" fill="none" stroke-opacity="0.73"/>
<path d="M376.4,609.2 L368.6,608.9 L370.0,604.8 Z" fill="#d93a3f" fill-opacity="0.78"/>
<path d="M307.0,590.8 Q341.0,607.6 378.7,610.0" stroke="#cf78b7" stroke-width="1.65" fill="none" stroke-opacity="0.57"/>
<path d="M376.3,609.8 L368.6,612.3 L369.0,606.5 Z" fill="#cf78b7" fill-opacity="0.62"/>
<path d="M378.7,610.0 Q353.2,587.6 321.1,576.7" stroke="#6a58a6" stroke-width="1.64" fill="none" stroke-opacity="0.69"/>
<path d="M323.4,577.5 L331.4,577.2 L329.5,582.7 Z" fill="#6a58a6" fill-opacity="0.74"/>
<path d="M373.6,590.8 Q358.8,577.9 340.3,571.6" stroke="#f3ad72" stroke-width="1.72" fill="none" stroke-opacity="0.66"/>
<path d="M342.6,572.4 L350.6,572.0 L348.7,577.6 Z" fill="#f3ad72" fill-opacity="0.71"/>
<path d="M359.5,576.7 Q328.0,597.7 307.0,629.2" stroke="#2b7bba" stroke-width="1.76" fill="none" stroke-opacity="0.77"/>
<path d="M308.4,627.2 L310.0,619.3 L315.0,622.6 Z" fill="#2b7bba" fill-opacity="0.82"/>
<path d="M359.5,643.3 Q347.0,606.2 321.1,576.7" stroke="#f0aacb" stroke-width="0.73" fill="none" stroke-opacity="0.57"/>
<path d="M322.7,578.5 L329.3,582.7 L326.0,585.6 Z" fill="#f0aacb" fill-opacity="0.62"/>
<path d="M359.5,576.7 Q365.8,595.3 378.7,610.0" stroke="#2b7bba" stroke-width="1.71" fill="none" stroke-opacity="0.84"/>
<path d="M377.1,608.2 L369.9,604.5 L374.4,600.6 Z" fill="#2b7bba" fill-opacity="0.89"/>
<path d="M307.0,629.2 Q331.9,641.5 359.5,643.3" stroke="#15965f" stroke-width="1.08" fill="none" stroke-opacity="0.69"/>
<path d="M357.1,643.1 L349.5,645.1 L349.8,640.2 Z" fill="#15965f" fill-opacity="0.74"/>
<path d="M321.1,643.3 Q340.3,647.1 359.5,643.3" stroke="#8fca8f" stroke-width="1.59" fill="none" stroke-opacity="0.65"/>
<path d="M357.1,643.7 L350.4,648.0 L349.2,642.4 Z" fill="#8fca8f" fill-opacity="0.70"/>
<path d="M340.3,571.6 Q321.8,577.9 307.0,590.8" stroke="#f0873a" stroke-width="1.25" fill="none" stroke-opacity="0.64"/>
<path d="M308.8,589.2 L312.8,582.3 L316.2,586.2 Z" fill="#f0873a" fill-opacity="0.69"/>
<path d="M373.6,590.8 Q340.3,584.1 307.0,590.8" stroke="#f3ad72" stroke-width="1.25" fill="none" stroke-opacity="0.73"/>
<path d="M309.4,590.3 L316.2,586.3 L317.3,591.4 Z" fill="#f3ad72" fill-opacity="0.78"/>
<path d="M340.3,571.6 Q355.7,594.6 378.7,610.0" stroke="#f0873a" stroke-width="1.15" fill="none" stroke-opacity="0.66"/>
<path d="M376.7,608.7 L369.1,606.6 L371.9,602.4 Z" fill="#f0873a" fill-opacity="0.71"/>
<path d="M321.1,576.7 Q340.3,580.6 359.5,576.7" stroke="#d93a3f" stroke-width="1.86" fill="none" stroke-opacity="0.56"/>
<path d="M357.1,577.2 L350.4,581.7 L349.2,575.7 Z" fill="#d93a3f" fill-opacity="0.61"/>
<path d="M378.7,610.0 Q346.6,620.9 321.1,643.3" stroke="#6a58a6" stroke-width="1.55" fill="none" stroke-opacity="0.77"/>
<path d="M322.9,641.7 L326.7,634.6 L330.4,638.9 Z" fill="#6a58a6" fill-opacity="0.82"/>
<path d="M307.0,590.8 Q334.7,589.0 359.5,576.7" stroke="#cf78b7" stroke-width="1.17" fill="none" stroke-opacity="0.62"/>
<path d="M357.3,577.8 L351.7,583.4 L349.5,578.9 Z" fill="#cf78b7" fill-opacity="0.67"/>
<path d="M321.1,576.7 Q308.8,601.6 307.0,629.2" stroke="#d93a3f" stroke-width="1.91" fill="none" stroke-opacity="0.62"/>
<path d="M307.2,626.8 L304.6,619.1 L310.8,619.5 Z" fill="#d93a3f" fill-opacity="0.67"/>
<path d="M307.0,629.2 Q329.4,603.7 340.3,571.6" stroke="#15965f" stroke-width="0.98" fill="none" stroke-opacity="0.68"/>
<path d="M339.5,573.9 L339.4,581.7 L334.9,580.2 Z" fill="#15965f" fill-opacity="0.73"/>
<path d="M321.1,576.7 Q312.7,582.4 307.0,590.8" stroke="#d93a3f" stroke-width="1.75" fill="none" stroke-opacity="0.58"/>
<path d="M308.4,588.8 L310.0,580.9 L315.0,584.2 Z" fill="#d93a3f" fill-opacity="0.63"/>
<path d="M359.5,576.7 Q340.3,572.9 321.1,576.7" stroke="#2b7bba" stroke-width="1.18" fill="none" stroke-opacity="0.65"/>
<path d="M323.5,576.3 L330.3,572.3 L331.3,577.3 Z" fill="#2b7bba" fill-opacity="0.70"/>
<path d="M359.5,643.3 Q371.8,618.4 373.6,590.8" stroke="#f0aacb" stroke-width="1.95" fill="none" stroke-opacity="0.68"/>
<path d="M373.4,593.2 L376.1,600.9 L369.8,600.5 Z" fill="#f0aacb" fill-opacity="0.73"/>
<path d="M321.1,643.3 Q347.0,613.8 359.5,576.7" stroke="#8fca8f" stroke-width="1.98" fill="none" stroke-opacity="0.60"/>
<path d="M358.7,579.0 L359.3,587.1 L353.3,585.1 Z" fill="#8fca8f" fill-opacity="0.65"/>
<path d="M321.1,643.3 Q353.2,632.4 378.7,610.0" stroke="#8fca8f" stroke-width="1.21" fill="none" stroke-opacity="0.75"/>
<path d="M376.9,611.6 L373.0,618.5 L369.6,614.6 Z" fill="#8fca8f" fill-opacity="0.80"/>
<path d="M359.5,643.3 Q334.7,631.0 307.0,629.2" stroke="#f0aacb" stroke-width="2.03" fill="none" stroke-opacity="0.69"/>
<path d="M309.4,629.4 L317.1,626.6 L316.7,633.1 Z" fill="#f0aacb" fill-opacity="0.74"/>
<path d="M307.0,590.8 Q325.6,584.5 340.3,571.6" stroke="#cf78b7" stroke-width="1.04" fill="none" stroke-opacity="0.59"/>
<path d="M338.5,573.2 L334.5,580.0 L331.3,576.3 Z" fill="#cf78b7" fill-opacity="0.64"/>
<path d="M307.0,629.2 Q319.3,604.4 321.1,576.7" stroke="#15965f" stroke-width="1.49" fill="none" stroke-opacity="0.61"/>
<path d="M320.9,579.1 L323.3,586.8 L317.7,586.4 Z" fill="#15965f" fill-opacity="0.66"/>
<path d="M359.5,576.7 Q331.9,578.5 307.0,590.8" stroke="#2b7bba" stroke-width="1.91" fill="none" stroke-opacity="0.80"/>
<path d="M309.2,589.7 L314.5,583.6 L317.3,589.2 Z" fill="#2b7bba" fill-opacity="0.85"/>
<path d="M359.5,643.3 Q357.1,605.5 340.3,571.6" stroke="#f0aacb" stroke-width="0.98" fill="none" stroke-opacity="0.63"/>
<path d="M341.4,573.8 L346.8,579.4 L342.6,581.5 Z" fill="#f0aacb" fill-opacity="0.68"/>
<path d="M359.5,643.3 Q340.3,639.4 321.1,643.3" stroke="#f0aacb" stroke-width="1.91" fill="none" stroke-opacity="0.74"/>
<path d="M323.5,642.8 L330.2,638.2 L331.4,644.4 Z" fill="#f0aacb" fill-opacity="0.79"/>
<path d="M321.1,643.3 Q315.5,634.8 307.0,629.2" stroke="#8fca8f" stroke-width="1.91" fill="none" stroke-opacity="0.65"/>
<path d="M309.0,630.5 L317.0,632.1 L313.5,637.3 Z" fill="#8fca8f" fill-opacity="0.70"/>
<path d="M378.7,610.0 Q363.3,587.0 340.3,571.6" stroke="#6a58a6" stroke-width="0.89" fill="none" stroke-opacity="0.64"/>
<path d="M342.3,572.9 L349.8,575.2 L347.3,579.0 Z" fill="#6a58a6" fill-opacity="0.69"/>
<path d="M373.6,590.8 Q361.3,615.6 359.5,643.3" stroke="#f3ad72" stroke-width="1.89" fill="none" stroke-opacity="0.63"/>
<path d="M359.7,640.9 L357.0,633.2 L363.2,633.6 Z" fill="#f3ad72" fill-opacity="0.68"/>
<path d="M307.0,629.2 Q312.7,637.6 321.1,643.3" stroke="#15965f" stroke-width="1.22" fill="none" stroke-opacity="0.68"/>
<path d="M319.1,641.9 L311.4,639.9 L314.3,635.6 Z" fill="#15965f" fill-opacity="0.73"/>
<path d="M307.0,590.8 Q303.2,610.0 307.0,629.2" stroke="#cf78b7" stroke-width="1.33" fill="none" stroke-opacity="0.67"/>
<path d="M306.6,626.8 L302.5,620.0 L307.7,619.0 Z" fill="#cf78b7" fill-opacity="0.72"/>
<path d="M307.0,590.8 Q328.0,622.3 359.5,643.3" stroke="#cf78b7" stroke-width="2.08" fill="none" stroke-opacity="0.60"/>
<path d="M357.5,641.9 L349.5,640.5 L353.1,635.0 Z" fill="#cf78b7" fill-opacity="0.65"/>
<path d="M378.7,610.0 Q372.4,591.5 359.5,576.7" stroke="#6a58a6" stroke-width="0.71" fill="none" stroke-opacity="0.83"/>
<path d="M361.1,578.5 L367.7,582.8 L364.4,585.6 Z" fill="#6a58a6" fill-opacity="0.88"/>
<path d="M378.7,610.0 Q344.8,593.2 307.0,590.8" stroke="#6a58a6" stroke-width="2.02" fill="none" stroke-opacity="0.85"/>
<path d="M309.4,591.0 L317.1,588.2 L316.7,594.6 Z" fill="#6a58a6" fill-opacity="0.90"/>
<path d="M373.6,590.8 Q367.9,582.4 359.5,576.7" stroke="#f3ad72" stroke-width="1.35" fill="none" stroke-opacity="0.84"/>
<path d="M361.5,578.1 L369.2,580.0 L366.3,584.5 Z" fill="#f3ad72" fill-opacity="0.89"/>
<path d="M321.1,576.7 Q331.2,576.1 340.3,571.6" stroke="#d93a3f" stroke-width="2.09" fill="none" stroke-opacity="0.62"/>
<path d="M338.1,572.7 L332.9,578.9 L330.0,573.1 Z" fill="#d93a3f" fill-opacity="0.67"/>
<path d="M307.0,590.8 Q315.5,585.2 321.1,576.7" stroke="#cf78b7" stroke-width="1.82" fill="none" stroke-opacity="0.80"/>
<path d="M319.8,578.7 L318.2,586.7 L313.1,583.3 Z" fill="#cf78b7" fill-opacity="0.85"/>
<path d="M359.5,643.3 Q372.4,628.5 378.7,610.0" stroke="#f0aacb" stroke-width="1.69" fill="none" stroke-opacity="0.71"/>
<path d="M377.9,612.3 L378.3,620.3 L372.7,618.4 Z" fill="#f0aacb" fill-opacity="0.76"/>
<path d="M307.0,629.2 Q344.1,616.7 373.6,590.8" stroke="#15965f" stroke-width="1.13" fill="none" stroke-opacity="0.65"/>
<path d="M371.8,592.4 L367.8,599.2 L364.5,595.5 Z" fill="#15965f" fill-opacity="0.70"/>
<path d="M340.3,571.6 Q330.2,572.3 321.1,576.7" stroke="#f0873a" stroke-width="1.04" fill="none" stroke-opacity="0.57"/>
<path d="M323.3,575.7 L328.9,570.2 L331.1,574.5 Z" fill="#f0873a" fill-opacity="0.62"/>
<path d="M373.6,590.8 Q336.5,603.3 307.0,629.2" stroke="#f3ad72" stroke-width="1.58" fill="none" stroke-opacity="0.64"/>
<path d="M308.8,627.6 L312.6,620.5 L316.4,624.8 Z" fill="#f3ad72" fill-opacity="0.69"/>
<path d="M359.5,576.7 Q352.8,610.0 359.5,643.3" stroke="#2b7bba" stroke-width="1.92" fill="none" stroke-opacity="0.56"/>
<path d="M359.0,640.9 L354.5,634.2 L360.6,632.9 Z" fill="#2b7bba" fill-opacity="0.61"/>
<path d="M373.6,629.2 Q378.0,620.1 378.7,610.0" stroke="#c19a97" stroke-width="0.50" fill="none" stroke-opacity="0.55"/>
<path d="M378.5,612.4 L380.1,620.0 L376.1,619.8 Z" fill="#c19a97" fill-opacity="0.60"/>
<path d="M301.9,610.0 Q308.2,628.5 321.1,643.3" stroke="#e88a85" stroke-width="0.50" fill="none" stroke-opacity="0.55"/>
<path d="M319.5,641.5 L313.1,637.1 L316.1,634.5 Z" fill="#e88a85" fill-opacity="0.60"/>
<path d="M301.9,610.0 Q339.6,607.6 373.6,590.8" stroke="#e88a85" stroke-width="0.50" fill="none" stroke-opacity="0.55"/>
<path d="M371.4,591.9 L365.6,597.0 L363.8,593.4 Z" fill="#e88a85" fill-opacity="0.60"/>
<path d="M340.3,648.4 Q325.6,635.5 307.0,629.2" stroke="#a8b866" stroke-width="0.50" fill="none" stroke-opacity="0.55"/>
<path d="M309.3,630.0 L317.1,630.5 L315.8,634.3 Z" fill="#a8b866" fill-opacity="0.60"/>
<path d="M301.9,610.0 Q334.0,599.1 359.5,576.7" stroke="#e88a85" stroke-width="0.50" fill="none" stroke-opacity="0.55"/>
<path d="M357.7,578.3 L353.4,584.8 L350.7,581.8 Z" fill="#e88a85" fill-opacity="0.60"/>
<path d="M373.6,629.2 Q365.1,634.8 359.5,643.3" stroke="#c19a97" stroke-width="0.50" fill="none" stroke-opacity="0.55"/>
<path d="M360.8,641.3 L363.3,633.9 L366.7,636.1 Z" fill="#c19a97" fill-opacity="0.60"/>
<path d="M373.6,629.2 Q362.7,597.1 340.3,571.6" stroke="#c19a97" stroke-width="0.50" fill="none" stroke-opacity="0.55"/>
<path d="M341.9,573.4 L348.3,577.7 L345.3,580.4 Z" fill="#c19a97" fill-opacity="0.60"/>
<path d="M301.9,610.0 Q324.9,594.6 340.3,571.6" stroke="#e88a85" stroke-width="0.50" fill="none" stroke-opacity="0.55"/>
<path d="M339.0,573.6 L336.5,580.9 L333.1,578.7 Z" fill="#e88a85" fill-opacity="0.60"/>
<path d="M307.0,629.2 Q331.9,641.5 359.5,643.3" stroke="#15965f" stroke-width="2.60" fill="none" stroke-opacity="0.85"/>
<path d="M357.1,643.1 L349.4,646.3 L349.9,638.9 Z" fill="#15965f" fill-opacity="0.90"/>
<path d="M307.0,629.2 Q338.5,608.2 359.5,576.7" stroke="#15965f" stroke-width="2.60" fill="none" stroke-opacity="0.85"/>
<path d="M358.2,578.7 L357.1,587.0 L350.9,582.9 Z" fill="#15965f" fill-opacity="0.90"/>
<path d="M359.5,576.7 Q352.8,610.0 359.5,643.3" stroke="#2b7bba" stroke-width="2.00" fill="none" stroke-opacity="0.85"/>
<path d="M359.0,640.9 L354.4,634.2 L360.7,632.9 Z" fill="#2b7bba" fill-opacity="0.90"/>
<path d="M307.0,629.2 Q344.8,626.8 378.7,610.0" stroke="#15965f" stroke-width="2.20" fill="none" stroke-opacity="0.85"/>
<path d="M376.5,611.1 L371.3,617.4 L368.3,611.4 Z" fill="#15965f" fill-opacity="0.90"/>
<path d="M340.3,571.6 C347.3,556.2 333.3,556.2 340.3,571.6" stroke="#f0873a" stroke-width="1.70" fill="none" stroke-opacity="0.80"/>
<path d="M341.8,569.1 L341.3,562.6 L347.3,562.6 Z" fill="#f0873a" fill-opacity="0.75"/>
<path d="M359.5,576.7 C373.3,566.9 361.1,559.9 359.5,576.7" stroke="#2b7bba" stroke-width="1.70" fill="none" stroke-opacity="0.80"/>
<path d="M362.0,575.3 L364.9,569.5 L370.1,572.5 Z" fill="#2b7bba" fill-opacity="0.75"/>
<path d="M307.0,590.8 C297.2,577.0 290.2,589.2 307.0,590.8" stroke="#cf78b7" stroke-width="1.70" fill="none" stroke-opacity="0.80"/>
<path d="M305.6,588.3 L299.8,585.4 L302.8,580.2 Z" fill="#cf78b7" fill-opacity="0.75"/>
<path d="M378.7,610.0 C394.1,617.0 394.1,603.0 378.7,610.0" stroke="#6a58a6" stroke-width="1.70" fill="none" stroke-opacity="0.80"/>
<path d="M381.2,611.5 L387.7,611.0 L387.7,617.0 Z" fill="#6a58a6" fill-opacity="0.75"/>
<path d="M307.0,629.2 C290.2,630.8 297.2,643.0 307.0,629.2" stroke="#15965f" stroke-width="1.70" fill="none" stroke-opacity="0.80"/>
<path d="M304.1,629.2 L298.8,632.8 L295.8,627.6 Z" fill="#15965f" fill-opacity="0.75"/>
<path d="M321.1,643.3 C307.3,653.1 319.5,660.1 321.1,643.3" stroke="#8fca8f" stroke-width="1.70" fill="none" stroke-opacity="0.80"/>
<path d="M318.6,644.7 L315.7,650.5 L310.5,647.5 Z" fill="#8fca8f" fill-opacity="0.75"/>
<path d="M359.5,643.3 C361.1,660.1 373.3,653.1 359.5,643.3" stroke="#f0aacb" stroke-width="1.70" fill="none" stroke-opacity="0.80"/>
<path d="M359.5,646.2 L363.1,651.5 L357.9,654.5 Z" fill="#f0aacb" fill-opacity="0.75"/>
<circle cx="378.7" cy="610.0" r="2.3" fill="#6a58a6"/>
<text x="386.1" y="620.5" class="nl" text-anchor="start" style="fill:#6a58a6">Ap</text>
<circle cx="373.6" cy="590.8" r="2.3" fill="#f3ad72"/>
<text x="379.1" y="591.7" class="nl" text-anchor="start" style="fill:#f3ad72">Ad</text>
<circle cx="359.5" cy="576.7" r="2.3" fill="#2b7bba"/>
<text x="371.1" y="569.2" class="nl" text-anchor="start" style="fill:#2b7bba">Wm</text>
<circle cx="340.3" cy="571.6" r="2.3" fill="#f0873a"/>
<text x="327.3" y="565.9" class="nl" text-anchor="middle" style="fill:#f0873a">Ci</text>
<circle cx="321.1" cy="576.7" r="2.3" fill="#d93a3f"/>
<text x="306.8" y="577.6" class="nl" text-anchor="end" style="fill:#d93a3f">C 1</text>
<circle cx="307.0" cy="590.8" r="2.3" fill="#cf78b7"/>
<text x="296.4" y="597.8" class="nl" text-anchor="end" style="fill:#cf78b7">C 2</text>
<circle cx="301.9" cy="610.0" r="2.3" fill="#e88a85"/>
<text x="296.8" y="616.1" class="nl" text-anchor="end" style="fill:#e88a85">C 3</text>
<circle cx="307.0" cy="629.2" r="2.3" fill="#15965f"/>
<text x="296.4" y="646.6" class="nl" text-anchor="end" style="fill:#15965f">Ep 1</text>
<circle cx="321.1" cy="643.3" r="2.3" fill="#8fca8f"/>
<text x="316.0" y="661.1" class="nl" text-anchor="end" style="fill:#8fca8f">Ep 2</text>
<circle cx="340.3" cy="648.4" r="2.3" fill="#a8b866"/>
<text x="343.6" y="661.1" class="nl" text-anchor="middle" style="fill:#a8b866">Ep 3</text>
<circle cx="359.5" cy="643.3" r="2.3" fill="#f0aacb"/>
<text x="373.2" y="652.9" class="nl" text-anchor="start" style="fill:#f0aacb">Im</text>
<circle cx="373.6" cy="629.2" r="2.3" fill="#c19a97"/>
<text x="381.8" y="636.4" class="nl" text-anchor="start" style="fill:#c19a97">Mp</text>
<text x="340.5" y="554.3" class="b91" text-anchor="middle">Stage 3: 291</text>
<path d="M522.1,610.0 Q520.5,600.1 517.0,590.8" stroke="#6a58a6" stroke-width="1.01" fill="none" stroke-opacity="0.63"/>
<path d="M517.8,593.0 L523.0,599.5 L518.2,601.3 Z" fill="#6a58a6" fill-opacity="0.68"/>
<path d="M522.1,610.0 Q514.2,592.4 502.9,576.7" stroke="#6a58a6" stroke-width="1.16" fill="none" stroke-opacity="0.64"/>
<path d="M504.3,578.7 L511.1,583.5 L506.7,586.6 Z" fill="#6a58a6" fill-opacity="0.69"/>
<path d="M522.1,610.0 Q504.8,588.9 483.7,571.6" stroke="#6a58a6" stroke-width="0.86" fill="none" stroke-opacity="0.70"/>
<path d="M485.6,573.1 L493.2,576.2 L490.1,580.0 Z" fill="#6a58a6" fill-opacity="0.75"/>
<path d="M522.1,610.0 Q495.0,590.5 464.5,576.7" stroke="#6a58a6" stroke-width="1.63" fill="none" stroke-opacity="0.80"/>
<path d="M466.7,577.7 L475.1,578.2 L472.6,583.7 Z" fill="#6a58a6" fill-opacity="0.85"/>
<path d="M522.1,610.0 Q487.2,596.8 450.4,590.8" stroke="#6a58a6" stroke-width="1.49" fill="none" stroke-opacity="0.66"/>
<path d="M452.8,591.2 L461.1,589.6 L460.1,595.4 Z" fill="#6a58a6" fill-opacity="0.71"/>
<path d="M522.1,610.0 Q483.7,606.2 445.3,610.0" stroke="#6a58a6" stroke-width="1.28" fill="none" stroke-opacity="0.67"/>
<path d="M447.7,609.8 L455.2,606.2 L455.8,611.7 Z" fill="#6a58a6" fill-opacity="0.72"/>
<path d="M522.1,610.0 Q485.3,616.0 450.4,629.2" stroke="#6a58a6" stroke-width="0.96" fill="none" stroke-opacity="0.63"/>
<path d="M452.7,628.4 L459.2,623.2 L460.9,627.9 Z" fill="#6a58a6" fill-opacity="0.68"/>
<path d="M522.1,610.0 Q491.6,623.7 464.5,643.3" stroke="#6a58a6" stroke-width="0.99" fill="none" stroke-opacity="0.83"/>
<path d="M466.4,641.9 L471.4,635.2 L474.3,639.3 Z" fill="#6a58a6" fill-opacity="0.88"/>
<path d="M522.1,610.0 Q501.0,627.3 483.7,648.4" stroke="#6a58a6" stroke-width="1.55" fill="none" stroke-opacity="0.80"/>
<path d="M485.2,646.5 L487.9,638.6 L492.5,642.3 Z" fill="#6a58a6" fill-opacity="0.85"/>
<path d="M522.1,610.0 Q510.8,625.7 502.9,643.3" stroke="#6a58a6" stroke-width="1.52" fill="none" stroke-opacity="0.65"/>
<path d="M503.9,641.1 L504.4,632.7 L509.8,635.1 Z" fill="#6a58a6" fill-opacity="0.70"/>
<path d="M522.1,610.0 Q518.6,619.3 517.0,629.2" stroke="#6a58a6" stroke-width="1.08" fill="none" stroke-opacity="0.76"/>
<path d="M517.3,626.8 L516.1,618.6 L521.2,619.5 Z" fill="#6a58a6" fill-opacity="0.81"/>
<path d="M517.0,590.8 Q518.6,600.7 522.1,610.0" stroke="#f3ad72" stroke-width="1.46" fill="none" stroke-opacity="0.81"/>
<path d="M521.3,607.8 L515.7,601.4 L521.2,599.4 Z" fill="#f3ad72" fill-opacity="0.86"/>
<path d="M517.0,590.8 Q510.6,583.1 502.9,576.7" stroke="#f3ad72" stroke-width="1.59" fill="none" stroke-opacity="0.62"/>
<path d="M504.8,578.3 L512.8,580.9 L508.9,585.6 Z" fill="#f3ad72" fill-opacity="0.67"/>
<path d="M517.0,590.8 Q501.3,579.5 483.7,571.6" stroke="#f3ad72" stroke-width="1.35" fill="none" stroke-opacity="0.77"/>
<path d="M485.9,572.6 L494.2,573.3 L491.9,578.4 Z" fill="#f3ad72" fill-opacity="0.82"/>
<path d="M517.0,590.8 Q491.4,581.1 464.5,576.7" stroke="#f3ad72" stroke-width="1.26" fill="none" stroke-opacity="0.64"/>
<path d="M466.9,577.1 L475.1,575.7 L474.2,581.1 Z" fill="#f3ad72" fill-opacity="0.69"/>
<path d="M517.0,590.8 Q483.7,587.5 450.4,590.8" stroke="#f3ad72" stroke-width="1.23" fill="none" stroke-opacity="0.62"/>
<path d="M452.8,590.6 L460.4,587.1 L460.9,592.5 Z" fill="#f3ad72" fill-opacity="0.67"/>
<path d="M517.0,590.8 Q480.2,596.8 445.3,610.0" stroke="#f3ad72" stroke-width="1.64" fill="none" stroke-opacity="0.82"/>
<path d="M447.5,609.2 L453.8,603.5 L456.0,609.2 Z" fill="#f3ad72" fill-opacity="0.87"/>
<path d="M517.0,590.8 Q481.8,606.7 450.4,629.2" stroke="#f3ad72" stroke-width="1.29" fill="none" stroke-opacity="0.68"/>
<path d="M452.4,627.8 L457.2,621.0 L460.4,625.4 Z" fill="#f3ad72" fill-opacity="0.73"/>
<path d="M517.0,590.8 Q488.1,614.4 464.5,643.3" stroke="#f3ad72" stroke-width="1.62" fill="none" stroke-opacity="0.74"/>
<path d="M466.0,641.4 L468.7,633.4 L473.4,637.2 Z" fill="#f3ad72" fill-opacity="0.79"/>
<path d="M517.0,590.8 Q497.4,617.9 483.7,648.4" stroke="#f3ad72" stroke-width="1.59" fill="none" stroke-opacity="0.81"/>
<path d="M484.7,646.2 L485.2,637.8 L490.7,640.3 Z" fill="#f3ad72" fill-opacity="0.86"/>
<path d="M517.0,590.8 Q507.3,616.3 502.9,643.3" stroke="#f3ad72" stroke-width="1.26" fill="none" stroke-opacity="0.70"/>
<path d="M503.3,640.9 L501.9,632.7 L507.3,633.6 Z" fill="#f3ad72" fill-opacity="0.75"/>
<path d="M517.0,590.8 Q515.0,610.0 517.0,629.2" stroke="#f3ad72" stroke-width="1.34" fill="none" stroke-opacity="0.71"/>
<path d="M516.7,626.8 L513.1,619.3 L518.7,618.7 Z" fill="#f3ad72" fill-opacity="0.76"/>
<path d="M502.9,576.7 Q510.8,594.3 522.1,610.0" stroke="#2b7bba" stroke-width="0.95" fill="none" stroke-opacity="0.68"/>
<path d="M520.7,608.1 L514.1,603.1 L518.1,600.2 Z" fill="#2b7bba" fill-opacity="0.73"/>
<path d="M502.9,576.7 Q509.2,584.5 517.0,590.8" stroke="#2b7bba" stroke-width="1.53" fill="none" stroke-opacity="0.61"/>
<path d="M515.1,589.3 L507.1,586.6 L510.9,582.0 Z" fill="#2b7bba" fill-opacity="0.66"/>
<path d="M502.9,576.7 Q493.6,573.2 483.7,571.6" stroke="#2b7bba" stroke-width="0.84" fill="none" stroke-opacity="0.76"/>
<path d="M486.1,572.0 L494.2,570.9 L493.5,575.6 Z" fill="#2b7bba" fill-opacity="0.81"/>
<path d="M502.9,576.7 Q483.7,574.8 464.5,576.7" stroke="#2b7bba" stroke-width="1.05" fill="none" stroke-opacity="0.73"/>
<path d="M466.9,576.5 L474.5,573.2 L475.0,578.3 Z" fill="#2b7bba" fill-opacity="0.78"/>
<path d="M502.9,576.7 Q476.0,581.1 450.4,590.8" stroke="#2b7bba" stroke-width="1.22" fill="none" stroke-opacity="0.69"/>
<path d="M452.7,590.0 L459.1,584.6 L461.0,589.7 Z" fill="#2b7bba" fill-opacity="0.74"/>
<path d="M502.9,576.7 Q472.4,590.5 445.3,610.0" stroke="#2b7bba" stroke-width="1.70" fill="none" stroke-opacity="0.65"/>
<path d="M447.2,608.6 L451.8,601.5 L455.5,606.5 Z" fill="#2b7bba" fill-opacity="0.70"/>
<path d="M502.9,576.7 Q474.0,600.3 450.4,629.2" stroke="#2b7bba" stroke-width="1.17" fill="none" stroke-opacity="0.65"/>
<path d="M452.0,627.3 L454.9,619.6 L459.0,622.9 Z" fill="#2b7bba" fill-opacity="0.70"/>
<path d="M502.9,576.7 Q480.4,608.1 464.5,643.3" stroke="#2b7bba" stroke-width="1.37" fill="none" stroke-opacity="0.67"/>
<path d="M465.5,641.1 L466.1,632.7 L471.3,635.1 Z" fill="#2b7bba" fill-opacity="0.72"/>
<path d="M502.9,576.7 Q489.7,611.6 483.7,648.4" stroke="#2b7bba" stroke-width="1.12" fill="none" stroke-opacity="0.79"/>
<path d="M484.1,646.0 L482.8,637.8 L487.9,638.7 Z" fill="#2b7bba" fill-opacity="0.84"/>
<path d="M502.9,576.7 Q499.6,610.0 502.9,643.3" stroke="#2b7bba" stroke-width="1.09" fill="none" stroke-opacity="0.74"/>
<path d="M502.7,640.9 L499.3,633.3 L504.5,632.8 Z" fill="#2b7bba" fill-opacity="0.79"/>
<path d="M502.9,576.7 Q507.3,603.7 517.0,629.2" stroke="#2b7bba" stroke-width="1.61" fill="none" stroke-opacity="0.63"/>
<path d="M516.1,627.0 L510.5,620.7 L516.2,618.5 Z" fill="#2b7bba" fill-opacity="0.68"/>
<path d="M483.7,571.6 Q501.0,592.7 522.1,610.0" stroke="#f0873a" stroke-width="0.86" fill="none" stroke-opacity="0.66"/>
<path d="M520.2,608.5 L512.6,605.3 L515.7,601.6 Z" fill="#f0873a" fill-opacity="0.71"/>
<path d="M483.7,571.6 Q499.4,582.9 517.0,590.8" stroke="#f0873a" stroke-width="1.49" fill="none" stroke-opacity="0.75"/>
<path d="M514.8,589.8 L506.4,589.2 L508.8,583.9 Z" fill="#f0873a" fill-opacity="0.80"/>
<path d="M483.7,571.6 Q493.0,575.1 502.9,576.7" stroke="#f0873a" stroke-width="1.01" fill="none" stroke-opacity="0.68"/>
<path d="M500.5,576.4 L492.4,577.6 L493.2,572.6 Z" fill="#f0873a" fill-opacity="0.73"/>
<path d="M483.7,571.6 Q473.8,573.2 464.5,576.7" stroke="#f0873a" stroke-width="0.96" fill="none" stroke-opacity="0.71"/>
<path d="M466.7,575.9 L473.2,570.8 L475.0,575.4 Z" fill="#f0873a" fill-opacity="0.76"/>
<path d="M483.7,571.6 Q466.1,579.5 450.4,590.8" stroke="#f0873a" stroke-width="0.84" fill="none" stroke-opacity="0.77"/>
<path d="M452.4,589.4 L457.4,582.9 L460.2,586.7 Z" fill="#f0873a" fill-opacity="0.82"/>
<path d="M483.7,571.6 Q462.6,588.9 445.3,610.0" stroke="#f0873a" stroke-width="1.61" fill="none" stroke-opacity="0.84"/>
<path d="M446.8,608.1 L449.5,600.1 L454.2,604.0 Z" fill="#f0873a" fill-opacity="0.89"/>
<path d="M483.7,571.6 Q464.2,598.7 450.4,629.2" stroke="#f0873a" stroke-width="1.46" fill="none" stroke-opacity="0.84"/>
<path d="M451.4,627.0 L452.0,618.6 L457.3,621.0 Z" fill="#f0873a" fill-opacity="0.89"/>
<path d="M483.7,571.6 Q470.5,606.5 464.5,643.3" stroke="#f0873a" stroke-width="0.82" fill="none" stroke-opacity="0.67"/>
<path d="M464.9,640.9 L463.8,632.7 L468.5,633.5 Z" fill="#f0873a" fill-opacity="0.72"/>
<path d="M483.7,571.6 Q479.9,610.0 483.7,648.4" stroke="#f0873a" stroke-width="1.67" fill="none" stroke-opacity="0.79"/>
<path d="M483.5,646.0 L479.6,638.5 L485.7,637.9 Z" fill="#f0873a" fill-opacity="0.84"/>
<path d="M483.7,571.6 Q489.7,608.4 502.9,643.3" stroke="#f0873a" stroke-width="1.17" fill="none" stroke-opacity="0.84"/>
<path d="M502.1,641.0 L496.8,634.6 L501.8,632.7 Z" fill="#f0873a" fill-opacity="0.89"/>
<path d="M483.7,571.6 Q497.4,602.1 517.0,629.2" stroke="#f0873a" stroke-width="1.36" fill="none" stroke-opacity="0.80"/>
<path d="M515.6,627.3 L508.7,622.5 L513.2,619.2 Z" fill="#f0873a" fill-opacity="0.85"/>
<path d="M464.5,576.7 Q491.6,596.3 522.1,610.0" stroke="#d93a3f" stroke-width="1.06" fill="none" stroke-opacity="0.65"/>
<path d="M519.9,609.0 L511.7,608.1 L513.8,603.4 Z" fill="#d93a3f" fill-opacity="0.70"/>
<path d="M464.5,576.7 Q490.0,586.4 517.0,590.8" stroke="#d93a3f" stroke-width="1.20" fill="none" stroke-opacity="0.63"/>
<path d="M514.6,590.4 L506.4,591.8 L507.2,586.5 Z" fill="#d93a3f" fill-opacity="0.68"/>
<path d="M464.5,576.7 Q483.7,578.7 502.9,576.7" stroke="#d93a3f" stroke-width="1.14" fill="none" stroke-opacity="0.84"/>
<path d="M500.5,577.0 L492.9,580.4 L492.4,575.1 Z" fill="#d93a3f" fill-opacity="0.89"/>
<path d="M464.5,576.7 Q474.4,575.1 483.7,571.6" stroke="#d93a3f" stroke-width="1.10" fill="none" stroke-opacity="0.60"/>
<path d="M481.5,572.4 L475.0,577.7 L473.2,572.8 Z" fill="#d93a3f" fill-opacity="0.65"/>
<path d="M464.5,576.7 Q456.8,583.1 450.4,590.8" stroke="#d93a3f" stroke-width="0.84" fill="none" stroke-opacity="0.64"/>
<path d="M452.0,588.9 L455.1,581.3 L458.8,584.4 Z" fill="#d93a3f" fill-opacity="0.69"/>
<path d="M464.5,576.7 Q453.2,592.4 445.3,610.0" stroke="#d93a3f" stroke-width="1.51" fill="none" stroke-opacity="0.69"/>
<path d="M446.3,607.8 L446.8,599.4 L452.2,601.8 Z" fill="#d93a3f" fill-opacity="0.74"/>
<path d="M464.5,576.7 Q454.8,602.3 450.4,629.2" stroke="#d93a3f" stroke-width="1.06" fill="none" stroke-opacity="0.62"/>
<path d="M450.8,626.8 L449.6,618.6 L454.6,619.5 Z" fill="#d93a3f" fill-opacity="0.67"/>
<path d="M464.5,576.7 Q461.2,610.0 464.5,643.3" stroke="#d93a3f" stroke-width="1.68" fill="none" stroke-opacity="0.71"/>
<path d="M464.3,640.9 L460.4,633.3 L466.6,632.7 Z" fill="#d93a3f" fill-opacity="0.76"/>
<path d="M464.5,576.7 Q470.5,613.5 483.7,648.4" stroke="#d93a3f" stroke-width="0.99" fill="none" stroke-opacity="0.61"/>
<path d="M482.9,646.2 L477.7,639.7 L482.4,637.9 Z" fill="#d93a3f" fill-opacity="0.66"/>
<path d="M464.5,576.7 Q480.4,611.9 502.9,643.3" stroke="#d93a3f" stroke-width="0.85" fill="none" stroke-opacity="0.64"/>
<path d="M501.5,641.3 L495.0,636.3 L498.8,633.5 Z" fill="#d93a3f" fill-opacity="0.69"/>
<path d="M464.5,576.7 Q488.1,605.6 517.0,629.2" stroke="#d93a3f" stroke-width="1.41" fill="none" stroke-opacity="0.64"/>
<path d="M515.1,627.7 L507.2,624.9 L510.8,620.5 Z" fill="#d93a3f" fill-opacity="0.69"/>
<path d="M450.4,590.8 Q485.3,604.0 522.1,610.0" stroke="#cf78b7" stroke-width="0.84" fill="none" stroke-opacity="0.72"/>
<path d="M519.7,609.6 L511.6,610.7 L512.3,606.0 Z" fill="#cf78b7" fill-opacity="0.77"/>
<path d="M450.4,590.8 Q483.7,594.1 517.0,590.8" stroke="#cf78b7" stroke-width="1.02" fill="none" stroke-opacity="0.85"/>
<path d="M514.6,591.0 L507.0,594.4 L506.5,589.3 Z" fill="#cf78b7" fill-opacity="0.90"/>
<path d="M450.4,590.8 Q477.4,586.4 502.9,576.7" stroke="#cf78b7" stroke-width="0.91" fill="none" stroke-opacity="0.73"/>
<path d="M500.7,577.6 L494.2,582.7 L492.4,578.1 Z" fill="#cf78b7" fill-opacity="0.78"/>
<path d="M450.4,590.8 Q468.0,582.9 483.7,571.6" stroke="#cf78b7" stroke-width="1.50" fill="none" stroke-opacity="0.70"/>
<path d="M481.8,573.0 L477.1,580.0 L473.6,575.2 Z" fill="#cf78b7" fill-opacity="0.75"/>
<path d="M450.4,590.8 Q458.2,584.5 464.5,576.7" stroke="#cf78b7" stroke-width="1.69" fill="none" stroke-opacity="0.72"/>
<path d="M463.0,578.6 L460.4,586.7 L455.6,582.7 Z" fill="#cf78b7" fill-opacity="0.77"/>
<path d="M450.4,590.8 Q446.9,600.1 445.3,610.0" stroke="#cf78b7" stroke-width="1.02" fill="none" stroke-opacity="0.70"/>
<path d="M445.7,607.6 L444.5,599.5 L449.5,600.3 Z" fill="#cf78b7" fill-opacity="0.75"/>
<path d="M450.4,590.8 Q448.5,610.0 450.4,629.2" stroke="#cf78b7" stroke-width="0.83" fill="none" stroke-opacity="0.71"/>
<path d="M450.2,626.8 L447.1,619.2 L451.8,618.7 Z" fill="#cf78b7" fill-opacity="0.76"/>
<path d="M450.4,590.8 Q454.8,617.7 464.5,643.3" stroke="#cf78b7" stroke-width="1.02" fill="none" stroke-opacity="0.82"/>
<path d="M463.7,641.0 L458.5,634.5 L463.2,632.7 Z" fill="#cf78b7" fill-opacity="0.87"/>
<path d="M450.4,590.8 Q464.2,621.3 483.7,648.4" stroke="#cf78b7" stroke-width="1.55" fill="none" stroke-opacity="0.72"/>
<path d="M482.3,646.5 L475.3,641.8 L480.1,638.3 Z" fill="#cf78b7" fill-opacity="0.77"/>
<path d="M450.4,590.8 Q474.0,619.7 502.9,643.3" stroke="#cf78b7" stroke-width="0.83" fill="none" stroke-opacity="0.66"/>
<path d="M501.0,641.7 L493.4,638.6 L496.5,634.9 Z" fill="#cf78b7" fill-opacity="0.71"/>
<path d="M450.4,590.8 Q481.8,613.3 517.0,629.2" stroke="#cf78b7" stroke-width="1.02" fill="none" stroke-opacity="0.65"/>
<path d="M514.8,628.2 L506.5,627.3 L508.6,622.7 Z" fill="#cf78b7" fill-opacity="0.70"/>
<path d="M445.3,610.0 Q483.7,613.8 522.1,610.0" stroke="#e88a85" stroke-width="1.01" fill="none" stroke-opacity="0.82"/>
<path d="M519.7,610.2 L512.1,613.5 L511.6,608.5 Z" fill="#e88a85" fill-opacity="0.87"/>
<path d="M445.3,610.0 Q482.1,604.0 517.0,590.8" stroke="#e88a85" stroke-width="0.93" fill="none" stroke-opacity="0.61"/>
<path d="M514.7,591.6 L508.2,596.7 L506.5,592.1 Z" fill="#e88a85" fill-opacity="0.66"/>
<path d="M445.3,610.0 Q475.8,596.3 502.9,576.7" stroke="#e88a85" stroke-width="1.64" fill="none" stroke-opacity="0.74"/>
<path d="M501.0,578.1 L496.3,585.2 L492.8,580.3 Z" fill="#e88a85" fill-opacity="0.79"/>
<path d="M445.3,610.0 Q466.4,592.7 483.7,571.6" stroke="#e88a85" stroke-width="1.69" fill="none" stroke-opacity="0.70"/>
<path d="M482.2,573.5 L479.6,581.5 L474.8,577.6 Z" fill="#e88a85" fill-opacity="0.75"/>
<path d="M445.3,610.0 Q456.6,594.3 464.5,576.7" stroke="#e88a85" stroke-width="1.61" fill="none" stroke-opacity="0.76"/>
<path d="M463.5,578.9 L463.0,587.4 L457.5,584.9 Z" fill="#e88a85" fill-opacity="0.81"/>
<path d="M445.3,610.0 Q448.8,600.7 450.4,590.8" stroke="#e88a85" stroke-width="1.51" fill="none" stroke-opacity="0.79"/>
<path d="M450.1,593.2 L451.7,601.4 L445.9,600.5 Z" fill="#e88a85" fill-opacity="0.84"/>
<path d="M445.3,610.0 Q446.9,619.9 450.4,629.2" stroke="#e88a85" stroke-width="1.24" fill="none" stroke-opacity="0.62"/>
<path d="M449.6,627.0 L444.3,620.6 L449.4,618.6 Z" fill="#e88a85" fill-opacity="0.67"/>
<path d="M445.3,610.0 Q453.2,627.6 464.5,643.3" stroke="#e88a85" stroke-width="0.99" fill="none" stroke-opacity="0.82"/>
<path d="M463.1,641.3 L456.5,636.4 L460.5,633.4 Z" fill="#e88a85" fill-opacity="0.87"/>
<path d="M445.3,610.0 Q462.6,631.1 483.7,648.4" stroke="#e88a85" stroke-width="1.61" fill="none" stroke-opacity="0.83"/>
<path d="M481.8,646.9 L473.8,644.2 L477.7,639.5 Z" fill="#e88a85" fill-opacity="0.88"/>
<path d="M445.3,610.0 Q472.4,629.5 502.9,643.3" stroke="#e88a85" stroke-width="1.10" fill="none" stroke-opacity="0.76"/>
<path d="M500.7,642.3 L492.5,641.4 L494.6,636.7 Z" fill="#e88a85" fill-opacity="0.81"/>
<path d="M445.3,610.0 Q480.2,623.2 517.0,629.2" stroke="#e88a85" stroke-width="1.52" fill="none" stroke-opacity="0.76"/>
<path d="M514.6,628.8 L506.3,630.5 L507.3,624.6 Z" fill="#e88a85" fill-opacity="0.81"/>
<path d="M450.4,629.2 Q487.2,623.2 522.1,610.0" stroke="#15965f" stroke-width="1.53" fill="none" stroke-opacity="0.73"/>
<path d="M519.9,610.8 L513.5,616.4 L511.4,610.9 Z" fill="#15965f" fill-opacity="0.78"/>
<path d="M450.4,629.2 Q485.6,613.3 517.0,590.8" stroke="#15965f" stroke-width="1.39" fill="none" stroke-opacity="0.77"/>
<path d="M515.0,592.2 L510.3,599.1 L507.0,594.5 Z" fill="#15965f" fill-opacity="0.82"/>
<path d="M450.4,629.2 Q479.3,605.6 502.9,576.7" stroke="#15965f" stroke-width="1.04" fill="none" stroke-opacity="0.83"/>
<path d="M501.4,578.6 L498.4,586.3 L494.4,583.1 Z" fill="#15965f" fill-opacity="0.88"/>
<path d="M450.4,629.2 Q470.0,602.1 483.7,571.6" stroke="#15965f" stroke-width="1.66" fill="none" stroke-opacity="0.62"/>
<path d="M482.7,573.8 L482.3,582.2 L476.7,579.7 Z" fill="#15965f" fill-opacity="0.67"/>
<path d="M450.4,629.2 Q460.1,603.7 464.5,576.7" stroke="#15965f" stroke-width="1.67" fill="none" stroke-opacity="0.84"/>
<path d="M464.1,579.1 L465.9,587.4 L459.8,586.4 Z" fill="#15965f" fill-opacity="0.89"/>
<path d="M450.4,629.2 Q452.4,610.0 450.4,590.8" stroke="#15965f" stroke-width="1.40" fill="none" stroke-opacity="0.61"/>
<path d="M450.7,593.2 L454.3,600.7 L448.6,601.3 Z" fill="#15965f" fill-opacity="0.66"/>
<path d="M450.4,629.2 Q448.8,619.3 445.3,610.0" stroke="#15965f" stroke-width="1.61" fill="none" stroke-opacity="0.63"/>
<path d="M446.1,612.2 L451.8,618.5 L446.1,620.7 Z" fill="#15965f" fill-opacity="0.68"/>
<path d="M450.4,629.2 Q456.8,636.9 464.5,643.3" stroke="#15965f" stroke-width="1.67" fill="none" stroke-opacity="0.77"/>
<path d="M462.6,641.7 L454.6,639.1 L458.5,634.4 Z" fill="#15965f" fill-opacity="0.82"/>
<path d="M450.4,629.2 Q466.1,640.5 483.7,648.4" stroke="#15965f" stroke-width="0.85" fill="none" stroke-opacity="0.64"/>
<path d="M481.5,647.4 L473.3,646.4 L475.3,642.0 Z" fill="#15965f" fill-opacity="0.69"/>
<path d="M450.4,629.2 Q476.0,638.9 502.9,643.3" stroke="#15965f" stroke-width="1.37" fill="none" stroke-opacity="0.74"/>
<path d="M500.5,642.9 L492.3,644.4 L493.2,638.8 Z" fill="#15965f" fill-opacity="0.79"/>
<path d="M450.4,629.2 Q483.7,632.5 517.0,629.2" stroke="#15965f" stroke-width="1.47" fill="none" stroke-opacity="0.83"/>
<path d="M514.6,629.4 L507.0,633.1 L506.4,627.3 Z" fill="#15965f" fill-opacity="0.88"/>
<path d="M464.5,643.3 Q495.0,629.5 522.1,610.0" stroke="#8fca8f" stroke-width="1.00" fill="none" stroke-opacity="0.60"/>
<path d="M520.2,611.4 L515.2,618.0 L512.3,614.0 Z" fill="#8fca8f" fill-opacity="0.65"/>
<path d="M464.5,643.3 Q493.4,619.7 517.0,590.8" stroke="#8fca8f" stroke-width="1.63" fill="none" stroke-opacity="0.60"/>
<path d="M515.4,592.7 L512.8,600.7 L508.1,596.8 Z" fill="#8fca8f" fill-opacity="0.65"/>
<path d="M464.5,643.3 Q487.0,611.9 502.9,576.7" stroke="#8fca8f" stroke-width="1.59" fill="none" stroke-opacity="0.63"/>
<path d="M501.9,578.9 L501.4,587.4 L495.9,584.9 Z" fill="#8fca8f" fill-opacity="0.68"/>
<path d="M464.5,643.3 Q477.7,608.4 483.7,571.6" stroke="#8fca8f" stroke-width="1.53" fill="none" stroke-opacity="0.80"/>
<path d="M483.3,574.0 L485.0,582.2 L479.1,581.3 Z" fill="#8fca8f" fill-opacity="0.85"/>
<path d="M464.5,643.3 Q467.8,610.0 464.5,576.7" stroke="#8fca8f" stroke-width="1.59" fill="none" stroke-opacity="0.74"/>
<path d="M464.7,579.1 L468.5,586.7 L462.5,587.3 Z" fill="#8fca8f" fill-opacity="0.79"/>
<path d="M464.5,643.3 Q460.1,616.3 450.4,590.8" stroke="#8fca8f" stroke-width="1.59" fill="none" stroke-opacity="0.65"/>
<path d="M451.3,593.0 L456.9,599.3 L451.3,601.5 Z" fill="#8fca8f" fill-opacity="0.70"/>
<path d="M464.5,643.3 Q456.6,625.7 445.3,610.0" stroke="#8fca8f" stroke-width="1.40" fill="none" stroke-opacity="0.68"/>
<path d="M446.7,611.9 L453.6,616.7 L449.0,620.0 Z" fill="#8fca8f" fill-opacity="0.73"/>
<path d="M464.5,643.3 Q458.2,635.5 450.4,629.2" stroke="#8fca8f" stroke-width="1.60" fill="none" stroke-opacity="0.79"/>
<path d="M452.3,630.7 L460.3,633.4 L456.5,638.0 Z" fill="#8fca8f" fill-opacity="0.84"/>
<path d="M464.5,643.3 Q473.8,646.8 483.7,648.4" stroke="#8fca8f" stroke-width="1.22" fill="none" stroke-opacity="0.73"/>
<path d="M481.3,648.0 L473.1,649.4 L474.0,644.1 Z" fill="#8fca8f" fill-opacity="0.78"/>
<path d="M464.5,643.3 Q483.7,645.2 502.9,643.3" stroke="#8fca8f" stroke-width="0.82" fill="none" stroke-opacity="0.61"/>
<path d="M500.5,643.5 L492.9,646.6 L492.4,641.9 Z" fill="#8fca8f" fill-opacity="0.66"/>
<path d="M464.5,643.3 Q491.4,638.9 517.0,629.2" stroke="#8fca8f" stroke-width="1.34" fill="none" stroke-opacity="0.72"/>
<path d="M514.7,630.0 L508.3,635.5 L506.4,630.2 Z" fill="#8fca8f" fill-opacity="0.77"/>
<path d="M483.7,648.4 Q504.8,631.1 522.1,610.0" stroke="#a8b866" stroke-width="1.58" fill="none" stroke-opacity="0.75"/>
<path d="M520.6,611.9 L517.9,619.9 L513.3,616.0 Z" fill="#a8b866" fill-opacity="0.80"/>
<path d="M483.7,648.4 Q503.2,621.3 517.0,590.8" stroke="#a8b866" stroke-width="0.92" fill="none" stroke-opacity="0.69"/>
<path d="M516.0,593.0 L515.0,601.2 L510.5,599.2 Z" fill="#a8b866" fill-opacity="0.74"/>
<path d="M483.7,648.4 Q496.9,613.5 502.9,576.7" stroke="#a8b866" stroke-width="1.49" fill="none" stroke-opacity="0.73"/>
<path d="M502.5,579.1 L504.1,587.4 L498.3,586.4 Z" fill="#a8b866" fill-opacity="0.78"/>
<path d="M483.7,648.4 Q487.5,610.0 483.7,571.6" stroke="#a8b866" stroke-width="0.81" fill="none" stroke-opacity="0.81"/>
<path d="M483.9,574.0 L487.1,581.6 L482.4,582.1 Z" fill="#a8b866" fill-opacity="0.86"/>
<path d="M483.7,648.4 Q477.7,611.6 464.5,576.7" stroke="#a8b866" stroke-width="1.54" fill="none" stroke-opacity="0.62"/>
<path d="M465.3,579.0 L470.9,585.3 L465.3,587.4 Z" fill="#a8b866" fill-opacity="0.67"/>
<path d="M483.7,648.4 Q470.0,617.9 450.4,590.8" stroke="#a8b866" stroke-width="1.29" fill="none" stroke-opacity="0.70"/>
<path d="M451.8,592.7 L458.7,597.5 L454.2,600.8 Z" fill="#a8b866" fill-opacity="0.75"/>
<path d="M483.7,648.4 Q466.4,627.3 445.3,610.0" stroke="#a8b866" stroke-width="1.51" fill="none" stroke-opacity="0.68"/>
<path d="M447.2,611.5 L455.1,614.2 L451.4,618.8 Z" fill="#a8b866" fill-opacity="0.73"/>
<path d="M483.7,648.4 Q468.0,637.1 450.4,629.2" stroke="#a8b866" stroke-width="1.01" fill="none" stroke-opacity="0.72"/>
<path d="M452.6,630.2 L460.9,631.1 L458.8,635.7 Z" fill="#a8b866" fill-opacity="0.77"/>
<path d="M483.7,648.4 Q474.4,644.9 464.5,643.3" stroke="#a8b866" stroke-width="1.67" fill="none" stroke-opacity="0.62"/>
<path d="M466.9,643.6 L475.1,641.9 L474.1,648.0 Z" fill="#a8b866" fill-opacity="0.67"/>
<path d="M483.7,648.4 Q493.6,646.8 502.9,643.3" stroke="#a8b866" stroke-width="0.90" fill="none" stroke-opacity="0.76"/>
<path d="M500.7,644.1 L494.2,649.2 L492.4,644.6 Z" fill="#a8b866" fill-opacity="0.81"/>
<path d="M483.7,648.4 Q501.3,640.5 517.0,629.2" stroke="#a8b866" stroke-width="1.60" fill="none" stroke-opacity="0.73"/>
<path d="M515.0,630.6 L510.4,637.7 L506.8,632.7 Z" fill="#a8b866" fill-opacity="0.78"/>
<path d="M502.9,643.3 Q514.2,627.6 522.1,610.0" stroke="#f0aacb" stroke-width="1.19" fill="none" stroke-opacity="0.81"/>
<path d="M521.1,612.2 L520.3,620.5 L515.4,618.3 Z" fill="#f0aacb" fill-opacity="0.86"/>
<path d="M502.9,643.3 Q512.6,617.7 517.0,590.8" stroke="#f0aacb" stroke-width="1.50" fill="none" stroke-opacity="0.62"/>
<path d="M516.6,593.2 L518.2,601.4 L512.4,600.5 Z" fill="#f0aacb" fill-opacity="0.67"/>
<path d="M502.9,643.3 Q506.2,610.0 502.9,576.7" stroke="#f0aacb" stroke-width="1.59" fill="none" stroke-opacity="0.65"/>
<path d="M503.1,579.1 L506.9,586.7 L500.9,587.3 Z" fill="#f0aacb" fill-opacity="0.70"/>
<path d="M502.9,643.3 Q496.9,606.5 483.7,571.6" stroke="#f0aacb" stroke-width="1.07" fill="none" stroke-opacity="0.81"/>
<path d="M484.5,573.8 L489.7,580.3 L484.9,582.1 Z" fill="#f0aacb" fill-opacity="0.86"/>
<path d="M502.9,643.3 Q487.0,608.1 464.5,576.7" stroke="#f0aacb" stroke-width="1.18" fill="none" stroke-opacity="0.80"/>
<path d="M465.9,578.7 L472.7,583.5 L468.3,586.6 Z" fill="#f0aacb" fill-opacity="0.85"/>
<path d="M502.9,643.3 Q479.3,614.4 450.4,590.8" stroke="#f0aacb" stroke-width="0.95" fill="none" stroke-opacity="0.82"/>
<path d="M452.3,592.3 L460.0,595.4 L456.8,599.2 Z" fill="#f0aacb" fill-opacity="0.87"/>
<path d="M502.9,643.3 Q475.8,623.7 445.3,610.0" stroke="#f0aacb" stroke-width="0.96" fill="none" stroke-opacity="0.64"/>
<path d="M447.5,611.0 L455.7,612.0 L453.6,616.5 Z" fill="#f0aacb" fill-opacity="0.69"/>
<path d="M502.9,643.3 Q477.4,633.6 450.4,629.2" stroke="#f0aacb" stroke-width="1.24" fill="none" stroke-opacity="0.68"/>
<path d="M452.8,629.6 L461.0,628.2 L460.1,633.5 Z" fill="#f0aacb" fill-opacity="0.73"/>
<path d="M502.9,643.3 Q483.7,641.3 464.5,643.3" stroke="#f0aacb" stroke-width="1.29" fill="none" stroke-opacity="0.83"/>
<path d="M466.9,643.0 L474.4,639.5 L475.0,645.0 Z" fill="#f0aacb" fill-opacity="0.88"/>
<path d="M502.9,643.3 Q493.0,644.9 483.7,648.4" stroke="#f0aacb" stroke-width="1.44" fill="none" stroke-opacity="0.60"/>
<path d="M485.9,647.6 L492.3,642.1 L494.3,647.5 Z" fill="#f0aacb" fill-opacity="0.65"/>
<path d="M502.9,643.3 Q510.6,636.9 517.0,629.2" stroke="#f0aacb" stroke-width="1.08" fill="none" stroke-opacity="0.74"/>
<path d="M515.4,631.1 L512.5,638.8 L508.4,635.5 Z" fill="#f0aacb" fill-opacity="0.79"/>
<path d="M517.0,629.2 Q520.5,619.9 522.1,610.0" stroke="#c19a97" stroke-width="1.24" fill="none" stroke-opacity="0.78"/>
<path d="M521.7,612.4 L523.1,620.6 L517.8,619.7 Z" fill="#c19a97" fill-opacity="0.83"/>
<path d="M517.0,629.2 Q518.9,610.0 517.0,590.8" stroke="#c19a97" stroke-width="1.24" fill="none" stroke-opacity="0.62"/>
<path d="M517.2,593.2 L520.7,600.8 L515.3,601.3 Z" fill="#c19a97" fill-opacity="0.67"/>
<path d="M517.0,629.2 Q512.6,602.3 502.9,576.7" stroke="#c19a97" stroke-width="1.02" fill="none" stroke-opacity="0.81"/>
<path d="M503.7,579.0 L508.9,585.5 L504.2,587.3 Z" fill="#c19a97" fill-opacity="0.86"/>
<path d="M517.0,629.2 Q503.2,598.7 483.7,571.6" stroke="#c19a97" stroke-width="1.12" fill="none" stroke-opacity="0.79"/>
<path d="M485.1,573.5 L491.8,578.4 L487.6,581.5 Z" fill="#c19a97" fill-opacity="0.84"/>
<path d="M517.0,629.2 Q493.4,600.3 464.5,576.7" stroke="#c19a97" stroke-width="1.69" fill="none" stroke-opacity="0.76"/>
<path d="M466.4,578.3 L474.4,580.9 L470.5,585.6 Z" fill="#c19a97" fill-opacity="0.81"/>
<path d="M517.0,629.2 Q485.6,606.7 450.4,590.8" stroke="#c19a97" stroke-width="1.41" fill="none" stroke-opacity="0.75"/>
<path d="M452.6,591.8 L461.0,592.4 L458.6,597.6 Z" fill="#c19a97" fill-opacity="0.80"/>
<path d="M517.0,629.2 Q482.1,616.0 445.3,610.0" stroke="#c19a97" stroke-width="1.08" fill="none" stroke-opacity="0.83"/>
<path d="M447.7,610.4 L455.9,609.1 L455.0,614.2 Z" fill="#c19a97" fill-opacity="0.88"/>
<path d="M517.0,629.2 Q483.7,625.9 450.4,629.2" stroke="#c19a97" stroke-width="1.22" fill="none" stroke-opacity="0.83"/>
<path d="M452.8,629.0 L460.4,625.5 L460.9,630.9 Z" fill="#c19a97" fill-opacity="0.88"/>
<path d="M517.0,629.2 Q490.0,633.6 464.5,643.3" stroke="#c19a97" stroke-width="1.08" fill="none" stroke-opacity="0.82"/>
<path d="M466.7,642.4 L473.2,637.2 L475.0,642.0 Z" fill="#c19a97" fill-opacity="0.87"/>
<path d="M517.0,629.2 Q499.4,637.1 483.7,648.4" stroke="#c19a97" stroke-width="1.51" fill="none" stroke-opacity="0.75"/>
<path d="M485.6,647.0 L490.3,640.0 L493.8,644.8 Z" fill="#c19a97" fill-opacity="0.80"/>
<path d="M517.0,629.2 Q509.2,635.5 502.9,643.3" stroke="#c19a97" stroke-width="1.20" fill="none" stroke-opacity="0.64"/>
<path d="M504.4,641.4 L507.3,633.6 L511.5,637.0 Z" fill="#c19a97" fill-opacity="0.69"/>
<path d="M522.1,610.0 C537.5,617.0 537.5,603.0 522.1,610.0" stroke="#6a58a6" stroke-width="1.70" fill="none" stroke-opacity="0.80"/>
<path d="M524.6,611.5 L531.1,611.0 L531.1,617.0 Z" fill="#6a58a6" fill-opacity="0.75"/>
<path d="M517.0,590.8 C533.8,589.2 526.8,577.0 517.0,590.8" stroke="#f3ad72" stroke-width="1.70" fill="none" stroke-opacity="0.80"/>
<path d="M519.9,590.8 L525.2,587.2 L528.2,592.4 Z" fill="#f3ad72" fill-opacity="0.75"/>
<path d="M502.9,576.7 C516.7,566.9 504.5,559.9 502.9,576.7" stroke="#2b7bba" stroke-width="1.70" fill="none" stroke-opacity="0.80"/>
<path d="M505.4,575.3 L508.3,569.5 L513.5,572.5 Z" fill="#2b7bba" fill-opacity="0.75"/>
<path d="M483.7,571.6 C490.7,556.2 476.7,556.2 483.7,571.6" stroke="#f0873a" stroke-width="1.70" fill="none" stroke-opacity="0.80"/>
<path d="M485.2,569.1 L484.7,562.6 L490.7,562.6 Z" fill="#f0873a" fill-opacity="0.75"/>
<path d="M464.5,576.7 C462.9,559.9 450.7,566.9 464.5,576.7" stroke="#d93a3f" stroke-width="1.70" fill="none" stroke-opacity="0.80"/>
<path d="M464.5,573.8 L460.9,568.5 L466.1,565.5 Z" fill="#d93a3f" fill-opacity="0.75"/>
<path d="M450.4,590.8 C440.6,577.0 433.6,589.2 450.4,590.8" stroke="#cf78b7" stroke-width="1.70" fill="none" stroke-opacity="0.80"/>
<path d="M449.0,588.3 L443.2,585.4 L446.2,580.2 Z" fill="#cf78b7" fill-opacity="0.75"/>
<path d="M445.3,610.0 C429.9,603.0 429.9,617.0 445.3,610.0" stroke="#e88a85" stroke-width="1.70" fill="none" stroke-opacity="0.80"/>
<path d="M442.8,608.5 L436.3,609.0 L436.3,603.0 Z" fill="#e88a85" fill-opacity="0.75"/>
<path d="M450.4,629.2 C433.6,630.8 440.6,643.0 450.4,629.2" stroke="#15965f" stroke-width="1.70" fill="none" stroke-opacity="0.80"/>
<path d="M447.5,629.2 L442.2,632.8 L439.2,627.6 Z" fill="#15965f" fill-opacity="0.75"/>
<path d="M464.5,643.3 C450.7,653.1 462.9,660.1 464.5,643.3" stroke="#8fca8f" stroke-width="1.70" fill="none" stroke-opacity="0.80"/>
<path d="M462.0,644.7 L459.1,650.5 L453.9,647.5 Z" fill="#8fca8f" fill-opacity="0.75"/>
<path d="M483.7,648.4 C476.7,663.8 490.7,663.8 483.7,648.4" stroke="#a8b866" stroke-width="1.70" fill="none" stroke-opacity="0.80"/>
<path d="M482.2,650.9 L482.7,657.4 L476.7,657.4 Z" fill="#a8b866" fill-opacity="0.75"/>
<path d="M502.9,643.3 C504.5,660.1 516.7,653.1 502.9,643.3" stroke="#f0aacb" stroke-width="1.70" fill="none" stroke-opacity="0.80"/>
<path d="M502.9,646.2 L506.5,651.5 L501.3,654.5 Z" fill="#f0aacb" fill-opacity="0.75"/>
<path d="M517.0,629.2 C526.8,643.0 533.8,630.8 517.0,629.2" stroke="#c19a97" stroke-width="1.70" fill="none" stroke-opacity="0.80"/>
<path d="M518.4,631.7 L524.2,634.6 L521.2,639.8 Z" fill="#c19a97" fill-opacity="0.75"/>
<circle cx="522.1" cy="610.0" r="2.3" fill="#6a58a6"/>
<text x="531.7" y="619.1" class="nl" text-anchor="start" style="fill:#6a58a6">Ap</text>
<circle cx="517.0" cy="590.8" r="2.3" fill="#f3ad72"/>
<text x="525.6" y="593.9" class="nl" text-anchor="start" style="fill:#f3ad72">Ad</text>
<circle cx="502.9" cy="576.7" r="2.3" fill="#2b7bba"/>
<text x="516.6" y="574.1" class="nl" text-anchor="start" style="fill:#2b7bba">Wm</text>
<circle cx="483.7" cy="571.6" r="2.3" fill="#f0873a"/>
<text x="470.8" y="565.5" class="nl" text-anchor="middle" style="fill:#f0873a">Ci</text>
<circle cx="464.5" cy="576.7" r="2.3" fill="#d93a3f"/>
<text x="453.9" y="575.1" class="nl" text-anchor="end" style="fill:#d93a3f">C 1</text>
<circle cx="450.4" cy="590.8" r="2.3" fill="#cf78b7"/>
<text x="436.7" y="595.7" class="nl" text-anchor="end" style="fill:#cf78b7">C 2</text>
<circle cx="445.3" cy="610.0" r="2.3" fill="#e88a85"/>
<text x="433.7" y="614.1" class="nl" text-anchor="end" style="fill:#e88a85">C 3</text>
<circle cx="450.4" cy="629.2" r="2.3" fill="#15965f"/>
<text x="437.7" y="641.9" class="nl" text-anchor="end" style="fill:#15965f">Ep 1</text>
<circle cx="464.5" cy="643.3" r="2.3" fill="#8fca8f"/>
<text x="456.9" y="660.1" class="nl" text-anchor="end" style="fill:#8fca8f">Ep 2</text>
<circle cx="483.7" cy="648.4" r="2.3" fill="#a8b866"/>
<text x="497.0" y="665.2" class="nl" text-anchor="start" style="fill:#a8b866">Ep 3</text>
<circle cx="502.9" cy="643.3" r="2.3" fill="#f0aacb"/>
<text x="520.7" y="656.0" class="nl" text-anchor="start" style="fill:#f0aacb">Im</text>
<circle cx="517.0" cy="629.2" r="2.3" fill="#c19a97"/>
<text x="524.6" y="639.3" class="nl" text-anchor="start" style="fill:#c19a97">Mp</text>
<text x="485.7" y="554.3" class="b91" text-anchor="middle">Stage 4: 514</text>
<path d="M670.5,608.5 Q641.3,583.8 603.5,577.9" stroke="#6a58a6" stroke-width="0.88" fill="none" stroke-opacity="0.82"/>
<path d="M646.8,571.7 Q615.4,576.6 591.1,597.1" stroke="#2b7bba" stroke-width="0.55" fill="none" stroke-opacity="0.66"/>
<path d="M670.5,608.5 Q653.0,582.0 624.2,568.4" stroke="#6a58a6" stroke-width="0.48" fill="none" stroke-opacity="0.59"/>
<path d="M664.1,586.6 Q646.7,571.9 624.2,568.4" stroke="#f3ad72" stroke-width="0.43" fill="none" stroke-opacity="0.64"/>
<path d="M670.5,608.5 Q641.8,622.1 624.2,648.6" stroke="#6a58a6" stroke-width="0.70" fill="none" stroke-opacity="0.55"/>
<path d="M670.5,608.5 Q663.8,586.8 646.8,571.7" stroke="#6a58a6" stroke-width="0.74" fill="none" stroke-opacity="0.65"/>
<path d="M591.1,597.1 Q587.9,608.5 591.1,619.9" stroke="#cf78b7" stroke-width="0.55" fill="none" stroke-opacity="0.80"/>
<path d="M664.1,586.6 Q635.5,612.0 624.2,648.6" stroke="#f3ad72" stroke-width="0.64" fill="none" stroke-opacity="0.64"/>
<path d="M624.2,568.4 Q600.5,589.5 591.1,619.9" stroke="#f0873a" stroke-width="0.64" fill="none" stroke-opacity="0.76"/>
<path d="M591.1,619.9 Q594.3,608.5 591.1,597.1" stroke="#e88a85" stroke-width="0.43" fill="none" stroke-opacity="0.84"/>
<path d="M591.1,597.1 Q629.1,602.1 664.1,586.6" stroke="#cf78b7" stroke-width="0.41" fill="none" stroke-opacity="0.77"/>
<path d="M646.8,571.7 Q636.5,608.5 646.8,645.3" stroke="#2b7bba" stroke-width="0.82" fill="none" stroke-opacity="0.56"/>
<path d="M591.1,619.9 Q632.4,625.3 670.5,608.5" stroke="#e88a85" stroke-width="0.79" fill="none" stroke-opacity="0.66"/>
<path d="M624.2,568.4 Q603.7,578.1 591.1,597.1" stroke="#f0873a" stroke-width="0.69" fill="none" stroke-opacity="0.55"/>
<path d="M670.5,608.5 Q629.2,603.1 591.1,619.9" stroke="#6a58a6" stroke-width="0.42" fill="none" stroke-opacity="0.60"/>
<path d="M646.8,571.7 Q624.8,607.0 624.2,648.6" stroke="#2b7bba" stroke-width="0.88" fill="none" stroke-opacity="0.61"/>
<path d="M664.1,586.6 Q635.0,573.8 603.5,577.9" stroke="#f3ad72" stroke-width="0.78" fill="none" stroke-opacity="0.83"/>
<path d="M591.1,619.9 Q614.9,598.8 624.2,568.4" stroke="#e88a85" stroke-width="0.87" fill="none" stroke-opacity="0.65"/>
<path d="M646.8,571.7 Q653.4,581.5 664.1,586.6" stroke="#2b7bba" stroke-width="0.58" fill="none" stroke-opacity="0.71"/>
<path d="M591.1,597.1 Q600.5,627.5 624.2,648.6" stroke="#cf78b7" stroke-width="0.79" fill="none" stroke-opacity="0.58"/>
<path d="M591.1,619.9 Q625.7,603.6 646.8,571.7" stroke="#e88a85" stroke-width="0.77" fill="none" stroke-opacity="0.79"/>
<path d="M591.1,619.9 Q632.3,613.5 664.1,586.6" stroke="#e88a85" stroke-width="0.83" fill="none" stroke-opacity="0.56"/>
<path d="M603.5,577.9 Q632.7,602.6 670.5,608.5" stroke="#d93a3f" stroke-width="0.87" fill="none" stroke-opacity="0.58"/>
<path d="M603.5,577.9 Q615.2,576.1 624.2,568.4" stroke="#d93a3f" stroke-width="0.57" fill="none" stroke-opacity="0.73"/>
<path d="M591.1,597.1 Q629.2,613.9 670.5,608.5" stroke="#cf78b7" stroke-width="1.10" fill="none" stroke-opacity="0.85"/>
<path d="M603.5,577.9 Q632.7,602.6 670.5,608.5" stroke="#d93a3f" stroke-width="0.90" fill="none" stroke-opacity="0.85"/>
<path d="M591.1,597.1 Q600.0,589.2 603.5,577.9" stroke="#cf78b7" stroke-width="1.30" fill="none" stroke-opacity="0.85"/>
<path d="M603.5,577.9 C598.5,561.1 587.6,570.6 603.5,577.9" stroke="#d93a3f" stroke-width="1.30" fill="none" stroke-opacity="0.80"/>
<path d="M591.1,597.1 C577.9,585.6 573.8,599.6 591.1,597.1" stroke="#cf78b7" stroke-width="1.30" fill="none" stroke-opacity="0.80"/>
<path d="M591.1,619.9 C573.8,617.4 577.9,631.4 591.1,619.9" stroke="#e88a85" stroke-width="1.30" fill="none" stroke-opacity="0.80"/>
<path d="M670.5,608.5 C686.5,615.8 686.5,601.2 670.5,608.5" stroke="#6a58a6" stroke-width="1.30" fill="none" stroke-opacity="0.80"/>
<circle cx="670.5" cy="608.5" r="2.3" fill="#6a58a6"/>
<text x="670.5" y="620.8" class="nl" text-anchor="start" style="fill:#6a58a6">Ap</text>
<circle cx="664.1" cy="586.6" r="2.3" fill="#f3ad72"/>
<text x="666.6" y="586.2" class="nl" text-anchor="start" style="fill:#f3ad72">Ad</text>
<circle cx="646.8" cy="571.7" r="2.3" fill="#2b7bba"/>
<text x="649.9" y="569.5" class="nl" text-anchor="start" style="fill:#2b7bba">Wm</text>
<circle cx="624.2" cy="568.4" r="2.3" fill="#f0873a"/>
<text x="615.4" y="567.4" class="nl" text-anchor="middle" style="fill:#f0873a">Ci</text>
<circle cx="603.5" cy="577.9" r="2.3" fill="#d93a3f"/>
<text x="590.2" y="581.0" class="nl" text-anchor="end" style="fill:#d93a3f">C 1</text>
<circle cx="591.1" cy="597.1" r="2.3" fill="#cf78b7"/>
<text x="574.3" y="602.2" class="nl" text-anchor="end" style="fill:#cf78b7">C 2</text>
<circle cx="591.1" cy="619.9" r="2.3" fill="#e88a85"/>
<text x="577.4" y="627.5" class="nl" text-anchor="end" style="fill:#e88a85">C 3</text>
<circle cx="603.5" cy="639.1" r="2.3" fill="#15965f"/>
<text x="602.5" y="648.9" class="nl" text-anchor="end" style="fill:#15965f">Ep 1</text>
<circle cx="624.2" cy="648.6" r="2.3" fill="#8fca8f"/>
<text x="624.2" y="658.2" class="nl" text-anchor="middle" style="fill:#8fca8f">Ep 2</text>
<circle cx="646.8" cy="645.3" r="2.3" fill="#f0aacb"/>
<text x="645.8" y="656.0" class="nl" text-anchor="start" style="fill:#f0aacb">Im</text>
<circle cx="664.1" cy="630.4" r="2.3" fill="#c19a97"/>
<text x="664.5" y="641.1" class="nl" text-anchor="start" style="fill:#c19a97">Mp</text>
<text x="626.2" y="554.3" class="b91" text-anchor="middle">Stage 5: 51</text>
<text x="1" y="554.3" class="lab">l</text>
<text x="1.2" y="680" class="lab">m</text>
<text x="41" y="685.8" class="b105">Stage 1</text>
<rect x="84.6" y="680.1" width="136.4" height="48.0" fill="none" stroke="#333" stroke-width="0.9"/>
<text x="79.5" y="698.3" class="t95" text-anchor="end">JAG1 − NOTCH3</text><path d="M82.6,695.2 L84.6,695.2" stroke="#333" stroke-width="0.6"/>
<text x="79.5" y="716.8" class="t95" text-anchor="end">DLK1 − NOTCH3</text><path d="M82.6,713.7 L84.6,713.7" stroke="#333" stroke-width="0.6"/>
<circle cx="97.4" cy="695.2" r="1.5" fill="#2d84c0" stroke="#444" stroke-width="0.5"/>
<circle cx="119.9" cy="695.2" r="1.5" fill="#53479f" stroke="#444" stroke-width="0.5"/>
<circle cx="142.0" cy="695.2" r="1.5" fill="#2d84c0" stroke="#444" stroke-width="0.5"/>
<circle cx="164.2" cy="695.2" r="3" fill="#f08a4a" stroke="#444" stroke-width="0.5"/>
<circle cx="186.4" cy="695.2" r="4.6" fill="#e2e48c" stroke="#444" stroke-width="0.5"/>
<circle cx="208.2" cy="695.2" r="4.6" fill="#f3a652" stroke="#444" stroke-width="0.5"/>
<circle cx="97.4" cy="713.7" r="4.8" fill="#c8283f" stroke="#444" stroke-width="0.5"/>
<circle cx="119.9" cy="713.7" r="4.5" fill="#f49a56" stroke="#444" stroke-width="0.5"/>
<circle cx="142.0" cy="713.7" r="4.6" fill="#e0533a" stroke="#444" stroke-width="0.5"/>
<circle cx="164.2" cy="713.7" r="3.5" fill="#9b1b4a" stroke="#444" stroke-width="0.5"/>
<circle cx="186.4" cy="713.7" r="1.8" fill="#f07a35" stroke="#444" stroke-width="0.5"/>
<circle cx="208.2" cy="713.7" r="1.8" fill="#d83c4a" stroke="#444" stroke-width="0.5"/>
<path d="M97.4,728.1 L97.4,730.1" stroke="#333" stroke-width="0.6"/>
<text transform="translate(100.0,733.4) rotate(-45)" text-anchor="end" class="b75">Ma−>Wm</text>
<path d="M119.9,728.1 L119.9,730.1" stroke="#333" stroke-width="0.6"/>
<text transform="translate(122.5,733.4) rotate(-45)" text-anchor="end" class="b75">Ma−>C 1</text>
<path d="M142.0,728.1 L142.0,730.1" stroke="#333" stroke-width="0.6"/>
<text transform="translate(144.6,733.4) rotate(-45)" text-anchor="end" class="b75">Ma−>Ep 1</text>
<path d="M164.2,728.1 L164.2,730.1" stroke="#333" stroke-width="0.6"/>
<text transform="translate(166.8,733.4) rotate(-45)" text-anchor="end" class="b75">Wm−>Wm</text>
<path d="M186.4,728.1 L186.4,730.1" stroke="#333" stroke-width="0.6"/>
<text transform="translate(189.0,733.4) rotate(-45)" text-anchor="end" class="b75">Wm−>C 1</text>
<path d="M208.2,728.1 L208.2,730.1" stroke="#333" stroke-width="0.6"/>
<text transform="translate(210.8,733.4) rotate(-45)" text-anchor="end" class="b75">Wm−>Ep 1</text>
<text x="1.5" y="771" class="lab">n</text>
<text x="34.9" y="777" class="b105">Stage 2</text>
<rect x="76.2" y="773.1" width="292.0" height="37.3" fill="none" stroke="#333" stroke-width="0.9"/>
<text x="71.5" y="796.7" class="t95" text-anchor="end">PRSS1 − PARD3</text><path d="M74.2,793.6 L76.2,793.6" stroke="#333" stroke-width="0.6"/>
<circle cx="86.8" cy="793.6" r="3.9" fill="#f0a060" stroke="#444" stroke-width="0.5"/>
<circle cx="111.6" cy="793.6" r="1.3" fill="#fff" stroke="#555" stroke-width="0.5"/>
<circle cx="136.4" cy="793.6" r="1.3" fill="#fff" stroke="#555" stroke-width="0.5"/>
<circle cx="161.1" cy="793.6" r="1.3" fill="#fff" stroke="#555" stroke-width="0.5"/>
<circle cx="185.9" cy="793.6" r="3.9" fill="#e05a40" stroke="#444" stroke-width="0.5"/>
<circle cx="210.7" cy="793.6" r="1.3" fill="#fff" stroke="#555" stroke-width="0.5"/>
<circle cx="235.5" cy="793.6" r="1.3" fill="#fff" stroke="#555" stroke-width="0.5"/>
<circle cx="260.3" cy="793.6" r="1.3" fill="#fff" stroke="#555" stroke-width="0.5"/>
<circle cx="285.0" cy="793.6" r="4" fill="#9b1b4a" stroke="#444" stroke-width="0.5"/>
<circle cx="309.8" cy="793.6" r="4" fill="#2d84c0" stroke="#444" stroke-width="0.5"/>
<circle cx="334.6" cy="793.6" r="4" fill="#5550a8" stroke="#444" stroke-width="0.5"/>
<circle cx="359.4" cy="793.6" r="4" fill="#2d84c0" stroke="#444" stroke-width="0.5"/>
<path d="M86.8,810.4 L86.8,812.4" stroke="#333" stroke-width="0.6"/>
<text transform="translate(89.4,815.6999999999999) rotate(-45)" text-anchor="end" class="b75">Ma−>Ma</text>
<path d="M111.6,810.4 L111.6,812.4" stroke="#333" stroke-width="0.6"/>
<text transform="translate(114.2,815.6999999999999) rotate(-45)" text-anchor="end" class="b75">Ma−>Wm</text>
<path d="M136.4,810.4 L136.4,812.4" stroke="#333" stroke-width="0.6"/>
<text transform="translate(139.0,815.6999999999999) rotate(-45)" text-anchor="end" class="b75">Ma−>C 1</text>
<path d="M161.1,810.4 L161.1,812.4" stroke="#333" stroke-width="0.6"/>
<text transform="translate(163.7,815.6999999999999) rotate(-45)" text-anchor="end" class="b75">Ma−>Ep 1</text>
<path d="M185.9,810.4 L185.9,812.4" stroke="#333" stroke-width="0.6"/>
<text transform="translate(188.5,815.6999999999999) rotate(-45)" text-anchor="end" class="b75">Wm−>Ma</text>
<path d="M210.7,810.4 L210.7,812.4" stroke="#333" stroke-width="0.6"/>
<text transform="translate(213.3,815.6999999999999) rotate(-45)" text-anchor="end" class="b75">Wm−>Wm</text>
<path d="M235.5,810.4 L235.5,812.4" stroke="#333" stroke-width="0.6"/>
<text transform="translate(238.1,815.6999999999999) rotate(-45)" text-anchor="end" class="b75">Wm−>C 1</text>
<path d="M260.3,810.4 L260.3,812.4" stroke="#333" stroke-width="0.6"/>
<text transform="translate(262.9,815.6999999999999) rotate(-45)" text-anchor="end" class="b75">Wm−>Ep 1</text>
<path d="M285.0,810.4 L285.0,812.4" stroke="#333" stroke-width="0.6"/>
<text transform="translate(287.6,815.6999999999999) rotate(-45)" text-anchor="end" class="b75">Im−>Ma</text>
<path d="M309.8,810.4 L309.8,812.4" stroke="#333" stroke-width="0.6"/>
<text transform="translate(312.4,815.6999999999999) rotate(-45)" text-anchor="end" class="b75">Im−>Wm</text>
<path d="M334.6,810.4 L334.6,812.4" stroke="#333" stroke-width="0.6"/>
<text transform="translate(337.2,815.6999999999999) rotate(-45)" text-anchor="end" class="b75">Im−>Cu 1</text>
<path d="M359.4,810.4 L359.4,812.4" stroke="#333" stroke-width="0.6"/>
<text transform="translate(362.0,815.6999999999999) rotate(-45)" text-anchor="end" class="b75">Im−>Ep 1</text>
<text x="229.5" y="680.5" class="lab">o</text>
<text x="252.6" y="686.3" class="b105">Stage 3</text>
<rect x="294" y="684.5" width="139.7" height="37.9" fill="none" stroke="#333" stroke-width="0.9"/>
<text x="292" y="707.6" class="t95" text-anchor="end">FGF1 − FGFR2</text><path d="M292,704.5 L294,704.5" stroke="#333" stroke-width="0.6"/>
<circle cx="302.8" cy="704.5" r="2.8" fill="#2d84c0" stroke="#444" stroke-width="0.5"/>
<circle cx="318.4" cy="704.5" r="1.6" fill="#53479f" stroke="#444" stroke-width="0.5"/>
<circle cx="334.0" cy="704.5" r="4" fill="#ec6a40" stroke="#444" stroke-width="0.5"/>
<circle cx="349.5" cy="704.5" r="1.8" fill="#a0d8a0" stroke="#444" stroke-width="0.5"/>
<circle cx="365.1" cy="704.5" r="1.6" fill="#3aa59a" stroke="#444" stroke-width="0.5"/>
<circle cx="380.7" cy="704.5" r="4" fill="#9b1b4a" stroke="#444" stroke-width="0.5"/>
<circle cx="396.3" cy="704.5" r="4" fill="#5ab88a" stroke="#444" stroke-width="0.5"/>
<circle cx="411.9" cy="704.5" r="1.6" fill="#2d84c0" stroke="#444" stroke-width="0.5"/>
<circle cx="427.4" cy="704.5" r="4" fill="#c3264a" stroke="#444" stroke-width="0.5"/>
<path d="M302.8,722.4 L302.8,724.4" stroke="#333" stroke-width="0.6"/>
<text transform="translate(305.4,727.6999999999999) rotate(-45)" text-anchor="end" class="b75">Ma−>C 1</text>
<path d="M318.4,722.4 L318.4,724.4" stroke="#333" stroke-width="0.6"/>
<text transform="translate(321.0,727.6999999999999) rotate(-45)" text-anchor="end" class="b75">Ma−>C 2</text>
<path d="M334.0,722.4 L334.0,724.4" stroke="#333" stroke-width="0.6"/>
<text transform="translate(336.6,727.6999999999999) rotate(-45)" text-anchor="end" class="b75">Ma−>Ep 1</text>
<path d="M349.5,722.4 L349.5,724.4" stroke="#333" stroke-width="0.6"/>
<text transform="translate(352.1,727.6999999999999) rotate(-45)" text-anchor="end" class="b75">Wm−>C 1</text>
<path d="M365.1,722.4 L365.1,724.4" stroke="#333" stroke-width="0.6"/>
<text transform="translate(367.7,727.6999999999999) rotate(-45)" text-anchor="end" class="b75">Wm−>C 2</text>
<path d="M380.7,722.4 L380.7,724.4" stroke="#333" stroke-width="0.6"/>
<text transform="translate(383.3,727.6999999999999) rotate(-45)" text-anchor="end" class="b75">Wm−>Ep 1</text>
<path d="M396.3,722.4 L396.3,724.4" stroke="#333" stroke-width="0.6"/>
<text transform="translate(398.9,727.6999999999999) rotate(-45)" text-anchor="end" class="b75">Im−>C 1</text>
<path d="M411.9,722.4 L411.9,724.4" stroke="#333" stroke-width="0.6"/>
<text transform="translate(414.5,727.6999999999999) rotate(-45)" text-anchor="end" class="b75">Im−>C 2</text>
<path d="M427.4,722.4 L427.4,724.4" stroke="#333" stroke-width="0.6"/>
<text transform="translate(430.0,727.6999999999999) rotate(-45)" text-anchor="end" class="b75">Im−>Ep 1</text>
<text x="449.5" y="681" class="lab">p</text>
<text x="525.8" y="685.4" class="b105">Stage 4</text>
<rect x="568.8" y="681.1" width="113.7" height="83.2" fill="none" stroke="#333" stroke-width="0.9"/>
<text x="563" y="697.4" class="t95" text-anchor="end">WNT6 − (FZD2+LRP5)</text><path d="M566.8,694.3 L568.8,694.3" stroke="#333" stroke-width="0.6"/>
<circle cx="612.4" cy="694.3" r="3.7" fill="#53479f" stroke="#444" stroke-width="0.5"/>
<circle cx="665.3" cy="694.3" r="3.7" fill="#2d84c0" stroke="#444" stroke-width="0.5"/>
<text x="563" y="712.2" class="t95" text-anchor="end">WNT2B − (FZD2+LRP5)</text><path d="M566.8,709.1 L568.8,709.1" stroke="#333" stroke-width="0.6"/>
<circle cx="612.4" cy="709.1" r="3.7" fill="#3aa5a5" stroke="#444" stroke-width="0.5"/>
<circle cx="665.3" cy="709.1" r="3.7" fill="#6cc49a" stroke="#444" stroke-width="0.5"/>
<text x="563" y="727.1" class="t95" text-anchor="end">WNT2 − (FZD2+LRP5)</text><path d="M566.8,724 L568.8,724" stroke="#333" stroke-width="0.6"/>
<circle cx="585.6" cy="724.0" r="3.7" fill="#ec6a40" stroke="#444" stroke-width="0.5"/>
<circle cx="612.4" cy="724.0" r="3.7" fill="#ec6a40" stroke="#444" stroke-width="0.5"/>
<circle cx="639.2" cy="724.0" r="3.7" fill="#9b1b4a" stroke="#444" stroke-width="0.5"/>
<circle cx="665.3" cy="724.0" r="3.7" fill="#9b1b4a" stroke="#444" stroke-width="0.5"/>
<text x="563" y="741.9" class="t95" text-anchor="end">WNT10B − (FZD2+LRP5)</text><path d="M566.8,738.8 L568.8,738.8" stroke="#333" stroke-width="0.6"/>
<circle cx="585.6" cy="738.8" r="3.7" fill="#53479f" stroke="#444" stroke-width="0.5"/>
<circle cx="612.4" cy="738.8" r="3.7" fill="#53479f" stroke="#444" stroke-width="0.5"/>
<text x="563" y="756.5" class="t95" text-anchor="end">SEMA4G − PLXNB2</text><path d="M566.8,753.4 L568.8,753.4" stroke="#333" stroke-width="0.6"/>
<circle cx="585.6" cy="753.4" r="3.7" fill="#a9d8a0" stroke="#444" stroke-width="0.5"/>
<circle cx="612.4" cy="753.4" r="3.7" fill="#a9d8a0" stroke="#444" stroke-width="0.5"/>
<circle cx="639.2" cy="753.4" r="3.7" fill="#e8e28e" stroke="#444" stroke-width="0.5"/>
<circle cx="665.3" cy="753.4" r="3.7" fill="#e8e28e" stroke="#444" stroke-width="0.5"/>
<path d="M585.6,764.3 L585.6,766.3" stroke="#333" stroke-width="0.6"/>
<text transform="translate(588.2,769.5999999999999) rotate(-45)" text-anchor="end" class="b75">Ep 1−>Wm</text>
<path d="M612.4,764.3 L612.4,766.3" stroke="#333" stroke-width="0.6"/>
<text transform="translate(615.0,769.5999999999999) rotate(-45)" text-anchor="end" class="b75">Ep 1−>Ep 1</text>
<path d="M639.2,764.3 L639.2,766.3" stroke="#333" stroke-width="0.6"/>
<text transform="translate(641.8,769.5999999999999) rotate(-45)" text-anchor="end" class="b75">Ep 2−>Wm</text>
<path d="M665.3,764.3 L665.3,766.3" stroke="#333" stroke-width="0.6"/>
<text transform="translate(667.9,769.5999999999999) rotate(-45)" text-anchor="end" class="b75">Ep 2−>Ep 1</text>
<text x="374.3" y="770.5" class="lab">q</text>
<text x="414.9" y="776.9" class="b105">Stage 5</text>
<rect x="459.9" y="772.5" width="89.9" height="38.0" fill="none" stroke="#333" stroke-width="0.9"/>
<text x="455.8" y="789.5" class="t88" text-anchor="end">GDF5 −</text>
<text x="458.3" y="801.7" class="t88" text-anchor="end">(BMPR1B+ACVR2B)</text>
<path d="M457.9,792.4 L459.9,792.4" stroke="#333" stroke-width="0.6"/>
<circle cx="468.6" cy="792.4" r="3.9" fill="#53479f" stroke="#444" stroke-width="0.5"/>
<circle cx="491.8" cy="792.4" r="1.3" fill="#fff" stroke="#555" stroke-width="0.5"/>
<circle cx="515.0" cy="792.4" r="3.9" fill="#e8e28e" stroke="#444" stroke-width="0.5"/>
<circle cx="538.2" cy="792.4" r="3.9" fill="#9b1b4a" stroke="#444" stroke-width="0.5"/>
<path d="M468.6,810.5 L468.6,812.5" stroke="#333" stroke-width="0.6"/>
<text transform="translate(471.2,815.8) rotate(-45)" text-anchor="end" class="b75">Ad−>C 2</text>
<path d="M491.8,810.5 L491.8,812.5" stroke="#333" stroke-width="0.6"/>
<text transform="translate(494.4,815.8) rotate(-45)" text-anchor="end" class="b75">Ad−>C 3</text>
<path d="M515.0,810.5 L515.0,812.5" stroke="#333" stroke-width="0.6"/>
<text transform="translate(517.6,815.8) rotate(-45)" text-anchor="end" class="b75">C 3−>C 2</text>
<path d="M538.2,810.5 L538.2,812.5" stroke="#333" stroke-width="0.6"/>
<text transform="translate(540.8,815.8) rotate(-45)" text-anchor="end" class="b75">C 3−>C 3</text>
<text x="601" y="810.8" class="t8">Commun. Prob.</text>
<defs><linearGradient id="spec" x1="0" x2="1"><stop offset="0.00" stop-color="#9e0142"/><stop offset="0.10" stop-color="#d53e4f"/><stop offset="0.20" stop-color="#f46d43"/><stop offset="0.30" stop-color="#fdae61"/><stop offset="0.40" stop-color="#fee08b"/><stop offset="0.50" stop-color="#ffffbf"/><stop offset="0.60" stop-color="#e6f598"/><stop offset="0.70" stop-color="#abdda4"/><stop offset="0.80" stop-color="#66c2a5"/><stop offset="0.90" stop-color="#3288bd"/><stop offset="1.00" stop-color="#5e4fa2"/></linearGradient></defs>
<rect x="587.7" y="814.4" width="79.4" height="7.1" fill="url(#spec)"/>
<text x="586.5" y="820.6" class="t8" text-anchor="end">max</text>
<text x="668.2" y="820.6" class="t8">min</text>
<text x="602.7" y="831.2" class="t8"><tspan font-style="italic">p</tspan>−value</text>
<circle cx="535.9" cy="838" r="1.5" fill="#111"/><text x="540.5" y="840.9" class="t8"><tspan font-style="italic">p</tspan> &gt; 0.05</text>
<circle cx="580.2" cy="838" r="2.6" fill="#111"/><text x="585" y="840.9" class="t8">0.01 &lt; <tspan font-style="italic">p</tspan> &lt; 0.05</text>
<circle cx="649.2" cy="838" r="3.7" fill="#111"/><text x="654.5" y="840.9" class="t8"><tspan font-style="italic">p</tspan> &lt; 0.01</text>
<text x="1.5" y="11.8" class="lab">a</text>
<text x="198.8" y="10.4" class="lab">b</text>
<text x="198.5" y="80.1" class="lab">c</text>
<text x="407" y="81.2" class="lab">d</text>
<text x="1.5" y="238.7" class="lab">e</text>
<text x="1" y="366.9" class="lab">f</text>
</svg></body></html>
